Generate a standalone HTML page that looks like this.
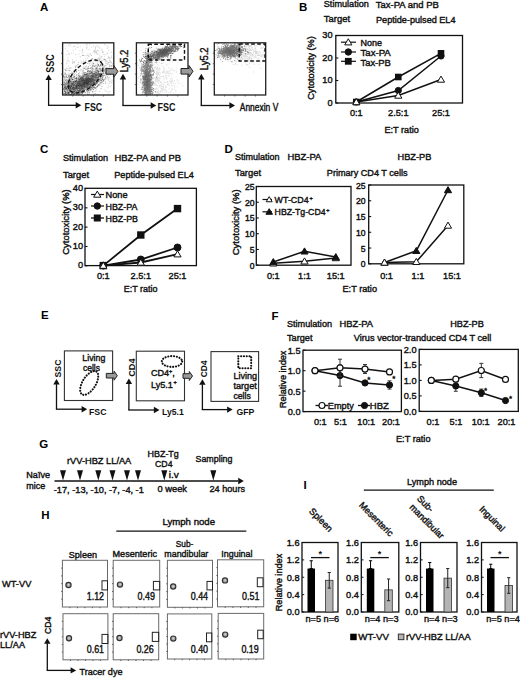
<!DOCTYPE html>
<html><head><meta charset="utf-8"><style>
html,body{margin:0;padding:0;background:#fff;}
svg{display:block;font-family:"Liberation Sans", sans-serif;}
</style></head><body>
<svg width="520" height="678" viewBox="0 0 520 678">
<defs>
<filter id="blur" x="-50%" y="-50%" width="200%" height="200%"><feGaussianBlur stdDeviation="2"/></filter>
<clipPath id="cb1"><rect x="62.6" y="42.8" width="51.199999999999996" height="52.2"/></clipPath>
<clipPath id="cb2"><rect x="136.4" y="42.8" width="51.599999999999994" height="52.2"/></clipPath>
<clipPath id="cb3"><rect x="214.3" y="42.8" width="51.39999999999998" height="52.2"/></clipPath>
</defs>
<rect width="520" height="678" fill="#fff"/>
<text x="40.00" y="10.50" font-size="11.5" text-anchor="start" font-weight="bold" fill="#000">A</text>
<text x="299.00" y="10.50" font-size="11.5" text-anchor="start" font-weight="bold" fill="#000">B</text>
<text x="40.00" y="153.20" font-size="11.5" text-anchor="start" font-weight="bold" fill="#000">C</text>
<text x="224.50" y="153.20" font-size="11.5" text-anchor="start" font-weight="bold" fill="#000">D</text>
<text x="41.00" y="318.80" font-size="11.5" text-anchor="start" font-weight="bold" fill="#000">E</text>
<text x="271.50" y="319.50" font-size="11.5" text-anchor="start" font-weight="bold" fill="#000">F</text>
<text x="39.30" y="448.30" font-size="11.5" text-anchor="start" font-weight="bold" fill="#000">G</text>
<text x="41.20" y="518.80" font-size="11.5" text-anchor="start" font-weight="bold" fill="#000">H</text>
<text x="303.60" y="488.80" font-size="11.5" text-anchor="start" font-weight="bold" fill="#000">I</text>
<g clip-path="url(#cb1)">
<path d="M82.4 73.3h0.9v0.9h-0.9zM83.0 55.1h0.9v0.9h-0.9zM67.5 57.3h0.9v0.9h-0.9zM112.5 71.3h0.9v0.9h-0.9zM110.8 67.5h0.9v0.9h-0.9zM96.7 66.1h0.9v0.9h-0.9zM99.1 73.0h0.9v0.9h-0.9zM68.4 51.7h0.9v0.9h-0.9zM94.7 61.0h0.9v0.9h-0.9zM99.5 47.9h0.9v0.9h-0.9zM94.8 70.7h0.9v0.9h-0.9zM100.2 88.3h0.9v0.9h-0.9zM74.4 45.7h0.9v0.9h-0.9zM80.4 59.7h0.9v0.9h-0.9zM101.9 67.5h0.9v0.9h-0.9zM76.5 88.9h0.9v0.9h-0.9zM70.2 67.4h0.9v0.9h-0.9zM89.1 90.7h0.9v0.9h-0.9zM85.7 44.0h0.9v0.9h-0.9zM98.9 60.6h0.9v0.9h-0.9zM102.7 82.8h0.9v0.9h-0.9zM101.5 48.5h0.9v0.9h-0.9zM66.7 50.3h0.9v0.9h-0.9zM95.9 45.8h0.9v0.9h-0.9zM63.4 83.5h0.9v0.9h-0.9zM112.2 65.5h0.9v0.9h-0.9zM93.4 71.6h0.9v0.9h-0.9zM99.4 74.1h0.9v0.9h-0.9zM109.0 73.7h0.9v0.9h-0.9zM84.0 84.4h0.9v0.9h-0.9zM100.1 58.7h0.9v0.9h-0.9zM95.1 76.3h0.9v0.9h-0.9zM90.6 87.2h0.9v0.9h-0.9zM73.4 52.9h0.9v0.9h-0.9zM110.9 62.6h0.9v0.9h-0.9zM68.6 82.8h0.9v0.9h-0.9zM84.7 55.4h0.9v0.9h-0.9zM70.7 75.9h0.9v0.9h-0.9zM112.8 80.9h0.9v0.9h-0.9zM95.6 65.1h0.9v0.9h-0.9zM91.4 74.7h0.9v0.9h-0.9zM84.1 68.1h0.9v0.9h-0.9zM100.6 62.0h0.9v0.9h-0.9zM104.8 74.4h0.9v0.9h-0.9zM78.6 53.8h0.9v0.9h-0.9zM87.7 82.3h0.9v0.9h-0.9zM80.6 70.5h0.9v0.9h-0.9zM63.3 67.4h0.9v0.9h-0.9zM96.8 67.2h0.9v0.9h-0.9zM78.5 76.4h0.9v0.9h-0.9zM94.2 50.5h0.9v0.9h-0.9zM75.8 59.8h0.9v0.9h-0.9zM83.0 60.6h0.9v0.9h-0.9zM86.5 83.0h0.9v0.9h-0.9zM106.8 94.8h0.9v0.9h-0.9zM80.5 75.7h0.9v0.9h-0.9zM91.9 88.3h0.9v0.9h-0.9zM84.7 66.2h0.9v0.9h-0.9zM105.5 65.1h0.9v0.9h-0.9zM111.1 55.5h0.9v0.9h-0.9zM108.1 56.2h0.9v0.9h-0.9zM90.9 77.5h0.9v0.9h-0.9zM92.9 76.1h0.9v0.9h-0.9zM109.7 58.1h0.9v0.9h-0.9zM85.9 48.7h0.9v0.9h-0.9zM96.8 71.0h0.9v0.9h-0.9zM113.0 94.7h0.9v0.9h-0.9zM71.6 84.4h0.9v0.9h-0.9zM90.5 64.7h0.9v0.9h-0.9zM95.0 48.6h0.9v0.9h-0.9zM87.8 80.3h0.9v0.9h-0.9zM89.7 91.2h0.9v0.9h-0.9zM86.7 84.9h0.9v0.9h-0.9zM73.2 81.4h0.9v0.9h-0.9zM83.8 61.4h0.9v0.9h-0.9zM75.0 67.1h0.9v0.9h-0.9zM99.7 84.0h0.9v0.9h-0.9zM75.8 85.6h0.9v0.9h-0.9zM110.2 79.4h0.9v0.9h-0.9zM88.2 79.7h0.9v0.9h-0.9zM108.3 49.6h0.9v0.9h-0.9zM68.1 45.0h0.9v0.9h-0.9zM103.9 55.9h0.9v0.9h-0.9zM94.4 51.9h0.9v0.9h-0.9zM105.2 78.4h0.9v0.9h-0.9zM102.7 69.2h0.9v0.9h-0.9zM107.7 90.8h0.9v0.9h-0.9zM81.5 51.7h0.9v0.9h-0.9zM67.6 77.2h0.9v0.9h-0.9zM100.3 81.9h0.9v0.9h-0.9zM68.1 60.0h0.9v0.9h-0.9zM94.4 80.2h0.9v0.9h-0.9zM87.2 57.7h0.9v0.9h-0.9zM65.6 54.1h0.9v0.9h-0.9zM107.6 64.2h0.9v0.9h-0.9zM69.2 43.5h0.9v0.9h-0.9zM101.7 72.6h0.9v0.9h-0.9zM86.5 73.5h0.9v0.9h-0.9zM95.1 46.6h0.9v0.9h-0.9zM94.4 66.0h0.9v0.9h-0.9zM68.8 67.7h0.9v0.9h-0.9zM86.7 73.5h0.9v0.9h-0.9zM72.0 59.3h0.9v0.9h-0.9zM98.1 70.3h0.9v0.9h-0.9zM102.0 66.6h0.9v0.9h-0.9zM80.9 79.4h0.9v0.9h-0.9zM89.1 43.8h0.9v0.9h-0.9zM74.2 62.0h0.9v0.9h-0.9zM85.6 65.5h0.9v0.9h-0.9zM88.0 65.9h0.9v0.9h-0.9zM97.3 85.2h0.9v0.9h-0.9zM97.6 57.8h0.9v0.9h-0.9zM67.5 78.3h0.9v0.9h-0.9zM71.2 73.5h0.9v0.9h-0.9zM98.9 65.9h0.9v0.9h-0.9zM87.5 75.1h0.9v0.9h-0.9zM84.7 78.1h0.9v0.9h-0.9zM81.5 85.5h0.9v0.9h-0.9zM101.1 82.0h0.9v0.9h-0.9zM80.4 81.2h0.9v0.9h-0.9zM109.6 62.1h0.9v0.9h-0.9zM95.9 86.9h0.9v0.9h-0.9zM105.2 62.5h0.9v0.9h-0.9zM106.8 73.9h0.9v0.9h-0.9zM92.5 63.2h0.9v0.9h-0.9zM82.6 77.1h0.9v0.9h-0.9zM64.8 48.2h0.9v0.9h-0.9zM73.0 74.5h0.9v0.9h-0.9zM100.5 60.8h0.9v0.9h-0.9zM105.2 82.6h0.9v0.9h-0.9zM88.7 67.5h0.9v0.9h-0.9zM101.9 77.4h0.9v0.9h-0.9zM86.2 62.1h0.9v0.9h-0.9zM83.6 55.2h0.9v0.9h-0.9zM86.6 45.3h0.9v0.9h-0.9zM103.4 69.8h0.9v0.9h-0.9zM86.1 47.2h0.9v0.9h-0.9zM66.4 62.8h0.9v0.9h-0.9zM82.5 55.1h0.9v0.9h-0.9zM98.1 75.5h0.9v0.9h-0.9zM87.2 43.3h0.9v0.9h-0.9zM84.8 60.6h0.9v0.9h-0.9zM104.2 68.5h0.9v0.9h-0.9zM79.8 45.7h0.9v0.9h-0.9zM63.5 59.4h0.9v0.9h-0.9zM77.2 64.3h0.9v0.9h-0.9zM99.5 52.9h0.9v0.9h-0.9zM112.2 64.7h0.9v0.9h-0.9zM71.5 67.4h0.9v0.9h-0.9zM95.1 90.2h0.9v0.9h-0.9zM104.9 82.8h0.9v0.9h-0.9zM99.2 58.6h0.9v0.9h-0.9zM83.1 62.4h0.9v0.9h-0.9zM113.6 62.6h0.9v0.9h-0.9zM70.2 67.7h0.9v0.9h-0.9zM100.8 77.6h0.9v0.9h-0.9zM93.9 52.6h0.9v0.9h-0.9zM102.8 51.4h0.9v0.9h-0.9zM72.7 77.8h0.9v0.9h-0.9zM73.1 79.9h0.9v0.9h-0.9zM86.9 68.8h0.9v0.9h-0.9zM88.1 79.3h0.9v0.9h-0.9zM73.8 61.0h0.9v0.9h-0.9zM86.7 55.1h0.9v0.9h-0.9zM86.4 68.8h0.9v0.9h-0.9zM98.3 56.9h0.9v0.9h-0.9zM68.1 65.5h0.9v0.9h-0.9zM104.9 59.5h0.9v0.9h-0.9zM77.6 46.5h0.9v0.9h-0.9zM67.4 54.2h0.9v0.9h-0.9zM94.5 73.3h0.9v0.9h-0.9zM72.5 62.3h0.9v0.9h-0.9zM76.5 65.7h0.9v0.9h-0.9zM91.4 71.0h0.9v0.9h-0.9zM82.7 70.1h0.9v0.9h-0.9zM89.2 79.0h0.9v0.9h-0.9zM65.0 75.8h0.9v0.9h-0.9zM73.7 76.0h0.9v0.9h-0.9zM104.4 68.7h0.9v0.9h-0.9zM99.2 59.7h0.9v0.9h-0.9zM98.0 50.4h0.9v0.9h-0.9zM85.8 78.5h0.9v0.9h-0.9zM68.7 76.1h0.9v0.9h-0.9zM91.2 58.7h0.9v0.9h-0.9zM107.8 46.8h0.9v0.9h-0.9zM87.6 61.8h0.9v0.9h-0.9zM104.4 59.1h0.9v0.9h-0.9zM97.9 70.1h0.9v0.9h-0.9zM76.6 47.2h0.9v0.9h-0.9zM99.6 74.1h0.9v0.9h-0.9zM94.4 67.4h0.9v0.9h-0.9zM76.1 72.1h0.9v0.9h-0.9zM85.4 60.1h0.9v0.9h-0.9zM80.2 85.2h0.9v0.9h-0.9zM106.6 45.3h0.9v0.9h-0.9zM89.6 78.5h0.9v0.9h-0.9zM86.4 66.3h0.9v0.9h-0.9zM73.1 70.2h0.9v0.9h-0.9zM88.8 67.7h0.9v0.9h-0.9zM75.9 81.6h0.9v0.9h-0.9zM82.0 48.7h0.9v0.9h-0.9zM73.1 61.5h0.9v0.9h-0.9zM106.7 58.4h0.9v0.9h-0.9zM94.8 47.6h0.9v0.9h-0.9zM73.8 62.4h0.9v0.9h-0.9zM91.8 84.5h0.9v0.9h-0.9zM101.3 79.5h0.9v0.9h-0.9zM92.5 67.6h0.9v0.9h-0.9zM108.4 70.1h0.9v0.9h-0.9zM105.9 53.8h0.9v0.9h-0.9zM87.9 56.4h0.9v0.9h-0.9zM77.0 43.6h0.9v0.9h-0.9zM74.1 76.1h0.9v0.9h-0.9zM88.8 63.5h0.9v0.9h-0.9zM84.2 82.1h0.9v0.9h-0.9zM98.9 58.9h0.9v0.9h-0.9zM102.6 58.7h0.9v0.9h-0.9zM62.6 94.0h0.9v0.9h-0.9zM111.7 69.6h0.9v0.9h-0.9zM95.3 81.6h0.9v0.9h-0.9zM92.4 58.7h0.9v0.9h-0.9zM88.7 55.7h0.9v0.9h-0.9zM95.7 63.7h0.9v0.9h-0.9zM102.9 53.8h0.9v0.9h-0.9zM78.7 76.9h0.9v0.9h-0.9zM80.8 78.1h0.9v0.9h-0.9zM92.6 60.3h0.9v0.9h-0.9zM90.5 86.9h0.9v0.9h-0.9zM75.3 72.9h0.9v0.9h-0.9zM64.8 72.9h0.9v0.9h-0.9zM100.6 55.9h0.9v0.9h-0.9zM72.7 49.8h0.9v0.9h-0.9zM79.2 80.9h0.9v0.9h-0.9zM89.8 53.3h0.9v0.9h-0.9zM88.1 70.0h0.9v0.9h-0.9zM87.1 71.2h0.9v0.9h-0.9zM109.2 76.7h0.9v0.9h-0.9zM90.3 84.7h0.9v0.9h-0.9zM82.3 52.4h0.9v0.9h-0.9zM97.9 46.6h0.9v0.9h-0.9zM68.6 53.3h0.9v0.9h-0.9zM86.9 47.4h0.9v0.9h-0.9zM88.3 78.5h0.9v0.9h-0.9zM70.8 52.8h0.9v0.9h-0.9zM72.1 61.3h0.9v0.9h-0.9zM98.2 61.4h0.9v0.9h-0.9zM105.8 66.6h0.9v0.9h-0.9zM98.4 71.7h0.9v0.9h-0.9zM107.2 53.0h0.9v0.9h-0.9zM104.0 44.1h0.9v0.9h-0.9zM97.8 58.5h0.9v0.9h-0.9zM62.8 44.6h0.9v0.9h-0.9zM92.3 82.7h0.9v0.9h-0.9zM97.4 73.5h0.9v0.9h-0.9zM87.1 91.7h0.9v0.9h-0.9zM79.4 49.9h0.9v0.9h-0.9zM107.5 63.4h0.9v0.9h-0.9zM81.9 49.3h0.9v0.9h-0.9zM82.3 75.7h0.9v0.9h-0.9zM97.4 65.9h0.9v0.9h-0.9zM66.0 79.0h0.9v0.9h-0.9zM81.8 54.6h0.9v0.9h-0.9zM105.5 91.1h0.9v0.9h-0.9zM72.9 71.6h0.9v0.9h-0.9zM77.1 88.3h0.9v0.9h-0.9zM73.8 79.8h0.9v0.9h-0.9zM78.4 73.0h0.9v0.9h-0.9zM86.0 47.3h0.9v0.9h-0.9zM75.3 65.2h0.9v0.9h-0.9zM70.1 80.9h0.9v0.9h-0.9zM98.9 76.2h0.9v0.9h-0.9zM107.8 78.1h0.9v0.9h-0.9zM91.7 72.8h0.9v0.9h-0.9zM80.8 62.8h0.9v0.9h-0.9zM107.5 52.2h0.9v0.9h-0.9zM113.2 44.7h0.9v0.9h-0.9zM93.9 50.4h0.9v0.9h-0.9zM91.5 46.8h0.9v0.9h-0.9zM94.7 49.7h0.9v0.9h-0.9zM92.4 83.8h0.9v0.9h-0.9zM66.5 59.6h0.9v0.9h-0.9zM99.9 73.6h0.9v0.9h-0.9zM88.3 55.9h0.9v0.9h-0.9zM93.8 52.6h0.9v0.9h-0.9zM65.5 45.7h0.9v0.9h-0.9zM74.9 48.5h0.9v0.9h-0.9zM65.7 69.8h0.9v0.9h-0.9zM71.9 63.1h0.9v0.9h-0.9zM74.6 65.6h0.9v0.9h-0.9zM77.7 63.8h0.9v0.9h-0.9zM104.1 78.9h0.9v0.9h-0.9zM107.9 74.9h0.9v0.9h-0.9zM81.7 61.6h0.9v0.9h-0.9zM82.0 55.1h0.9v0.9h-0.9zM80.7 61.5h0.9v0.9h-0.9zM66.6 61.5h0.9v0.9h-0.9zM99.3 58.4h0.9v0.9h-0.9zM99.4 55.3h0.9v0.9h-0.9zM106.7 70.2h0.9v0.9h-0.9zM88.5 49.1h0.9v0.9h-0.9zM102.0 51.3h0.9v0.9h-0.9zM92.9 50.8h0.9v0.9h-0.9zM92.4 78.6h0.9v0.9h-0.9zM68.7 61.3h0.9v0.9h-0.9zM101.6 65.2h0.9v0.9h-0.9zM108.3 79.9h0.9v0.9h-0.9zM74.4 46.3h0.9v0.9h-0.9zM72.9 46.0h0.9v0.9h-0.9zM93.1 45.5h0.9v0.9h-0.9zM64.1 90.8h0.9v0.9h-0.9zM75.2 66.9h0.9v0.9h-0.9zM87.7 55.1h0.9v0.9h-0.9zM95.1 46.8h0.9v0.9h-0.9zM87.5 63.2h0.9v0.9h-0.9zM100.2 64.6h0.9v0.9h-0.9zM70.5 46.4h0.9v0.9h-0.9zM98.7 73.7h0.9v0.9h-0.9zM85.3 58.2h0.9v0.9h-0.9zM108.6 62.3h0.9v0.9h-0.9zM104.2 74.8h0.9v0.9h-0.9zM92.7 90.7h0.9v0.9h-0.9zM75.4 54.1h0.9v0.9h-0.9zM70.2 44.5h0.9v0.9h-0.9zM88.5 74.5h0.9v0.9h-0.9zM73.9 72.0h0.9v0.9h-0.9zM69.1 54.2h0.9v0.9h-0.9z" fill="#000" opacity="0.2"/>
<path d="M80.3 74.8h0.9v0.9h-0.9zM113.5 54.4h0.9v0.9h-0.9zM107.7 92.5h0.9v0.9h-0.9zM88.3 84.7h0.9v0.9h-0.9zM101.5 68.0h0.9v0.9h-0.9zM108.8 81.2h0.9v0.9h-0.9zM73.5 89.3h0.9v0.9h-0.9zM95.3 67.8h0.9v0.9h-0.9zM95.0 84.6h0.9v0.9h-0.9zM90.9 58.9h0.9v0.9h-0.9zM88.1 66.2h0.9v0.9h-0.9zM87.9 66.6h0.9v0.9h-0.9zM98.7 78.1h0.9v0.9h-0.9zM97.1 77.0h0.9v0.9h-0.9zM74.9 66.8h0.9v0.9h-0.9zM87.9 70.7h0.9v0.9h-0.9zM78.1 82.5h0.9v0.9h-0.9zM92.5 62.3h0.9v0.9h-0.9zM101.2 88.1h0.9v0.9h-0.9zM104.2 66.7h0.9v0.9h-0.9zM96.2 72.7h0.9v0.9h-0.9zM98.5 81.5h0.9v0.9h-0.9zM79.8 56.3h0.9v0.9h-0.9zM89.6 67.9h0.9v0.9h-0.9zM101.1 63.3h0.9v0.9h-0.9zM109.7 91.3h0.9v0.9h-0.9zM73.1 76.6h0.9v0.9h-0.9zM74.9 66.3h0.9v0.9h-0.9zM81.5 80.0h0.9v0.9h-0.9zM107.7 82.7h0.9v0.9h-0.9zM98.2 75.0h0.9v0.9h-0.9zM93.0 82.0h0.9v0.9h-0.9zM99.5 72.5h0.9v0.9h-0.9zM80.0 69.3h0.9v0.9h-0.9zM78.3 67.9h0.9v0.9h-0.9zM97.2 50.2h0.9v0.9h-0.9zM105.3 73.0h0.9v0.9h-0.9zM99.0 74.3h0.9v0.9h-0.9zM102.0 51.9h0.9v0.9h-0.9zM68.7 76.4h0.9v0.9h-0.9zM83.3 75.8h0.9v0.9h-0.9zM101.9 73.4h0.9v0.9h-0.9zM91.6 69.1h0.9v0.9h-0.9zM93.9 87.4h0.9v0.9h-0.9zM106.8 67.9h0.9v0.9h-0.9zM99.2 91.1h0.9v0.9h-0.9zM90.0 86.4h0.9v0.9h-0.9zM110.5 60.9h0.9v0.9h-0.9zM100.8 57.3h0.9v0.9h-0.9zM111.1 66.2h0.9v0.9h-0.9zM89.2 94.7h0.9v0.9h-0.9zM84.0 80.7h0.9v0.9h-0.9zM97.3 69.4h0.9v0.9h-0.9zM95.7 67.8h0.9v0.9h-0.9zM104.9 68.1h0.9v0.9h-0.9zM82.3 50.3h0.9v0.9h-0.9zM112.3 63.3h0.9v0.9h-0.9zM69.3 94.2h0.9v0.9h-0.9zM108.0 78.9h0.9v0.9h-0.9zM96.7 82.1h0.9v0.9h-0.9zM83.2 69.6h0.9v0.9h-0.9zM77.0 67.3h0.9v0.9h-0.9zM81.5 76.2h0.9v0.9h-0.9zM86.3 88.2h0.9v0.9h-0.9zM98.3 69.4h0.9v0.9h-0.9zM96.7 72.0h0.9v0.9h-0.9zM102.5 79.0h0.9v0.9h-0.9zM105.2 59.5h0.9v0.9h-0.9zM103.0 82.9h0.9v0.9h-0.9zM68.9 89.3h0.9v0.9h-0.9zM87.1 62.9h0.9v0.9h-0.9zM91.5 86.3h0.9v0.9h-0.9zM74.2 72.4h0.9v0.9h-0.9zM108.1 77.3h0.9v0.9h-0.9zM90.4 62.3h0.9v0.9h-0.9zM111.1 73.4h0.9v0.9h-0.9zM100.4 65.3h0.9v0.9h-0.9zM104.0 78.3h0.9v0.9h-0.9zM76.2 65.7h0.9v0.9h-0.9zM102.6 75.5h0.9v0.9h-0.9zM100.3 82.1h0.9v0.9h-0.9zM85.9 80.4h0.9v0.9h-0.9zM93.8 82.8h0.9v0.9h-0.9zM110.0 71.6h0.9v0.9h-0.9zM87.3 67.5h0.9v0.9h-0.9zM109.7 81.1h0.9v0.9h-0.9zM105.3 73.0h0.9v0.9h-0.9zM93.0 78.5h0.9v0.9h-0.9zM82.6 70.2h0.9v0.9h-0.9zM79.2 76.0h0.9v0.9h-0.9zM113.7 74.8h0.9v0.9h-0.9zM104.8 61.1h0.9v0.9h-0.9zM68.8 84.2h0.9v0.9h-0.9zM87.6 84.3h0.9v0.9h-0.9zM78.1 62.1h0.9v0.9h-0.9zM89.6 60.0h0.9v0.9h-0.9zM101.4 55.8h0.9v0.9h-0.9zM79.9 75.2h0.9v0.9h-0.9zM94.4 91.2h0.9v0.9h-0.9zM111.0 71.1h0.9v0.9h-0.9zM90.8 59.0h0.9v0.9h-0.9zM84.2 75.9h0.9v0.9h-0.9zM83.5 89.3h0.9v0.9h-0.9zM80.0 76.8h0.9v0.9h-0.9zM67.8 68.9h0.9v0.9h-0.9zM111.4 79.8h0.9v0.9h-0.9zM92.0 65.2h0.9v0.9h-0.9zM109.1 59.8h0.9v0.9h-0.9zM70.0 87.5h0.9v0.9h-0.9zM73.4 88.8h0.9v0.9h-0.9zM97.4 60.3h0.9v0.9h-0.9zM109.0 83.2h0.9v0.9h-0.9zM93.4 79.4h0.9v0.9h-0.9zM98.5 84.8h0.9v0.9h-0.9zM110.8 65.0h0.9v0.9h-0.9zM91.7 85.0h0.9v0.9h-0.9zM108.2 85.6h0.9v0.9h-0.9zM109.2 59.6h0.9v0.9h-0.9zM110.3 85.8h0.9v0.9h-0.9zM89.6 84.1h0.9v0.9h-0.9zM95.1 58.8h0.9v0.9h-0.9zM77.8 90.0h0.9v0.9h-0.9zM88.8 93.2h0.9v0.9h-0.9zM96.8 53.4h0.9v0.9h-0.9zM83.9 84.8h0.9v0.9h-0.9zM86.8 78.8h0.9v0.9h-0.9zM97.3 63.5h0.9v0.9h-0.9zM98.2 65.0h0.9v0.9h-0.9zM90.0 85.0h0.9v0.9h-0.9zM88.2 83.3h0.9v0.9h-0.9zM97.1 82.5h0.9v0.9h-0.9zM95.8 87.6h0.9v0.9h-0.9zM79.6 93.3h0.9v0.9h-0.9zM82.9 73.7h0.9v0.9h-0.9zM110.8 52.0h0.9v0.9h-0.9zM92.5 75.1h0.9v0.9h-0.9zM85.2 74.2h0.9v0.9h-0.9zM103.5 73.1h0.9v0.9h-0.9zM107.5 87.3h0.9v0.9h-0.9zM92.9 82.3h0.9v0.9h-0.9zM110.8 51.7h0.9v0.9h-0.9zM68.7 80.0h0.9v0.9h-0.9zM69.1 70.6h0.9v0.9h-0.9zM91.0 55.1h0.9v0.9h-0.9zM110.7 81.8h0.9v0.9h-0.9zM69.4 89.1h0.9v0.9h-0.9zM82.6 80.4h0.9v0.9h-0.9zM98.9 78.9h0.9v0.9h-0.9zM90.0 78.7h0.9v0.9h-0.9zM87.6 81.6h0.9v0.9h-0.9zM78.1 87.6h0.9v0.9h-0.9zM63.7 90.9h0.9v0.9h-0.9zM77.9 90.1h0.9v0.9h-0.9zM71.2 71.5h0.9v0.9h-0.9zM88.4 88.6h0.9v0.9h-0.9zM100.1 70.2h0.9v0.9h-0.9zM75.2 75.7h0.9v0.9h-0.9zM68.9 67.5h0.9v0.9h-0.9zM77.6 86.2h0.9v0.9h-0.9zM97.2 71.5h0.9v0.9h-0.9zM83.0 66.6h0.9v0.9h-0.9zM88.7 89.7h0.9v0.9h-0.9zM68.5 90.2h0.9v0.9h-0.9zM104.8 80.8h0.9v0.9h-0.9zM81.9 91.5h0.9v0.9h-0.9zM96.5 65.0h0.9v0.9h-0.9zM96.9 62.7h0.9v0.9h-0.9zM83.2 83.1h0.9v0.9h-0.9zM71.9 73.3h0.9v0.9h-0.9zM93.1 85.6h0.9v0.9h-0.9zM96.3 89.5h0.9v0.9h-0.9zM70.4 76.2h0.9v0.9h-0.9zM104.2 58.5h0.9v0.9h-0.9zM108.4 68.8h0.9v0.9h-0.9zM104.7 68.5h0.9v0.9h-0.9zM109.1 57.2h0.9v0.9h-0.9zM72.3 72.8h0.9v0.9h-0.9zM107.9 57.0h0.9v0.9h-0.9zM74.2 78.1h0.9v0.9h-0.9zM81.1 69.2h0.9v0.9h-0.9zM87.1 72.9h0.9v0.9h-0.9zM81.4 72.8h0.9v0.9h-0.9zM92.9 70.8h0.9v0.9h-0.9zM98.1 75.9h0.9v0.9h-0.9zM87.5 53.6h0.9v0.9h-0.9zM82.5 74.0h0.9v0.9h-0.9zM97.4 54.1h0.9v0.9h-0.9zM82.8 80.0h0.9v0.9h-0.9zM95.7 86.6h0.9v0.9h-0.9zM94.0 87.5h0.9v0.9h-0.9zM63.0 75.3h0.9v0.9h-0.9zM102.9 71.0h0.9v0.9h-0.9zM95.2 60.0h0.9v0.9h-0.9zM105.9 60.8h0.9v0.9h-0.9zM110.0 65.5h0.9v0.9h-0.9zM110.8 62.2h0.9v0.9h-0.9zM90.6 81.1h0.9v0.9h-0.9zM85.6 74.9h0.9v0.9h-0.9zM97.3 75.1h0.9v0.9h-0.9zM97.7 74.8h0.9v0.9h-0.9zM88.7 70.5h0.9v0.9h-0.9zM90.3 70.4h0.9v0.9h-0.9zM77.4 63.9h0.9v0.9h-0.9zM91.8 72.1h0.9v0.9h-0.9zM72.5 76.9h0.9v0.9h-0.9zM93.7 74.1h0.9v0.9h-0.9zM95.3 70.2h0.9v0.9h-0.9zM94.7 93.5h0.9v0.9h-0.9zM90.0 78.9h0.9v0.9h-0.9zM87.6 92.0h0.9v0.9h-0.9zM77.7 94.0h0.9v0.9h-0.9zM87.4 93.6h0.9v0.9h-0.9zM80.1 76.2h0.9v0.9h-0.9zM81.9 80.1h0.9v0.9h-0.9zM76.7 65.9h0.9v0.9h-0.9zM91.9 91.7h0.9v0.9h-0.9zM81.9 78.0h0.9v0.9h-0.9zM85.1 94.9h0.9v0.9h-0.9zM94.9 65.8h0.9v0.9h-0.9zM106.6 67.0h0.9v0.9h-0.9zM81.2 92.2h0.9v0.9h-0.9zM96.4 50.6h0.9v0.9h-0.9zM95.5 51.9h0.9v0.9h-0.9zM82.4 79.6h0.9v0.9h-0.9zM102.5 51.9h0.9v0.9h-0.9zM70.3 67.5h0.9v0.9h-0.9zM93.4 80.3h0.9v0.9h-0.9zM66.7 87.6h0.9v0.9h-0.9zM111.6 82.7h0.9v0.9h-0.9zM103.0 65.7h0.9v0.9h-0.9zM72.3 79.5h0.9v0.9h-0.9zM86.0 83.1h0.9v0.9h-0.9zM103.8 89.2h0.9v0.9h-0.9zM93.1 63.3h0.9v0.9h-0.9zM92.4 68.0h0.9v0.9h-0.9zM103.8 59.0h0.9v0.9h-0.9zM76.7 90.2h0.9v0.9h-0.9zM102.1 77.4h0.9v0.9h-0.9zM112.7 79.8h0.9v0.9h-0.9zM88.2 91.7h0.9v0.9h-0.9zM84.4 90.9h0.9v0.9h-0.9zM99.0 75.1h0.9v0.9h-0.9zM109.2 64.9h0.9v0.9h-0.9zM93.7 69.0h0.9v0.9h-0.9zM80.9 78.5h0.9v0.9h-0.9zM91.9 76.9h0.9v0.9h-0.9zM101.4 60.0h0.9v0.9h-0.9zM82.7 79.7h0.9v0.9h-0.9zM91.9 64.5h0.9v0.9h-0.9zM97.5 44.7h0.9v0.9h-0.9zM96.5 77.3h0.9v0.9h-0.9zM101.3 78.0h0.9v0.9h-0.9zM100.1 73.4h0.9v0.9h-0.9zM63.0 88.7h0.9v0.9h-0.9zM98.4 70.2h0.9v0.9h-0.9zM79.6 78.7h0.9v0.9h-0.9zM101.5 86.2h0.9v0.9h-0.9zM82.9 72.8h0.9v0.9h-0.9zM87.8 82.3h0.9v0.9h-0.9zM97.3 76.8h0.9v0.9h-0.9zM99.8 83.0h0.9v0.9h-0.9zM95.9 71.2h0.9v0.9h-0.9zM91.5 58.8h0.9v0.9h-0.9zM103.8 71.1h0.9v0.9h-0.9zM82.5 54.9h0.9v0.9h-0.9zM85.2 72.7h0.9v0.9h-0.9zM68.9 82.1h0.9v0.9h-0.9zM108.4 72.3h0.9v0.9h-0.9zM97.6 79.4h0.9v0.9h-0.9zM86.5 81.8h0.9v0.9h-0.9zM98.8 79.1h0.9v0.9h-0.9zM93.1 74.5h0.9v0.9h-0.9zM89.3 71.1h0.9v0.9h-0.9zM106.8 47.8h0.9v0.9h-0.9zM110.1 74.7h0.9v0.9h-0.9zM99.6 57.4h0.9v0.9h-0.9zM83.7 86.2h0.9v0.9h-0.9zM96.6 61.4h0.9v0.9h-0.9zM87.0 75.7h0.9v0.9h-0.9zM97.8 77.1h0.9v0.9h-0.9zM83.7 67.8h0.9v0.9h-0.9zM99.3 84.5h0.9v0.9h-0.9zM105.3 75.8h0.9v0.9h-0.9zM97.7 63.8h0.9v0.9h-0.9zM109.3 77.4h0.9v0.9h-0.9zM86.6 73.6h0.9v0.9h-0.9zM83.7 84.3h0.9v0.9h-0.9zM98.4 80.8h0.9v0.9h-0.9zM107.7 71.9h0.9v0.9h-0.9zM97.8 70.5h0.9v0.9h-0.9zM88.5 69.5h0.9v0.9h-0.9zM97.5 73.0h0.9v0.9h-0.9zM94.8 64.7h0.9v0.9h-0.9zM95.9 75.0h0.9v0.9h-0.9zM97.8 60.1h0.9v0.9h-0.9zM106.8 78.7h0.9v0.9h-0.9zM101.7 65.8h0.9v0.9h-0.9zM86.4 78.1h0.9v0.9h-0.9zM89.0 71.4h0.9v0.9h-0.9zM101.7 72.8h0.9v0.9h-0.9zM77.4 78.3h0.9v0.9h-0.9zM97.4 81.6h0.9v0.9h-0.9zM71.6 79.0h0.9v0.9h-0.9zM95.3 59.8h0.9v0.9h-0.9zM98.6 76.8h0.9v0.9h-0.9zM87.5 67.8h0.9v0.9h-0.9zM92.2 72.9h0.9v0.9h-0.9zM95.1 64.7h0.9v0.9h-0.9zM101.5 50.0h0.9v0.9h-0.9zM92.4 76.9h0.9v0.9h-0.9zM105.7 60.1h0.9v0.9h-0.9zM99.8 64.7h0.9v0.9h-0.9zM91.6 82.8h0.9v0.9h-0.9zM86.9 92.5h0.9v0.9h-0.9zM113.1 62.8h0.9v0.9h-0.9zM80.6 90.0h0.9v0.9h-0.9zM96.5 51.6h0.9v0.9h-0.9zM93.1 93.7h0.9v0.9h-0.9zM109.6 60.7h0.9v0.9h-0.9zM76.3 86.8h0.9v0.9h-0.9zM91.8 76.7h0.9v0.9h-0.9zM104.4 66.6h0.9v0.9h-0.9zM100.3 76.5h0.9v0.9h-0.9zM105.5 90.2h0.9v0.9h-0.9zM102.0 71.1h0.9v0.9h-0.9zM88.4 72.0h0.9v0.9h-0.9zM75.9 81.5h0.9v0.9h-0.9zM90.4 72.8h0.9v0.9h-0.9zM104.3 54.3h0.9v0.9h-0.9zM103.1 71.1h0.9v0.9h-0.9zM77.9 87.5h0.9v0.9h-0.9zM96.5 80.1h0.9v0.9h-0.9zM90.1 82.1h0.9v0.9h-0.9zM64.2 83.3h0.9v0.9h-0.9zM112.5 75.4h0.9v0.9h-0.9zM91.4 70.2h0.9v0.9h-0.9zM99.0 46.7h0.9v0.9h-0.9zM87.1 88.8h0.9v0.9h-0.9zM98.7 59.8h0.9v0.9h-0.9zM92.1 66.1h0.9v0.9h-0.9zM101.0 81.8h0.9v0.9h-0.9zM94.0 50.3h0.9v0.9h-0.9zM96.2 52.5h0.9v0.9h-0.9zM101.1 83.5h0.9v0.9h-0.9zM81.5 75.8h0.9v0.9h-0.9zM89.1 78.2h0.9v0.9h-0.9zM81.8 90.1h0.9v0.9h-0.9zM103.4 70.0h0.9v0.9h-0.9zM111.1 57.0h0.9v0.9h-0.9zM95.0 51.3h0.9v0.9h-0.9zM96.9 71.5h0.9v0.9h-0.9zM84.2 75.1h0.9v0.9h-0.9zM85.7 72.7h0.9v0.9h-0.9zM83.9 76.4h0.9v0.9h-0.9zM78.6 84.8h0.9v0.9h-0.9zM105.1 64.9h0.9v0.9h-0.9zM95.5 91.2h0.9v0.9h-0.9zM110.2 60.4h0.9v0.9h-0.9zM99.5 85.5h0.9v0.9h-0.9zM86.1 79.7h0.9v0.9h-0.9zM102.7 74.2h0.9v0.9h-0.9zM96.6 85.9h0.9v0.9h-0.9zM96.5 82.8h0.9v0.9h-0.9zM99.2 57.9h0.9v0.9h-0.9zM72.1 83.5h0.9v0.9h-0.9zM110.6 82.4h0.9v0.9h-0.9zM78.7 90.1h0.9v0.9h-0.9zM78.2 77.8h0.9v0.9h-0.9zM94.9 83.5h0.9v0.9h-0.9zM104.9 82.5h0.9v0.9h-0.9zM85.6 92.5h0.9v0.9h-0.9zM109.1 66.0h0.9v0.9h-0.9zM98.8 65.5h0.9v0.9h-0.9zM76.6 82.9h0.9v0.9h-0.9zM97.3 93.5h0.9v0.9h-0.9zM99.8 75.5h0.9v0.9h-0.9zM101.5 60.9h0.9v0.9h-0.9zM110.7 68.6h0.9v0.9h-0.9zM105.7 73.0h0.9v0.9h-0.9zM106.8 75.8h0.9v0.9h-0.9zM88.6 94.1h0.9v0.9h-0.9zM66.2 79.3h0.9v0.9h-0.9zM96.5 60.7h0.9v0.9h-0.9zM83.8 62.7h0.9v0.9h-0.9zM89.5 65.0h0.9v0.9h-0.9zM91.3 58.9h0.9v0.9h-0.9zM100.1 68.2h0.9v0.9h-0.9zM95.6 73.8h0.9v0.9h-0.9zM89.3 62.8h0.9v0.9h-0.9zM78.6 80.9h0.9v0.9h-0.9zM89.9 54.3h0.9v0.9h-0.9zM80.2 77.9h0.9v0.9h-0.9zM81.3 88.6h0.9v0.9h-0.9zM88.2 69.7h0.9v0.9h-0.9z" fill="#000" opacity="0.22"/>
<path d="M78.4 89.8h0.9v0.9h-0.9zM80.7 87.6h0.9v0.9h-0.9zM85.1 74.1h0.9v0.9h-0.9zM76.1 87.7h0.9v0.9h-0.9zM89.3 83.4h0.9v0.9h-0.9zM93.6 82.1h0.9v0.9h-0.9zM81.5 83.6h0.9v0.9h-0.9zM90.6 77.4h0.9v0.9h-0.9zM90.7 72.3h0.9v0.9h-0.9zM90.0 78.8h0.9v0.9h-0.9zM87.6 81.1h0.9v0.9h-0.9zM75.3 86.1h0.9v0.9h-0.9zM95.9 72.6h0.9v0.9h-0.9zM74.9 87.8h0.9v0.9h-0.9zM80.0 81.4h0.9v0.9h-0.9zM80.1 89.9h0.9v0.9h-0.9zM78.4 81.5h0.9v0.9h-0.9zM92.5 80.6h0.9v0.9h-0.9zM77.8 89.9h0.9v0.9h-0.9zM68.1 88.2h0.9v0.9h-0.9zM93.8 76.3h0.9v0.9h-0.9zM75.3 90.4h0.9v0.9h-0.9zM92.5 78.1h0.9v0.9h-0.9zM69.5 89.9h0.9v0.9h-0.9zM89.9 83.0h0.9v0.9h-0.9zM99.8 72.9h0.9v0.9h-0.9zM81.0 84.7h0.9v0.9h-0.9zM93.1 73.7h0.9v0.9h-0.9zM90.5 67.3h0.9v0.9h-0.9zM90.3 76.5h0.9v0.9h-0.9zM90.1 82.6h0.9v0.9h-0.9zM75.1 87.8h0.9v0.9h-0.9zM88.1 83.3h0.9v0.9h-0.9zM75.5 83.7h0.9v0.9h-0.9zM83.0 82.7h0.9v0.9h-0.9zM74.5 92.7h0.9v0.9h-0.9zM83.3 89.8h0.9v0.9h-0.9zM92.0 78.5h0.9v0.9h-0.9zM88.9 75.4h0.9v0.9h-0.9zM81.2 82.2h0.9v0.9h-0.9zM74.6 88.6h0.9v0.9h-0.9zM86.5 87.9h0.9v0.9h-0.9zM76.6 85.3h0.9v0.9h-0.9zM89.2 81.8h0.9v0.9h-0.9zM84.3 80.8h0.9v0.9h-0.9zM89.8 81.3h0.9v0.9h-0.9zM69.3 90.4h0.9v0.9h-0.9zM71.4 85.1h0.9v0.9h-0.9zM86.3 82.0h0.9v0.9h-0.9zM84.3 79.1h0.9v0.9h-0.9zM81.6 80.5h0.9v0.9h-0.9zM89.5 83.0h0.9v0.9h-0.9zM101.8 78.3h0.9v0.9h-0.9zM77.5 84.8h0.9v0.9h-0.9zM77.9 88.0h0.9v0.9h-0.9zM102.6 75.4h0.9v0.9h-0.9zM64.5 88.8h0.9v0.9h-0.9zM75.3 90.3h0.9v0.9h-0.9zM85.6 83.5h0.9v0.9h-0.9zM98.1 71.3h0.9v0.9h-0.9zM81.8 93.0h0.9v0.9h-0.9zM86.3 78.3h0.9v0.9h-0.9zM65.4 87.1h0.9v0.9h-0.9zM65.0 94.3h0.9v0.9h-0.9zM87.2 85.6h0.9v0.9h-0.9zM82.5 80.9h0.9v0.9h-0.9zM82.5 92.3h0.9v0.9h-0.9zM70.8 91.5h0.9v0.9h-0.9zM86.4 84.4h0.9v0.9h-0.9zM82.6 86.1h0.9v0.9h-0.9zM91.4 78.1h0.9v0.9h-0.9zM80.9 84.1h0.9v0.9h-0.9zM76.7 86.4h0.9v0.9h-0.9zM82.9 84.6h0.9v0.9h-0.9zM98.5 80.5h0.9v0.9h-0.9zM82.5 86.6h0.9v0.9h-0.9zM88.9 83.6h0.9v0.9h-0.9zM85.7 83.3h0.9v0.9h-0.9zM79.7 82.1h0.9v0.9h-0.9zM94.6 82.6h0.9v0.9h-0.9zM91.3 80.8h0.9v0.9h-0.9zM86.3 79.8h0.9v0.9h-0.9zM71.6 93.2h0.9v0.9h-0.9zM85.6 79.7h0.9v0.9h-0.9zM79.5 91.3h0.9v0.9h-0.9zM94.8 87.3h0.9v0.9h-0.9zM79.1 85.8h0.9v0.9h-0.9zM81.1 85.4h0.9v0.9h-0.9zM81.9 81.0h0.9v0.9h-0.9zM92.4 74.8h0.9v0.9h-0.9zM81.9 86.7h0.9v0.9h-0.9zM79.8 83.6h0.9v0.9h-0.9zM87.2 79.6h0.9v0.9h-0.9zM74.5 88.1h0.9v0.9h-0.9zM86.4 89.2h0.9v0.9h-0.9zM77.8 90.9h0.9v0.9h-0.9zM77.9 85.1h0.9v0.9h-0.9zM82.8 84.9h0.9v0.9h-0.9zM95.4 84.2h0.9v0.9h-0.9zM82.3 89.9h0.9v0.9h-0.9zM94.7 80.4h0.9v0.9h-0.9zM80.5 89.1h0.9v0.9h-0.9zM84.8 84.2h0.9v0.9h-0.9zM84.0 86.0h0.9v0.9h-0.9zM96.3 80.9h0.9v0.9h-0.9zM85.2 86.8h0.9v0.9h-0.9zM95.2 72.5h0.9v0.9h-0.9zM94.6 71.1h0.9v0.9h-0.9zM90.6 81.9h0.9v0.9h-0.9zM97.7 76.4h0.9v0.9h-0.9zM79.5 82.2h0.9v0.9h-0.9zM76.2 91.0h0.9v0.9h-0.9zM81.7 81.3h0.9v0.9h-0.9zM87.9 77.5h0.9v0.9h-0.9zM80.5 83.1h0.9v0.9h-0.9zM101.4 79.5h0.9v0.9h-0.9zM80.7 78.1h0.9v0.9h-0.9zM87.4 81.4h0.9v0.9h-0.9zM88.9 82.7h0.9v0.9h-0.9zM84.1 87.1h0.9v0.9h-0.9zM92.3 79.2h0.9v0.9h-0.9zM80.7 82.8h0.9v0.9h-0.9zM88.6 75.6h0.9v0.9h-0.9zM82.3 80.8h0.9v0.9h-0.9zM74.7 91.1h0.9v0.9h-0.9zM84.9 82.7h0.9v0.9h-0.9zM89.4 73.4h0.9v0.9h-0.9zM85.0 83.8h0.9v0.9h-0.9zM89.8 75.0h0.9v0.9h-0.9zM91.3 79.8h0.9v0.9h-0.9zM98.3 79.8h0.9v0.9h-0.9zM93.6 87.0h0.9v0.9h-0.9zM84.2 81.1h0.9v0.9h-0.9zM80.4 81.0h0.9v0.9h-0.9zM81.2 76.5h0.9v0.9h-0.9zM85.1 84.3h0.9v0.9h-0.9zM92.5 76.6h0.9v0.9h-0.9zM95.2 73.8h0.9v0.9h-0.9zM80.3 77.0h0.9v0.9h-0.9zM77.2 83.5h0.9v0.9h-0.9zM98.0 77.3h0.9v0.9h-0.9zM77.1 89.3h0.9v0.9h-0.9zM88.4 79.5h0.9v0.9h-0.9zM84.6 81.4h0.9v0.9h-0.9zM77.4 79.3h0.9v0.9h-0.9zM86.7 87.0h0.9v0.9h-0.9zM96.0 75.0h0.9v0.9h-0.9zM78.6 85.3h0.9v0.9h-0.9zM92.9 79.5h0.9v0.9h-0.9zM81.0 86.4h0.9v0.9h-0.9zM84.3 85.1h0.9v0.9h-0.9zM79.0 79.7h0.9v0.9h-0.9zM86.9 84.7h0.9v0.9h-0.9zM75.9 87.3h0.9v0.9h-0.9zM91.3 77.2h0.9v0.9h-0.9zM83.5 92.0h0.9v0.9h-0.9zM93.6 82.0h0.9v0.9h-0.9zM80.4 92.1h0.9v0.9h-0.9zM70.8 88.5h0.9v0.9h-0.9zM93.4 83.3h0.9v0.9h-0.9zM76.3 84.7h0.9v0.9h-0.9zM83.0 75.4h0.9v0.9h-0.9zM91.2 81.3h0.9v0.9h-0.9zM82.4 86.3h0.9v0.9h-0.9zM91.8 79.9h0.9v0.9h-0.9zM92.0 84.9h0.9v0.9h-0.9zM81.5 85.2h0.9v0.9h-0.9zM82.7 88.2h0.9v0.9h-0.9zM82.6 85.9h0.9v0.9h-0.9zM86.2 82.1h0.9v0.9h-0.9zM98.5 74.3h0.9v0.9h-0.9zM97.8 78.6h0.9v0.9h-0.9zM95.2 75.9h0.9v0.9h-0.9zM93.8 80.6h0.9v0.9h-0.9zM80.6 86.2h0.9v0.9h-0.9zM83.9 83.0h0.9v0.9h-0.9zM94.0 74.2h0.9v0.9h-0.9zM68.4 84.7h0.9v0.9h-0.9zM80.2 82.5h0.9v0.9h-0.9zM86.2 84.2h0.9v0.9h-0.9zM99.6 75.4h0.9v0.9h-0.9zM87.3 78.0h0.9v0.9h-0.9zM92.1 84.2h0.9v0.9h-0.9zM92.1 70.2h0.9v0.9h-0.9zM95.0 83.4h0.9v0.9h-0.9zM88.8 74.0h0.9v0.9h-0.9zM83.6 85.8h0.9v0.9h-0.9zM86.8 78.0h0.9v0.9h-0.9zM79.7 89.6h0.9v0.9h-0.9zM77.0 93.2h0.9v0.9h-0.9zM85.7 83.4h0.9v0.9h-0.9zM73.3 86.7h0.9v0.9h-0.9zM87.8 74.7h0.9v0.9h-0.9zM98.8 68.6h0.9v0.9h-0.9zM75.4 88.2h0.9v0.9h-0.9zM90.2 82.6h0.9v0.9h-0.9zM81.7 83.5h0.9v0.9h-0.9zM82.1 81.8h0.9v0.9h-0.9zM87.3 81.9h0.9v0.9h-0.9zM80.5 86.2h0.9v0.9h-0.9zM84.8 82.3h0.9v0.9h-0.9zM90.6 72.0h0.9v0.9h-0.9zM85.0 78.0h0.9v0.9h-0.9zM85.2 88.7h0.9v0.9h-0.9zM76.3 87.1h0.9v0.9h-0.9zM82.1 88.2h0.9v0.9h-0.9zM74.2 81.6h0.9v0.9h-0.9zM88.4 79.0h0.9v0.9h-0.9zM84.4 87.4h0.9v0.9h-0.9zM77.3 85.4h0.9v0.9h-0.9zM86.9 83.1h0.9v0.9h-0.9zM82.8 88.1h0.9v0.9h-0.9zM102.0 71.0h0.9v0.9h-0.9zM95.9 67.3h0.9v0.9h-0.9zM95.5 75.0h0.9v0.9h-0.9zM85.5 80.8h0.9v0.9h-0.9zM77.6 81.4h0.9v0.9h-0.9zM84.2 88.4h0.9v0.9h-0.9zM93.4 76.2h0.9v0.9h-0.9zM79.5 82.7h0.9v0.9h-0.9zM78.8 93.7h0.9v0.9h-0.9zM90.5 79.8h0.9v0.9h-0.9zM79.3 81.5h0.9v0.9h-0.9zM96.8 79.0h0.9v0.9h-0.9zM79.3 90.0h0.9v0.9h-0.9zM77.4 89.6h0.9v0.9h-0.9zM76.7 85.6h0.9v0.9h-0.9zM89.7 81.6h0.9v0.9h-0.9zM91.5 75.2h0.9v0.9h-0.9zM99.9 79.5h0.9v0.9h-0.9zM85.8 84.0h0.9v0.9h-0.9zM78.6 85.6h0.9v0.9h-0.9zM74.7 88.8h0.9v0.9h-0.9zM89.0 85.8h0.9v0.9h-0.9zM94.0 80.8h0.9v0.9h-0.9zM81.7 83.4h0.9v0.9h-0.9zM82.7 84.8h0.9v0.9h-0.9zM71.2 93.7h0.9v0.9h-0.9zM71.7 88.0h0.9v0.9h-0.9zM84.2 80.8h0.9v0.9h-0.9zM98.0 74.6h0.9v0.9h-0.9zM99.6 79.0h0.9v0.9h-0.9zM81.8 86.0h0.9v0.9h-0.9zM94.6 75.5h0.9v0.9h-0.9zM84.7 80.3h0.9v0.9h-0.9zM84.8 81.1h0.9v0.9h-0.9zM87.5 85.3h0.9v0.9h-0.9zM96.2 76.6h0.9v0.9h-0.9zM88.2 84.3h0.9v0.9h-0.9zM80.8 80.5h0.9v0.9h-0.9zM92.1 74.5h0.9v0.9h-0.9zM90.6 75.2h0.9v0.9h-0.9zM97.6 70.9h0.9v0.9h-0.9zM94.4 83.4h0.9v0.9h-0.9zM80.1 91.6h0.9v0.9h-0.9zM75.3 80.7h0.9v0.9h-0.9zM92.0 81.4h0.9v0.9h-0.9zM78.8 75.4h0.9v0.9h-0.9zM84.0 81.8h0.9v0.9h-0.9zM81.5 83.3h0.9v0.9h-0.9zM69.8 88.9h0.9v0.9h-0.9zM102.0 79.2h0.9v0.9h-0.9zM80.8 81.9h0.9v0.9h-0.9zM90.1 84.0h0.9v0.9h-0.9zM88.6 75.5h0.9v0.9h-0.9zM86.5 82.2h0.9v0.9h-0.9zM98.5 79.7h0.9v0.9h-0.9zM91.4 84.0h0.9v0.9h-0.9zM84.7 89.2h0.9v0.9h-0.9zM82.4 85.7h0.9v0.9h-0.9zM90.6 75.4h0.9v0.9h-0.9zM76.2 80.1h0.9v0.9h-0.9zM86.2 81.6h0.9v0.9h-0.9zM83.3 85.6h0.9v0.9h-0.9zM68.2 92.1h0.9v0.9h-0.9zM85.2 81.3h0.9v0.9h-0.9zM94.5 84.4h0.9v0.9h-0.9zM79.8 81.6h0.9v0.9h-0.9zM80.4 85.5h0.9v0.9h-0.9zM88.1 77.1h0.9v0.9h-0.9zM91.0 74.7h0.9v0.9h-0.9zM92.3 80.1h0.9v0.9h-0.9zM92.6 87.2h0.9v0.9h-0.9zM82.6 83.2h0.9v0.9h-0.9zM90.3 83.1h0.9v0.9h-0.9zM74.9 89.5h0.9v0.9h-0.9zM80.3 87.9h0.9v0.9h-0.9zM95.9 76.4h0.9v0.9h-0.9zM84.5 83.6h0.9v0.9h-0.9zM89.7 80.5h0.9v0.9h-0.9zM80.5 82.0h0.9v0.9h-0.9zM85.8 87.2h0.9v0.9h-0.9zM86.6 87.2h0.9v0.9h-0.9zM63.8 92.8h0.9v0.9h-0.9zM87.1 81.2h0.9v0.9h-0.9zM70.7 88.0h0.9v0.9h-0.9zM92.5 72.7h0.9v0.9h-0.9zM75.2 83.6h0.9v0.9h-0.9zM81.8 87.0h0.9v0.9h-0.9zM86.0 73.4h0.9v0.9h-0.9zM95.4 74.0h0.9v0.9h-0.9zM83.4 90.5h0.9v0.9h-0.9zM82.1 79.0h0.9v0.9h-0.9zM78.6 83.1h0.9v0.9h-0.9zM76.4 86.1h0.9v0.9h-0.9zM92.6 79.6h0.9v0.9h-0.9zM77.4 87.4h0.9v0.9h-0.9zM86.6 84.8h0.9v0.9h-0.9zM83.2 85.4h0.9v0.9h-0.9zM101.8 73.2h0.9v0.9h-0.9zM77.0 88.5h0.9v0.9h-0.9zM78.0 85.0h0.9v0.9h-0.9zM87.1 82.7h0.9v0.9h-0.9zM84.3 86.5h0.9v0.9h-0.9zM81.1 79.3h0.9v0.9h-0.9zM91.3 77.3h0.9v0.9h-0.9zM93.4 74.9h0.9v0.9h-0.9zM90.1 80.9h0.9v0.9h-0.9zM78.7 92.0h0.9v0.9h-0.9zM71.8 94.0h0.9v0.9h-0.9zM94.5 79.1h0.9v0.9h-0.9zM89.4 77.9h0.9v0.9h-0.9zM85.3 83.3h0.9v0.9h-0.9zM89.6 82.8h0.9v0.9h-0.9zM82.1 81.2h0.9v0.9h-0.9zM81.3 86.4h0.9v0.9h-0.9zM69.6 86.1h0.9v0.9h-0.9zM80.7 82.6h0.9v0.9h-0.9zM78.0 75.3h0.9v0.9h-0.9zM81.8 83.3h0.9v0.9h-0.9zM87.5 72.7h0.9v0.9h-0.9zM83.4 85.4h0.9v0.9h-0.9zM91.0 84.0h0.9v0.9h-0.9zM91.4 74.4h0.9v0.9h-0.9zM89.4 78.5h0.9v0.9h-0.9zM81.5 91.0h0.9v0.9h-0.9zM78.5 82.7h0.9v0.9h-0.9zM80.2 81.7h0.9v0.9h-0.9zM93.7 79.1h0.9v0.9h-0.9zM96.8 77.4h0.9v0.9h-0.9zM82.0 88.6h0.9v0.9h-0.9zM79.0 84.0h0.9v0.9h-0.9zM83.7 83.4h0.9v0.9h-0.9zM93.3 75.1h0.9v0.9h-0.9zM87.7 80.8h0.9v0.9h-0.9zM73.0 84.8h0.9v0.9h-0.9zM84.0 84.8h0.9v0.9h-0.9zM88.4 82.6h0.9v0.9h-0.9zM84.6 80.9h0.9v0.9h-0.9zM86.5 77.4h0.9v0.9h-0.9zM73.7 87.6h0.9v0.9h-0.9zM72.7 87.4h0.9v0.9h-0.9zM78.1 84.2h0.9v0.9h-0.9zM83.2 80.2h0.9v0.9h-0.9zM78.5 79.0h0.9v0.9h-0.9zM84.5 79.0h0.9v0.9h-0.9zM83.0 71.7h0.9v0.9h-0.9zM79.1 86.9h0.9v0.9h-0.9zM65.0 92.5h0.9v0.9h-0.9zM85.9 82.4h0.9v0.9h-0.9zM73.6 90.1h0.9v0.9h-0.9zM84.4 78.7h0.9v0.9h-0.9zM90.8 78.9h0.9v0.9h-0.9zM84.3 81.0h0.9v0.9h-0.9zM89.5 80.3h0.9v0.9h-0.9zM94.9 78.7h0.9v0.9h-0.9zM79.7 84.6h0.9v0.9h-0.9zM91.6 77.1h0.9v0.9h-0.9zM89.0 82.4h0.9v0.9h-0.9zM79.3 75.9h0.9v0.9h-0.9zM86.4 82.6h0.9v0.9h-0.9zM84.7 79.5h0.9v0.9h-0.9zM94.4 76.5h0.9v0.9h-0.9zM78.7 83.1h0.9v0.9h-0.9zM85.8 77.4h0.9v0.9h-0.9zM80.7 93.5h0.9v0.9h-0.9zM97.4 79.8h0.9v0.9h-0.9zM97.0 78.1h0.9v0.9h-0.9zM73.8 94.0h0.9v0.9h-0.9zM95.8 78.4h0.9v0.9h-0.9zM95.0 74.7h0.9v0.9h-0.9zM87.4 84.4h0.9v0.9h-0.9zM86.3 86.4h0.9v0.9h-0.9zM86.9 84.3h0.9v0.9h-0.9zM83.0 77.4h0.9v0.9h-0.9zM89.6 85.4h0.9v0.9h-0.9zM97.2 82.7h0.9v0.9h-0.9zM88.3 78.0h0.9v0.9h-0.9zM81.6 76.3h0.9v0.9h-0.9zM85.2 86.3h0.9v0.9h-0.9zM68.1 93.1h0.9v0.9h-0.9zM94.0 82.9h0.9v0.9h-0.9zM76.4 84.7h0.9v0.9h-0.9zM68.2 87.9h0.9v0.9h-0.9zM93.1 86.6h0.9v0.9h-0.9zM78.4 92.2h0.9v0.9h-0.9zM87.5 79.0h0.9v0.9h-0.9zM97.9 64.3h0.9v0.9h-0.9zM84.9 83.5h0.9v0.9h-0.9zM105.3 78.4h0.9v0.9h-0.9zM103.3 72.5h0.9v0.9h-0.9zM95.4 82.3h0.9v0.9h-0.9zM89.8 81.3h0.9v0.9h-0.9zM82.8 82.0h0.9v0.9h-0.9zM78.8 94.4h0.9v0.9h-0.9zM77.6 77.9h0.9v0.9h-0.9zM87.0 81.2h0.9v0.9h-0.9zM89.8 87.5h0.9v0.9h-0.9zM83.7 82.1h0.9v0.9h-0.9zM79.0 85.9h0.9v0.9h-0.9zM81.9 85.2h0.9v0.9h-0.9zM110.7 69.3h0.9v0.9h-0.9zM81.7 92.6h0.9v0.9h-0.9zM93.4 81.1h0.9v0.9h-0.9zM92.2 81.8h0.9v0.9h-0.9zM93.0 83.9h0.9v0.9h-0.9zM95.6 82.2h0.9v0.9h-0.9zM81.0 84.8h0.9v0.9h-0.9zM80.9 88.9h0.9v0.9h-0.9zM90.8 77.2h0.9v0.9h-0.9zM94.5 88.2h0.9v0.9h-0.9zM92.8 73.2h0.9v0.9h-0.9zM85.4 85.0h0.9v0.9h-0.9zM85.4 83.9h0.9v0.9h-0.9zM95.1 78.1h0.9v0.9h-0.9zM77.5 89.9h0.9v0.9h-0.9zM84.4 83.3h0.9v0.9h-0.9zM77.9 80.7h0.9v0.9h-0.9zM74.4 87.1h0.9v0.9h-0.9zM71.4 78.7h0.9v0.9h-0.9zM92.0 73.5h0.9v0.9h-0.9zM80.2 87.6h0.9v0.9h-0.9zM80.1 88.2h0.9v0.9h-0.9zM81.7 85.7h0.9v0.9h-0.9zM85.8 82.0h0.9v0.9h-0.9zM67.6 86.2h0.9v0.9h-0.9zM87.3 87.2h0.9v0.9h-0.9zM81.6 86.7h0.9v0.9h-0.9zM87.2 83.3h0.9v0.9h-0.9zM90.2 73.1h0.9v0.9h-0.9zM86.9 80.7h0.9v0.9h-0.9zM80.9 81.2h0.9v0.9h-0.9zM76.8 82.8h0.9v0.9h-0.9zM98.6 74.7h0.9v0.9h-0.9zM89.1 75.9h0.9v0.9h-0.9zM88.8 86.5h0.9v0.9h-0.9zM82.8 79.5h0.9v0.9h-0.9zM81.2 80.4h0.9v0.9h-0.9zM73.4 88.2h0.9v0.9h-0.9zM80.3 81.7h0.9v0.9h-0.9zM76.2 83.6h0.9v0.9h-0.9zM89.5 85.9h0.9v0.9h-0.9zM87.5 90.6h0.9v0.9h-0.9zM72.5 90.9h0.9v0.9h-0.9zM75.4 87.3h0.9v0.9h-0.9zM86.9 83.8h0.9v0.9h-0.9zM93.0 75.5h0.9v0.9h-0.9zM74.7 87.6h0.9v0.9h-0.9zM86.1 78.9h0.9v0.9h-0.9zM95.3 83.8h0.9v0.9h-0.9zM74.3 90.2h0.9v0.9h-0.9zM89.6 71.6h0.9v0.9h-0.9zM86.2 80.8h0.9v0.9h-0.9zM76.0 93.3h0.9v0.9h-0.9zM85.9 80.0h0.9v0.9h-0.9zM89.7 82.5h0.9v0.9h-0.9zM92.2 80.8h0.9v0.9h-0.9zM86.1 76.8h0.9v0.9h-0.9zM81.9 84.9h0.9v0.9h-0.9zM80.0 80.9h0.9v0.9h-0.9zM70.9 91.7h0.9v0.9h-0.9zM84.2 80.5h0.9v0.9h-0.9zM80.0 81.6h0.9v0.9h-0.9zM78.8 85.7h0.9v0.9h-0.9zM81.1 87.7h0.9v0.9h-0.9zM84.1 83.6h0.9v0.9h-0.9zM90.6 84.7h0.9v0.9h-0.9zM90.2 80.4h0.9v0.9h-0.9zM82.2 80.7h0.9v0.9h-0.9zM83.5 86.3h0.9v0.9h-0.9zM86.1 80.2h0.9v0.9h-0.9zM71.5 83.7h0.9v0.9h-0.9zM89.5 84.3h0.9v0.9h-0.9zM85.5 76.4h0.9v0.9h-0.9zM83.7 84.2h0.9v0.9h-0.9zM78.3 87.9h0.9v0.9h-0.9zM81.8 80.7h0.9v0.9h-0.9zM76.5 90.8h0.9v0.9h-0.9zM86.2 78.0h0.9v0.9h-0.9zM78.5 90.0h0.9v0.9h-0.9zM89.2 78.8h0.9v0.9h-0.9zM97.2 74.2h0.9v0.9h-0.9zM78.6 90.9h0.9v0.9h-0.9zM84.1 84.5h0.9v0.9h-0.9zM83.5 79.1h0.9v0.9h-0.9zM75.1 87.4h0.9v0.9h-0.9zM94.4 72.8h0.9v0.9h-0.9zM96.3 76.9h0.9v0.9h-0.9zM76.6 88.5h0.9v0.9h-0.9zM87.9 77.0h0.9v0.9h-0.9zM68.6 93.5h0.9v0.9h-0.9zM76.9 89.0h0.9v0.9h-0.9zM69.4 90.9h0.9v0.9h-0.9zM75.8 81.5h0.9v0.9h-0.9zM83.4 84.2h0.9v0.9h-0.9zM78.4 81.3h0.9v0.9h-0.9zM83.5 75.9h0.9v0.9h-0.9zM90.2 81.6h0.9v0.9h-0.9zM100.1 77.6h0.9v0.9h-0.9zM88.3 81.7h0.9v0.9h-0.9zM82.8 78.1h0.9v0.9h-0.9zM97.7 77.4h0.9v0.9h-0.9zM80.6 80.2h0.9v0.9h-0.9zM97.9 77.3h0.9v0.9h-0.9zM76.8 90.1h0.9v0.9h-0.9zM100.1 73.7h0.9v0.9h-0.9zM87.4 79.3h0.9v0.9h-0.9zM82.0 88.8h0.9v0.9h-0.9zM109.8 68.7h0.9v0.9h-0.9zM85.5 85.6h0.9v0.9h-0.9zM83.9 86.2h0.9v0.9h-0.9zM89.7 75.4h0.9v0.9h-0.9zM76.3 87.2h0.9v0.9h-0.9zM92.2 79.5h0.9v0.9h-0.9zM92.4 72.4h0.9v0.9h-0.9zM87.8 78.2h0.9v0.9h-0.9zM86.4 83.1h0.9v0.9h-0.9zM76.8 86.2h0.9v0.9h-0.9zM76.2 88.7h0.9v0.9h-0.9zM77.3 84.8h0.9v0.9h-0.9zM85.5 79.4h0.9v0.9h-0.9zM93.0 75.2h0.9v0.9h-0.9zM92.3 79.5h0.9v0.9h-0.9zM76.3 86.6h0.9v0.9h-0.9zM77.7 85.2h0.9v0.9h-0.9zM86.2 89.6h0.9v0.9h-0.9zM84.5 89.4h0.9v0.9h-0.9zM86.2 76.3h0.9v0.9h-0.9zM70.4 94.0h0.9v0.9h-0.9zM93.9 79.0h0.9v0.9h-0.9zM82.9 82.7h0.9v0.9h-0.9zM86.5 80.3h0.9v0.9h-0.9zM80.1 83.8h0.9v0.9h-0.9zM93.2 75.1h0.9v0.9h-0.9zM85.9 77.1h0.9v0.9h-0.9zM76.8 81.4h0.9v0.9h-0.9zM84.7 85.6h0.9v0.9h-0.9zM86.5 79.5h0.9v0.9h-0.9zM89.2 78.6h0.9v0.9h-0.9zM88.5 81.7h0.9v0.9h-0.9zM84.8 72.1h0.9v0.9h-0.9zM76.0 91.0h0.9v0.9h-0.9zM88.3 90.1h0.9v0.9h-0.9zM82.1 81.8h0.9v0.9h-0.9zM97.9 77.4h0.9v0.9h-0.9zM101.0 75.4h0.9v0.9h-0.9zM84.7 85.7h0.9v0.9h-0.9zM77.9 84.7h0.9v0.9h-0.9zM80.2 84.3h0.9v0.9h-0.9zM90.3 77.4h0.9v0.9h-0.9zM86.6 79.4h0.9v0.9h-0.9zM87.0 69.7h0.9v0.9h-0.9zM83.7 84.0h0.9v0.9h-0.9zM78.3 90.7h0.9v0.9h-0.9zM89.1 85.6h0.9v0.9h-0.9zM93.8 80.1h0.9v0.9h-0.9zM81.8 79.7h0.9v0.9h-0.9zM82.4 82.0h0.9v0.9h-0.9zM86.1 79.9h0.9v0.9h-0.9zM106.4 63.4h0.9v0.9h-0.9zM93.5 75.6h0.9v0.9h-0.9zM84.8 86.6h0.9v0.9h-0.9zM82.8 78.6h0.9v0.9h-0.9zM87.9 80.0h0.9v0.9h-0.9zM69.0 92.6h0.9v0.9h-0.9zM75.2 85.0h0.9v0.9h-0.9zM89.4 81.2h0.9v0.9h-0.9zM86.7 90.7h0.9v0.9h-0.9zM87.2 78.6h0.9v0.9h-0.9zM86.7 81.0h0.9v0.9h-0.9zM64.6 87.6h0.9v0.9h-0.9zM83.0 82.5h0.9v0.9h-0.9zM82.3 88.2h0.9v0.9h-0.9zM88.4 87.8h0.9v0.9h-0.9zM94.3 84.1h0.9v0.9h-0.9zM84.8 84.2h0.9v0.9h-0.9zM81.3 83.9h0.9v0.9h-0.9zM70.2 88.6h0.9v0.9h-0.9zM76.3 84.8h0.9v0.9h-0.9zM95.1 77.8h0.9v0.9h-0.9zM96.3 79.6h0.9v0.9h-0.9zM94.1 81.5h0.9v0.9h-0.9zM81.7 87.8h0.9v0.9h-0.9zM81.5 82.3h0.9v0.9h-0.9zM98.4 83.9h0.9v0.9h-0.9zM80.4 92.5h0.9v0.9h-0.9zM90.0 76.0h0.9v0.9h-0.9zM87.8 82.4h0.9v0.9h-0.9zM87.3 79.7h0.9v0.9h-0.9zM74.9 88.5h0.9v0.9h-0.9zM93.3 81.0h0.9v0.9h-0.9zM92.3 83.0h0.9v0.9h-0.9zM77.1 86.9h0.9v0.9h-0.9zM89.5 84.1h0.9v0.9h-0.9zM87.2 83.4h0.9v0.9h-0.9zM89.9 88.5h0.9v0.9h-0.9zM67.6 92.4h0.9v0.9h-0.9zM105.1 71.9h0.9v0.9h-0.9zM70.7 91.3h0.9v0.9h-0.9zM72.4 86.9h0.9v0.9h-0.9zM89.9 86.9h0.9v0.9h-0.9zM89.9 82.5h0.9v0.9h-0.9zM93.4 78.5h0.9v0.9h-0.9zM78.0 86.1h0.9v0.9h-0.9zM87.2 80.1h0.9v0.9h-0.9zM79.1 84.4h0.9v0.9h-0.9zM71.2 86.1h0.9v0.9h-0.9zM83.6 81.8h0.9v0.9h-0.9zM87.9 86.8h0.9v0.9h-0.9zM87.3 81.0h0.9v0.9h-0.9zM73.7 84.5h0.9v0.9h-0.9zM86.4 78.0h0.9v0.9h-0.9zM86.4 77.1h0.9v0.9h-0.9zM85.9 81.7h0.9v0.9h-0.9zM92.2 76.7h0.9v0.9h-0.9zM82.5 85.0h0.9v0.9h-0.9zM88.5 87.6h0.9v0.9h-0.9zM82.0 82.0h0.9v0.9h-0.9zM83.3 85.5h0.9v0.9h-0.9zM88.1 83.6h0.9v0.9h-0.9zM99.5 74.0h0.9v0.9h-0.9zM75.7 88.5h0.9v0.9h-0.9zM84.2 73.5h0.9v0.9h-0.9zM82.4 77.8h0.9v0.9h-0.9zM91.2 84.8h0.9v0.9h-0.9zM90.4 73.0h0.9v0.9h-0.9zM97.6 79.1h0.9v0.9h-0.9zM83.1 85.7h0.9v0.9h-0.9zM96.4 74.5h0.9v0.9h-0.9zM83.9 80.8h0.9v0.9h-0.9zM90.2 70.4h0.9v0.9h-0.9zM94.5 72.9h0.9v0.9h-0.9zM89.4 73.1h0.9v0.9h-0.9zM76.5 84.9h0.9v0.9h-0.9zM88.6 73.6h0.9v0.9h-0.9zM88.6 77.7h0.9v0.9h-0.9zM94.3 75.8h0.9v0.9h-0.9zM88.5 79.7h0.9v0.9h-0.9zM98.5 73.2h0.9v0.9h-0.9zM88.4 88.9h0.9v0.9h-0.9zM86.9 84.3h0.9v0.9h-0.9zM79.5 86.5h0.9v0.9h-0.9zM67.2 93.2h0.9v0.9h-0.9zM77.1 80.7h0.9v0.9h-0.9zM75.9 92.6h0.9v0.9h-0.9zM85.6 75.7h0.9v0.9h-0.9zM98.1 72.0h0.9v0.9h-0.9zM82.5 85.0h0.9v0.9h-0.9zM73.0 82.6h0.9v0.9h-0.9zM81.3 89.6h0.9v0.9h-0.9zM89.6 73.1h0.9v0.9h-0.9zM94.6 77.1h0.9v0.9h-0.9zM89.1 80.4h0.9v0.9h-0.9zM86.4 77.4h0.9v0.9h-0.9zM76.5 84.4h0.9v0.9h-0.9zM83.2 86.1h0.9v0.9h-0.9zM78.3 93.1h0.9v0.9h-0.9zM78.9 83.5h0.9v0.9h-0.9zM91.4 80.7h0.9v0.9h-0.9zM80.4 80.7h0.9v0.9h-0.9zM74.2 82.0h0.9v0.9h-0.9zM96.0 80.7h0.9v0.9h-0.9zM100.7 75.5h0.9v0.9h-0.9zM89.0 83.4h0.9v0.9h-0.9zM92.1 77.3h0.9v0.9h-0.9zM91.7 87.7h0.9v0.9h-0.9zM69.0 85.8h0.9v0.9h-0.9zM78.8 89.3h0.9v0.9h-0.9zM93.8 76.0h0.9v0.9h-0.9zM90.2 79.3h0.9v0.9h-0.9zM86.4 79.4h0.9v0.9h-0.9zM84.8 82.6h0.9v0.9h-0.9zM98.0 84.4h0.9v0.9h-0.9zM71.6 92.5h0.9v0.9h-0.9zM86.7 85.6h0.9v0.9h-0.9zM94.8 80.1h0.9v0.9h-0.9zM89.7 75.8h0.9v0.9h-0.9zM92.8 74.0h0.9v0.9h-0.9zM96.4 78.7h0.9v0.9h-0.9zM79.3 90.7h0.9v0.9h-0.9zM78.2 83.3h0.9v0.9h-0.9zM72.4 88.9h0.9v0.9h-0.9zM91.8 75.7h0.9v0.9h-0.9zM100.9 76.2h0.9v0.9h-0.9zM78.5 81.1h0.9v0.9h-0.9zM73.0 91.8h0.9v0.9h-0.9zM93.4 73.2h0.9v0.9h-0.9zM84.5 81.6h0.9v0.9h-0.9zM83.9 85.3h0.9v0.9h-0.9zM100.4 70.9h0.9v0.9h-0.9zM93.7 82.1h0.9v0.9h-0.9zM82.5 83.3h0.9v0.9h-0.9zM76.3 92.1h0.9v0.9h-0.9zM79.6 82.9h0.9v0.9h-0.9zM84.0 79.5h0.9v0.9h-0.9zM76.2 86.3h0.9v0.9h-0.9zM96.4 75.0h0.9v0.9h-0.9zM86.5 75.4h0.9v0.9h-0.9zM79.0 79.4h0.9v0.9h-0.9zM85.3 84.9h0.9v0.9h-0.9zM69.7 87.6h0.9v0.9h-0.9zM85.4 78.4h0.9v0.9h-0.9zM93.1 81.9h0.9v0.9h-0.9zM87.7 79.1h0.9v0.9h-0.9zM83.5 80.7h0.9v0.9h-0.9zM84.5 84.1h0.9v0.9h-0.9zM84.4 87.0h0.9v0.9h-0.9zM104.6 68.9h0.9v0.9h-0.9zM89.2 83.5h0.9v0.9h-0.9zM89.7 78.8h0.9v0.9h-0.9zM83.0 87.9h0.9v0.9h-0.9zM90.9 81.2h0.9v0.9h-0.9zM79.8 88.2h0.9v0.9h-0.9zM91.0 78.3h0.9v0.9h-0.9zM94.1 86.4h0.9v0.9h-0.9zM71.2 93.0h0.9v0.9h-0.9zM73.2 83.5h0.9v0.9h-0.9zM84.1 85.3h0.9v0.9h-0.9zM83.3 78.6h0.9v0.9h-0.9zM72.5 87.3h0.9v0.9h-0.9zM83.6 79.8h0.9v0.9h-0.9zM76.3 95.0h0.9v0.9h-0.9zM78.0 85.9h0.9v0.9h-0.9zM79.6 83.2h0.9v0.9h-0.9zM84.8 81.4h0.9v0.9h-0.9zM87.7 75.9h0.9v0.9h-0.9zM85.8 85.3h0.9v0.9h-0.9zM95.4 78.8h0.9v0.9h-0.9zM82.4 77.4h0.9v0.9h-0.9zM74.0 93.0h0.9v0.9h-0.9zM91.4 81.2h0.9v0.9h-0.9zM67.9 83.3h0.9v0.9h-0.9zM74.4 83.6h0.9v0.9h-0.9zM84.4 78.5h0.9v0.9h-0.9zM96.5 73.2h0.9v0.9h-0.9zM82.1 87.8h0.9v0.9h-0.9zM86.0 78.1h0.9v0.9h-0.9zM95.1 84.9h0.9v0.9h-0.9zM74.8 87.4h0.9v0.9h-0.9zM72.8 81.3h0.9v0.9h-0.9zM91.3 81.8h0.9v0.9h-0.9zM93.6 79.4h0.9v0.9h-0.9zM68.9 91.7h0.9v0.9h-0.9zM77.5 81.8h0.9v0.9h-0.9zM77.6 90.0h0.9v0.9h-0.9zM86.3 90.1h0.9v0.9h-0.9zM85.2 74.2h0.9v0.9h-0.9zM94.4 82.4h0.9v0.9h-0.9zM83.0 78.5h0.9v0.9h-0.9zM96.7 70.1h0.9v0.9h-0.9zM80.8 76.8h0.9v0.9h-0.9zM71.8 82.9h0.9v0.9h-0.9zM95.9 81.2h0.9v0.9h-0.9zM79.3 80.0h0.9v0.9h-0.9zM85.2 84.0h0.9v0.9h-0.9zM70.6 85.8h0.9v0.9h-0.9zM85.5 85.2h0.9v0.9h-0.9zM86.4 83.6h0.9v0.9h-0.9zM70.4 80.3h0.9v0.9h-0.9zM85.8 78.1h0.9v0.9h-0.9zM83.3 81.9h0.9v0.9h-0.9zM87.4 77.8h0.9v0.9h-0.9zM96.6 75.9h0.9v0.9h-0.9zM90.4 82.1h0.9v0.9h-0.9zM94.1 79.0h0.9v0.9h-0.9zM69.8 88.6h0.9v0.9h-0.9zM100.8 75.4h0.9v0.9h-0.9zM90.4 81.4h0.9v0.9h-0.9zM78.6 83.3h0.9v0.9h-0.9zM82.0 89.2h0.9v0.9h-0.9zM91.2 86.5h0.9v0.9h-0.9zM92.5 86.3h0.9v0.9h-0.9zM86.5 76.6h0.9v0.9h-0.9zM99.6 75.5h0.9v0.9h-0.9zM95.0 77.7h0.9v0.9h-0.9zM82.7 84.6h0.9v0.9h-0.9zM73.7 83.9h0.9v0.9h-0.9zM76.9 84.9h0.9v0.9h-0.9zM73.9 88.5h0.9v0.9h-0.9zM91.2 87.6h0.9v0.9h-0.9zM99.8 73.8h0.9v0.9h-0.9zM91.7 77.7h0.9v0.9h-0.9zM88.1 80.6h0.9v0.9h-0.9zM80.8 85.3h0.9v0.9h-0.9zM73.9 90.8h0.9v0.9h-0.9zM80.6 80.4h0.9v0.9h-0.9zM83.1 86.0h0.9v0.9h-0.9zM80.4 87.2h0.9v0.9h-0.9zM92.5 84.9h0.9v0.9h-0.9zM76.0 87.2h0.9v0.9h-0.9zM91.9 85.0h0.9v0.9h-0.9zM88.5 83.7h0.9v0.9h-0.9zM72.0 87.5h0.9v0.9h-0.9zM97.9 73.8h0.9v0.9h-0.9zM101.2 70.0h0.9v0.9h-0.9zM79.8 78.6h0.9v0.9h-0.9zM90.6 80.4h0.9v0.9h-0.9zM101.7 73.6h0.9v0.9h-0.9zM80.3 79.1h0.9v0.9h-0.9zM86.1 86.0h0.9v0.9h-0.9zM93.3 83.0h0.9v0.9h-0.9zM91.9 78.3h0.9v0.9h-0.9zM90.2 80.2h0.9v0.9h-0.9zM77.4 94.3h0.9v0.9h-0.9zM86.1 77.3h0.9v0.9h-0.9zM88.7 81.6h0.9v0.9h-0.9zM95.8 82.5h0.9v0.9h-0.9zM95.7 72.2h0.9v0.9h-0.9zM70.4 92.1h0.9v0.9h-0.9zM88.4 82.1h0.9v0.9h-0.9zM75.1 86.2h0.9v0.9h-0.9zM88.0 84.0h0.9v0.9h-0.9zM103.4 73.2h0.9v0.9h-0.9zM75.7 77.6h0.9v0.9h-0.9zM93.5 77.0h0.9v0.9h-0.9zM82.2 79.8h0.9v0.9h-0.9zM87.6 73.2h0.9v0.9h-0.9zM86.1 82.4h0.9v0.9h-0.9zM89.9 85.3h0.9v0.9h-0.9zM84.4 83.3h0.9v0.9h-0.9zM89.1 73.4h0.9v0.9h-0.9zM82.7 84.1h0.9v0.9h-0.9zM91.3 75.4h0.9v0.9h-0.9zM92.3 80.0h0.9v0.9h-0.9zM70.1 84.7h0.9v0.9h-0.9zM73.6 89.7h0.9v0.9h-0.9zM88.1 83.9h0.9v0.9h-0.9zM90.7 76.8h0.9v0.9h-0.9zM95.3 80.1h0.9v0.9h-0.9zM89.8 81.8h0.9v0.9h-0.9zM75.2 89.8h0.9v0.9h-0.9zM74.3 83.5h0.9v0.9h-0.9zM82.4 84.6h0.9v0.9h-0.9zM83.9 81.7h0.9v0.9h-0.9zM77.2 87.8h0.9v0.9h-0.9zM76.3 81.4h0.9v0.9h-0.9zM88.5 86.8h0.9v0.9h-0.9zM79.7 80.9h0.9v0.9h-0.9zM99.6 81.6h0.9v0.9h-0.9zM82.2 83.2h0.9v0.9h-0.9zM92.3 91.2h0.9v0.9h-0.9zM88.0 85.1h0.9v0.9h-0.9zM85.2 74.4h0.9v0.9h-0.9zM73.6 83.7h0.9v0.9h-0.9zM88.7 80.8h0.9v0.9h-0.9zM99.1 73.2h0.9v0.9h-0.9zM87.7 81.3h0.9v0.9h-0.9zM90.5 89.4h0.9v0.9h-0.9zM90.1 86.0h0.9v0.9h-0.9zM94.5 74.4h0.9v0.9h-0.9zM89.9 78.0h0.9v0.9h-0.9zM86.2 82.5h0.9v0.9h-0.9zM84.3 80.9h0.9v0.9h-0.9zM97.3 74.3h0.9v0.9h-0.9zM93.9 84.7h0.9v0.9h-0.9zM92.1 82.9h0.9v0.9h-0.9zM98.4 79.5h0.9v0.9h-0.9zM96.4 69.7h0.9v0.9h-0.9zM101.1 73.3h0.9v0.9h-0.9zM69.4 88.7h0.9v0.9h-0.9zM73.5 89.0h0.9v0.9h-0.9zM70.9 86.3h0.9v0.9h-0.9zM87.7 81.6h0.9v0.9h-0.9zM78.0 85.5h0.9v0.9h-0.9zM84.3 83.2h0.9v0.9h-0.9zM84.5 81.8h0.9v0.9h-0.9zM89.2 73.1h0.9v0.9h-0.9zM81.2 85.3h0.9v0.9h-0.9zM80.7 82.6h0.9v0.9h-0.9zM81.8 85.3h0.9v0.9h-0.9zM94.9 76.0h0.9v0.9h-0.9zM83.5 84.9h0.9v0.9h-0.9zM79.3 77.3h0.9v0.9h-0.9zM86.5 80.0h0.9v0.9h-0.9zM81.5 87.3h0.9v0.9h-0.9zM84.3 80.4h0.9v0.9h-0.9zM63.8 87.2h0.9v0.9h-0.9zM84.9 82.0h0.9v0.9h-0.9zM89.0 81.2h0.9v0.9h-0.9zM78.7 80.6h0.9v0.9h-0.9zM75.7 87.2h0.9v0.9h-0.9zM77.0 90.4h0.9v0.9h-0.9zM70.7 82.9h0.9v0.9h-0.9zM80.0 77.6h0.9v0.9h-0.9zM96.5 71.5h0.9v0.9h-0.9zM84.1 81.9h0.9v0.9h-0.9zM74.9 80.6h0.9v0.9h-0.9zM71.3 94.2h0.9v0.9h-0.9zM97.5 84.8h0.9v0.9h-0.9zM74.0 91.3h0.9v0.9h-0.9zM86.5 85.3h0.9v0.9h-0.9zM82.1 87.3h0.9v0.9h-0.9zM93.5 80.2h0.9v0.9h-0.9zM96.6 75.1h0.9v0.9h-0.9zM96.4 72.9h0.9v0.9h-0.9zM93.5 65.5h0.9v0.9h-0.9zM83.6 79.8h0.9v0.9h-0.9zM87.0 85.9h0.9v0.9h-0.9zM91.1 79.4h0.9v0.9h-0.9zM96.2 69.6h0.9v0.9h-0.9zM81.2 91.3h0.9v0.9h-0.9zM83.8 74.1h0.9v0.9h-0.9zM85.6 77.0h0.9v0.9h-0.9zM99.3 79.2h0.9v0.9h-0.9zM83.0 89.4h0.9v0.9h-0.9zM79.9 89.5h0.9v0.9h-0.9zM89.5 79.3h0.9v0.9h-0.9zM72.8 88.3h0.9v0.9h-0.9zM65.1 91.5h0.9v0.9h-0.9zM72.4 79.1h0.9v0.9h-0.9zM90.5 80.9h0.9v0.9h-0.9zM84.9 91.9h0.9v0.9h-0.9zM91.5 79.0h0.9v0.9h-0.9zM74.1 75.8h0.9v0.9h-0.9zM90.8 83.4h0.9v0.9h-0.9zM77.4 80.7h0.9v0.9h-0.9zM81.5 77.2h0.9v0.9h-0.9zM86.5 85.0h0.9v0.9h-0.9zM97.9 76.2h0.9v0.9h-0.9zM88.0 84.0h0.9v0.9h-0.9zM95.9 74.8h0.9v0.9h-0.9zM73.4 85.7h0.9v0.9h-0.9zM73.0 85.6h0.9v0.9h-0.9zM84.7 84.2h0.9v0.9h-0.9zM86.4 82.0h0.9v0.9h-0.9zM82.9 85.6h0.9v0.9h-0.9zM93.7 80.8h0.9v0.9h-0.9zM96.8 74.4h0.9v0.9h-0.9zM86.2 89.3h0.9v0.9h-0.9zM87.4 82.9h0.9v0.9h-0.9zM84.1 87.3h0.9v0.9h-0.9zM79.8 81.1h0.9v0.9h-0.9zM83.7 81.3h0.9v0.9h-0.9zM91.1 77.3h0.9v0.9h-0.9zM85.6 81.2h0.9v0.9h-0.9zM86.6 78.8h0.9v0.9h-0.9zM91.4 72.6h0.9v0.9h-0.9zM80.5 82.0h0.9v0.9h-0.9zM90.4 79.6h0.9v0.9h-0.9zM88.4 79.1h0.9v0.9h-0.9zM77.0 82.2h0.9v0.9h-0.9zM81.2 82.3h0.9v0.9h-0.9zM88.0 82.3h0.9v0.9h-0.9zM92.8 77.5h0.9v0.9h-0.9zM76.8 82.6h0.9v0.9h-0.9zM86.2 83.4h0.9v0.9h-0.9zM101.4 73.8h0.9v0.9h-0.9zM103.0 80.3h0.9v0.9h-0.9zM78.7 91.5h0.9v0.9h-0.9zM96.9 81.5h0.9v0.9h-0.9zM86.7 85.7h0.9v0.9h-0.9zM80.9 84.6h0.9v0.9h-0.9zM88.5 88.3h0.9v0.9h-0.9zM85.0 86.7h0.9v0.9h-0.9zM84.2 79.9h0.9v0.9h-0.9zM88.3 83.5h0.9v0.9h-0.9zM80.3 88.0h0.9v0.9h-0.9zM77.5 83.0h0.9v0.9h-0.9zM86.4 80.7h0.9v0.9h-0.9zM73.8 81.8h0.9v0.9h-0.9zM85.7 83.2h0.9v0.9h-0.9zM81.6 85.3h0.9v0.9h-0.9zM73.2 91.0h0.9v0.9h-0.9zM89.0 81.4h0.9v0.9h-0.9zM80.1 85.7h0.9v0.9h-0.9zM88.1 85.4h0.9v0.9h-0.9zM87.8 82.0h0.9v0.9h-0.9zM80.7 88.8h0.9v0.9h-0.9zM93.7 75.3h0.9v0.9h-0.9zM90.8 80.5h0.9v0.9h-0.9zM82.2 78.5h0.9v0.9h-0.9zM95.9 68.0h0.9v0.9h-0.9zM86.8 79.8h0.9v0.9h-0.9zM93.6 75.7h0.9v0.9h-0.9zM86.5 84.3h0.9v0.9h-0.9zM87.8 78.6h0.9v0.9h-0.9zM91.3 80.6h0.9v0.9h-0.9zM92.2 76.1h0.9v0.9h-0.9zM83.9 81.4h0.9v0.9h-0.9zM78.6 87.3h0.9v0.9h-0.9zM91.1 85.2h0.9v0.9h-0.9zM83.1 85.3h0.9v0.9h-0.9zM94.2 76.7h0.9v0.9h-0.9zM85.8 82.6h0.9v0.9h-0.9zM77.5 82.5h0.9v0.9h-0.9zM94.5 77.8h0.9v0.9h-0.9zM82.0 78.8h0.9v0.9h-0.9zM88.2 85.8h0.9v0.9h-0.9zM73.9 85.0h0.9v0.9h-0.9zM96.8 81.9h0.9v0.9h-0.9zM96.7 73.3h0.9v0.9h-0.9zM88.5 77.2h0.9v0.9h-0.9zM88.6 78.8h0.9v0.9h-0.9zM89.1 86.0h0.9v0.9h-0.9zM87.3 80.1h0.9v0.9h-0.9zM86.0 83.1h0.9v0.9h-0.9zM81.2 85.6h0.9v0.9h-0.9zM92.9 84.8h0.9v0.9h-0.9zM65.9 88.3h0.9v0.9h-0.9zM76.5 91.2h0.9v0.9h-0.9zM105.3 71.6h0.9v0.9h-0.9zM88.1 85.7h0.9v0.9h-0.9zM64.7 93.4h0.9v0.9h-0.9zM79.9 83.3h0.9v0.9h-0.9zM86.7 79.0h0.9v0.9h-0.9zM94.1 77.2h0.9v0.9h-0.9zM92.9 89.0h0.9v0.9h-0.9zM83.1 87.6h0.9v0.9h-0.9zM80.6 90.5h0.9v0.9h-0.9zM93.1 78.4h0.9v0.9h-0.9zM96.1 83.1h0.9v0.9h-0.9zM96.3 76.0h0.9v0.9h-0.9zM86.6 86.4h0.9v0.9h-0.9zM71.9 87.5h0.9v0.9h-0.9zM90.0 82.1h0.9v0.9h-0.9zM103.5 79.5h0.9v0.9h-0.9zM88.5 82.4h0.9v0.9h-0.9zM73.9 88.1h0.9v0.9h-0.9zM86.7 80.5h0.9v0.9h-0.9zM86.6 84.2h0.9v0.9h-0.9zM76.2 85.1h0.9v0.9h-0.9zM72.7 94.6h0.9v0.9h-0.9zM73.2 81.9h0.9v0.9h-0.9zM90.9 78.2h0.9v0.9h-0.9zM92.2 76.8h0.9v0.9h-0.9zM103.7 74.8h0.9v0.9h-0.9zM86.4 82.2h0.9v0.9h-0.9zM84.8 86.1h0.9v0.9h-0.9zM100.5 71.7h0.9v0.9h-0.9zM77.3 89.6h0.9v0.9h-0.9zM90.9 72.6h0.9v0.9h-0.9zM77.5 82.5h0.9v0.9h-0.9zM90.5 81.5h0.9v0.9h-0.9zM76.9 82.3h0.9v0.9h-0.9zM86.7 72.6h0.9v0.9h-0.9zM89.9 79.0h0.9v0.9h-0.9zM102.5 76.7h0.9v0.9h-0.9zM79.8 84.3h0.9v0.9h-0.9zM81.4 81.4h0.9v0.9h-0.9zM87.5 85.2h0.9v0.9h-0.9zM72.3 88.8h0.9v0.9h-0.9zM98.5 77.9h0.9v0.9h-0.9zM76.9 83.7h0.9v0.9h-0.9zM75.1 81.3h0.9v0.9h-0.9zM94.5 77.3h0.9v0.9h-0.9zM76.7 81.1h0.9v0.9h-0.9zM80.9 82.6h0.9v0.9h-0.9zM98.1 73.0h0.9v0.9h-0.9zM87.9 85.4h0.9v0.9h-0.9zM90.1 78.8h0.9v0.9h-0.9zM89.0 78.3h0.9v0.9h-0.9zM82.5 79.8h0.9v0.9h-0.9zM75.0 81.9h0.9v0.9h-0.9zM90.0 81.8h0.9v0.9h-0.9zM87.9 84.2h0.9v0.9h-0.9zM89.6 80.4h0.9v0.9h-0.9zM79.0 88.5h0.9v0.9h-0.9zM95.8 79.0h0.9v0.9h-0.9zM94.2 75.1h0.9v0.9h-0.9zM79.4 91.1h0.9v0.9h-0.9zM80.7 86.0h0.9v0.9h-0.9zM83.5 83.5h0.9v0.9h-0.9zM81.8 82.0h0.9v0.9h-0.9zM83.1 75.3h0.9v0.9h-0.9zM75.6 83.1h0.9v0.9h-0.9zM74.3 77.7h0.9v0.9h-0.9zM92.7 85.1h0.9v0.9h-0.9zM84.4 86.0h0.9v0.9h-0.9zM87.5 75.7h0.9v0.9h-0.9zM91.7 71.4h0.9v0.9h-0.9zM79.7 84.0h0.9v0.9h-0.9zM95.4 77.0h0.9v0.9h-0.9zM82.5 80.5h0.9v0.9h-0.9zM85.8 82.2h0.9v0.9h-0.9zM93.5 83.6h0.9v0.9h-0.9zM91.0 79.1h0.9v0.9h-0.9zM86.7 88.4h0.9v0.9h-0.9zM86.6 81.5h0.9v0.9h-0.9zM102.4 79.2h0.9v0.9h-0.9zM89.4 79.5h0.9v0.9h-0.9zM81.9 88.9h0.9v0.9h-0.9zM83.1 87.7h0.9v0.9h-0.9zM78.9 86.5h0.9v0.9h-0.9zM88.5 81.1h0.9v0.9h-0.9zM87.6 82.6h0.9v0.9h-0.9zM73.9 84.1h0.9v0.9h-0.9zM87.2 89.0h0.9v0.9h-0.9zM82.3 80.1h0.9v0.9h-0.9zM79.8 85.7h0.9v0.9h-0.9zM93.5 75.2h0.9v0.9h-0.9zM89.9 80.5h0.9v0.9h-0.9zM80.4 81.1h0.9v0.9h-0.9zM82.4 80.9h0.9v0.9h-0.9zM86.1 74.3h0.9v0.9h-0.9zM95.5 79.7h0.9v0.9h-0.9zM92.4 84.6h0.9v0.9h-0.9zM86.7 74.2h0.9v0.9h-0.9zM86.3 83.7h0.9v0.9h-0.9zM77.4 82.0h0.9v0.9h-0.9zM89.4 82.1h0.9v0.9h-0.9zM81.1 83.7h0.9v0.9h-0.9zM79.9 83.0h0.9v0.9h-0.9zM86.5 86.2h0.9v0.9h-0.9zM71.4 88.9h0.9v0.9h-0.9zM98.5 76.0h0.9v0.9h-0.9zM87.8 84.5h0.9v0.9h-0.9zM74.7 83.3h0.9v0.9h-0.9zM69.0 85.5h0.9v0.9h-0.9zM88.6 84.1h0.9v0.9h-0.9zM80.4 82.2h0.9v0.9h-0.9zM89.4 82.6h0.9v0.9h-0.9zM83.5 75.2h0.9v0.9h-0.9zM75.9 76.9h0.9v0.9h-0.9zM85.4 78.7h0.9v0.9h-0.9zM82.5 90.4h0.9v0.9h-0.9zM96.5 77.9h0.9v0.9h-0.9zM87.5 81.8h0.9v0.9h-0.9zM80.2 85.0h0.9v0.9h-0.9zM98.7 70.8h0.9v0.9h-0.9zM80.0 86.1h0.9v0.9h-0.9zM93.7 81.0h0.9v0.9h-0.9zM77.0 86.6h0.9v0.9h-0.9zM80.6 79.8h0.9v0.9h-0.9zM84.7 80.6h0.9v0.9h-0.9zM93.2 79.6h0.9v0.9h-0.9zM78.9 86.4h0.9v0.9h-0.9zM81.0 82.1h0.9v0.9h-0.9zM83.1 88.2h0.9v0.9h-0.9zM78.5 78.9h0.9v0.9h-0.9zM80.3 88.7h0.9v0.9h-0.9zM100.3 69.2h0.9v0.9h-0.9zM81.5 83.1h0.9v0.9h-0.9zM74.5 90.3h0.9v0.9h-0.9zM85.1 83.6h0.9v0.9h-0.9zM102.4 71.3h0.9v0.9h-0.9zM92.9 81.5h0.9v0.9h-0.9zM78.8 83.5h0.9v0.9h-0.9zM98.8 77.6h0.9v0.9h-0.9zM84.1 78.3h0.9v0.9h-0.9zM93.0 80.1h0.9v0.9h-0.9zM105.3 77.1h0.9v0.9h-0.9zM91.9 79.6h0.9v0.9h-0.9zM84.5 80.5h0.9v0.9h-0.9zM87.9 81.9h0.9v0.9h-0.9zM92.2 83.0h0.9v0.9h-0.9zM86.5 79.3h0.9v0.9h-0.9zM94.3 83.7h0.9v0.9h-0.9zM79.1 87.7h0.9v0.9h-0.9zM90.4 81.7h0.9v0.9h-0.9zM88.9 79.9h0.9v0.9h-0.9zM87.3 88.4h0.9v0.9h-0.9zM96.3 70.0h0.9v0.9h-0.9zM78.7 84.0h0.9v0.9h-0.9zM72.9 91.0h0.9v0.9h-0.9zM83.6 81.0h0.9v0.9h-0.9zM96.7 86.1h0.9v0.9h-0.9zM99.0 79.4h0.9v0.9h-0.9zM82.9 86.5h0.9v0.9h-0.9zM86.8 86.4h0.9v0.9h-0.9zM89.6 79.7h0.9v0.9h-0.9zM88.1 77.7h0.9v0.9h-0.9zM94.1 83.7h0.9v0.9h-0.9zM83.1 85.9h0.9v0.9h-0.9zM73.4 93.2h0.9v0.9h-0.9zM90.1 75.2h0.9v0.9h-0.9zM99.2 74.8h0.9v0.9h-0.9zM68.6 86.1h0.9v0.9h-0.9zM91.5 77.6h0.9v0.9h-0.9zM91.0 72.5h0.9v0.9h-0.9zM86.0 86.1h0.9v0.9h-0.9zM80.8 87.8h0.9v0.9h-0.9zM82.8 85.3h0.9v0.9h-0.9zM91.7 88.1h0.9v0.9h-0.9zM76.5 90.7h0.9v0.9h-0.9zM93.4 72.9h0.9v0.9h-0.9zM89.9 89.5h0.9v0.9h-0.9zM87.9 68.2h0.9v0.9h-0.9zM79.9 78.1h0.9v0.9h-0.9zM86.1 78.8h0.9v0.9h-0.9zM79.0 82.4h0.9v0.9h-0.9zM86.5 79.7h0.9v0.9h-0.9zM77.4 85.9h0.9v0.9h-0.9zM86.7 77.9h0.9v0.9h-0.9zM90.8 72.1h0.9v0.9h-0.9zM87.5 79.4h0.9v0.9h-0.9zM96.4 73.2h0.9v0.9h-0.9zM77.2 81.3h0.9v0.9h-0.9zM102.0 75.3h0.9v0.9h-0.9zM75.7 86.4h0.9v0.9h-0.9zM80.2 91.8h0.9v0.9h-0.9zM84.6 74.1h0.9v0.9h-0.9zM88.4 84.5h0.9v0.9h-0.9zM85.9 84.0h0.9v0.9h-0.9zM84.5 83.7h0.9v0.9h-0.9zM85.4 79.3h0.9v0.9h-0.9zM88.1 81.4h0.9v0.9h-0.9zM83.4 80.5h0.9v0.9h-0.9zM77.3 88.0h0.9v0.9h-0.9zM87.1 71.0h0.9v0.9h-0.9zM83.2 89.3h0.9v0.9h-0.9zM91.0 76.0h0.9v0.9h-0.9zM94.0 73.1h0.9v0.9h-0.9zM82.3 92.3h0.9v0.9h-0.9zM81.1 83.8h0.9v0.9h-0.9zM69.9 86.9h0.9v0.9h-0.9zM75.3 87.5h0.9v0.9h-0.9zM72.3 94.4h0.9v0.9h-0.9zM81.0 82.2h0.9v0.9h-0.9zM81.3 87.8h0.9v0.9h-0.9zM96.5 74.1h0.9v0.9h-0.9zM100.9 80.2h0.9v0.9h-0.9zM96.3 77.3h0.9v0.9h-0.9zM74.3 91.5h0.9v0.9h-0.9zM82.1 85.0h0.9v0.9h-0.9zM69.4 90.3h0.9v0.9h-0.9zM85.1 78.4h0.9v0.9h-0.9zM90.4 86.5h0.9v0.9h-0.9zM85.6 79.2h0.9v0.9h-0.9zM100.1 64.6h0.9v0.9h-0.9zM78.4 88.1h0.9v0.9h-0.9zM76.0 77.9h0.9v0.9h-0.9zM88.6 84.0h0.9v0.9h-0.9zM81.3 90.9h0.9v0.9h-0.9zM91.2 84.0h0.9v0.9h-0.9zM72.8 89.5h0.9v0.9h-0.9zM101.5 81.6h0.9v0.9h-0.9zM95.6 76.4h0.9v0.9h-0.9zM85.3 79.6h0.9v0.9h-0.9zM92.5 75.2h0.9v0.9h-0.9zM82.2 75.3h0.9v0.9h-0.9zM85.9 82.9h0.9v0.9h-0.9zM67.3 92.6h0.9v0.9h-0.9zM98.8 68.1h0.9v0.9h-0.9zM65.6 93.0h0.9v0.9h-0.9zM80.3 84.3h0.9v0.9h-0.9zM72.4 84.0h0.9v0.9h-0.9zM76.3 90.3h0.9v0.9h-0.9zM86.1 85.4h0.9v0.9h-0.9zM77.4 89.4h0.9v0.9h-0.9zM81.6 84.8h0.9v0.9h-0.9zM92.6 78.3h0.9v0.9h-0.9zM79.1 78.8h0.9v0.9h-0.9zM87.0 84.7h0.9v0.9h-0.9zM79.8 85.2h0.9v0.9h-0.9zM68.3 86.4h0.9v0.9h-0.9zM90.7 84.8h0.9v0.9h-0.9zM79.4 78.6h0.9v0.9h-0.9zM79.0 79.2h0.9v0.9h-0.9zM86.4 90.0h0.9v0.9h-0.9zM87.1 80.6h0.9v0.9h-0.9zM92.6 76.5h0.9v0.9h-0.9zM88.0 81.6h0.9v0.9h-0.9zM85.9 75.7h0.9v0.9h-0.9zM92.4 82.0h0.9v0.9h-0.9zM80.6 91.5h0.9v0.9h-0.9zM86.4 84.6h0.9v0.9h-0.9zM91.1 82.8h0.9v0.9h-0.9zM78.8 83.6h0.9v0.9h-0.9z" fill="#000" opacity="0.5"/>
<path d="M91.0 80.5h0.9v0.9h-0.9zM92.3 77.8h0.9v0.9h-0.9zM83.2 88.8h0.9v0.9h-0.9zM93.4 82.1h0.9v0.9h-0.9zM78.2 85.1h0.9v0.9h-0.9zM78.9 81.7h0.9v0.9h-0.9zM88.2 80.4h0.9v0.9h-0.9zM68.4 72.7h0.9v0.9h-0.9zM78.2 88.0h0.9v0.9h-0.9zM77.2 87.9h0.9v0.9h-0.9zM78.0 77.8h0.9v0.9h-0.9zM102.9 80.4h0.9v0.9h-0.9zM83.7 80.4h0.9v0.9h-0.9zM91.3 66.8h0.9v0.9h-0.9zM79.1 91.6h0.9v0.9h-0.9zM93.3 71.4h0.9v0.9h-0.9zM77.6 87.0h0.9v0.9h-0.9zM68.1 87.1h0.9v0.9h-0.9zM74.7 69.2h0.9v0.9h-0.9zM93.8 79.8h0.9v0.9h-0.9zM92.1 65.5h0.9v0.9h-0.9zM68.4 84.6h0.9v0.9h-0.9zM73.4 85.1h0.9v0.9h-0.9zM88.7 80.9h0.9v0.9h-0.9zM97.4 64.6h0.9v0.9h-0.9zM95.1 74.8h0.9v0.9h-0.9zM72.7 88.8h0.9v0.9h-0.9zM80.2 90.1h0.9v0.9h-0.9zM97.3 68.0h0.9v0.9h-0.9zM75.6 86.8h0.9v0.9h-0.9zM76.4 91.7h0.9v0.9h-0.9zM84.5 74.9h0.9v0.9h-0.9zM79.8 88.3h0.9v0.9h-0.9zM75.8 84.4h0.9v0.9h-0.9zM80.0 94.5h0.9v0.9h-0.9zM98.1 80.9h0.9v0.9h-0.9zM92.4 76.0h0.9v0.9h-0.9zM105.7 71.8h0.9v0.9h-0.9zM91.6 79.9h0.9v0.9h-0.9zM94.0 76.4h0.9v0.9h-0.9zM78.1 73.1h0.9v0.9h-0.9zM103.5 59.3h0.9v0.9h-0.9zM110.1 72.9h0.9v0.9h-0.9zM79.2 85.5h0.9v0.9h-0.9zM78.4 70.1h0.9v0.9h-0.9zM82.3 83.8h0.9v0.9h-0.9zM94.1 65.9h0.9v0.9h-0.9zM88.9 78.1h0.9v0.9h-0.9zM87.1 79.7h0.9v0.9h-0.9zM76.6 75.6h0.9v0.9h-0.9zM91.2 78.8h0.9v0.9h-0.9zM95.3 82.4h0.9v0.9h-0.9zM63.9 76.6h0.9v0.9h-0.9zM76.2 88.3h0.9v0.9h-0.9zM87.1 83.8h0.9v0.9h-0.9zM81.2 78.1h0.9v0.9h-0.9zM89.4 81.0h0.9v0.9h-0.9zM78.5 93.4h0.9v0.9h-0.9zM99.0 74.4h0.9v0.9h-0.9zM83.0 79.6h0.9v0.9h-0.9zM69.0 94.7h0.9v0.9h-0.9zM72.7 84.2h0.9v0.9h-0.9zM93.1 68.5h0.9v0.9h-0.9zM82.0 88.0h0.9v0.9h-0.9zM103.3 63.7h0.9v0.9h-0.9zM95.1 69.1h0.9v0.9h-0.9zM90.8 79.8h0.9v0.9h-0.9zM75.7 93.1h0.9v0.9h-0.9zM105.0 67.9h0.9v0.9h-0.9zM84.2 72.2h0.9v0.9h-0.9zM104.9 68.0h0.9v0.9h-0.9zM73.4 92.7h0.9v0.9h-0.9zM66.7 86.6h0.9v0.9h-0.9zM107.4 61.5h0.9v0.9h-0.9zM76.0 81.6h0.9v0.9h-0.9zM80.5 86.7h0.9v0.9h-0.9zM97.9 64.8h0.9v0.9h-0.9zM84.1 67.8h0.9v0.9h-0.9zM101.5 69.1h0.9v0.9h-0.9zM82.1 92.6h0.9v0.9h-0.9zM88.2 87.7h0.9v0.9h-0.9zM102.1 81.0h0.9v0.9h-0.9zM76.4 85.8h0.9v0.9h-0.9zM88.4 76.5h0.9v0.9h-0.9zM99.5 65.9h0.9v0.9h-0.9zM100.4 80.0h0.9v0.9h-0.9zM73.3 83.4h0.9v0.9h-0.9zM88.8 76.4h0.9v0.9h-0.9zM84.4 77.1h0.9v0.9h-0.9zM85.6 83.0h0.9v0.9h-0.9zM90.7 70.9h0.9v0.9h-0.9zM81.3 76.9h0.9v0.9h-0.9zM78.5 73.9h0.9v0.9h-0.9zM97.7 76.8h0.9v0.9h-0.9zM81.5 77.4h0.9v0.9h-0.9zM77.9 79.8h0.9v0.9h-0.9zM74.0 91.0h0.9v0.9h-0.9zM86.7 67.8h0.9v0.9h-0.9zM79.8 83.8h0.9v0.9h-0.9zM83.2 77.2h0.9v0.9h-0.9zM82.5 79.5h0.9v0.9h-0.9zM98.4 71.0h0.9v0.9h-0.9zM83.0 77.5h0.9v0.9h-0.9zM75.7 80.6h0.9v0.9h-0.9zM91.0 89.3h0.9v0.9h-0.9zM98.0 73.5h0.9v0.9h-0.9zM106.6 73.7h0.9v0.9h-0.9zM86.8 77.7h0.9v0.9h-0.9zM73.7 88.8h0.9v0.9h-0.9zM76.5 74.1h0.9v0.9h-0.9zM88.9 81.1h0.9v0.9h-0.9zM85.7 76.3h0.9v0.9h-0.9zM93.5 82.3h0.9v0.9h-0.9zM83.2 84.7h0.9v0.9h-0.9zM94.8 70.5h0.9v0.9h-0.9zM84.5 75.1h0.9v0.9h-0.9zM90.5 74.0h0.9v0.9h-0.9zM95.2 68.2h0.9v0.9h-0.9zM102.6 66.8h0.9v0.9h-0.9zM72.9 81.2h0.9v0.9h-0.9zM89.6 71.1h0.9v0.9h-0.9zM109.0 74.1h0.9v0.9h-0.9zM86.2 69.2h0.9v0.9h-0.9zM82.4 76.5h0.9v0.9h-0.9zM66.4 94.6h0.9v0.9h-0.9zM107.6 62.1h0.9v0.9h-0.9zM98.0 81.0h0.9v0.9h-0.9zM73.3 84.9h0.9v0.9h-0.9zM89.5 80.6h0.9v0.9h-0.9zM73.1 89.0h0.9v0.9h-0.9zM86.8 85.6h0.9v0.9h-0.9zM65.6 88.1h0.9v0.9h-0.9zM78.4 81.9h0.9v0.9h-0.9zM91.0 71.8h0.9v0.9h-0.9zM112.9 57.5h0.9v0.9h-0.9zM97.5 79.4h0.9v0.9h-0.9zM95.0 72.3h0.9v0.9h-0.9zM75.0 84.4h0.9v0.9h-0.9zM92.7 76.0h0.9v0.9h-0.9zM93.2 78.9h0.9v0.9h-0.9zM72.3 81.3h0.9v0.9h-0.9zM99.3 67.6h0.9v0.9h-0.9zM72.8 81.0h0.9v0.9h-0.9zM92.1 67.6h0.9v0.9h-0.9zM78.7 91.3h0.9v0.9h-0.9zM94.6 93.0h0.9v0.9h-0.9zM86.6 79.4h0.9v0.9h-0.9zM77.2 83.3h0.9v0.9h-0.9zM79.4 83.3h0.9v0.9h-0.9zM89.5 68.2h0.9v0.9h-0.9zM68.2 75.7h0.9v0.9h-0.9zM101.3 69.3h0.9v0.9h-0.9zM84.7 79.8h0.9v0.9h-0.9zM97.1 74.7h0.9v0.9h-0.9zM93.8 73.3h0.9v0.9h-0.9zM83.5 80.6h0.9v0.9h-0.9zM64.4 85.8h0.9v0.9h-0.9zM92.6 75.7h0.9v0.9h-0.9zM99.4 83.1h0.9v0.9h-0.9zM109.9 74.2h0.9v0.9h-0.9zM89.0 92.0h0.9v0.9h-0.9zM75.0 85.6h0.9v0.9h-0.9zM95.3 72.0h0.9v0.9h-0.9zM82.5 79.0h0.9v0.9h-0.9zM92.2 58.0h0.9v0.9h-0.9zM102.4 76.6h0.9v0.9h-0.9zM86.0 83.4h0.9v0.9h-0.9zM77.9 92.3h0.9v0.9h-0.9zM100.2 70.1h0.9v0.9h-0.9zM79.7 79.9h0.9v0.9h-0.9zM78.9 74.9h0.9v0.9h-0.9zM86.6 82.9h0.9v0.9h-0.9zM89.9 80.3h0.9v0.9h-0.9zM65.2 85.7h0.9v0.9h-0.9zM95.2 80.7h0.9v0.9h-0.9zM70.5 84.9h0.9v0.9h-0.9zM75.3 90.7h0.9v0.9h-0.9zM88.9 77.8h0.9v0.9h-0.9zM78.9 86.2h0.9v0.9h-0.9zM83.0 76.0h0.9v0.9h-0.9zM86.6 74.3h0.9v0.9h-0.9zM97.5 76.6h0.9v0.9h-0.9zM79.3 87.7h0.9v0.9h-0.9zM83.5 75.9h0.9v0.9h-0.9zM69.6 77.8h0.9v0.9h-0.9zM73.6 89.6h0.9v0.9h-0.9zM96.3 68.5h0.9v0.9h-0.9zM87.9 80.7h0.9v0.9h-0.9zM95.0 76.9h0.9v0.9h-0.9zM101.0 75.4h0.9v0.9h-0.9zM77.9 87.3h0.9v0.9h-0.9zM87.1 82.8h0.9v0.9h-0.9zM84.3 86.3h0.9v0.9h-0.9zM96.9 66.6h0.9v0.9h-0.9zM79.8 85.1h0.9v0.9h-0.9zM90.9 77.4h0.9v0.9h-0.9zM90.4 68.3h0.9v0.9h-0.9zM97.3 80.6h0.9v0.9h-0.9zM98.6 74.5h0.9v0.9h-0.9zM83.7 83.7h0.9v0.9h-0.9zM79.1 72.4h0.9v0.9h-0.9zM78.2 84.0h0.9v0.9h-0.9zM76.3 78.8h0.9v0.9h-0.9zM81.3 79.7h0.9v0.9h-0.9zM85.6 79.3h0.9v0.9h-0.9zM90.1 83.9h0.9v0.9h-0.9zM87.8 81.1h0.9v0.9h-0.9zM82.7 86.2h0.9v0.9h-0.9zM79.3 79.2h0.9v0.9h-0.9zM74.2 93.1h0.9v0.9h-0.9zM80.0 84.9h0.9v0.9h-0.9zM99.2 74.9h0.9v0.9h-0.9zM109.3 63.9h0.9v0.9h-0.9zM97.7 76.9h0.9v0.9h-0.9zM77.9 84.8h0.9v0.9h-0.9zM75.5 78.7h0.9v0.9h-0.9zM85.8 74.0h0.9v0.9h-0.9zM101.2 64.7h0.9v0.9h-0.9zM79.3 84.2h0.9v0.9h-0.9zM79.5 83.8h0.9v0.9h-0.9zM73.8 77.0h0.9v0.9h-0.9zM103.2 71.8h0.9v0.9h-0.9zM85.2 76.6h0.9v0.9h-0.9zM84.3 82.5h0.9v0.9h-0.9zM67.1 85.5h0.9v0.9h-0.9zM79.2 92.5h0.9v0.9h-0.9zM77.1 93.2h0.9v0.9h-0.9zM84.2 80.7h0.9v0.9h-0.9zM102.7 75.1h0.9v0.9h-0.9zM92.0 68.1h0.9v0.9h-0.9zM102.9 80.7h0.9v0.9h-0.9zM82.3 78.2h0.9v0.9h-0.9zM76.2 92.7h0.9v0.9h-0.9zM88.3 78.0h0.9v0.9h-0.9zM94.6 73.9h0.9v0.9h-0.9zM98.2 65.0h0.9v0.9h-0.9zM91.5 68.8h0.9v0.9h-0.9zM99.7 68.9h0.9v0.9h-0.9zM97.2 69.5h0.9v0.9h-0.9zM93.0 83.1h0.9v0.9h-0.9zM75.4 86.7h0.9v0.9h-0.9zM78.5 90.1h0.9v0.9h-0.9zM77.2 82.3h0.9v0.9h-0.9zM86.5 87.3h0.9v0.9h-0.9zM73.4 87.0h0.9v0.9h-0.9zM79.6 79.5h0.9v0.9h-0.9zM75.8 84.6h0.9v0.9h-0.9zM82.2 70.8h0.9v0.9h-0.9zM83.8 72.4h0.9v0.9h-0.9zM92.4 91.5h0.9v0.9h-0.9zM74.1 86.3h0.9v0.9h-0.9zM85.3 86.7h0.9v0.9h-0.9zM74.1 74.2h0.9v0.9h-0.9zM67.8 92.0h0.9v0.9h-0.9zM91.2 83.7h0.9v0.9h-0.9zM81.2 87.1h0.9v0.9h-0.9zM77.4 93.9h0.9v0.9h-0.9zM82.1 77.0h0.9v0.9h-0.9zM92.5 87.6h0.9v0.9h-0.9zM71.7 79.5h0.9v0.9h-0.9zM70.1 81.1h0.9v0.9h-0.9zM85.6 82.1h0.9v0.9h-0.9zM83.8 82.1h0.9v0.9h-0.9zM97.1 70.4h0.9v0.9h-0.9zM63.9 77.0h0.9v0.9h-0.9zM85.5 74.9h0.9v0.9h-0.9zM83.6 83.8h0.9v0.9h-0.9zM85.1 68.8h0.9v0.9h-0.9zM74.7 87.0h0.9v0.9h-0.9zM87.1 86.8h0.9v0.9h-0.9zM72.9 73.0h0.9v0.9h-0.9zM92.7 63.6h0.9v0.9h-0.9zM75.5 88.7h0.9v0.9h-0.9zM89.3 81.1h0.9v0.9h-0.9zM87.2 94.3h0.9v0.9h-0.9zM88.7 72.6h0.9v0.9h-0.9zM93.5 62.8h0.9v0.9h-0.9zM79.5 85.5h0.9v0.9h-0.9zM83.5 74.2h0.9v0.9h-0.9zM107.1 76.6h0.9v0.9h-0.9zM75.9 88.3h0.9v0.9h-0.9zM76.6 82.2h0.9v0.9h-0.9zM96.3 73.8h0.9v0.9h-0.9zM84.1 81.3h0.9v0.9h-0.9zM76.0 94.3h0.9v0.9h-0.9zM80.9 91.8h0.9v0.9h-0.9zM78.5 80.8h0.9v0.9h-0.9zM102.0 70.7h0.9v0.9h-0.9zM76.2 81.7h0.9v0.9h-0.9zM97.6 85.3h0.9v0.9h-0.9zM90.5 73.8h0.9v0.9h-0.9zM70.5 84.3h0.9v0.9h-0.9zM84.5 82.1h0.9v0.9h-0.9zM81.8 91.0h0.9v0.9h-0.9zM72.2 83.0h0.9v0.9h-0.9zM92.0 79.0h0.9v0.9h-0.9zM83.8 87.6h0.9v0.9h-0.9zM92.6 89.2h0.9v0.9h-0.9zM89.8 86.4h0.9v0.9h-0.9zM83.4 82.4h0.9v0.9h-0.9zM85.2 67.5h0.9v0.9h-0.9zM88.2 90.2h0.9v0.9h-0.9zM96.2 75.3h0.9v0.9h-0.9zM91.6 85.7h0.9v0.9h-0.9zM82.7 68.1h0.9v0.9h-0.9zM73.6 85.0h0.9v0.9h-0.9zM85.2 76.7h0.9v0.9h-0.9zM89.1 89.2h0.9v0.9h-0.9zM97.2 76.6h0.9v0.9h-0.9zM85.4 80.2h0.9v0.9h-0.9zM89.8 78.7h0.9v0.9h-0.9zM79.5 89.0h0.9v0.9h-0.9zM75.8 85.5h0.9v0.9h-0.9zM77.4 76.6h0.9v0.9h-0.9zM91.4 75.5h0.9v0.9h-0.9zM71.9 87.6h0.9v0.9h-0.9zM97.0 86.5h0.9v0.9h-0.9zM81.0 87.5h0.9v0.9h-0.9zM71.6 82.3h0.9v0.9h-0.9zM85.3 82.7h0.9v0.9h-0.9zM94.3 72.3h0.9v0.9h-0.9zM100.2 77.3h0.9v0.9h-0.9zM74.8 85.1h0.9v0.9h-0.9zM80.3 95.0h0.9v0.9h-0.9zM81.7 88.3h0.9v0.9h-0.9zM94.2 72.4h0.9v0.9h-0.9zM80.7 85.1h0.9v0.9h-0.9zM72.5 78.9h0.9v0.9h-0.9zM75.5 88.4h0.9v0.9h-0.9zM92.7 87.6h0.9v0.9h-0.9zM76.0 93.8h0.9v0.9h-0.9zM93.0 75.9h0.9v0.9h-0.9zM100.0 68.0h0.9v0.9h-0.9zM75.9 78.3h0.9v0.9h-0.9zM78.2 85.1h0.9v0.9h-0.9zM96.4 81.9h0.9v0.9h-0.9zM79.7 78.1h0.9v0.9h-0.9zM80.0 80.1h0.9v0.9h-0.9zM78.6 81.2h0.9v0.9h-0.9zM75.3 85.7h0.9v0.9h-0.9zM78.8 82.7h0.9v0.9h-0.9zM70.3 90.2h0.9v0.9h-0.9zM93.3 79.4h0.9v0.9h-0.9zM75.4 78.0h0.9v0.9h-0.9zM67.0 83.0h0.9v0.9h-0.9zM77.0 82.8h0.9v0.9h-0.9zM66.0 87.1h0.9v0.9h-0.9zM79.7 89.1h0.9v0.9h-0.9zM104.0 65.6h0.9v0.9h-0.9zM80.8 79.9h0.9v0.9h-0.9zM82.3 80.5h0.9v0.9h-0.9zM108.6 57.6h0.9v0.9h-0.9zM81.3 76.8h0.9v0.9h-0.9zM87.3 74.9h0.9v0.9h-0.9zM87.9 70.6h0.9v0.9h-0.9zM108.7 66.6h0.9v0.9h-0.9zM76.2 77.4h0.9v0.9h-0.9zM88.2 74.4h0.9v0.9h-0.9zM91.3 72.2h0.9v0.9h-0.9zM95.3 74.6h0.9v0.9h-0.9zM89.4 78.4h0.9v0.9h-0.9zM79.9 80.7h0.9v0.9h-0.9zM92.2 80.5h0.9v0.9h-0.9zM87.6 94.0h0.9v0.9h-0.9zM99.9 62.7h0.9v0.9h-0.9zM96.6 72.2h0.9v0.9h-0.9zM85.1 74.4h0.9v0.9h-0.9zM100.4 64.6h0.9v0.9h-0.9zM81.8 76.9h0.9v0.9h-0.9zM110.0 73.1h0.9v0.9h-0.9zM69.2 86.7h0.9v0.9h-0.9zM87.6 75.4h0.9v0.9h-0.9zM77.8 77.0h0.9v0.9h-0.9zM84.3 72.8h0.9v0.9h-0.9zM101.6 86.4h0.9v0.9h-0.9zM86.6 90.5h0.9v0.9h-0.9zM87.0 74.1h0.9v0.9h-0.9zM78.2 77.5h0.9v0.9h-0.9zM88.4 82.7h0.9v0.9h-0.9zM94.3 72.3h0.9v0.9h-0.9zM71.8 87.7h0.9v0.9h-0.9zM104.1 70.0h0.9v0.9h-0.9zM77.8 70.0h0.9v0.9h-0.9zM82.0 85.7h0.9v0.9h-0.9zM78.9 93.2h0.9v0.9h-0.9zM76.1 79.5h0.9v0.9h-0.9zM78.4 83.5h0.9v0.9h-0.9zM94.1 70.4h0.9v0.9h-0.9zM65.4 91.7h0.9v0.9h-0.9zM95.5 84.2h0.9v0.9h-0.9zM93.8 77.7h0.9v0.9h-0.9zM73.9 80.8h0.9v0.9h-0.9zM77.6 91.2h0.9v0.9h-0.9zM90.7 83.9h0.9v0.9h-0.9zM104.8 67.8h0.9v0.9h-0.9zM90.5 89.9h0.9v0.9h-0.9zM69.5 86.6h0.9v0.9h-0.9zM79.8 80.6h0.9v0.9h-0.9zM84.0 74.9h0.9v0.9h-0.9zM93.4 65.3h0.9v0.9h-0.9zM70.9 77.1h0.9v0.9h-0.9zM71.6 92.4h0.9v0.9h-0.9zM91.2 74.8h0.9v0.9h-0.9zM96.1 77.4h0.9v0.9h-0.9zM78.6 83.7h0.9v0.9h-0.9zM95.3 87.6h0.9v0.9h-0.9zM81.4 84.9h0.9v0.9h-0.9zM94.7 82.4h0.9v0.9h-0.9zM93.0 82.5h0.9v0.9h-0.9zM72.7 85.9h0.9v0.9h-0.9zM63.9 92.9h0.9v0.9h-0.9zM111.1 65.4h0.9v0.9h-0.9zM86.8 80.7h0.9v0.9h-0.9zM82.5 72.4h0.9v0.9h-0.9zM77.0 83.8h0.9v0.9h-0.9zM84.2 74.6h0.9v0.9h-0.9zM81.6 77.1h0.9v0.9h-0.9zM68.7 85.7h0.9v0.9h-0.9zM78.9 89.7h0.9v0.9h-0.9zM101.3 73.8h0.9v0.9h-0.9zM81.0 78.7h0.9v0.9h-0.9zM66.4 88.0h0.9v0.9h-0.9zM105.6 75.2h0.9v0.9h-0.9zM86.7 77.3h0.9v0.9h-0.9zM86.4 82.1h0.9v0.9h-0.9zM86.3 82.2h0.9v0.9h-0.9zM76.8 85.5h0.9v0.9h-0.9zM84.6 87.8h0.9v0.9h-0.9zM75.6 94.9h0.9v0.9h-0.9zM82.5 78.1h0.9v0.9h-0.9zM85.6 80.5h0.9v0.9h-0.9zM83.8 83.7h0.9v0.9h-0.9zM73.5 75.5h0.9v0.9h-0.9zM92.5 75.2h0.9v0.9h-0.9zM104.3 70.7h0.9v0.9h-0.9zM79.3 87.4h0.9v0.9h-0.9zM112.5 70.4h0.9v0.9h-0.9zM72.9 87.0h0.9v0.9h-0.9zM69.7 94.2h0.9v0.9h-0.9zM87.9 71.1h0.9v0.9h-0.9zM92.8 81.6h0.9v0.9h-0.9zM91.7 71.2h0.9v0.9h-0.9zM74.1 79.2h0.9v0.9h-0.9zM72.0 90.3h0.9v0.9h-0.9zM89.5 86.2h0.9v0.9h-0.9zM87.0 76.6h0.9v0.9h-0.9zM86.7 78.8h0.9v0.9h-0.9zM70.9 81.6h0.9v0.9h-0.9zM88.9 70.9h0.9v0.9h-0.9zM93.3 79.2h0.9v0.9h-0.9zM75.9 74.6h0.9v0.9h-0.9zM93.8 84.2h0.9v0.9h-0.9zM72.2 79.4h0.9v0.9h-0.9zM97.3 73.4h0.9v0.9h-0.9zM82.1 90.3h0.9v0.9h-0.9zM83.4 84.1h0.9v0.9h-0.9zM78.4 79.0h0.9v0.9h-0.9zM84.8 74.3h0.9v0.9h-0.9zM64.2 89.4h0.9v0.9h-0.9zM101.8 77.1h0.9v0.9h-0.9zM111.6 70.3h0.9v0.9h-0.9zM103.3 70.4h0.9v0.9h-0.9z" fill="#000" opacity="0.3"/>
<path d="M66.3 89.2h0.9v0.9h-0.9zM64.3 91.1h0.9v0.9h-0.9zM66.2 87.8h0.9v0.9h-0.9zM64.7 85.2h0.9v0.9h-0.9zM71.8 84.6h0.9v0.9h-0.9zM65.4 88.0h0.9v0.9h-0.9zM71.5 84.8h0.9v0.9h-0.9zM63.4 75.5h0.9v0.9h-0.9zM62.7 93.3h0.9v0.9h-0.9zM67.7 89.3h0.9v0.9h-0.9zM72.2 88.0h0.9v0.9h-0.9zM69.9 82.6h0.9v0.9h-0.9zM67.6 90.0h0.9v0.9h-0.9zM63.8 85.1h0.9v0.9h-0.9zM75.9 80.4h0.9v0.9h-0.9zM68.4 95.0h0.9v0.9h-0.9zM67.1 86.9h0.9v0.9h-0.9zM66.3 94.8h0.9v0.9h-0.9zM67.6 83.6h0.9v0.9h-0.9zM69.7 84.5h0.9v0.9h-0.9zM71.9 86.8h0.9v0.9h-0.9zM71.2 91.7h0.9v0.9h-0.9zM70.3 86.4h0.9v0.9h-0.9zM68.3 88.8h0.9v0.9h-0.9zM70.2 88.5h0.9v0.9h-0.9zM65.8 85.6h0.9v0.9h-0.9zM69.8 79.4h0.9v0.9h-0.9zM68.0 91.2h0.9v0.9h-0.9zM68.7 84.2h0.9v0.9h-0.9zM67.9 82.8h0.9v0.9h-0.9zM71.9 83.6h0.9v0.9h-0.9zM69.2 87.5h0.9v0.9h-0.9zM66.2 77.3h0.9v0.9h-0.9zM67.4 80.4h0.9v0.9h-0.9zM65.4 86.1h0.9v0.9h-0.9zM65.0 88.2h0.9v0.9h-0.9zM65.1 83.0h0.9v0.9h-0.9zM74.2 92.4h0.9v0.9h-0.9zM65.1 86.1h0.9v0.9h-0.9zM71.6 91.5h0.9v0.9h-0.9zM65.1 91.1h0.9v0.9h-0.9zM70.5 82.5h0.9v0.9h-0.9zM76.4 84.2h0.9v0.9h-0.9zM77.6 85.0h0.9v0.9h-0.9zM65.9 82.9h0.9v0.9h-0.9zM73.8 85.8h0.9v0.9h-0.9zM69.9 77.7h0.9v0.9h-0.9zM75.0 92.7h0.9v0.9h-0.9zM69.4 90.8h0.9v0.9h-0.9zM66.0 82.9h0.9v0.9h-0.9zM72.8 91.8h0.9v0.9h-0.9zM71.6 90.9h0.9v0.9h-0.9zM64.4 77.4h0.9v0.9h-0.9zM70.5 87.2h0.9v0.9h-0.9zM71.9 84.3h0.9v0.9h-0.9zM64.5 89.1h0.9v0.9h-0.9zM65.8 75.2h0.9v0.9h-0.9zM65.6 80.2h0.9v0.9h-0.9zM63.6 82.4h0.9v0.9h-0.9zM74.8 83.3h0.9v0.9h-0.9zM72.5 85.6h0.9v0.9h-0.9zM69.6 81.6h0.9v0.9h-0.9zM67.7 74.9h0.9v0.9h-0.9zM75.0 81.0h0.9v0.9h-0.9zM70.3 82.2h0.9v0.9h-0.9zM69.1 78.3h0.9v0.9h-0.9zM66.5 92.2h0.9v0.9h-0.9zM70.3 73.2h0.9v0.9h-0.9zM71.3 77.4h0.9v0.9h-0.9zM69.1 89.6h0.9v0.9h-0.9zM65.5 84.0h0.9v0.9h-0.9zM67.0 88.8h0.9v0.9h-0.9zM67.0 91.2h0.9v0.9h-0.9zM67.5 86.7h0.9v0.9h-0.9zM64.4 88.7h0.9v0.9h-0.9zM75.9 87.1h0.9v0.9h-0.9zM67.9 86.1h0.9v0.9h-0.9zM70.8 84.8h0.9v0.9h-0.9zM68.0 87.6h0.9v0.9h-0.9zM73.1 92.4h0.9v0.9h-0.9zM63.9 81.9h0.9v0.9h-0.9zM68.1 91.8h0.9v0.9h-0.9zM71.8 84.7h0.9v0.9h-0.9zM76.3 85.0h0.9v0.9h-0.9zM74.2 87.5h0.9v0.9h-0.9zM70.3 76.0h0.9v0.9h-0.9zM70.8 93.2h0.9v0.9h-0.9zM67.6 93.0h0.9v0.9h-0.9zM64.3 79.2h0.9v0.9h-0.9zM74.5 80.0h0.9v0.9h-0.9zM64.8 83.5h0.9v0.9h-0.9zM71.5 83.0h0.9v0.9h-0.9zM70.9 89.8h0.9v0.9h-0.9zM65.5 70.4h0.9v0.9h-0.9zM64.4 77.8h0.9v0.9h-0.9zM74.4 81.3h0.9v0.9h-0.9zM63.8 88.6h0.9v0.9h-0.9zM68.2 79.9h0.9v0.9h-0.9zM72.3 92.2h0.9v0.9h-0.9zM69.1 81.1h0.9v0.9h-0.9zM64.6 72.5h0.9v0.9h-0.9zM69.5 88.7h0.9v0.9h-0.9zM64.4 86.3h0.9v0.9h-0.9zM80.8 78.6h0.9v0.9h-0.9zM66.3 82.8h0.9v0.9h-0.9zM70.4 85.2h0.9v0.9h-0.9zM71.9 89.5h0.9v0.9h-0.9zM72.6 86.9h0.9v0.9h-0.9zM69.0 76.9h0.9v0.9h-0.9zM68.3 92.0h0.9v0.9h-0.9zM64.0 86.4h0.9v0.9h-0.9zM65.1 79.4h0.9v0.9h-0.9zM65.6 94.6h0.9v0.9h-0.9zM70.7 85.9h0.9v0.9h-0.9zM67.7 86.9h0.9v0.9h-0.9zM69.1 87.3h0.9v0.9h-0.9zM64.6 68.8h0.9v0.9h-0.9zM70.8 78.1h0.9v0.9h-0.9zM67.4 85.5h0.9v0.9h-0.9zM65.7 89.6h0.9v0.9h-0.9zM66.9 84.2h0.9v0.9h-0.9zM64.3 84.2h0.9v0.9h-0.9zM63.9 86.4h0.9v0.9h-0.9zM73.2 92.8h0.9v0.9h-0.9zM69.7 77.0h0.9v0.9h-0.9zM72.0 92.3h0.9v0.9h-0.9zM76.1 71.1h0.9v0.9h-0.9zM68.1 83.9h0.9v0.9h-0.9zM72.3 78.8h0.9v0.9h-0.9zM71.9 72.8h0.9v0.9h-0.9zM65.6 90.0h0.9v0.9h-0.9zM68.4 76.3h0.9v0.9h-0.9zM65.5 93.6h0.9v0.9h-0.9zM72.7 82.1h0.9v0.9h-0.9zM72.4 81.3h0.9v0.9h-0.9zM69.0 85.9h0.9v0.9h-0.9zM63.1 88.2h0.9v0.9h-0.9zM66.5 67.8h0.9v0.9h-0.9zM64.7 80.4h0.9v0.9h-0.9zM64.7 79.5h0.9v0.9h-0.9zM65.3 69.7h0.9v0.9h-0.9zM71.5 86.5h0.9v0.9h-0.9zM69.0 84.3h0.9v0.9h-0.9zM68.3 84.3h0.9v0.9h-0.9zM63.7 75.9h0.9v0.9h-0.9zM68.3 92.8h0.9v0.9h-0.9zM62.6 84.3h0.9v0.9h-0.9zM65.6 94.3h0.9v0.9h-0.9zM74.7 82.6h0.9v0.9h-0.9zM70.9 84.4h0.9v0.9h-0.9zM64.1 85.3h0.9v0.9h-0.9zM70.3 94.0h0.9v0.9h-0.9zM69.4 69.8h0.9v0.9h-0.9zM71.2 86.6h0.9v0.9h-0.9zM64.0 91.3h0.9v0.9h-0.9zM69.3 84.9h0.9v0.9h-0.9zM66.9 89.6h0.9v0.9h-0.9zM70.3 90.4h0.9v0.9h-0.9zM66.4 77.2h0.9v0.9h-0.9zM73.2 94.7h0.9v0.9h-0.9zM65.8 85.8h0.9v0.9h-0.9zM71.2 74.3h0.9v0.9h-0.9zM69.1 81.3h0.9v0.9h-0.9zM76.0 86.1h0.9v0.9h-0.9zM68.8 83.2h0.9v0.9h-0.9zM68.7 74.0h0.9v0.9h-0.9zM63.0 76.1h0.9v0.9h-0.9zM71.5 85.4h0.9v0.9h-0.9zM72.5 72.4h0.9v0.9h-0.9zM64.9 73.5h0.9v0.9h-0.9zM65.1 83.7h0.9v0.9h-0.9zM67.9 94.8h0.9v0.9h-0.9zM70.3 82.7h0.9v0.9h-0.9zM66.1 76.1h0.9v0.9h-0.9zM73.0 94.4h0.9v0.9h-0.9zM68.4 80.0h0.9v0.9h-0.9zM70.7 89.3h0.9v0.9h-0.9zM68.6 78.2h0.9v0.9h-0.9zM68.9 82.2h0.9v0.9h-0.9zM70.9 90.0h0.9v0.9h-0.9zM69.7 83.1h0.9v0.9h-0.9zM74.0 91.2h0.9v0.9h-0.9zM73.0 91.6h0.9v0.9h-0.9zM70.6 88.6h0.9v0.9h-0.9zM63.8 73.8h0.9v0.9h-0.9zM64.3 90.1h0.9v0.9h-0.9zM71.6 87.2h0.9v0.9h-0.9zM66.4 74.0h0.9v0.9h-0.9zM70.8 90.9h0.9v0.9h-0.9zM67.1 91.5h0.9v0.9h-0.9zM67.8 81.2h0.9v0.9h-0.9zM66.5 91.1h0.9v0.9h-0.9zM71.7 78.5h0.9v0.9h-0.9zM64.1 86.8h0.9v0.9h-0.9zM76.3 78.2h0.9v0.9h-0.9zM63.1 88.8h0.9v0.9h-0.9zM70.0 81.9h0.9v0.9h-0.9zM67.9 89.3h0.9v0.9h-0.9zM70.4 92.2h0.9v0.9h-0.9zM72.6 85.5h0.9v0.9h-0.9zM71.0 81.7h0.9v0.9h-0.9zM72.1 93.0h0.9v0.9h-0.9zM67.5 70.2h0.9v0.9h-0.9zM66.2 80.9h0.9v0.9h-0.9zM64.7 85.5h0.9v0.9h-0.9zM63.8 88.6h0.9v0.9h-0.9zM75.4 78.0h0.9v0.9h-0.9zM72.1 82.4h0.9v0.9h-0.9zM70.1 85.2h0.9v0.9h-0.9zM73.0 81.2h0.9v0.9h-0.9zM70.9 80.8h0.9v0.9h-0.9zM68.9 85.9h0.9v0.9h-0.9zM72.3 75.4h0.9v0.9h-0.9zM64.0 87.4h0.9v0.9h-0.9zM67.8 83.0h0.9v0.9h-0.9zM70.8 85.3h0.9v0.9h-0.9zM65.1 91.1h0.9v0.9h-0.9zM73.3 82.7h0.9v0.9h-0.9zM66.7 88.5h0.9v0.9h-0.9zM72.4 89.5h0.9v0.9h-0.9zM64.2 82.2h0.9v0.9h-0.9zM72.1 85.2h0.9v0.9h-0.9zM65.5 91.9h0.9v0.9h-0.9zM63.8 81.3h0.9v0.9h-0.9zM65.3 88.4h0.9v0.9h-0.9zM66.1 93.5h0.9v0.9h-0.9zM65.5 84.2h0.9v0.9h-0.9zM70.2 87.4h0.9v0.9h-0.9zM70.3 82.7h0.9v0.9h-0.9zM68.8 78.6h0.9v0.9h-0.9zM63.2 84.0h0.9v0.9h-0.9zM69.4 86.7h0.9v0.9h-0.9zM65.0 76.7h0.9v0.9h-0.9zM69.4 80.6h0.9v0.9h-0.9zM72.6 89.6h0.9v0.9h-0.9zM66.4 81.9h0.9v0.9h-0.9zM72.4 88.2h0.9v0.9h-0.9zM74.4 88.4h0.9v0.9h-0.9zM65.7 82.0h0.9v0.9h-0.9zM65.3 87.7h0.9v0.9h-0.9zM69.0 90.1h0.9v0.9h-0.9zM69.8 79.0h0.9v0.9h-0.9zM67.2 79.7h0.9v0.9h-0.9zM69.9 77.2h0.9v0.9h-0.9zM65.7 80.2h0.9v0.9h-0.9zM65.6 84.3h0.9v0.9h-0.9zM73.9 84.3h0.9v0.9h-0.9zM70.9 89.7h0.9v0.9h-0.9zM72.3 86.6h0.9v0.9h-0.9zM72.7 77.0h0.9v0.9h-0.9zM67.3 80.2h0.9v0.9h-0.9zM71.9 85.4h0.9v0.9h-0.9zM68.6 85.9h0.9v0.9h-0.9zM68.7 84.8h0.9v0.9h-0.9zM64.2 84.1h0.9v0.9h-0.9zM68.4 80.0h0.9v0.9h-0.9zM66.9 86.1h0.9v0.9h-0.9zM68.4 81.1h0.9v0.9h-0.9zM67.9 86.0h0.9v0.9h-0.9zM68.5 76.1h0.9v0.9h-0.9zM66.7 81.8h0.9v0.9h-0.9zM62.7 83.9h0.9v0.9h-0.9zM67.6 81.4h0.9v0.9h-0.9zM66.6 92.0h0.9v0.9h-0.9zM71.1 89.7h0.9v0.9h-0.9zM67.3 76.9h0.9v0.9h-0.9zM73.0 93.8h0.9v0.9h-0.9zM69.1 88.5h0.9v0.9h-0.9zM67.9 94.4h0.9v0.9h-0.9zM71.0 83.8h0.9v0.9h-0.9zM68.0 75.2h0.9v0.9h-0.9zM65.2 84.0h0.9v0.9h-0.9zM77.5 80.5h0.9v0.9h-0.9zM71.6 86.5h0.9v0.9h-0.9zM66.9 90.2h0.9v0.9h-0.9zM75.5 88.0h0.9v0.9h-0.9zM67.8 87.1h0.9v0.9h-0.9zM70.6 82.7h0.9v0.9h-0.9zM68.5 89.4h0.9v0.9h-0.9zM66.6 88.6h0.9v0.9h-0.9zM69.3 90.8h0.9v0.9h-0.9zM64.2 82.4h0.9v0.9h-0.9zM66.3 94.0h0.9v0.9h-0.9zM69.0 74.9h0.9v0.9h-0.9zM69.3 77.3h0.9v0.9h-0.9zM64.5 87.0h0.9v0.9h-0.9zM66.6 84.0h0.9v0.9h-0.9zM75.5 79.4h0.9v0.9h-0.9zM74.1 88.3h0.9v0.9h-0.9zM68.4 94.6h0.9v0.9h-0.9zM69.9 80.4h0.9v0.9h-0.9z" fill="#000" opacity="0.4"/>
<ellipse cx="85.00" cy="82.50" rx="8.50" ry="3.00" transform="rotate(-30 85.00 82.50)" fill="#000" opacity="0.45" filter="url(#blur)"/>
<ellipse cx="68.00" cy="86.00" rx="3.00" ry="5.00" transform="rotate(0 68.00 86.00)" fill="#000" opacity="0.2" filter="url(#blur)"/>
</g>
<g clip-path="url(#cb2)">
<path d="M148.9 82.9h0.9v0.9h-0.9zM148.0 85.4h0.9v0.9h-0.9zM145.5 78.5h0.9v0.9h-0.9zM147.3 73.9h0.9v0.9h-0.9zM143.4 60.6h0.9v0.9h-0.9zM148.2 87.0h0.9v0.9h-0.9zM147.3 64.3h0.9v0.9h-0.9zM149.1 74.7h0.9v0.9h-0.9zM148.3 74.1h0.9v0.9h-0.9zM141.3 70.5h0.9v0.9h-0.9zM147.6 57.0h0.9v0.9h-0.9zM146.1 76.2h0.9v0.9h-0.9zM148.1 78.3h0.9v0.9h-0.9zM147.8 58.1h0.9v0.9h-0.9zM143.5 92.4h0.9v0.9h-0.9zM152.6 88.8h0.9v0.9h-0.9zM142.5 84.5h0.9v0.9h-0.9zM149.9 82.6h0.9v0.9h-0.9zM151.4 93.2h0.9v0.9h-0.9zM145.8 66.8h0.9v0.9h-0.9zM153.0 74.5h0.9v0.9h-0.9zM148.0 78.4h0.9v0.9h-0.9zM145.9 58.4h0.9v0.9h-0.9zM146.6 78.5h0.9v0.9h-0.9zM149.4 73.1h0.9v0.9h-0.9zM143.2 65.5h0.9v0.9h-0.9zM146.9 83.4h0.9v0.9h-0.9zM148.8 74.9h0.9v0.9h-0.9zM148.3 81.9h0.9v0.9h-0.9zM151.1 79.3h0.9v0.9h-0.9zM147.4 87.6h0.9v0.9h-0.9zM150.0 67.6h0.9v0.9h-0.9zM145.9 76.3h0.9v0.9h-0.9zM149.6 80.3h0.9v0.9h-0.9zM149.2 60.9h0.9v0.9h-0.9zM150.7 85.7h0.9v0.9h-0.9zM144.1 80.7h0.9v0.9h-0.9zM148.8 93.3h0.9v0.9h-0.9zM147.4 73.0h0.9v0.9h-0.9zM148.9 69.7h0.9v0.9h-0.9zM146.8 90.3h0.9v0.9h-0.9zM143.5 85.1h0.9v0.9h-0.9zM142.2 67.5h0.9v0.9h-0.9zM144.0 78.8h0.9v0.9h-0.9zM148.7 79.3h0.9v0.9h-0.9zM149.2 81.3h0.9v0.9h-0.9zM146.5 86.6h0.9v0.9h-0.9zM146.4 81.8h0.9v0.9h-0.9zM149.5 72.3h0.9v0.9h-0.9zM149.8 65.1h0.9v0.9h-0.9zM146.5 56.6h0.9v0.9h-0.9zM143.4 66.4h0.9v0.9h-0.9zM148.1 91.2h0.9v0.9h-0.9zM149.0 57.4h0.9v0.9h-0.9zM148.2 79.0h0.9v0.9h-0.9zM147.3 86.4h0.9v0.9h-0.9zM146.3 57.2h0.9v0.9h-0.9zM144.4 60.5h0.9v0.9h-0.9zM143.8 78.2h0.9v0.9h-0.9zM150.2 70.4h0.9v0.9h-0.9zM145.1 64.5h0.9v0.9h-0.9zM142.8 80.9h0.9v0.9h-0.9zM145.8 76.8h0.9v0.9h-0.9zM144.7 86.6h0.9v0.9h-0.9zM144.1 87.4h0.9v0.9h-0.9zM145.4 90.6h0.9v0.9h-0.9zM144.8 86.0h0.9v0.9h-0.9zM148.1 78.9h0.9v0.9h-0.9zM151.0 82.4h0.9v0.9h-0.9zM144.8 89.4h0.9v0.9h-0.9zM145.0 72.7h0.9v0.9h-0.9zM147.0 82.5h0.9v0.9h-0.9zM151.1 56.4h0.9v0.9h-0.9zM146.6 84.3h0.9v0.9h-0.9zM150.7 63.4h0.9v0.9h-0.9zM147.1 90.7h0.9v0.9h-0.9zM145.6 56.3h0.9v0.9h-0.9zM144.6 82.6h0.9v0.9h-0.9zM150.2 59.1h0.9v0.9h-0.9zM149.5 92.4h0.9v0.9h-0.9zM150.9 77.9h0.9v0.9h-0.9zM145.6 82.0h0.9v0.9h-0.9zM150.8 88.4h0.9v0.9h-0.9zM151.1 90.6h0.9v0.9h-0.9zM145.6 66.3h0.9v0.9h-0.9zM151.5 59.5h0.9v0.9h-0.9zM146.1 75.7h0.9v0.9h-0.9zM144.8 72.3h0.9v0.9h-0.9zM146.8 72.9h0.9v0.9h-0.9zM147.3 92.7h0.9v0.9h-0.9zM145.0 74.5h0.9v0.9h-0.9zM142.7 89.5h0.9v0.9h-0.9zM149.1 76.3h0.9v0.9h-0.9zM146.0 75.8h0.9v0.9h-0.9zM144.0 90.4h0.9v0.9h-0.9zM145.5 70.2h0.9v0.9h-0.9zM148.3 81.5h0.9v0.9h-0.9zM145.6 76.8h0.9v0.9h-0.9zM149.4 70.2h0.9v0.9h-0.9zM148.1 89.1h0.9v0.9h-0.9zM141.9 91.5h0.9v0.9h-0.9zM147.8 87.9h0.9v0.9h-0.9zM148.2 87.1h0.9v0.9h-0.9zM145.8 92.2h0.9v0.9h-0.9zM147.2 65.8h0.9v0.9h-0.9zM144.5 82.2h0.9v0.9h-0.9zM147.8 50.1h0.9v0.9h-0.9zM142.0 94.2h0.9v0.9h-0.9zM143.3 76.6h0.9v0.9h-0.9zM145.5 87.6h0.9v0.9h-0.9zM144.0 84.2h0.9v0.9h-0.9zM147.4 88.4h0.9v0.9h-0.9zM146.8 79.7h0.9v0.9h-0.9zM146.4 65.5h0.9v0.9h-0.9zM148.8 84.6h0.9v0.9h-0.9zM144.9 76.1h0.9v0.9h-0.9zM147.0 91.6h0.9v0.9h-0.9zM146.6 92.7h0.9v0.9h-0.9zM148.1 56.1h0.9v0.9h-0.9zM145.3 52.4h0.9v0.9h-0.9zM146.3 74.3h0.9v0.9h-0.9zM148.4 82.3h0.9v0.9h-0.9zM148.5 63.3h0.9v0.9h-0.9zM145.3 84.5h0.9v0.9h-0.9zM151.2 77.3h0.9v0.9h-0.9zM146.6 83.6h0.9v0.9h-0.9zM148.9 78.8h0.9v0.9h-0.9zM147.7 74.3h0.9v0.9h-0.9zM145.7 69.2h0.9v0.9h-0.9zM148.6 72.4h0.9v0.9h-0.9zM148.3 85.5h0.9v0.9h-0.9zM149.4 43.5h0.9v0.9h-0.9zM144.6 63.4h0.9v0.9h-0.9zM146.6 90.9h0.9v0.9h-0.9zM150.3 85.2h0.9v0.9h-0.9zM146.1 87.3h0.9v0.9h-0.9zM141.7 92.7h0.9v0.9h-0.9zM147.0 88.4h0.9v0.9h-0.9zM144.5 65.1h0.9v0.9h-0.9zM145.4 79.4h0.9v0.9h-0.9zM147.9 75.2h0.9v0.9h-0.9zM147.9 89.3h0.9v0.9h-0.9zM144.2 78.6h0.9v0.9h-0.9zM143.2 72.5h0.9v0.9h-0.9zM149.2 70.3h0.9v0.9h-0.9zM151.6 86.9h0.9v0.9h-0.9zM149.2 81.4h0.9v0.9h-0.9zM149.1 94.9h0.9v0.9h-0.9zM147.3 72.8h0.9v0.9h-0.9zM146.6 73.8h0.9v0.9h-0.9zM145.3 57.1h0.9v0.9h-0.9zM145.8 84.4h0.9v0.9h-0.9zM145.8 69.7h0.9v0.9h-0.9zM148.0 86.3h0.9v0.9h-0.9zM145.9 84.2h0.9v0.9h-0.9zM144.6 91.7h0.9v0.9h-0.9zM144.6 75.4h0.9v0.9h-0.9zM147.3 74.3h0.9v0.9h-0.9zM150.7 56.3h0.9v0.9h-0.9zM147.3 62.7h0.9v0.9h-0.9zM147.8 62.3h0.9v0.9h-0.9zM148.4 87.2h0.9v0.9h-0.9zM145.9 92.9h0.9v0.9h-0.9zM145.9 78.5h0.9v0.9h-0.9zM145.8 56.0h0.9v0.9h-0.9zM148.5 52.3h0.9v0.9h-0.9zM146.4 87.2h0.9v0.9h-0.9zM147.3 58.5h0.9v0.9h-0.9zM145.4 89.3h0.9v0.9h-0.9zM142.6 86.3h0.9v0.9h-0.9zM145.8 90.4h0.9v0.9h-0.9zM142.9 78.1h0.9v0.9h-0.9zM148.7 71.2h0.9v0.9h-0.9zM146.1 66.7h0.9v0.9h-0.9zM149.7 61.9h0.9v0.9h-0.9zM144.8 75.5h0.9v0.9h-0.9zM147.7 68.7h0.9v0.9h-0.9zM148.4 84.7h0.9v0.9h-0.9zM147.7 79.1h0.9v0.9h-0.9zM148.1 64.0h0.9v0.9h-0.9zM144.1 74.2h0.9v0.9h-0.9zM144.3 89.6h0.9v0.9h-0.9zM148.1 84.6h0.9v0.9h-0.9zM145.3 62.3h0.9v0.9h-0.9zM148.3 59.8h0.9v0.9h-0.9zM147.7 78.1h0.9v0.9h-0.9zM148.8 80.7h0.9v0.9h-0.9zM147.3 72.1h0.9v0.9h-0.9zM142.8 75.3h0.9v0.9h-0.9zM148.7 94.3h0.9v0.9h-0.9zM150.4 66.4h0.9v0.9h-0.9zM144.7 89.6h0.9v0.9h-0.9zM147.8 59.3h0.9v0.9h-0.9zM142.5 82.1h0.9v0.9h-0.9zM145.9 66.0h0.9v0.9h-0.9zM142.8 70.3h0.9v0.9h-0.9zM140.8 73.5h0.9v0.9h-0.9zM152.3 81.4h0.9v0.9h-0.9zM146.4 64.2h0.9v0.9h-0.9zM147.8 73.6h0.9v0.9h-0.9zM148.1 67.9h0.9v0.9h-0.9zM150.6 79.3h0.9v0.9h-0.9zM148.2 82.0h0.9v0.9h-0.9zM149.9 88.4h0.9v0.9h-0.9zM146.2 89.8h0.9v0.9h-0.9zM146.0 81.8h0.9v0.9h-0.9zM151.0 65.5h0.9v0.9h-0.9zM144.5 74.5h0.9v0.9h-0.9zM150.9 73.9h0.9v0.9h-0.9zM147.5 75.1h0.9v0.9h-0.9zM148.6 89.0h0.9v0.9h-0.9zM148.8 90.4h0.9v0.9h-0.9zM151.7 77.7h0.9v0.9h-0.9zM148.7 77.5h0.9v0.9h-0.9zM147.1 83.0h0.9v0.9h-0.9zM146.9 84.7h0.9v0.9h-0.9zM144.9 77.9h0.9v0.9h-0.9zM145.5 64.1h0.9v0.9h-0.9zM145.3 73.2h0.9v0.9h-0.9zM146.6 58.7h0.9v0.9h-0.9zM146.4 64.6h0.9v0.9h-0.9zM145.0 82.6h0.9v0.9h-0.9zM149.7 83.9h0.9v0.9h-0.9zM145.8 74.0h0.9v0.9h-0.9zM150.3 57.8h0.9v0.9h-0.9zM149.8 59.5h0.9v0.9h-0.9zM145.4 80.6h0.9v0.9h-0.9zM148.2 79.3h0.9v0.9h-0.9zM149.3 80.5h0.9v0.9h-0.9zM146.0 90.5h0.9v0.9h-0.9zM143.0 66.1h0.9v0.9h-0.9zM149.9 86.8h0.9v0.9h-0.9zM148.1 77.5h0.9v0.9h-0.9zM140.9 72.4h0.9v0.9h-0.9zM147.0 83.2h0.9v0.9h-0.9zM148.8 76.4h0.9v0.9h-0.9zM144.8 75.1h0.9v0.9h-0.9zM141.9 64.7h0.9v0.9h-0.9zM151.8 70.6h0.9v0.9h-0.9zM149.6 81.7h0.9v0.9h-0.9zM148.8 76.3h0.9v0.9h-0.9zM144.8 93.7h0.9v0.9h-0.9zM146.4 74.9h0.9v0.9h-0.9zM147.8 77.4h0.9v0.9h-0.9zM146.2 67.8h0.9v0.9h-0.9zM147.6 84.4h0.9v0.9h-0.9zM151.5 79.6h0.9v0.9h-0.9zM142.7 86.4h0.9v0.9h-0.9zM152.6 74.0h0.9v0.9h-0.9zM145.0 77.7h0.9v0.9h-0.9zM140.0 75.4h0.9v0.9h-0.9zM146.5 59.3h0.9v0.9h-0.9zM148.4 68.0h0.9v0.9h-0.9zM142.5 70.2h0.9v0.9h-0.9zM150.1 82.7h0.9v0.9h-0.9zM145.7 76.4h0.9v0.9h-0.9zM149.4 72.9h0.9v0.9h-0.9zM148.0 93.2h0.9v0.9h-0.9zM144.8 71.9h0.9v0.9h-0.9zM148.1 80.1h0.9v0.9h-0.9zM146.7 72.8h0.9v0.9h-0.9zM150.3 57.9h0.9v0.9h-0.9zM147.1 81.3h0.9v0.9h-0.9zM147.1 61.1h0.9v0.9h-0.9zM146.7 82.0h0.9v0.9h-0.9zM145.3 84.3h0.9v0.9h-0.9zM141.0 59.4h0.9v0.9h-0.9zM147.2 85.4h0.9v0.9h-0.9zM146.6 73.7h0.9v0.9h-0.9zM147.5 94.8h0.9v0.9h-0.9zM149.2 78.9h0.9v0.9h-0.9zM145.9 94.6h0.9v0.9h-0.9zM148.3 92.1h0.9v0.9h-0.9zM146.3 68.2h0.9v0.9h-0.9zM147.5 71.4h0.9v0.9h-0.9zM149.8 91.7h0.9v0.9h-0.9zM141.6 89.1h0.9v0.9h-0.9zM150.3 94.2h0.9v0.9h-0.9zM145.8 68.2h0.9v0.9h-0.9zM149.4 93.9h0.9v0.9h-0.9zM147.1 64.2h0.9v0.9h-0.9zM143.3 83.7h0.9v0.9h-0.9zM145.0 70.7h0.9v0.9h-0.9zM148.1 94.4h0.9v0.9h-0.9zM141.9 70.8h0.9v0.9h-0.9zM150.2 79.4h0.9v0.9h-0.9zM146.2 88.8h0.9v0.9h-0.9zM144.2 63.2h0.9v0.9h-0.9zM149.5 79.9h0.9v0.9h-0.9zM149.5 74.4h0.9v0.9h-0.9zM144.1 57.0h0.9v0.9h-0.9zM147.7 92.3h0.9v0.9h-0.9zM147.9 79.5h0.9v0.9h-0.9zM146.0 94.9h0.9v0.9h-0.9zM146.9 60.3h0.9v0.9h-0.9zM150.4 71.1h0.9v0.9h-0.9zM148.0 80.1h0.9v0.9h-0.9zM149.6 83.4h0.9v0.9h-0.9zM150.0 82.9h0.9v0.9h-0.9zM145.9 73.0h0.9v0.9h-0.9zM148.6 68.6h0.9v0.9h-0.9zM149.3 76.7h0.9v0.9h-0.9zM144.7 68.0h0.9v0.9h-0.9zM148.9 80.3h0.9v0.9h-0.9zM146.3 80.0h0.9v0.9h-0.9zM147.4 73.7h0.9v0.9h-0.9zM147.5 66.3h0.9v0.9h-0.9zM144.4 77.8h0.9v0.9h-0.9zM151.9 64.8h0.9v0.9h-0.9zM146.7 58.4h0.9v0.9h-0.9zM147.4 82.9h0.9v0.9h-0.9zM148.8 61.7h0.9v0.9h-0.9zM145.5 71.1h0.9v0.9h-0.9zM146.5 79.4h0.9v0.9h-0.9zM145.8 90.9h0.9v0.9h-0.9zM150.8 65.3h0.9v0.9h-0.9zM149.6 80.4h0.9v0.9h-0.9zM150.1 94.5h0.9v0.9h-0.9zM148.6 57.0h0.9v0.9h-0.9zM147.3 73.1h0.9v0.9h-0.9zM148.1 80.5h0.9v0.9h-0.9zM149.6 58.0h0.9v0.9h-0.9zM145.2 79.0h0.9v0.9h-0.9zM147.8 74.5h0.9v0.9h-0.9zM146.9 80.8h0.9v0.9h-0.9zM149.6 78.4h0.9v0.9h-0.9zM147.6 55.0h0.9v0.9h-0.9zM140.6 59.9h0.9v0.9h-0.9zM147.9 48.3h0.9v0.9h-0.9zM148.0 78.7h0.9v0.9h-0.9zM147.0 70.0h0.9v0.9h-0.9zM146.0 91.4h0.9v0.9h-0.9zM147.9 79.6h0.9v0.9h-0.9zM145.8 82.9h0.9v0.9h-0.9zM149.9 79.7h0.9v0.9h-0.9zM146.1 63.8h0.9v0.9h-0.9zM147.2 67.4h0.9v0.9h-0.9zM143.5 92.0h0.9v0.9h-0.9zM145.5 52.0h0.9v0.9h-0.9zM146.7 61.8h0.9v0.9h-0.9zM144.3 89.9h0.9v0.9h-0.9zM148.0 82.9h0.9v0.9h-0.9zM146.5 86.7h0.9v0.9h-0.9zM150.8 86.7h0.9v0.9h-0.9zM146.6 60.8h0.9v0.9h-0.9zM148.6 62.7h0.9v0.9h-0.9zM145.4 86.8h0.9v0.9h-0.9zM143.1 56.0h0.9v0.9h-0.9zM147.9 89.7h0.9v0.9h-0.9zM146.1 79.7h0.9v0.9h-0.9zM141.6 83.5h0.9v0.9h-0.9zM143.9 70.7h0.9v0.9h-0.9zM143.2 67.5h0.9v0.9h-0.9zM146.9 80.4h0.9v0.9h-0.9zM151.4 77.0h0.9v0.9h-0.9zM147.9 84.9h0.9v0.9h-0.9zM147.3 82.1h0.9v0.9h-0.9zM146.7 80.1h0.9v0.9h-0.9zM146.9 93.7h0.9v0.9h-0.9zM147.0 80.9h0.9v0.9h-0.9zM146.9 90.4h0.9v0.9h-0.9zM145.8 92.9h0.9v0.9h-0.9zM145.6 89.6h0.9v0.9h-0.9zM151.7 83.2h0.9v0.9h-0.9zM146.8 63.7h0.9v0.9h-0.9zM148.8 80.2h0.9v0.9h-0.9zM149.2 70.9h0.9v0.9h-0.9zM148.0 75.5h0.9v0.9h-0.9zM143.8 79.9h0.9v0.9h-0.9zM148.6 88.3h0.9v0.9h-0.9zM144.2 65.8h0.9v0.9h-0.9zM144.6 65.9h0.9v0.9h-0.9zM146.3 83.7h0.9v0.9h-0.9zM151.7 82.7h0.9v0.9h-0.9zM150.6 57.2h0.9v0.9h-0.9zM150.8 91.0h0.9v0.9h-0.9zM148.1 91.4h0.9v0.9h-0.9zM149.0 56.0h0.9v0.9h-0.9zM146.2 70.9h0.9v0.9h-0.9zM146.2 84.4h0.9v0.9h-0.9zM147.5 71.4h0.9v0.9h-0.9zM148.3 88.5h0.9v0.9h-0.9zM144.7 64.6h0.9v0.9h-0.9zM142.2 75.8h0.9v0.9h-0.9zM147.0 70.4h0.9v0.9h-0.9zM145.5 78.2h0.9v0.9h-0.9zM147.1 87.9h0.9v0.9h-0.9zM149.1 86.0h0.9v0.9h-0.9zM149.8 66.6h0.9v0.9h-0.9zM148.5 85.2h0.9v0.9h-0.9zM144.4 70.6h0.9v0.9h-0.9zM148.1 81.0h0.9v0.9h-0.9zM143.9 72.4h0.9v0.9h-0.9zM150.8 91.7h0.9v0.9h-0.9zM144.8 77.6h0.9v0.9h-0.9zM149.4 75.4h0.9v0.9h-0.9zM144.2 88.1h0.9v0.9h-0.9zM151.0 44.9h0.9v0.9h-0.9zM147.4 62.7h0.9v0.9h-0.9zM146.3 60.5h0.9v0.9h-0.9zM153.4 70.6h0.9v0.9h-0.9zM147.1 70.2h0.9v0.9h-0.9zM144.6 73.7h0.9v0.9h-0.9zM144.4 81.0h0.9v0.9h-0.9zM145.9 58.3h0.9v0.9h-0.9zM156.2 76.6h0.9v0.9h-0.9zM147.6 69.6h0.9v0.9h-0.9zM145.6 65.7h0.9v0.9h-0.9zM149.5 74.4h0.9v0.9h-0.9zM146.6 82.5h0.9v0.9h-0.9zM144.0 83.2h0.9v0.9h-0.9zM146.6 86.2h0.9v0.9h-0.9zM146.0 80.5h0.9v0.9h-0.9zM148.3 93.4h0.9v0.9h-0.9zM145.3 93.4h0.9v0.9h-0.9zM144.6 77.4h0.9v0.9h-0.9zM147.3 82.0h0.9v0.9h-0.9zM140.8 66.5h0.9v0.9h-0.9zM146.5 92.8h0.9v0.9h-0.9zM142.5 81.1h0.9v0.9h-0.9zM148.3 80.2h0.9v0.9h-0.9zM147.7 92.9h0.9v0.9h-0.9zM145.0 88.2h0.9v0.9h-0.9zM149.6 76.8h0.9v0.9h-0.9zM141.3 63.5h0.9v0.9h-0.9zM144.9 65.4h0.9v0.9h-0.9zM148.1 68.9h0.9v0.9h-0.9zM153.1 87.9h0.9v0.9h-0.9zM143.8 76.0h0.9v0.9h-0.9zM150.8 89.4h0.9v0.9h-0.9zM144.5 94.3h0.9v0.9h-0.9zM145.6 88.3h0.9v0.9h-0.9zM148.4 73.9h0.9v0.9h-0.9zM148.2 79.2h0.9v0.9h-0.9zM149.3 86.6h0.9v0.9h-0.9zM147.8 58.4h0.9v0.9h-0.9zM147.3 73.3h0.9v0.9h-0.9zM148.8 71.6h0.9v0.9h-0.9zM148.1 65.5h0.9v0.9h-0.9zM149.2 69.9h0.9v0.9h-0.9zM146.9 88.0h0.9v0.9h-0.9zM146.2 80.1h0.9v0.9h-0.9zM142.5 67.5h0.9v0.9h-0.9zM148.7 93.0h0.9v0.9h-0.9zM145.8 81.3h0.9v0.9h-0.9zM146.5 63.5h0.9v0.9h-0.9zM143.2 62.3h0.9v0.9h-0.9zM150.2 74.6h0.9v0.9h-0.9zM151.8 88.8h0.9v0.9h-0.9zM147.9 88.9h0.9v0.9h-0.9zM149.0 92.7h0.9v0.9h-0.9zM144.6 72.3h0.9v0.9h-0.9zM145.6 81.4h0.9v0.9h-0.9zM146.4 63.0h0.9v0.9h-0.9zM152.2 68.2h0.9v0.9h-0.9zM147.9 79.5h0.9v0.9h-0.9zM144.9 89.9h0.9v0.9h-0.9zM148.1 75.7h0.9v0.9h-0.9zM140.5 78.6h0.9v0.9h-0.9zM149.1 70.1h0.9v0.9h-0.9zM149.2 89.4h0.9v0.9h-0.9zM142.6 77.3h0.9v0.9h-0.9zM147.8 90.4h0.9v0.9h-0.9zM147.4 79.8h0.9v0.9h-0.9zM146.1 76.0h0.9v0.9h-0.9zM147.0 65.3h0.9v0.9h-0.9zM148.6 75.5h0.9v0.9h-0.9zM148.3 73.0h0.9v0.9h-0.9zM148.0 81.8h0.9v0.9h-0.9zM149.2 86.4h0.9v0.9h-0.9zM149.3 77.7h0.9v0.9h-0.9zM146.9 76.4h0.9v0.9h-0.9zM143.9 78.3h0.9v0.9h-0.9zM149.7 90.6h0.9v0.9h-0.9zM144.9 84.1h0.9v0.9h-0.9zM148.9 61.2h0.9v0.9h-0.9zM147.9 84.6h0.9v0.9h-0.9zM148.8 83.5h0.9v0.9h-0.9zM142.7 52.2h0.9v0.9h-0.9zM151.9 74.5h0.9v0.9h-0.9zM147.2 64.2h0.9v0.9h-0.9zM150.4 79.5h0.9v0.9h-0.9zM148.3 86.6h0.9v0.9h-0.9zM149.4 94.0h0.9v0.9h-0.9zM143.5 60.6h0.9v0.9h-0.9zM147.4 80.1h0.9v0.9h-0.9zM148.9 78.1h0.9v0.9h-0.9zM149.6 69.1h0.9v0.9h-0.9zM146.8 79.0h0.9v0.9h-0.9zM144.3 68.0h0.9v0.9h-0.9zM147.4 63.3h0.9v0.9h-0.9zM148.3 86.5h0.9v0.9h-0.9zM146.4 75.3h0.9v0.9h-0.9zM148.5 86.6h0.9v0.9h-0.9zM147.9 63.1h0.9v0.9h-0.9zM145.4 75.0h0.9v0.9h-0.9zM142.5 69.0h0.9v0.9h-0.9zM145.2 91.0h0.9v0.9h-0.9zM140.5 60.7h0.9v0.9h-0.9zM146.0 73.2h0.9v0.9h-0.9zM145.1 73.9h0.9v0.9h-0.9zM143.1 83.7h0.9v0.9h-0.9zM150.0 82.1h0.9v0.9h-0.9zM148.2 65.8h0.9v0.9h-0.9zM145.6 71.6h0.9v0.9h-0.9zM145.3 78.0h0.9v0.9h-0.9zM147.3 63.6h0.9v0.9h-0.9zM145.8 88.4h0.9v0.9h-0.9zM149.8 54.2h0.9v0.9h-0.9zM148.7 76.0h0.9v0.9h-0.9zM150.2 88.6h0.9v0.9h-0.9zM151.9 84.3h0.9v0.9h-0.9zM146.0 68.5h0.9v0.9h-0.9zM143.5 87.6h0.9v0.9h-0.9zM148.3 91.3h0.9v0.9h-0.9zM147.9 59.4h0.9v0.9h-0.9zM146.0 76.7h0.9v0.9h-0.9zM147.4 90.6h0.9v0.9h-0.9zM150.5 83.9h0.9v0.9h-0.9zM141.9 66.0h0.9v0.9h-0.9zM141.7 69.5h0.9v0.9h-0.9zM144.0 83.3h0.9v0.9h-0.9zM149.7 73.7h0.9v0.9h-0.9zM149.3 80.2h0.9v0.9h-0.9zM144.2 79.1h0.9v0.9h-0.9zM150.8 69.5h0.9v0.9h-0.9zM147.5 81.8h0.9v0.9h-0.9zM146.0 62.0h0.9v0.9h-0.9zM145.3 66.5h0.9v0.9h-0.9zM149.7 83.4h0.9v0.9h-0.9zM148.7 63.7h0.9v0.9h-0.9zM148.2 82.0h0.9v0.9h-0.9zM149.6 70.1h0.9v0.9h-0.9zM151.5 67.2h0.9v0.9h-0.9zM144.2 59.9h0.9v0.9h-0.9zM149.4 88.2h0.9v0.9h-0.9zM147.8 68.1h0.9v0.9h-0.9zM146.9 78.4h0.9v0.9h-0.9zM149.9 87.0h0.9v0.9h-0.9zM150.3 74.5h0.9v0.9h-0.9zM147.8 75.4h0.9v0.9h-0.9zM145.6 75.9h0.9v0.9h-0.9zM146.3 86.9h0.9v0.9h-0.9zM146.3 81.0h0.9v0.9h-0.9zM145.0 63.2h0.9v0.9h-0.9zM150.5 66.5h0.9v0.9h-0.9zM151.5 92.9h0.9v0.9h-0.9zM141.3 71.2h0.9v0.9h-0.9zM146.0 80.3h0.9v0.9h-0.9zM146.6 71.7h0.9v0.9h-0.9zM150.1 78.3h0.9v0.9h-0.9zM149.4 70.6h0.9v0.9h-0.9zM146.3 64.9h0.9v0.9h-0.9zM146.6 94.4h0.9v0.9h-0.9zM146.6 70.2h0.9v0.9h-0.9zM148.6 93.5h0.9v0.9h-0.9zM146.5 75.6h0.9v0.9h-0.9zM146.6 85.6h0.9v0.9h-0.9zM142.0 82.4h0.9v0.9h-0.9zM147.1 75.7h0.9v0.9h-0.9zM146.0 61.3h0.9v0.9h-0.9zM143.3 82.3h0.9v0.9h-0.9zM145.4 78.8h0.9v0.9h-0.9zM146.6 73.1h0.9v0.9h-0.9zM144.3 73.0h0.9v0.9h-0.9zM146.3 64.2h0.9v0.9h-0.9zM144.6 91.8h0.9v0.9h-0.9zM149.3 81.8h0.9v0.9h-0.9zM155.0 91.3h0.9v0.9h-0.9zM150.0 68.8h0.9v0.9h-0.9zM145.0 64.5h0.9v0.9h-0.9zM146.9 69.0h0.9v0.9h-0.9zM148.6 64.9h0.9v0.9h-0.9zM147.2 53.2h0.9v0.9h-0.9zM146.9 94.4h0.9v0.9h-0.9zM146.4 84.3h0.9v0.9h-0.9zM149.7 65.0h0.9v0.9h-0.9zM143.9 81.1h0.9v0.9h-0.9zM147.7 76.3h0.9v0.9h-0.9zM144.1 76.5h0.9v0.9h-0.9zM146.9 89.9h0.9v0.9h-0.9zM145.9 68.8h0.9v0.9h-0.9zM152.0 68.5h0.9v0.9h-0.9zM149.0 77.9h0.9v0.9h-0.9zM145.8 79.4h0.9v0.9h-0.9zM146.4 84.3h0.9v0.9h-0.9zM140.7 79.6h0.9v0.9h-0.9zM147.2 66.7h0.9v0.9h-0.9zM151.6 88.8h0.9v0.9h-0.9zM147.6 75.8h0.9v0.9h-0.9zM150.4 73.9h0.9v0.9h-0.9zM145.0 89.5h0.9v0.9h-0.9zM144.6 69.2h0.9v0.9h-0.9zM150.6 58.1h0.9v0.9h-0.9zM146.8 81.6h0.9v0.9h-0.9zM147.6 60.1h0.9v0.9h-0.9zM146.4 75.4h0.9v0.9h-0.9zM151.8 93.7h0.9v0.9h-0.9zM145.1 92.0h0.9v0.9h-0.9zM148.6 78.5h0.9v0.9h-0.9zM146.4 76.3h0.9v0.9h-0.9zM143.2 71.4h0.9v0.9h-0.9zM151.6 74.9h0.9v0.9h-0.9zM148.5 47.1h0.9v0.9h-0.9zM146.3 62.8h0.9v0.9h-0.9zM149.0 57.4h0.9v0.9h-0.9zM144.4 64.9h0.9v0.9h-0.9zM148.0 91.5h0.9v0.9h-0.9zM147.4 68.6h0.9v0.9h-0.9zM147.9 79.8h0.9v0.9h-0.9zM149.1 84.7h0.9v0.9h-0.9zM145.4 90.8h0.9v0.9h-0.9zM148.9 66.3h0.9v0.9h-0.9zM145.2 69.0h0.9v0.9h-0.9zM140.9 88.7h0.9v0.9h-0.9zM145.6 81.0h0.9v0.9h-0.9zM148.8 93.2h0.9v0.9h-0.9zM147.8 65.8h0.9v0.9h-0.9zM152.4 91.9h0.9v0.9h-0.9zM150.5 85.7h0.9v0.9h-0.9zM148.2 88.6h0.9v0.9h-0.9zM143.3 91.1h0.9v0.9h-0.9zM144.6 85.8h0.9v0.9h-0.9zM144.5 89.8h0.9v0.9h-0.9zM147.5 86.9h0.9v0.9h-0.9zM144.8 76.1h0.9v0.9h-0.9zM146.9 76.1h0.9v0.9h-0.9zM145.9 68.1h0.9v0.9h-0.9zM148.9 74.8h0.9v0.9h-0.9zM145.0 85.0h0.9v0.9h-0.9zM145.0 77.6h0.9v0.9h-0.9zM145.8 67.4h0.9v0.9h-0.9zM146.5 68.8h0.9v0.9h-0.9zM143.9 84.8h0.9v0.9h-0.9zM146.3 60.0h0.9v0.9h-0.9zM146.0 82.6h0.9v0.9h-0.9zM148.1 85.1h0.9v0.9h-0.9zM147.6 88.2h0.9v0.9h-0.9zM145.8 69.1h0.9v0.9h-0.9zM148.5 74.4h0.9v0.9h-0.9zM147.0 88.9h0.9v0.9h-0.9zM145.3 75.0h0.9v0.9h-0.9zM148.4 60.5h0.9v0.9h-0.9zM143.9 88.3h0.9v0.9h-0.9zM145.5 67.4h0.9v0.9h-0.9zM149.0 87.3h0.9v0.9h-0.9zM149.3 75.5h0.9v0.9h-0.9zM146.3 75.4h0.9v0.9h-0.9zM147.8 52.3h0.9v0.9h-0.9zM145.3 89.7h0.9v0.9h-0.9zM145.1 79.1h0.9v0.9h-0.9zM147.3 87.1h0.9v0.9h-0.9zM145.9 64.6h0.9v0.9h-0.9zM153.2 70.3h0.9v0.9h-0.9zM151.2 56.1h0.9v0.9h-0.9zM147.3 77.3h0.9v0.9h-0.9zM149.4 66.2h0.9v0.9h-0.9zM145.0 69.8h0.9v0.9h-0.9zM145.8 83.6h0.9v0.9h-0.9zM145.1 76.7h0.9v0.9h-0.9zM142.4 67.1h0.9v0.9h-0.9zM144.9 75.8h0.9v0.9h-0.9zM149.5 87.8h0.9v0.9h-0.9zM142.4 76.3h0.9v0.9h-0.9zM147.5 88.6h0.9v0.9h-0.9zM148.0 81.2h0.9v0.9h-0.9zM146.2 64.2h0.9v0.9h-0.9zM149.1 90.3h0.9v0.9h-0.9zM149.3 74.9h0.9v0.9h-0.9zM144.6 74.9h0.9v0.9h-0.9zM146.3 79.9h0.9v0.9h-0.9zM149.4 67.6h0.9v0.9h-0.9zM145.8 89.4h0.9v0.9h-0.9zM148.3 68.5h0.9v0.9h-0.9zM144.5 69.3h0.9v0.9h-0.9zM147.2 83.5h0.9v0.9h-0.9zM146.9 71.7h0.9v0.9h-0.9zM146.6 79.0h0.9v0.9h-0.9zM148.5 81.1h0.9v0.9h-0.9zM145.0 64.1h0.9v0.9h-0.9zM150.7 78.9h0.9v0.9h-0.9zM146.6 79.7h0.9v0.9h-0.9zM149.8 75.8h0.9v0.9h-0.9zM147.5 76.8h0.9v0.9h-0.9zM148.4 66.3h0.9v0.9h-0.9zM147.5 94.0h0.9v0.9h-0.9zM149.9 88.4h0.9v0.9h-0.9zM144.1 65.1h0.9v0.9h-0.9zM149.0 76.4h0.9v0.9h-0.9zM146.0 67.1h0.9v0.9h-0.9zM150.7 63.8h0.9v0.9h-0.9zM147.3 61.1h0.9v0.9h-0.9zM153.0 73.3h0.9v0.9h-0.9zM144.9 55.8h0.9v0.9h-0.9zM147.9 65.4h0.9v0.9h-0.9zM145.2 65.6h0.9v0.9h-0.9zM147.4 77.5h0.9v0.9h-0.9zM149.8 81.3h0.9v0.9h-0.9zM147.2 87.4h0.9v0.9h-0.9zM147.1 58.9h0.9v0.9h-0.9zM144.2 90.1h0.9v0.9h-0.9zM141.2 68.8h0.9v0.9h-0.9zM143.9 79.2h0.9v0.9h-0.9zM144.5 83.4h0.9v0.9h-0.9zM146.6 73.7h0.9v0.9h-0.9zM145.0 49.9h0.9v0.9h-0.9zM147.2 62.5h0.9v0.9h-0.9zM146.3 85.1h0.9v0.9h-0.9zM149.6 89.6h0.9v0.9h-0.9zM150.7 60.8h0.9v0.9h-0.9zM148.0 65.0h0.9v0.9h-0.9zM148.0 73.0h0.9v0.9h-0.9zM145.5 94.5h0.9v0.9h-0.9zM146.6 64.9h0.9v0.9h-0.9zM145.0 89.2h0.9v0.9h-0.9zM146.4 67.2h0.9v0.9h-0.9zM145.5 66.1h0.9v0.9h-0.9zM153.4 82.7h0.9v0.9h-0.9zM148.6 77.6h0.9v0.9h-0.9zM148.6 83.7h0.9v0.9h-0.9zM146.3 79.6h0.9v0.9h-0.9zM148.0 90.6h0.9v0.9h-0.9zM149.2 71.4h0.9v0.9h-0.9zM149.3 91.0h0.9v0.9h-0.9zM146.4 75.2h0.9v0.9h-0.9zM144.9 76.4h0.9v0.9h-0.9zM146.9 60.6h0.9v0.9h-0.9zM149.9 69.7h0.9v0.9h-0.9zM147.7 88.2h0.9v0.9h-0.9zM145.7 55.5h0.9v0.9h-0.9zM149.4 85.6h0.9v0.9h-0.9zM149.2 67.1h0.9v0.9h-0.9zM146.8 56.2h0.9v0.9h-0.9zM145.0 91.2h0.9v0.9h-0.9zM143.4 76.0h0.9v0.9h-0.9zM148.1 90.3h0.9v0.9h-0.9zM151.2 47.0h0.9v0.9h-0.9zM153.1 88.1h0.9v0.9h-0.9zM147.2 83.6h0.9v0.9h-0.9zM147.1 71.7h0.9v0.9h-0.9zM147.0 78.3h0.9v0.9h-0.9zM148.7 89.2h0.9v0.9h-0.9zM149.4 88.0h0.9v0.9h-0.9zM140.5 81.6h0.9v0.9h-0.9zM147.8 72.9h0.9v0.9h-0.9zM151.6 65.3h0.9v0.9h-0.9zM144.2 73.2h0.9v0.9h-0.9zM148.1 90.8h0.9v0.9h-0.9zM147.3 89.1h0.9v0.9h-0.9zM145.3 71.9h0.9v0.9h-0.9zM147.4 61.8h0.9v0.9h-0.9zM147.5 74.7h0.9v0.9h-0.9zM148.7 66.3h0.9v0.9h-0.9zM145.8 72.4h0.9v0.9h-0.9zM146.2 66.5h0.9v0.9h-0.9zM146.4 61.7h0.9v0.9h-0.9zM148.3 89.1h0.9v0.9h-0.9zM147.0 77.5h0.9v0.9h-0.9zM144.9 67.0h0.9v0.9h-0.9zM146.5 67.8h0.9v0.9h-0.9zM144.2 82.3h0.9v0.9h-0.9zM147.0 74.6h0.9v0.9h-0.9zM145.1 79.3h0.9v0.9h-0.9zM145.4 74.2h0.9v0.9h-0.9zM147.5 89.8h0.9v0.9h-0.9zM148.9 71.8h0.9v0.9h-0.9zM150.0 64.4h0.9v0.9h-0.9zM152.8 81.8h0.9v0.9h-0.9zM146.2 75.0h0.9v0.9h-0.9zM144.1 78.1h0.9v0.9h-0.9zM146.0 69.8h0.9v0.9h-0.9zM149.9 69.5h0.9v0.9h-0.9zM151.1 91.4h0.9v0.9h-0.9zM148.6 72.1h0.9v0.9h-0.9zM145.8 53.0h0.9v0.9h-0.9zM147.7 76.4h0.9v0.9h-0.9zM148.0 71.0h0.9v0.9h-0.9zM148.2 59.8h0.9v0.9h-0.9zM141.7 86.5h0.9v0.9h-0.9zM150.2 75.3h0.9v0.9h-0.9zM146.6 59.2h0.9v0.9h-0.9zM144.6 89.7h0.9v0.9h-0.9zM145.3 79.5h0.9v0.9h-0.9zM149.2 62.2h0.9v0.9h-0.9zM145.9 64.5h0.9v0.9h-0.9zM143.7 70.8h0.9v0.9h-0.9zM149.7 80.7h0.9v0.9h-0.9zM148.7 78.2h0.9v0.9h-0.9zM146.0 81.1h0.9v0.9h-0.9zM151.4 85.1h0.9v0.9h-0.9zM148.5 53.1h0.9v0.9h-0.9zM145.1 91.1h0.9v0.9h-0.9zM150.0 74.7h0.9v0.9h-0.9zM146.5 73.9h0.9v0.9h-0.9zM149.0 80.3h0.9v0.9h-0.9zM146.3 71.8h0.9v0.9h-0.9zM146.5 68.1h0.9v0.9h-0.9zM146.0 79.1h0.9v0.9h-0.9zM149.2 58.6h0.9v0.9h-0.9zM143.7 69.6h0.9v0.9h-0.9zM146.3 86.2h0.9v0.9h-0.9zM145.8 77.1h0.9v0.9h-0.9zM147.8 80.4h0.9v0.9h-0.9zM145.7 82.3h0.9v0.9h-0.9zM148.0 75.3h0.9v0.9h-0.9zM147.0 55.1h0.9v0.9h-0.9zM150.5 79.0h0.9v0.9h-0.9zM146.0 93.6h0.9v0.9h-0.9zM149.8 65.6h0.9v0.9h-0.9zM146.5 63.6h0.9v0.9h-0.9zM147.7 74.6h0.9v0.9h-0.9zM143.4 65.8h0.9v0.9h-0.9zM147.6 59.4h0.9v0.9h-0.9zM149.6 86.1h0.9v0.9h-0.9zM144.8 89.3h0.9v0.9h-0.9zM143.8 75.6h0.9v0.9h-0.9zM148.6 72.8h0.9v0.9h-0.9zM146.8 88.8h0.9v0.9h-0.9zM148.1 76.5h0.9v0.9h-0.9zM151.5 50.7h0.9v0.9h-0.9zM149.1 79.4h0.9v0.9h-0.9zM148.7 84.3h0.9v0.9h-0.9zM146.6 80.0h0.9v0.9h-0.9zM146.4 72.6h0.9v0.9h-0.9zM148.6 88.8h0.9v0.9h-0.9zM148.1 83.9h0.9v0.9h-0.9zM147.5 77.2h0.9v0.9h-0.9zM148.6 54.6h0.9v0.9h-0.9zM145.8 70.4h0.9v0.9h-0.9zM147.4 74.8h0.9v0.9h-0.9zM153.0 90.0h0.9v0.9h-0.9zM147.0 75.7h0.9v0.9h-0.9zM150.0 91.3h0.9v0.9h-0.9zM146.2 71.0h0.9v0.9h-0.9zM145.3 81.4h0.9v0.9h-0.9zM149.4 65.7h0.9v0.9h-0.9zM145.7 61.8h0.9v0.9h-0.9zM151.8 90.9h0.9v0.9h-0.9zM147.6 63.4h0.9v0.9h-0.9zM144.5 71.2h0.9v0.9h-0.9zM147.1 62.7h0.9v0.9h-0.9zM147.1 81.4h0.9v0.9h-0.9zM142.0 76.3h0.9v0.9h-0.9zM146.7 70.6h0.9v0.9h-0.9zM143.7 79.0h0.9v0.9h-0.9zM144.6 72.6h0.9v0.9h-0.9zM143.2 78.7h0.9v0.9h-0.9zM149.2 68.5h0.9v0.9h-0.9zM147.8 59.3h0.9v0.9h-0.9zM148.4 87.4h0.9v0.9h-0.9zM146.1 92.1h0.9v0.9h-0.9zM144.9 80.6h0.9v0.9h-0.9zM151.1 79.7h0.9v0.9h-0.9zM148.3 76.2h0.9v0.9h-0.9zM142.7 54.4h0.9v0.9h-0.9zM147.7 68.4h0.9v0.9h-0.9zM145.0 86.6h0.9v0.9h-0.9zM143.1 85.1h0.9v0.9h-0.9zM151.4 60.7h0.9v0.9h-0.9zM147.2 71.3h0.9v0.9h-0.9zM146.8 81.2h0.9v0.9h-0.9zM147.7 92.2h0.9v0.9h-0.9zM148.3 94.3h0.9v0.9h-0.9zM145.4 85.6h0.9v0.9h-0.9zM146.1 68.5h0.9v0.9h-0.9zM151.7 84.0h0.9v0.9h-0.9zM147.1 51.3h0.9v0.9h-0.9zM146.5 90.5h0.9v0.9h-0.9zM146.5 72.6h0.9v0.9h-0.9zM150.6 75.8h0.9v0.9h-0.9zM146.2 78.6h0.9v0.9h-0.9zM146.5 94.4h0.9v0.9h-0.9zM148.4 79.1h0.9v0.9h-0.9zM146.2 76.9h0.9v0.9h-0.9zM151.1 75.8h0.9v0.9h-0.9zM148.6 58.5h0.9v0.9h-0.9zM147.8 89.4h0.9v0.9h-0.9zM150.1 84.3h0.9v0.9h-0.9zM148.4 84.4h0.9v0.9h-0.9zM147.5 68.9h0.9v0.9h-0.9zM148.4 78.5h0.9v0.9h-0.9zM148.6 90.6h0.9v0.9h-0.9zM147.4 74.0h0.9v0.9h-0.9zM147.8 63.0h0.9v0.9h-0.9zM147.7 67.9h0.9v0.9h-0.9zM148.1 81.7h0.9v0.9h-0.9zM146.5 63.6h0.9v0.9h-0.9zM147.1 70.7h0.9v0.9h-0.9zM146.7 89.5h0.9v0.9h-0.9zM149.3 62.4h0.9v0.9h-0.9zM149.7 83.8h0.9v0.9h-0.9zM146.3 59.2h0.9v0.9h-0.9zM147.2 83.9h0.9v0.9h-0.9zM144.5 63.4h0.9v0.9h-0.9zM151.8 81.6h0.9v0.9h-0.9zM148.9 72.0h0.9v0.9h-0.9zM143.4 77.6h0.9v0.9h-0.9zM150.2 70.9h0.9v0.9h-0.9zM142.7 77.6h0.9v0.9h-0.9zM146.4 80.2h0.9v0.9h-0.9zM144.5 75.8h0.9v0.9h-0.9zM145.7 92.1h0.9v0.9h-0.9zM147.4 91.9h0.9v0.9h-0.9zM146.9 50.9h0.9v0.9h-0.9zM142.3 87.3h0.9v0.9h-0.9zM149.1 92.0h0.9v0.9h-0.9zM146.8 55.6h0.9v0.9h-0.9zM145.8 85.5h0.9v0.9h-0.9zM150.3 75.3h0.9v0.9h-0.9zM145.7 69.4h0.9v0.9h-0.9zM149.5 91.9h0.9v0.9h-0.9zM144.8 59.9h0.9v0.9h-0.9zM143.2 70.1h0.9v0.9h-0.9zM144.1 70.8h0.9v0.9h-0.9zM147.4 85.7h0.9v0.9h-0.9zM145.9 58.3h0.9v0.9h-0.9zM146.0 70.7h0.9v0.9h-0.9zM142.7 82.0h0.9v0.9h-0.9zM143.5 56.3h0.9v0.9h-0.9zM150.7 92.9h0.9v0.9h-0.9zM150.5 81.6h0.9v0.9h-0.9zM146.0 78.8h0.9v0.9h-0.9zM143.8 90.1h0.9v0.9h-0.9zM147.7 75.8h0.9v0.9h-0.9zM142.6 78.5h0.9v0.9h-0.9zM149.1 75.2h0.9v0.9h-0.9zM147.4 87.6h0.9v0.9h-0.9zM147.5 94.3h0.9v0.9h-0.9zM145.4 48.3h0.9v0.9h-0.9zM141.2 67.6h0.9v0.9h-0.9zM143.7 89.1h0.9v0.9h-0.9zM149.6 80.0h0.9v0.9h-0.9zM148.3 81.1h0.9v0.9h-0.9zM147.4 73.6h0.9v0.9h-0.9zM146.4 79.4h0.9v0.9h-0.9zM149.9 93.5h0.9v0.9h-0.9zM146.1 83.5h0.9v0.9h-0.9zM144.6 81.8h0.9v0.9h-0.9zM147.8 80.0h0.9v0.9h-0.9zM147.4 85.0h0.9v0.9h-0.9zM141.0 68.7h0.9v0.9h-0.9zM147.2 73.3h0.9v0.9h-0.9zM144.7 76.8h0.9v0.9h-0.9zM150.9 76.9h0.9v0.9h-0.9zM145.5 73.4h0.9v0.9h-0.9zM144.2 86.6h0.9v0.9h-0.9zM144.7 92.5h0.9v0.9h-0.9zM149.2 87.8h0.9v0.9h-0.9zM149.5 78.8h0.9v0.9h-0.9zM142.8 79.1h0.9v0.9h-0.9zM148.6 58.9h0.9v0.9h-0.9zM144.1 95.0h0.9v0.9h-0.9zM148.6 80.9h0.9v0.9h-0.9zM148.1 91.6h0.9v0.9h-0.9zM147.0 77.1h0.9v0.9h-0.9zM147.8 75.7h0.9v0.9h-0.9zM152.8 69.5h0.9v0.9h-0.9zM143.4 62.3h0.9v0.9h-0.9zM149.5 74.5h0.9v0.9h-0.9zM147.4 77.1h0.9v0.9h-0.9zM147.7 60.1h0.9v0.9h-0.9zM147.2 72.1h0.9v0.9h-0.9zM149.6 88.5h0.9v0.9h-0.9zM144.0 66.8h0.9v0.9h-0.9zM148.9 77.9h0.9v0.9h-0.9zM149.7 47.7h0.9v0.9h-0.9zM145.7 66.7h0.9v0.9h-0.9zM144.6 87.7h0.9v0.9h-0.9zM147.7 83.9h0.9v0.9h-0.9zM146.7 88.5h0.9v0.9h-0.9zM148.9 72.2h0.9v0.9h-0.9zM149.3 67.3h0.9v0.9h-0.9zM151.3 62.2h0.9v0.9h-0.9zM146.3 65.2h0.9v0.9h-0.9zM150.4 85.3h0.9v0.9h-0.9zM145.6 92.4h0.9v0.9h-0.9zM140.1 69.5h0.9v0.9h-0.9zM149.3 79.5h0.9v0.9h-0.9zM153.0 70.7h0.9v0.9h-0.9zM143.8 77.1h0.9v0.9h-0.9zM142.8 82.2h0.9v0.9h-0.9zM150.1 70.8h0.9v0.9h-0.9zM145.9 63.4h0.9v0.9h-0.9zM148.9 91.4h0.9v0.9h-0.9zM148.5 83.4h0.9v0.9h-0.9zM149.4 78.3h0.9v0.9h-0.9zM148.8 91.2h0.9v0.9h-0.9zM150.2 87.0h0.9v0.9h-0.9zM147.2 89.7h0.9v0.9h-0.9zM143.3 55.8h0.9v0.9h-0.9zM150.9 81.9h0.9v0.9h-0.9zM144.5 72.0h0.9v0.9h-0.9zM146.7 81.0h0.9v0.9h-0.9zM145.2 93.7h0.9v0.9h-0.9zM148.7 56.9h0.9v0.9h-0.9zM144.1 80.8h0.9v0.9h-0.9zM147.7 74.2h0.9v0.9h-0.9zM147.1 82.2h0.9v0.9h-0.9zM144.3 80.8h0.9v0.9h-0.9zM152.6 71.1h0.9v0.9h-0.9zM144.6 89.1h0.9v0.9h-0.9zM150.3 94.4h0.9v0.9h-0.9zM145.5 79.0h0.9v0.9h-0.9zM147.5 77.1h0.9v0.9h-0.9zM148.0 94.9h0.9v0.9h-0.9zM148.4 79.9h0.9v0.9h-0.9zM148.8 81.2h0.9v0.9h-0.9zM150.0 92.6h0.9v0.9h-0.9zM152.1 55.3h0.9v0.9h-0.9zM147.3 75.8h0.9v0.9h-0.9zM145.3 81.0h0.9v0.9h-0.9zM148.3 87.2h0.9v0.9h-0.9zM146.7 61.8h0.9v0.9h-0.9zM148.4 88.4h0.9v0.9h-0.9zM152.2 92.9h0.9v0.9h-0.9zM147.1 64.2h0.9v0.9h-0.9zM153.7 70.7h0.9v0.9h-0.9zM147.5 90.3h0.9v0.9h-0.9zM144.5 70.5h0.9v0.9h-0.9zM147.5 63.0h0.9v0.9h-0.9zM147.8 78.6h0.9v0.9h-0.9zM145.6 80.7h0.9v0.9h-0.9zM147.0 65.1h0.9v0.9h-0.9zM149.0 62.3h0.9v0.9h-0.9zM150.2 75.3h0.9v0.9h-0.9zM141.4 58.6h0.9v0.9h-0.9zM147.7 68.0h0.9v0.9h-0.9zM152.2 92.4h0.9v0.9h-0.9zM150.4 71.6h0.9v0.9h-0.9zM150.2 74.0h0.9v0.9h-0.9zM146.9 61.2h0.9v0.9h-0.9zM147.2 85.6h0.9v0.9h-0.9zM146.9 64.7h0.9v0.9h-0.9zM149.3 92.6h0.9v0.9h-0.9zM146.8 90.9h0.9v0.9h-0.9zM149.5 66.4h0.9v0.9h-0.9zM146.9 54.2h0.9v0.9h-0.9zM144.5 85.9h0.9v0.9h-0.9zM144.9 85.4h0.9v0.9h-0.9zM147.9 51.4h0.9v0.9h-0.9zM147.1 81.7h0.9v0.9h-0.9zM145.3 57.8h0.9v0.9h-0.9zM146.6 67.9h0.9v0.9h-0.9zM147.3 53.1h0.9v0.9h-0.9zM145.2 84.5h0.9v0.9h-0.9zM144.8 91.9h0.9v0.9h-0.9zM144.9 78.0h0.9v0.9h-0.9zM150.3 87.3h0.9v0.9h-0.9zM146.2 58.9h0.9v0.9h-0.9zM148.3 80.8h0.9v0.9h-0.9zM150.2 82.0h0.9v0.9h-0.9zM145.2 78.5h0.9v0.9h-0.9zM146.8 79.8h0.9v0.9h-0.9zM153.2 88.1h0.9v0.9h-0.9zM147.7 76.5h0.9v0.9h-0.9zM145.3 66.2h0.9v0.9h-0.9zM142.3 73.6h0.9v0.9h-0.9zM143.2 54.2h0.9v0.9h-0.9zM144.7 51.7h0.9v0.9h-0.9zM148.7 44.8h0.9v0.9h-0.9zM147.1 66.1h0.9v0.9h-0.9zM142.7 76.4h0.9v0.9h-0.9zM149.9 86.2h0.9v0.9h-0.9zM143.4 70.8h0.9v0.9h-0.9zM146.8 66.3h0.9v0.9h-0.9zM144.7 52.5h0.9v0.9h-0.9zM144.9 92.5h0.9v0.9h-0.9zM142.2 82.7h0.9v0.9h-0.9zM146.7 91.4h0.9v0.9h-0.9zM144.2 92.7h0.9v0.9h-0.9zM143.0 79.6h0.9v0.9h-0.9zM146.5 81.7h0.9v0.9h-0.9zM144.6 92.0h0.9v0.9h-0.9zM144.6 71.9h0.9v0.9h-0.9zM148.9 81.9h0.9v0.9h-0.9zM148.3 94.3h0.9v0.9h-0.9zM145.9 64.4h0.9v0.9h-0.9zM147.0 60.5h0.9v0.9h-0.9zM150.2 90.3h0.9v0.9h-0.9zM142.8 82.4h0.9v0.9h-0.9zM149.1 75.0h0.9v0.9h-0.9zM148.1 71.8h0.9v0.9h-0.9zM146.8 78.8h0.9v0.9h-0.9zM148.2 66.4h0.9v0.9h-0.9zM144.2 84.6h0.9v0.9h-0.9zM145.7 87.3h0.9v0.9h-0.9zM145.8 61.6h0.9v0.9h-0.9zM148.9 83.7h0.9v0.9h-0.9zM148.9 75.2h0.9v0.9h-0.9zM148.3 79.2h0.9v0.9h-0.9zM147.2 88.5h0.9v0.9h-0.9zM145.1 83.9h0.9v0.9h-0.9zM144.6 54.1h0.9v0.9h-0.9zM147.5 81.4h0.9v0.9h-0.9zM148.6 87.8h0.9v0.9h-0.9zM148.8 91.1h0.9v0.9h-0.9zM153.7 72.1h0.9v0.9h-0.9zM143.8 89.6h0.9v0.9h-0.9zM149.3 94.2h0.9v0.9h-0.9zM150.9 60.5h0.9v0.9h-0.9zM148.0 86.5h0.9v0.9h-0.9zM150.2 67.5h0.9v0.9h-0.9zM147.1 74.8h0.9v0.9h-0.9zM146.6 78.0h0.9v0.9h-0.9zM146.6 55.2h0.9v0.9h-0.9zM146.9 81.0h0.9v0.9h-0.9zM145.3 70.8h0.9v0.9h-0.9zM149.3 77.4h0.9v0.9h-0.9z" fill="#000" opacity="0.45"/>
<path d="M152.2 88.6h0.9v0.9h-0.9zM163.6 69.7h0.9v0.9h-0.9zM154.6 66.7h0.9v0.9h-0.9zM166.3 64.6h0.9v0.9h-0.9zM138.1 64.8h0.9v0.9h-0.9zM163.3 53.0h0.9v0.9h-0.9zM147.1 82.4h0.9v0.9h-0.9zM165.8 70.6h0.9v0.9h-0.9zM156.0 78.3h0.9v0.9h-0.9zM162.3 72.2h0.9v0.9h-0.9zM156.7 76.3h0.9v0.9h-0.9zM140.5 70.3h0.9v0.9h-0.9zM152.9 81.1h0.9v0.9h-0.9zM151.0 59.1h0.9v0.9h-0.9zM147.6 87.8h0.9v0.9h-0.9zM150.5 65.4h0.9v0.9h-0.9zM148.6 86.9h0.9v0.9h-0.9zM142.4 64.0h0.9v0.9h-0.9zM156.0 94.5h0.9v0.9h-0.9zM163.4 61.8h0.9v0.9h-0.9zM155.6 88.2h0.9v0.9h-0.9zM150.7 91.1h0.9v0.9h-0.9zM167.4 72.5h0.9v0.9h-0.9zM157.3 74.4h0.9v0.9h-0.9zM157.4 63.9h0.9v0.9h-0.9zM168.1 67.5h0.9v0.9h-0.9zM140.9 65.0h0.9v0.9h-0.9zM154.5 83.0h0.9v0.9h-0.9zM153.1 55.1h0.9v0.9h-0.9zM149.7 72.5h0.9v0.9h-0.9zM146.8 85.8h0.9v0.9h-0.9zM156.9 90.9h0.9v0.9h-0.9zM157.4 71.5h0.9v0.9h-0.9zM149.5 68.2h0.9v0.9h-0.9zM142.2 78.0h0.9v0.9h-0.9zM149.1 70.6h0.9v0.9h-0.9zM146.1 72.8h0.9v0.9h-0.9zM149.0 66.0h0.9v0.9h-0.9zM156.6 79.0h0.9v0.9h-0.9zM157.7 64.9h0.9v0.9h-0.9zM157.0 67.3h0.9v0.9h-0.9zM163.0 70.9h0.9v0.9h-0.9zM139.5 62.6h0.9v0.9h-0.9zM156.9 89.6h0.9v0.9h-0.9zM156.6 88.2h0.9v0.9h-0.9zM186.1 70.3h0.9v0.9h-0.9zM148.9 64.5h0.9v0.9h-0.9zM146.9 75.4h0.9v0.9h-0.9zM141.8 58.2h0.9v0.9h-0.9zM155.5 90.9h0.9v0.9h-0.9zM162.9 83.9h0.9v0.9h-0.9zM153.7 61.9h0.9v0.9h-0.9zM149.2 91.0h0.9v0.9h-0.9zM156.9 78.5h0.9v0.9h-0.9zM157.6 92.6h0.9v0.9h-0.9zM168.7 85.3h0.9v0.9h-0.9zM158.6 86.7h0.9v0.9h-0.9zM148.3 69.7h0.9v0.9h-0.9zM142.6 63.2h0.9v0.9h-0.9zM156.0 80.8h0.9v0.9h-0.9zM153.2 63.8h0.9v0.9h-0.9zM140.1 79.8h0.9v0.9h-0.9zM177.2 62.4h0.9v0.9h-0.9zM144.9 76.6h0.9v0.9h-0.9zM160.6 55.8h0.9v0.9h-0.9zM154.5 78.0h0.9v0.9h-0.9zM144.8 76.1h0.9v0.9h-0.9zM136.6 81.1h0.9v0.9h-0.9zM177.0 82.7h0.9v0.9h-0.9zM159.3 86.3h0.9v0.9h-0.9zM160.4 76.0h0.9v0.9h-0.9zM164.4 90.1h0.9v0.9h-0.9zM158.6 72.2h0.9v0.9h-0.9zM161.4 88.1h0.9v0.9h-0.9zM145.9 75.2h0.9v0.9h-0.9zM150.0 75.2h0.9v0.9h-0.9zM168.5 73.1h0.9v0.9h-0.9zM151.2 73.7h0.9v0.9h-0.9zM170.3 72.9h0.9v0.9h-0.9zM179.0 73.0h0.9v0.9h-0.9zM150.1 74.3h0.9v0.9h-0.9zM155.2 81.5h0.9v0.9h-0.9zM165.8 77.4h0.9v0.9h-0.9zM156.3 53.9h0.9v0.9h-0.9zM145.2 64.7h0.9v0.9h-0.9zM143.4 79.1h0.9v0.9h-0.9zM143.5 73.3h0.9v0.9h-0.9zM161.0 89.0h0.9v0.9h-0.9zM158.2 90.0h0.9v0.9h-0.9zM154.8 85.2h0.9v0.9h-0.9zM167.5 84.9h0.9v0.9h-0.9zM163.8 91.6h0.9v0.9h-0.9zM152.8 73.0h0.9v0.9h-0.9zM151.5 82.6h0.9v0.9h-0.9zM139.8 72.9h0.9v0.9h-0.9zM162.5 83.7h0.9v0.9h-0.9zM160.3 87.6h0.9v0.9h-0.9zM158.4 56.1h0.9v0.9h-0.9zM150.5 67.5h0.9v0.9h-0.9zM152.4 83.8h0.9v0.9h-0.9zM166.6 77.6h0.9v0.9h-0.9zM175.0 90.5h0.9v0.9h-0.9zM161.6 90.4h0.9v0.9h-0.9zM170.9 73.2h0.9v0.9h-0.9zM141.1 88.1h0.9v0.9h-0.9zM141.2 65.0h0.9v0.9h-0.9zM161.4 85.4h0.9v0.9h-0.9zM152.6 78.0h0.9v0.9h-0.9zM162.5 62.9h0.9v0.9h-0.9zM149.1 84.4h0.9v0.9h-0.9zM169.2 76.2h0.9v0.9h-0.9zM152.7 73.0h0.9v0.9h-0.9zM172.3 78.2h0.9v0.9h-0.9zM145.2 92.2h0.9v0.9h-0.9zM155.8 68.2h0.9v0.9h-0.9zM143.7 83.5h0.9v0.9h-0.9zM146.9 94.5h0.9v0.9h-0.9zM138.4 65.0h0.9v0.9h-0.9zM165.0 89.0h0.9v0.9h-0.9zM143.5 82.9h0.9v0.9h-0.9zM171.4 68.0h0.9v0.9h-0.9zM153.2 83.3h0.9v0.9h-0.9zM154.2 63.7h0.9v0.9h-0.9zM142.6 63.6h0.9v0.9h-0.9zM164.9 75.4h0.9v0.9h-0.9zM171.0 84.5h0.9v0.9h-0.9zM158.2 79.9h0.9v0.9h-0.9zM162.7 79.7h0.9v0.9h-0.9zM145.7 82.3h0.9v0.9h-0.9zM155.1 79.3h0.9v0.9h-0.9zM149.2 81.6h0.9v0.9h-0.9zM159.6 77.9h0.9v0.9h-0.9zM166.9 81.8h0.9v0.9h-0.9zM167.7 83.3h0.9v0.9h-0.9zM173.2 85.4h0.9v0.9h-0.9zM156.0 68.2h0.9v0.9h-0.9zM182.6 73.4h0.9v0.9h-0.9zM171.2 76.7h0.9v0.9h-0.9zM147.5 67.1h0.9v0.9h-0.9zM156.6 71.9h0.9v0.9h-0.9zM158.9 57.3h0.9v0.9h-0.9zM151.1 89.4h0.9v0.9h-0.9zM154.2 67.0h0.9v0.9h-0.9zM157.9 80.4h0.9v0.9h-0.9zM161.3 81.8h0.9v0.9h-0.9zM159.1 69.6h0.9v0.9h-0.9zM145.4 71.3h0.9v0.9h-0.9zM166.3 78.6h0.9v0.9h-0.9zM158.1 81.1h0.9v0.9h-0.9zM156.6 73.8h0.9v0.9h-0.9zM148.4 63.9h0.9v0.9h-0.9zM159.6 68.6h0.9v0.9h-0.9zM139.9 67.9h0.9v0.9h-0.9zM153.7 77.1h0.9v0.9h-0.9zM139.0 67.7h0.9v0.9h-0.9zM160.4 80.9h0.9v0.9h-0.9zM168.7 75.4h0.9v0.9h-0.9zM176.9 79.2h0.9v0.9h-0.9zM147.1 69.0h0.9v0.9h-0.9zM166.7 84.1h0.9v0.9h-0.9zM157.0 68.5h0.9v0.9h-0.9zM168.9 70.6h0.9v0.9h-0.9zM141.5 69.3h0.9v0.9h-0.9zM147.3 58.3h0.9v0.9h-0.9zM182.3 82.7h0.9v0.9h-0.9zM151.3 75.9h0.9v0.9h-0.9zM171.0 85.0h0.9v0.9h-0.9zM163.2 89.8h0.9v0.9h-0.9zM137.4 92.8h0.9v0.9h-0.9zM144.5 67.6h0.9v0.9h-0.9zM165.7 59.1h0.9v0.9h-0.9zM146.3 66.5h0.9v0.9h-0.9zM162.7 75.4h0.9v0.9h-0.9zM150.6 76.2h0.9v0.9h-0.9zM146.0 75.0h0.9v0.9h-0.9zM152.1 59.4h0.9v0.9h-0.9zM150.2 89.3h0.9v0.9h-0.9zM171.8 61.5h0.9v0.9h-0.9zM151.6 77.7h0.9v0.9h-0.9zM156.5 74.8h0.9v0.9h-0.9zM171.9 80.1h0.9v0.9h-0.9zM172.4 89.0h0.9v0.9h-0.9zM149.9 74.4h0.9v0.9h-0.9zM150.5 65.8h0.9v0.9h-0.9zM147.9 51.8h0.9v0.9h-0.9zM151.9 75.3h0.9v0.9h-0.9zM156.4 84.7h0.9v0.9h-0.9zM153.1 82.8h0.9v0.9h-0.9zM153.1 81.6h0.9v0.9h-0.9zM149.9 72.4h0.9v0.9h-0.9zM157.9 73.5h0.9v0.9h-0.9zM140.4 74.6h0.9v0.9h-0.9zM169.7 87.4h0.9v0.9h-0.9zM142.7 82.6h0.9v0.9h-0.9zM167.5 84.7h0.9v0.9h-0.9zM152.3 62.5h0.9v0.9h-0.9zM163.2 86.1h0.9v0.9h-0.9zM156.1 74.4h0.9v0.9h-0.9zM148.2 87.2h0.9v0.9h-0.9zM155.7 78.7h0.9v0.9h-0.9zM176.7 79.3h0.9v0.9h-0.9zM151.7 85.3h0.9v0.9h-0.9zM154.4 80.9h0.9v0.9h-0.9zM175.6 75.9h0.9v0.9h-0.9zM151.2 71.7h0.9v0.9h-0.9zM157.5 82.4h0.9v0.9h-0.9zM160.7 91.4h0.9v0.9h-0.9zM147.0 67.0h0.9v0.9h-0.9zM153.0 78.6h0.9v0.9h-0.9zM172.2 81.9h0.9v0.9h-0.9zM179.3 83.0h0.9v0.9h-0.9zM159.3 77.0h0.9v0.9h-0.9zM163.6 71.2h0.9v0.9h-0.9zM142.8 81.9h0.9v0.9h-0.9zM165.8 79.4h0.9v0.9h-0.9zM146.7 62.1h0.9v0.9h-0.9zM167.4 84.3h0.9v0.9h-0.9zM157.7 71.7h0.9v0.9h-0.9zM158.5 93.5h0.9v0.9h-0.9zM157.7 76.5h0.9v0.9h-0.9zM144.9 71.0h0.9v0.9h-0.9zM138.9 86.9h0.9v0.9h-0.9zM170.4 77.9h0.9v0.9h-0.9zM146.4 70.2h0.9v0.9h-0.9zM174.2 84.5h0.9v0.9h-0.9zM143.5 69.2h0.9v0.9h-0.9zM136.7 56.0h0.9v0.9h-0.9zM168.2 91.7h0.9v0.9h-0.9zM152.4 69.5h0.9v0.9h-0.9zM157.6 68.9h0.9v0.9h-0.9zM163.0 66.5h0.9v0.9h-0.9zM169.0 61.6h0.9v0.9h-0.9zM150.2 68.1h0.9v0.9h-0.9zM148.8 89.4h0.9v0.9h-0.9zM151.2 66.8h0.9v0.9h-0.9zM157.1 70.6h0.9v0.9h-0.9zM151.2 80.9h0.9v0.9h-0.9zM164.7 82.2h0.9v0.9h-0.9zM168.5 73.5h0.9v0.9h-0.9zM145.1 76.4h0.9v0.9h-0.9zM149.6 64.6h0.9v0.9h-0.9zM151.7 75.6h0.9v0.9h-0.9zM156.6 80.3h0.9v0.9h-0.9zM176.7 86.4h0.9v0.9h-0.9zM170.6 81.6h0.9v0.9h-0.9zM155.8 94.5h0.9v0.9h-0.9zM155.5 57.1h0.9v0.9h-0.9zM171.0 56.5h0.9v0.9h-0.9zM150.3 70.2h0.9v0.9h-0.9zM159.9 91.6h0.9v0.9h-0.9zM155.1 72.9h0.9v0.9h-0.9zM157.6 61.9h0.9v0.9h-0.9zM145.1 78.3h0.9v0.9h-0.9zM155.6 89.2h0.9v0.9h-0.9zM146.1 69.8h0.9v0.9h-0.9zM137.1 62.7h0.9v0.9h-0.9zM158.1 77.9h0.9v0.9h-0.9zM158.9 71.9h0.9v0.9h-0.9zM151.8 66.8h0.9v0.9h-0.9zM157.4 79.3h0.9v0.9h-0.9zM151.2 91.2h0.9v0.9h-0.9zM157.5 77.5h0.9v0.9h-0.9zM150.1 70.9h0.9v0.9h-0.9zM154.0 88.9h0.9v0.9h-0.9zM148.3 72.1h0.9v0.9h-0.9zM157.6 91.3h0.9v0.9h-0.9zM164.8 87.2h0.9v0.9h-0.9zM146.7 67.2h0.9v0.9h-0.9zM165.1 75.3h0.9v0.9h-0.9zM148.6 79.4h0.9v0.9h-0.9zM154.9 91.9h0.9v0.9h-0.9zM156.5 85.1h0.9v0.9h-0.9zM156.0 73.9h0.9v0.9h-0.9zM156.9 73.3h0.9v0.9h-0.9zM143.7 81.8h0.9v0.9h-0.9zM152.8 92.5h0.9v0.9h-0.9zM156.5 68.4h0.9v0.9h-0.9zM162.7 76.3h0.9v0.9h-0.9zM156.3 63.1h0.9v0.9h-0.9zM148.5 68.7h0.9v0.9h-0.9zM161.3 95.0h0.9v0.9h-0.9zM165.7 82.0h0.9v0.9h-0.9zM145.6 92.4h0.9v0.9h-0.9zM171.5 79.2h0.9v0.9h-0.9zM159.3 84.9h0.9v0.9h-0.9zM166.8 93.9h0.9v0.9h-0.9zM155.0 81.8h0.9v0.9h-0.9zM152.6 69.6h0.9v0.9h-0.9zM145.5 69.1h0.9v0.9h-0.9zM154.9 80.3h0.9v0.9h-0.9zM170.5 91.6h0.9v0.9h-0.9zM150.4 64.6h0.9v0.9h-0.9zM156.5 77.5h0.9v0.9h-0.9zM153.9 91.1h0.9v0.9h-0.9zM175.8 71.9h0.9v0.9h-0.9zM170.2 82.8h0.9v0.9h-0.9zM162.5 87.8h0.9v0.9h-0.9zM151.2 84.8h0.9v0.9h-0.9zM171.5 85.5h0.9v0.9h-0.9zM151.5 77.2h0.9v0.9h-0.9zM159.0 74.3h0.9v0.9h-0.9zM163.2 84.5h0.9v0.9h-0.9zM156.9 90.9h0.9v0.9h-0.9zM156.9 73.1h0.9v0.9h-0.9zM141.6 80.3h0.9v0.9h-0.9zM162.9 86.9h0.9v0.9h-0.9zM148.8 66.4h0.9v0.9h-0.9zM165.6 76.1h0.9v0.9h-0.9zM151.8 66.2h0.9v0.9h-0.9zM154.5 93.4h0.9v0.9h-0.9zM169.5 72.4h0.9v0.9h-0.9zM151.1 75.1h0.9v0.9h-0.9zM164.7 89.9h0.9v0.9h-0.9zM158.6 92.2h0.9v0.9h-0.9zM155.0 87.9h0.9v0.9h-0.9zM161.1 62.8h0.9v0.9h-0.9zM162.9 72.1h0.9v0.9h-0.9zM150.4 85.8h0.9v0.9h-0.9zM155.4 67.4h0.9v0.9h-0.9zM149.6 74.5h0.9v0.9h-0.9zM148.5 81.0h0.9v0.9h-0.9zM158.5 68.2h0.9v0.9h-0.9zM162.6 66.6h0.9v0.9h-0.9zM159.0 92.2h0.9v0.9h-0.9zM161.7 63.1h0.9v0.9h-0.9zM151.5 63.6h0.9v0.9h-0.9zM150.0 77.2h0.9v0.9h-0.9zM151.8 62.0h0.9v0.9h-0.9zM146.8 75.0h0.9v0.9h-0.9zM147.4 66.1h0.9v0.9h-0.9zM146.1 62.9h0.9v0.9h-0.9zM152.3 60.7h0.9v0.9h-0.9zM159.1 62.4h0.9v0.9h-0.9zM151.3 89.3h0.9v0.9h-0.9zM176.0 70.5h0.9v0.9h-0.9zM151.9 63.0h0.9v0.9h-0.9zM145.4 92.9h0.9v0.9h-0.9zM164.7 72.8h0.9v0.9h-0.9zM166.5 90.6h0.9v0.9h-0.9zM158.0 93.3h0.9v0.9h-0.9zM157.5 67.0h0.9v0.9h-0.9zM157.8 78.2h0.9v0.9h-0.9zM152.9 65.4h0.9v0.9h-0.9zM154.9 80.3h0.9v0.9h-0.9zM156.4 78.0h0.9v0.9h-0.9zM156.4 74.7h0.9v0.9h-0.9zM160.1 90.5h0.9v0.9h-0.9zM148.7 79.2h0.9v0.9h-0.9zM140.6 73.2h0.9v0.9h-0.9zM159.1 74.8h0.9v0.9h-0.9zM158.4 83.0h0.9v0.9h-0.9zM159.9 85.3h0.9v0.9h-0.9zM172.3 69.7h0.9v0.9h-0.9zM166.6 94.7h0.9v0.9h-0.9zM148.7 58.4h0.9v0.9h-0.9zM167.7 71.5h0.9v0.9h-0.9zM153.7 62.1h0.9v0.9h-0.9zM144.7 77.5h0.9v0.9h-0.9zM151.6 64.3h0.9v0.9h-0.9zM157.9 91.1h0.9v0.9h-0.9zM152.0 83.1h0.9v0.9h-0.9zM154.5 77.4h0.9v0.9h-0.9zM168.9 80.8h0.9v0.9h-0.9zM143.4 70.9h0.9v0.9h-0.9zM156.6 80.1h0.9v0.9h-0.9zM150.2 73.8h0.9v0.9h-0.9zM142.9 77.6h0.9v0.9h-0.9zM151.7 74.1h0.9v0.9h-0.9zM166.4 65.0h0.9v0.9h-0.9zM155.9 70.9h0.9v0.9h-0.9zM147.2 70.4h0.9v0.9h-0.9zM141.0 67.5h0.9v0.9h-0.9zM151.3 88.6h0.9v0.9h-0.9zM150.7 73.7h0.9v0.9h-0.9zM157.2 68.4h0.9v0.9h-0.9zM156.5 71.9h0.9v0.9h-0.9zM170.5 80.5h0.9v0.9h-0.9zM164.8 87.5h0.9v0.9h-0.9zM171.6 88.9h0.9v0.9h-0.9zM143.4 64.8h0.9v0.9h-0.9zM159.4 78.8h0.9v0.9h-0.9zM151.7 78.4h0.9v0.9h-0.9zM144.5 68.4h0.9v0.9h-0.9zM163.0 60.2h0.9v0.9h-0.9zM149.4 83.0h0.9v0.9h-0.9zM171.6 74.1h0.9v0.9h-0.9zM141.1 71.4h0.9v0.9h-0.9zM146.9 84.3h0.9v0.9h-0.9zM158.9 68.2h0.9v0.9h-0.9zM182.6 85.3h0.9v0.9h-0.9zM140.8 57.5h0.9v0.9h-0.9zM163.4 70.3h0.9v0.9h-0.9zM168.4 82.7h0.9v0.9h-0.9zM148.9 84.9h0.9v0.9h-0.9zM151.6 70.1h0.9v0.9h-0.9zM160.2 72.5h0.9v0.9h-0.9zM169.6 91.7h0.9v0.9h-0.9zM162.7 88.3h0.9v0.9h-0.9zM151.4 84.1h0.9v0.9h-0.9zM147.7 51.6h0.9v0.9h-0.9zM157.9 72.2h0.9v0.9h-0.9zM165.5 72.8h0.9v0.9h-0.9zM145.7 66.9h0.9v0.9h-0.9zM172.4 52.9h0.9v0.9h-0.9zM148.1 73.5h0.9v0.9h-0.9zM155.3 81.9h0.9v0.9h-0.9zM158.5 85.0h0.9v0.9h-0.9zM150.8 76.4h0.9v0.9h-0.9zM153.3 85.0h0.9v0.9h-0.9zM151.6 66.6h0.9v0.9h-0.9zM161.6 89.6h0.9v0.9h-0.9zM161.7 71.6h0.9v0.9h-0.9zM142.5 83.7h0.9v0.9h-0.9zM159.9 93.7h0.9v0.9h-0.9zM140.1 82.5h0.9v0.9h-0.9zM140.1 80.6h0.9v0.9h-0.9zM155.4 84.1h0.9v0.9h-0.9zM156.7 87.9h0.9v0.9h-0.9zM170.3 68.5h0.9v0.9h-0.9zM146.0 83.6h0.9v0.9h-0.9zM152.5 75.4h0.9v0.9h-0.9zM173.3 81.2h0.9v0.9h-0.9zM174.9 70.2h0.9v0.9h-0.9zM154.9 66.5h0.9v0.9h-0.9zM158.3 90.0h0.9v0.9h-0.9zM148.5 67.0h0.9v0.9h-0.9zM146.7 67.0h0.9v0.9h-0.9zM146.6 67.7h0.9v0.9h-0.9zM145.1 79.2h0.9v0.9h-0.9zM167.8 49.9h0.9v0.9h-0.9zM143.0 80.6h0.9v0.9h-0.9zM169.9 78.5h0.9v0.9h-0.9zM158.7 70.7h0.9v0.9h-0.9zM151.1 70.3h0.9v0.9h-0.9zM148.5 71.9h0.9v0.9h-0.9zM137.6 78.2h0.9v0.9h-0.9zM173.3 69.5h0.9v0.9h-0.9zM149.5 81.7h0.9v0.9h-0.9zM161.8 91.8h0.9v0.9h-0.9zM150.9 72.5h0.9v0.9h-0.9zM163.4 76.6h0.9v0.9h-0.9zM145.0 75.4h0.9v0.9h-0.9zM144.6 62.4h0.9v0.9h-0.9zM156.7 92.8h0.9v0.9h-0.9zM170.8 82.6h0.9v0.9h-0.9zM148.1 75.4h0.9v0.9h-0.9zM150.3 75.4h0.9v0.9h-0.9zM163.8 68.0h0.9v0.9h-0.9zM160.7 63.1h0.9v0.9h-0.9zM171.0 90.3h0.9v0.9h-0.9zM145.4 76.8h0.9v0.9h-0.9zM139.2 67.3h0.9v0.9h-0.9zM148.8 74.1h0.9v0.9h-0.9zM168.8 59.9h0.9v0.9h-0.9zM162.7 71.8h0.9v0.9h-0.9zM163.5 82.7h0.9v0.9h-0.9zM152.0 81.9h0.9v0.9h-0.9zM169.5 92.0h0.9v0.9h-0.9zM167.7 70.7h0.9v0.9h-0.9zM152.5 94.4h0.9v0.9h-0.9zM164.3 88.9h0.9v0.9h-0.9zM157.7 79.3h0.9v0.9h-0.9zM155.3 67.3h0.9v0.9h-0.9zM156.5 91.9h0.9v0.9h-0.9zM167.1 81.1h0.9v0.9h-0.9zM156.0 57.4h0.9v0.9h-0.9zM147.5 53.5h0.9v0.9h-0.9zM158.8 80.7h0.9v0.9h-0.9zM171.8 81.4h0.9v0.9h-0.9zM146.9 81.4h0.9v0.9h-0.9zM149.4 72.8h0.9v0.9h-0.9zM144.8 77.2h0.9v0.9h-0.9zM174.7 83.1h0.9v0.9h-0.9zM174.2 88.5h0.9v0.9h-0.9zM148.3 67.7h0.9v0.9h-0.9zM152.5 84.0h0.9v0.9h-0.9zM172.7 82.5h0.9v0.9h-0.9zM156.4 92.3h0.9v0.9h-0.9zM156.4 86.7h0.9v0.9h-0.9zM173.9 85.7h0.9v0.9h-0.9zM153.8 83.5h0.9v0.9h-0.9zM155.9 71.6h0.9v0.9h-0.9zM161.1 82.8h0.9v0.9h-0.9zM138.7 82.5h0.9v0.9h-0.9zM176.5 67.7h0.9v0.9h-0.9zM137.8 65.0h0.9v0.9h-0.9zM152.7 88.7h0.9v0.9h-0.9zM164.3 77.8h0.9v0.9h-0.9zM155.7 68.9h0.9v0.9h-0.9zM159.3 58.0h0.9v0.9h-0.9zM157.7 72.5h0.9v0.9h-0.9zM159.2 86.2h0.9v0.9h-0.9zM166.6 71.6h0.9v0.9h-0.9zM149.3 80.3h0.9v0.9h-0.9zM166.3 91.5h0.9v0.9h-0.9zM174.3 87.0h0.9v0.9h-0.9zM155.8 66.4h0.9v0.9h-0.9zM170.1 81.0h0.9v0.9h-0.9zM158.5 83.0h0.9v0.9h-0.9zM144.0 68.7h0.9v0.9h-0.9zM161.0 85.5h0.9v0.9h-0.9zM158.2 92.9h0.9v0.9h-0.9zM166.1 86.8h0.9v0.9h-0.9zM147.1 79.0h0.9v0.9h-0.9zM142.5 77.3h0.9v0.9h-0.9zM160.8 76.1h0.9v0.9h-0.9zM154.5 83.8h0.9v0.9h-0.9zM143.2 82.7h0.9v0.9h-0.9zM137.4 76.7h0.9v0.9h-0.9zM178.0 80.6h0.9v0.9h-0.9zM160.9 65.0h0.9v0.9h-0.9zM151.9 63.9h0.9v0.9h-0.9zM153.7 83.7h0.9v0.9h-0.9zM145.5 89.9h0.9v0.9h-0.9zM144.8 55.5h0.9v0.9h-0.9zM156.0 80.2h0.9v0.9h-0.9zM151.8 90.3h0.9v0.9h-0.9zM151.2 70.7h0.9v0.9h-0.9zM170.1 70.2h0.9v0.9h-0.9zM175.5 90.2h0.9v0.9h-0.9zM150.5 79.2h0.9v0.9h-0.9zM141.2 86.9h0.9v0.9h-0.9zM161.6 76.4h0.9v0.9h-0.9zM140.0 78.3h0.9v0.9h-0.9zM159.0 80.1h0.9v0.9h-0.9zM147.4 81.8h0.9v0.9h-0.9zM154.6 88.7h0.9v0.9h-0.9zM156.4 69.0h0.9v0.9h-0.9zM143.1 69.8h0.9v0.9h-0.9zM162.3 86.0h0.9v0.9h-0.9zM171.4 87.8h0.9v0.9h-0.9zM146.6 71.9h0.9v0.9h-0.9zM170.6 79.9h0.9v0.9h-0.9zM159.3 92.2h0.9v0.9h-0.9zM155.4 77.8h0.9v0.9h-0.9zM173.6 71.4h0.9v0.9h-0.9zM155.8 73.2h0.9v0.9h-0.9zM165.4 86.4h0.9v0.9h-0.9zM153.5 68.4h0.9v0.9h-0.9zM158.3 74.2h0.9v0.9h-0.9zM156.7 74.4h0.9v0.9h-0.9zM157.5 69.6h0.9v0.9h-0.9zM141.2 55.7h0.9v0.9h-0.9zM165.2 85.5h0.9v0.9h-0.9zM147.3 65.0h0.9v0.9h-0.9zM159.0 67.2h0.9v0.9h-0.9zM153.1 83.5h0.9v0.9h-0.9zM149.8 64.0h0.9v0.9h-0.9zM156.3 78.6h0.9v0.9h-0.9zM176.4 80.7h0.9v0.9h-0.9zM169.9 56.0h0.9v0.9h-0.9zM151.9 87.0h0.9v0.9h-0.9zM160.2 58.8h0.9v0.9h-0.9zM147.6 73.5h0.9v0.9h-0.9zM162.9 78.4h0.9v0.9h-0.9zM160.6 84.3h0.9v0.9h-0.9zM147.1 79.6h0.9v0.9h-0.9zM174.8 93.6h0.9v0.9h-0.9zM156.0 78.9h0.9v0.9h-0.9zM166.3 70.6h0.9v0.9h-0.9zM167.4 72.1h0.9v0.9h-0.9zM165.9 72.5h0.9v0.9h-0.9zM142.5 76.1h0.9v0.9h-0.9zM173.5 92.6h0.9v0.9h-0.9zM167.4 63.5h0.9v0.9h-0.9zM166.1 52.2h0.9v0.9h-0.9zM156.7 91.9h0.9v0.9h-0.9zM163.5 81.5h0.9v0.9h-0.9zM149.8 89.2h0.9v0.9h-0.9zM162.5 71.7h0.9v0.9h-0.9zM163.8 71.9h0.9v0.9h-0.9zM156.0 73.1h0.9v0.9h-0.9zM144.5 85.2h0.9v0.9h-0.9zM153.8 68.0h0.9v0.9h-0.9zM164.0 67.8h0.9v0.9h-0.9zM159.6 94.2h0.9v0.9h-0.9zM143.0 65.4h0.9v0.9h-0.9zM145.8 72.8h0.9v0.9h-0.9zM147.5 70.9h0.9v0.9h-0.9zM159.9 81.9h0.9v0.9h-0.9zM150.0 79.9h0.9v0.9h-0.9zM161.1 86.7h0.9v0.9h-0.9zM156.3 89.5h0.9v0.9h-0.9zM163.8 68.5h0.9v0.9h-0.9zM146.2 81.4h0.9v0.9h-0.9zM138.4 84.3h0.9v0.9h-0.9zM145.6 84.1h0.9v0.9h-0.9zM157.1 85.2h0.9v0.9h-0.9zM160.0 81.2h0.9v0.9h-0.9zM157.7 81.0h0.9v0.9h-0.9zM152.5 91.3h0.9v0.9h-0.9zM174.2 80.1h0.9v0.9h-0.9zM149.0 90.4h0.9v0.9h-0.9zM150.8 75.2h0.9v0.9h-0.9zM148.4 80.6h0.9v0.9h-0.9zM148.4 69.3h0.9v0.9h-0.9zM158.3 80.1h0.9v0.9h-0.9zM159.5 74.4h0.9v0.9h-0.9zM166.0 74.7h0.9v0.9h-0.9zM150.2 92.5h0.9v0.9h-0.9zM139.7 50.1h0.9v0.9h-0.9zM157.6 82.6h0.9v0.9h-0.9zM156.9 78.8h0.9v0.9h-0.9zM165.4 91.8h0.9v0.9h-0.9zM156.6 73.1h0.9v0.9h-0.9zM145.3 78.7h0.9v0.9h-0.9zM159.5 77.4h0.9v0.9h-0.9zM168.6 88.6h0.9v0.9h-0.9zM167.7 74.8h0.9v0.9h-0.9zM155.7 77.2h0.9v0.9h-0.9zM161.9 88.8h0.9v0.9h-0.9zM138.4 76.5h0.9v0.9h-0.9zM145.0 72.1h0.9v0.9h-0.9zM159.6 93.7h0.9v0.9h-0.9zM144.1 84.2h0.9v0.9h-0.9zM143.9 72.6h0.9v0.9h-0.9zM145.3 88.1h0.9v0.9h-0.9zM161.4 90.6h0.9v0.9h-0.9zM167.6 63.7h0.9v0.9h-0.9z" fill="#000" opacity="0.14"/>
<path d="M157.3 53.6h0.9v0.9h-0.9zM167.6 52.4h0.9v0.9h-0.9zM156.8 55.7h0.9v0.9h-0.9zM164.2 54.4h0.9v0.9h-0.9zM160.2 52.6h0.9v0.9h-0.9zM156.0 51.5h0.9v0.9h-0.9zM166.0 52.6h0.9v0.9h-0.9zM171.9 49.1h0.9v0.9h-0.9zM159.2 51.2h0.9v0.9h-0.9zM154.3 53.7h0.9v0.9h-0.9zM165.9 51.0h0.9v0.9h-0.9zM146.6 58.4h0.9v0.9h-0.9zM160.4 50.5h0.9v0.9h-0.9zM163.7 53.0h0.9v0.9h-0.9zM154.7 52.0h0.9v0.9h-0.9zM161.3 53.4h0.9v0.9h-0.9zM162.9 55.9h0.9v0.9h-0.9zM163.6 49.3h0.9v0.9h-0.9zM168.5 48.2h0.9v0.9h-0.9zM168.6 50.0h0.9v0.9h-0.9zM171.6 46.1h0.9v0.9h-0.9zM169.1 50.6h0.9v0.9h-0.9zM157.4 56.0h0.9v0.9h-0.9zM180.3 45.9h0.9v0.9h-0.9zM157.7 53.8h0.9v0.9h-0.9zM173.2 48.5h0.9v0.9h-0.9zM173.7 46.1h0.9v0.9h-0.9zM171.7 44.6h0.9v0.9h-0.9zM162.0 51.7h0.9v0.9h-0.9zM160.9 55.9h0.9v0.9h-0.9zM159.3 54.4h0.9v0.9h-0.9zM177.7 48.1h0.9v0.9h-0.9zM159.8 51.5h0.9v0.9h-0.9zM149.0 58.6h0.9v0.9h-0.9zM170.9 51.6h0.9v0.9h-0.9zM167.1 55.7h0.9v0.9h-0.9zM167.1 44.6h0.9v0.9h-0.9zM157.6 56.1h0.9v0.9h-0.9zM161.2 54.8h0.9v0.9h-0.9zM179.6 45.1h0.9v0.9h-0.9zM152.7 56.4h0.9v0.9h-0.9zM169.6 47.9h0.9v0.9h-0.9zM174.3 45.3h0.9v0.9h-0.9zM162.8 54.4h0.9v0.9h-0.9zM161.4 51.3h0.9v0.9h-0.9zM163.9 53.3h0.9v0.9h-0.9zM177.4 49.6h0.9v0.9h-0.9zM177.2 46.2h0.9v0.9h-0.9zM151.2 56.7h0.9v0.9h-0.9zM159.6 50.9h0.9v0.9h-0.9zM159.6 53.2h0.9v0.9h-0.9zM164.6 53.6h0.9v0.9h-0.9zM157.7 57.0h0.9v0.9h-0.9zM164.4 53.3h0.9v0.9h-0.9zM171.6 45.5h0.9v0.9h-0.9zM174.6 45.5h0.9v0.9h-0.9zM167.3 52.9h0.9v0.9h-0.9zM168.9 45.7h0.9v0.9h-0.9zM165.6 53.8h0.9v0.9h-0.9zM162.5 52.0h0.9v0.9h-0.9zM165.4 55.1h0.9v0.9h-0.9zM158.6 51.4h0.9v0.9h-0.9zM154.8 54.0h0.9v0.9h-0.9zM162.0 53.3h0.9v0.9h-0.9zM161.4 48.4h0.9v0.9h-0.9zM152.4 58.0h0.9v0.9h-0.9zM167.7 46.8h0.9v0.9h-0.9zM168.3 43.8h0.9v0.9h-0.9zM181.2 46.1h0.9v0.9h-0.9zM151.7 57.9h0.9v0.9h-0.9zM162.8 50.9h0.9v0.9h-0.9zM160.6 52.4h0.9v0.9h-0.9zM161.9 50.2h0.9v0.9h-0.9zM159.8 54.7h0.9v0.9h-0.9zM166.2 47.4h0.9v0.9h-0.9zM161.2 56.6h0.9v0.9h-0.9zM170.2 53.2h0.9v0.9h-0.9zM152.6 53.6h0.9v0.9h-0.9zM145.7 54.2h0.9v0.9h-0.9zM159.8 50.7h0.9v0.9h-0.9zM154.8 53.6h0.9v0.9h-0.9zM162.8 54.1h0.9v0.9h-0.9zM166.1 46.4h0.9v0.9h-0.9zM174.2 46.6h0.9v0.9h-0.9zM156.0 54.7h0.9v0.9h-0.9zM159.3 50.0h0.9v0.9h-0.9zM174.5 45.9h0.9v0.9h-0.9zM159.5 54.8h0.9v0.9h-0.9zM176.3 47.8h0.9v0.9h-0.9zM157.2 55.4h0.9v0.9h-0.9zM172.0 49.3h0.9v0.9h-0.9zM167.9 48.8h0.9v0.9h-0.9zM161.5 48.4h0.9v0.9h-0.9zM157.2 51.5h0.9v0.9h-0.9zM164.8 55.0h0.9v0.9h-0.9zM145.7 55.7h0.9v0.9h-0.9zM156.5 54.4h0.9v0.9h-0.9zM171.5 46.7h0.9v0.9h-0.9zM158.7 56.8h0.9v0.9h-0.9zM166.7 51.8h0.9v0.9h-0.9zM169.0 47.7h0.9v0.9h-0.9zM164.6 49.7h0.9v0.9h-0.9zM158.2 54.3h0.9v0.9h-0.9zM165.6 47.8h0.9v0.9h-0.9zM158.3 55.4h0.9v0.9h-0.9zM165.3 52.7h0.9v0.9h-0.9zM160.5 51.0h0.9v0.9h-0.9zM169.8 50.7h0.9v0.9h-0.9zM143.1 62.2h0.9v0.9h-0.9zM158.4 55.5h0.9v0.9h-0.9zM174.9 46.5h0.9v0.9h-0.9zM156.5 55.3h0.9v0.9h-0.9zM164.6 52.7h0.9v0.9h-0.9zM153.3 56.5h0.9v0.9h-0.9zM170.7 50.6h0.9v0.9h-0.9zM169.2 52.5h0.9v0.9h-0.9zM158.4 56.9h0.9v0.9h-0.9zM164.2 49.0h0.9v0.9h-0.9zM161.5 53.3h0.9v0.9h-0.9zM167.1 53.7h0.9v0.9h-0.9zM164.5 50.1h0.9v0.9h-0.9zM179.5 44.5h0.9v0.9h-0.9zM158.2 56.3h0.9v0.9h-0.9zM159.7 51.4h0.9v0.9h-0.9zM156.6 57.5h0.9v0.9h-0.9zM155.7 55.2h0.9v0.9h-0.9zM159.9 52.8h0.9v0.9h-0.9zM157.5 54.6h0.9v0.9h-0.9zM168.9 52.2h0.9v0.9h-0.9zM159.8 50.4h0.9v0.9h-0.9zM152.5 56.3h0.9v0.9h-0.9zM146.2 62.1h0.9v0.9h-0.9zM163.8 52.0h0.9v0.9h-0.9zM152.6 54.6h0.9v0.9h-0.9zM158.5 55.5h0.9v0.9h-0.9zM161.0 54.4h0.9v0.9h-0.9zM165.7 46.1h0.9v0.9h-0.9zM162.9 55.2h0.9v0.9h-0.9zM159.8 53.6h0.9v0.9h-0.9zM161.5 49.6h0.9v0.9h-0.9zM179.6 45.0h0.9v0.9h-0.9zM167.9 48.9h0.9v0.9h-0.9zM174.9 50.1h0.9v0.9h-0.9zM173.1 50.3h0.9v0.9h-0.9zM169.9 52.7h0.9v0.9h-0.9zM166.6 50.9h0.9v0.9h-0.9zM168.8 47.5h0.9v0.9h-0.9zM145.3 61.2h0.9v0.9h-0.9zM164.0 49.9h0.9v0.9h-0.9zM160.7 50.6h0.9v0.9h-0.9zM157.4 54.7h0.9v0.9h-0.9zM165.1 53.2h0.9v0.9h-0.9zM163.4 53.4h0.9v0.9h-0.9zM168.0 48.3h0.9v0.9h-0.9zM150.3 55.4h0.9v0.9h-0.9zM161.2 51.4h0.9v0.9h-0.9zM179.4 43.7h0.9v0.9h-0.9zM166.4 48.8h0.9v0.9h-0.9zM167.6 47.0h0.9v0.9h-0.9zM170.7 49.3h0.9v0.9h-0.9zM159.5 50.5h0.9v0.9h-0.9zM175.4 45.6h0.9v0.9h-0.9zM156.1 59.3h0.9v0.9h-0.9zM176.8 46.5h0.9v0.9h-0.9zM171.5 50.1h0.9v0.9h-0.9zM161.0 53.2h0.9v0.9h-0.9zM153.8 52.4h0.9v0.9h-0.9zM165.1 53.0h0.9v0.9h-0.9zM163.6 48.7h0.9v0.9h-0.9zM169.9 49.5h0.9v0.9h-0.9zM168.9 48.9h0.9v0.9h-0.9zM162.4 54.9h0.9v0.9h-0.9zM172.7 45.1h0.9v0.9h-0.9zM156.1 57.2h0.9v0.9h-0.9zM166.2 50.9h0.9v0.9h-0.9zM157.1 56.9h0.9v0.9h-0.9zM165.1 51.7h0.9v0.9h-0.9zM165.9 49.5h0.9v0.9h-0.9zM166.6 50.9h0.9v0.9h-0.9zM169.2 50.5h0.9v0.9h-0.9zM153.4 54.2h0.9v0.9h-0.9zM162.5 55.1h0.9v0.9h-0.9zM159.6 56.2h0.9v0.9h-0.9zM172.3 50.4h0.9v0.9h-0.9zM180.3 45.0h0.9v0.9h-0.9zM166.9 53.5h0.9v0.9h-0.9zM167.4 52.7h0.9v0.9h-0.9zM163.8 55.2h0.9v0.9h-0.9zM164.5 46.7h0.9v0.9h-0.9zM171.4 48.2h0.9v0.9h-0.9zM156.7 53.8h0.9v0.9h-0.9zM162.4 55.1h0.9v0.9h-0.9zM165.9 50.7h0.9v0.9h-0.9zM162.6 50.0h0.9v0.9h-0.9zM158.3 52.8h0.9v0.9h-0.9zM160.8 50.0h0.9v0.9h-0.9zM161.4 55.2h0.9v0.9h-0.9zM166.9 50.5h0.9v0.9h-0.9zM165.9 50.3h0.9v0.9h-0.9zM155.4 57.3h0.9v0.9h-0.9zM180.7 46.2h0.9v0.9h-0.9zM170.7 55.0h0.9v0.9h-0.9zM155.0 56.6h0.9v0.9h-0.9zM160.7 52.3h0.9v0.9h-0.9zM151.1 56.6h0.9v0.9h-0.9zM165.1 47.2h0.9v0.9h-0.9zM161.4 51.5h0.9v0.9h-0.9zM156.6 56.2h0.9v0.9h-0.9zM176.1 47.8h0.9v0.9h-0.9zM171.8 50.4h0.9v0.9h-0.9zM163.5 53.3h0.9v0.9h-0.9zM173.0 46.9h0.9v0.9h-0.9zM161.2 49.3h0.9v0.9h-0.9zM149.0 55.7h0.9v0.9h-0.9zM170.5 49.9h0.9v0.9h-0.9zM166.6 53.8h0.9v0.9h-0.9zM151.5 60.1h0.9v0.9h-0.9zM164.8 53.2h0.9v0.9h-0.9zM173.1 46.0h0.9v0.9h-0.9zM157.4 55.3h0.9v0.9h-0.9zM162.6 50.8h0.9v0.9h-0.9zM162.0 50.7h0.9v0.9h-0.9zM164.2 50.6h0.9v0.9h-0.9zM175.3 44.5h0.9v0.9h-0.9zM167.9 50.2h0.9v0.9h-0.9zM174.5 45.0h0.9v0.9h-0.9zM161.5 56.9h0.9v0.9h-0.9zM158.3 53.0h0.9v0.9h-0.9zM159.8 50.9h0.9v0.9h-0.9zM173.9 51.4h0.9v0.9h-0.9zM161.7 50.7h0.9v0.9h-0.9zM154.0 57.3h0.9v0.9h-0.9zM160.0 54.6h0.9v0.9h-0.9zM145.2 58.2h0.9v0.9h-0.9zM168.5 50.8h0.9v0.9h-0.9zM142.4 61.1h0.9v0.9h-0.9zM164.5 51.4h0.9v0.9h-0.9zM160.6 51.9h0.9v0.9h-0.9zM165.0 52.5h0.9v0.9h-0.9zM139.9 61.3h0.9v0.9h-0.9zM170.3 48.6h0.9v0.9h-0.9zM171.8 46.2h0.9v0.9h-0.9zM178.6 48.1h0.9v0.9h-0.9zM162.8 58.9h0.9v0.9h-0.9zM175.6 50.8h0.9v0.9h-0.9zM154.5 55.2h0.9v0.9h-0.9zM167.9 52.6h0.9v0.9h-0.9zM163.0 48.9h0.9v0.9h-0.9zM172.5 47.8h0.9v0.9h-0.9zM166.5 49.8h0.9v0.9h-0.9zM161.5 49.3h0.9v0.9h-0.9zM168.0 48.5h0.9v0.9h-0.9zM150.7 58.0h0.9v0.9h-0.9zM164.1 54.0h0.9v0.9h-0.9zM168.6 46.8h0.9v0.9h-0.9zM162.2 52.4h0.9v0.9h-0.9zM163.3 49.3h0.9v0.9h-0.9zM164.9 53.7h0.9v0.9h-0.9zM174.0 51.2h0.9v0.9h-0.9zM167.0 44.2h0.9v0.9h-0.9zM161.0 51.5h0.9v0.9h-0.9zM143.2 63.8h0.9v0.9h-0.9zM170.3 49.1h0.9v0.9h-0.9zM166.6 51.8h0.9v0.9h-0.9zM163.1 55.4h0.9v0.9h-0.9zM177.8 48.1h0.9v0.9h-0.9zM159.6 54.0h0.9v0.9h-0.9zM171.4 50.4h0.9v0.9h-0.9zM159.2 55.9h0.9v0.9h-0.9zM169.4 50.9h0.9v0.9h-0.9zM160.4 53.0h0.9v0.9h-0.9zM149.3 57.5h0.9v0.9h-0.9zM160.0 52.5h0.9v0.9h-0.9zM161.1 52.0h0.9v0.9h-0.9zM164.2 51.8h0.9v0.9h-0.9zM158.8 53.4h0.9v0.9h-0.9zM163.3 53.1h0.9v0.9h-0.9zM166.5 49.7h0.9v0.9h-0.9zM156.0 50.8h0.9v0.9h-0.9zM154.5 56.4h0.9v0.9h-0.9zM158.0 58.0h0.9v0.9h-0.9zM162.0 51.5h0.9v0.9h-0.9zM161.9 51.1h0.9v0.9h-0.9zM158.9 53.9h0.9v0.9h-0.9zM152.9 56.5h0.9v0.9h-0.9zM162.1 50.2h0.9v0.9h-0.9zM171.5 49.5h0.9v0.9h-0.9zM171.0 47.2h0.9v0.9h-0.9zM153.3 53.1h0.9v0.9h-0.9zM150.2 52.6h0.9v0.9h-0.9zM174.8 46.1h0.9v0.9h-0.9zM164.5 50.1h0.9v0.9h-0.9zM163.8 55.6h0.9v0.9h-0.9zM149.8 55.0h0.9v0.9h-0.9zM163.7 49.5h0.9v0.9h-0.9zM169.8 52.5h0.9v0.9h-0.9zM170.8 50.7h0.9v0.9h-0.9zM163.2 54.4h0.9v0.9h-0.9zM156.5 51.7h0.9v0.9h-0.9zM161.4 52.1h0.9v0.9h-0.9zM171.8 46.1h0.9v0.9h-0.9zM171.4 46.7h0.9v0.9h-0.9zM152.7 52.0h0.9v0.9h-0.9zM162.0 48.9h0.9v0.9h-0.9zM165.1 51.3h0.9v0.9h-0.9zM158.9 49.0h0.9v0.9h-0.9zM160.0 54.3h0.9v0.9h-0.9zM150.8 58.6h0.9v0.9h-0.9zM163.2 50.6h0.9v0.9h-0.9zM165.6 52.6h0.9v0.9h-0.9zM162.7 50.2h0.9v0.9h-0.9zM168.8 48.0h0.9v0.9h-0.9zM167.0 52.8h0.9v0.9h-0.9zM174.6 51.2h0.9v0.9h-0.9zM171.3 49.0h0.9v0.9h-0.9zM162.2 52.8h0.9v0.9h-0.9zM170.0 56.5h0.9v0.9h-0.9zM167.7 48.1h0.9v0.9h-0.9zM173.5 43.9h0.9v0.9h-0.9zM169.9 46.1h0.9v0.9h-0.9zM155.0 54.0h0.9v0.9h-0.9zM160.2 49.8h0.9v0.9h-0.9zM168.0 49.7h0.9v0.9h-0.9zM172.6 45.6h0.9v0.9h-0.9zM150.6 58.7h0.9v0.9h-0.9zM162.7 54.5h0.9v0.9h-0.9zM145.0 56.2h0.9v0.9h-0.9zM165.8 55.7h0.9v0.9h-0.9zM152.7 51.5h0.9v0.9h-0.9zM161.3 56.2h0.9v0.9h-0.9zM174.1 44.2h0.9v0.9h-0.9zM157.4 49.8h0.9v0.9h-0.9zM156.4 52.3h0.9v0.9h-0.9zM167.7 52.9h0.9v0.9h-0.9zM180.9 43.9h0.9v0.9h-0.9zM169.8 49.8h0.9v0.9h-0.9zM166.1 55.5h0.9v0.9h-0.9zM170.1 53.0h0.9v0.9h-0.9zM166.5 52.7h0.9v0.9h-0.9zM167.2 50.1h0.9v0.9h-0.9zM158.0 53.1h0.9v0.9h-0.9zM163.3 51.0h0.9v0.9h-0.9zM160.4 51.3h0.9v0.9h-0.9zM169.7 48.7h0.9v0.9h-0.9zM162.4 51.7h0.9v0.9h-0.9zM172.8 46.7h0.9v0.9h-0.9zM173.3 45.8h0.9v0.9h-0.9zM175.4 48.5h0.9v0.9h-0.9zM160.3 54.2h0.9v0.9h-0.9zM171.2 46.4h0.9v0.9h-0.9zM162.1 53.1h0.9v0.9h-0.9zM161.7 51.8h0.9v0.9h-0.9zM163.9 52.4h0.9v0.9h-0.9zM170.5 52.6h0.9v0.9h-0.9zM163.6 59.0h0.9v0.9h-0.9zM162.6 56.5h0.9v0.9h-0.9zM161.3 49.1h0.9v0.9h-0.9zM160.0 52.4h0.9v0.9h-0.9zM169.7 44.3h0.9v0.9h-0.9zM158.7 53.4h0.9v0.9h-0.9zM168.7 50.7h0.9v0.9h-0.9zM169.7 48.9h0.9v0.9h-0.9zM162.8 55.1h0.9v0.9h-0.9zM176.6 47.4h0.9v0.9h-0.9zM163.9 49.5h0.9v0.9h-0.9zM179.5 46.3h0.9v0.9h-0.9zM166.7 46.6h0.9v0.9h-0.9zM170.1 55.1h0.9v0.9h-0.9zM162.1 51.9h0.9v0.9h-0.9zM174.7 46.8h0.9v0.9h-0.9zM171.4 53.4h0.9v0.9h-0.9zM154.2 53.6h0.9v0.9h-0.9zM168.7 50.0h0.9v0.9h-0.9zM163.7 51.3h0.9v0.9h-0.9zM164.8 52.2h0.9v0.9h-0.9zM159.8 52.6h0.9v0.9h-0.9zM164.3 48.8h0.9v0.9h-0.9zM164.9 45.8h0.9v0.9h-0.9zM168.2 49.6h0.9v0.9h-0.9zM156.0 58.2h0.9v0.9h-0.9zM156.6 59.7h0.9v0.9h-0.9zM159.2 56.5h0.9v0.9h-0.9zM164.4 55.4h0.9v0.9h-0.9zM162.8 54.6h0.9v0.9h-0.9zM159.6 48.8h0.9v0.9h-0.9zM166.8 51.6h0.9v0.9h-0.9zM167.9 54.1h0.9v0.9h-0.9zM156.9 51.0h0.9v0.9h-0.9zM164.8 49.6h0.9v0.9h-0.9zM162.8 52.1h0.9v0.9h-0.9zM158.4 56.5h0.9v0.9h-0.9zM164.2 55.9h0.9v0.9h-0.9zM166.3 53.3h0.9v0.9h-0.9zM160.8 51.3h0.9v0.9h-0.9zM158.9 51.5h0.9v0.9h-0.9zM167.0 50.8h0.9v0.9h-0.9zM154.2 51.8h0.9v0.9h-0.9zM155.6 50.5h0.9v0.9h-0.9zM155.7 51.2h0.9v0.9h-0.9zM167.8 47.2h0.9v0.9h-0.9zM159.1 53.3h0.9v0.9h-0.9zM164.1 52.6h0.9v0.9h-0.9zM169.7 50.9h0.9v0.9h-0.9zM162.1 55.5h0.9v0.9h-0.9zM165.7 49.2h0.9v0.9h-0.9zM173.6 44.8h0.9v0.9h-0.9zM168.1 53.0h0.9v0.9h-0.9zM164.7 52.2h0.9v0.9h-0.9zM165.0 52.8h0.9v0.9h-0.9zM165.2 51.1h0.9v0.9h-0.9zM167.1 45.7h0.9v0.9h-0.9zM165.1 50.4h0.9v0.9h-0.9zM178.2 46.6h0.9v0.9h-0.9zM159.2 55.1h0.9v0.9h-0.9zM159.7 50.4h0.9v0.9h-0.9zM161.9 53.7h0.9v0.9h-0.9zM173.2 50.5h0.9v0.9h-0.9zM165.1 50.8h0.9v0.9h-0.9zM166.0 53.8h0.9v0.9h-0.9zM163.6 54.6h0.9v0.9h-0.9zM157.7 54.1h0.9v0.9h-0.9zM169.8 51.0h0.9v0.9h-0.9zM164.6 50.1h0.9v0.9h-0.9zM150.0 56.2h0.9v0.9h-0.9zM157.0 53.5h0.9v0.9h-0.9zM174.5 45.5h0.9v0.9h-0.9zM169.7 49.2h0.9v0.9h-0.9zM155.5 55.3h0.9v0.9h-0.9zM168.0 47.1h0.9v0.9h-0.9zM154.7 54.4h0.9v0.9h-0.9zM168.3 48.4h0.9v0.9h-0.9zM167.0 51.5h0.9v0.9h-0.9zM164.0 52.7h0.9v0.9h-0.9zM172.7 47.6h0.9v0.9h-0.9zM165.0 48.6h0.9v0.9h-0.9zM158.2 53.7h0.9v0.9h-0.9zM168.9 48.0h0.9v0.9h-0.9zM154.2 57.9h0.9v0.9h-0.9zM155.9 55.2h0.9v0.9h-0.9zM166.3 48.4h0.9v0.9h-0.9zM166.9 53.1h0.9v0.9h-0.9zM162.2 54.1h0.9v0.9h-0.9zM163.7 49.5h0.9v0.9h-0.9zM158.5 52.3h0.9v0.9h-0.9zM174.2 50.3h0.9v0.9h-0.9zM164.0 47.8h0.9v0.9h-0.9zM159.6 52.4h0.9v0.9h-0.9zM149.5 57.4h0.9v0.9h-0.9zM164.5 48.2h0.9v0.9h-0.9zM160.0 52.1h0.9v0.9h-0.9zM177.6 47.8h0.9v0.9h-0.9zM169.2 49.7h0.9v0.9h-0.9zM155.0 57.5h0.9v0.9h-0.9zM157.0 49.7h0.9v0.9h-0.9zM168.5 48.9h0.9v0.9h-0.9zM164.0 52.9h0.9v0.9h-0.9zM162.2 53.3h0.9v0.9h-0.9zM172.6 47.3h0.9v0.9h-0.9zM161.0 52.9h0.9v0.9h-0.9zM167.9 49.0h0.9v0.9h-0.9zM163.5 50.1h0.9v0.9h-0.9zM163.4 53.2h0.9v0.9h-0.9zM157.4 53.8h0.9v0.9h-0.9zM152.3 54.6h0.9v0.9h-0.9zM164.5 52.7h0.9v0.9h-0.9zM156.0 54.6h0.9v0.9h-0.9zM157.1 55.2h0.9v0.9h-0.9zM165.8 52.0h0.9v0.9h-0.9zM160.8 49.4h0.9v0.9h-0.9zM158.3 50.6h0.9v0.9h-0.9zM158.6 53.7h0.9v0.9h-0.9zM170.8 47.3h0.9v0.9h-0.9zM158.1 54.5h0.9v0.9h-0.9zM150.3 62.0h0.9v0.9h-0.9zM153.2 58.4h0.9v0.9h-0.9zM171.4 51.0h0.9v0.9h-0.9zM163.4 53.6h0.9v0.9h-0.9zM161.9 54.8h0.9v0.9h-0.9zM158.1 52.0h0.9v0.9h-0.9zM165.9 49.7h0.9v0.9h-0.9zM167.7 48.0h0.9v0.9h-0.9zM164.6 48.9h0.9v0.9h-0.9zM164.6 56.6h0.9v0.9h-0.9zM154.7 52.4h0.9v0.9h-0.9zM151.7 56.0h0.9v0.9h-0.9zM174.9 46.1h0.9v0.9h-0.9zM170.1 48.7h0.9v0.9h-0.9zM160.6 57.9h0.9v0.9h-0.9zM169.8 44.8h0.9v0.9h-0.9zM156.8 55.5h0.9v0.9h-0.9zM168.0 49.4h0.9v0.9h-0.9zM166.2 52.0h0.9v0.9h-0.9zM161.8 54.9h0.9v0.9h-0.9zM158.0 55.9h0.9v0.9h-0.9zM170.3 49.6h0.9v0.9h-0.9zM161.0 52.8h0.9v0.9h-0.9zM147.7 58.8h0.9v0.9h-0.9zM151.6 51.7h0.9v0.9h-0.9zM168.2 47.7h0.9v0.9h-0.9zM166.1 50.9h0.9v0.9h-0.9zM150.1 55.0h0.9v0.9h-0.9zM162.0 53.6h0.9v0.9h-0.9zM163.0 48.9h0.9v0.9h-0.9zM159.8 53.6h0.9v0.9h-0.9zM154.0 54.6h0.9v0.9h-0.9zM157.8 48.9h0.9v0.9h-0.9zM176.7 48.6h0.9v0.9h-0.9zM161.0 55.1h0.9v0.9h-0.9zM157.3 58.0h0.9v0.9h-0.9zM161.0 53.2h0.9v0.9h-0.9zM159.4 53.7h0.9v0.9h-0.9zM165.9 50.9h0.9v0.9h-0.9zM158.2 55.8h0.9v0.9h-0.9zM167.5 50.2h0.9v0.9h-0.9zM170.5 47.2h0.9v0.9h-0.9zM172.6 47.7h0.9v0.9h-0.9zM174.0 46.5h0.9v0.9h-0.9zM161.9 53.0h0.9v0.9h-0.9zM172.6 51.6h0.9v0.9h-0.9zM159.6 51.6h0.9v0.9h-0.9zM170.0 52.2h0.9v0.9h-0.9zM168.3 49.1h0.9v0.9h-0.9zM172.6 48.0h0.9v0.9h-0.9zM165.3 52.6h0.9v0.9h-0.9zM157.5 48.7h0.9v0.9h-0.9zM165.7 52.7h0.9v0.9h-0.9zM167.1 51.7h0.9v0.9h-0.9zM165.6 53.5h0.9v0.9h-0.9zM165.6 54.6h0.9v0.9h-0.9zM164.5 53.3h0.9v0.9h-0.9zM159.8 54.0h0.9v0.9h-0.9zM166.7 50.9h0.9v0.9h-0.9zM174.6 47.4h0.9v0.9h-0.9zM171.9 49.3h0.9v0.9h-0.9zM170.6 46.7h0.9v0.9h-0.9zM161.7 54.9h0.9v0.9h-0.9zM158.0 55.0h0.9v0.9h-0.9zM167.7 50.6h0.9v0.9h-0.9zM167.1 51.7h0.9v0.9h-0.9zM162.2 53.3h0.9v0.9h-0.9zM159.4 52.3h0.9v0.9h-0.9zM152.0 56.2h0.9v0.9h-0.9zM151.3 56.8h0.9v0.9h-0.9zM164.1 48.9h0.9v0.9h-0.9zM164.3 52.2h0.9v0.9h-0.9zM160.2 50.9h0.9v0.9h-0.9zM163.1 53.0h0.9v0.9h-0.9zM171.8 53.2h0.9v0.9h-0.9zM149.6 58.2h0.9v0.9h-0.9zM166.1 49.2h0.9v0.9h-0.9zM167.6 55.3h0.9v0.9h-0.9zM165.5 54.3h0.9v0.9h-0.9zM170.8 47.8h0.9v0.9h-0.9zM147.9 60.9h0.9v0.9h-0.9zM173.1 43.6h0.9v0.9h-0.9zM161.5 50.9h0.9v0.9h-0.9zM165.0 51.3h0.9v0.9h-0.9zM171.2 47.2h0.9v0.9h-0.9zM167.3 56.8h0.9v0.9h-0.9zM163.3 53.4h0.9v0.9h-0.9zM162.9 60.1h0.9v0.9h-0.9zM169.6 48.5h0.9v0.9h-0.9zM149.9 57.8h0.9v0.9h-0.9zM167.0 45.4h0.9v0.9h-0.9zM160.5 54.4h0.9v0.9h-0.9zM146.1 58.4h0.9v0.9h-0.9zM151.0 53.6h0.9v0.9h-0.9zM167.4 53.0h0.9v0.9h-0.9zM171.3 47.0h0.9v0.9h-0.9zM165.7 46.6h0.9v0.9h-0.9zM153.3 57.2h0.9v0.9h-0.9zM159.8 50.8h0.9v0.9h-0.9zM149.9 56.7h0.9v0.9h-0.9zM157.0 57.2h0.9v0.9h-0.9zM149.2 56.1h0.9v0.9h-0.9zM165.0 54.0h0.9v0.9h-0.9zM164.5 55.9h0.9v0.9h-0.9zM163.2 51.7h0.9v0.9h-0.9zM167.0 51.3h0.9v0.9h-0.9zM151.9 54.2h0.9v0.9h-0.9zM162.1 53.2h0.9v0.9h-0.9zM154.1 53.8h0.9v0.9h-0.9zM158.5 54.7h0.9v0.9h-0.9zM160.9 54.3h0.9v0.9h-0.9zM165.5 48.7h0.9v0.9h-0.9zM160.3 50.0h0.9v0.9h-0.9zM165.0 53.2h0.9v0.9h-0.9zM154.9 50.9h0.9v0.9h-0.9zM167.0 49.7h0.9v0.9h-0.9zM163.7 52.9h0.9v0.9h-0.9zM167.0 52.7h0.9v0.9h-0.9zM158.3 48.5h0.9v0.9h-0.9zM159.7 52.6h0.9v0.9h-0.9zM160.9 53.8h0.9v0.9h-0.9zM162.8 55.3h0.9v0.9h-0.9zM158.9 53.6h0.9v0.9h-0.9zM162.7 57.3h0.9v0.9h-0.9zM155.8 52.5h0.9v0.9h-0.9zM161.4 54.5h0.9v0.9h-0.9zM163.4 51.4h0.9v0.9h-0.9zM151.2 51.7h0.9v0.9h-0.9zM161.8 51.9h0.9v0.9h-0.9zM176.5 47.5h0.9v0.9h-0.9zM167.4 52.6h0.9v0.9h-0.9zM156.0 51.8h0.9v0.9h-0.9zM162.1 56.0h0.9v0.9h-0.9zM170.1 47.7h0.9v0.9h-0.9zM155.3 57.4h0.9v0.9h-0.9zM170.5 46.3h0.9v0.9h-0.9zM174.5 45.5h0.9v0.9h-0.9zM168.7 49.2h0.9v0.9h-0.9zM160.6 51.5h0.9v0.9h-0.9zM169.0 51.1h0.9v0.9h-0.9zM169.1 48.8h0.9v0.9h-0.9zM159.2 58.8h0.9v0.9h-0.9zM175.7 46.4h0.9v0.9h-0.9zM156.5 58.3h0.9v0.9h-0.9zM164.5 51.5h0.9v0.9h-0.9zM170.0 50.0h0.9v0.9h-0.9zM166.0 55.7h0.9v0.9h-0.9zM150.4 58.7h0.9v0.9h-0.9zM156.4 54.8h0.9v0.9h-0.9zM162.5 52.9h0.9v0.9h-0.9zM146.6 60.3h0.9v0.9h-0.9zM180.1 44.1h0.9v0.9h-0.9zM170.6 50.5h0.9v0.9h-0.9zM165.2 49.9h0.9v0.9h-0.9zM168.4 50.5h0.9v0.9h-0.9zM174.7 49.3h0.9v0.9h-0.9zM155.8 47.7h0.9v0.9h-0.9zM174.9 48.4h0.9v0.9h-0.9zM164.2 50.0h0.9v0.9h-0.9zM182.9 47.3h0.9v0.9h-0.9zM163.9 50.7h0.9v0.9h-0.9zM168.9 53.0h0.9v0.9h-0.9zM168.1 52.3h0.9v0.9h-0.9zM165.7 51.8h0.9v0.9h-0.9zM154.4 55.8h0.9v0.9h-0.9zM163.8 51.5h0.9v0.9h-0.9zM162.0 53.2h0.9v0.9h-0.9zM159.1 53.1h0.9v0.9h-0.9zM155.9 60.6h0.9v0.9h-0.9zM156.0 51.9h0.9v0.9h-0.9zM159.2 52.5h0.9v0.9h-0.9zM153.6 49.8h0.9v0.9h-0.9zM176.4 49.1h0.9v0.9h-0.9zM161.2 54.1h0.9v0.9h-0.9zM154.0 51.6h0.9v0.9h-0.9zM166.4 52.0h0.9v0.9h-0.9zM158.5 53.8h0.9v0.9h-0.9zM140.9 60.6h0.9v0.9h-0.9zM171.4 49.0h0.9v0.9h-0.9zM165.3 52.5h0.9v0.9h-0.9zM147.1 55.2h0.9v0.9h-0.9zM154.4 56.1h0.9v0.9h-0.9zM157.3 49.7h0.9v0.9h-0.9zM169.9 48.8h0.9v0.9h-0.9zM172.5 53.1h0.9v0.9h-0.9zM150.3 54.0h0.9v0.9h-0.9zM172.6 51.6h0.9v0.9h-0.9zM166.7 51.4h0.9v0.9h-0.9zM169.2 51.1h0.9v0.9h-0.9zM154.8 57.2h0.9v0.9h-0.9zM170.4 48.0h0.9v0.9h-0.9zM156.4 53.5h0.9v0.9h-0.9zM159.6 54.7h0.9v0.9h-0.9zM169.2 49.6h0.9v0.9h-0.9zM159.7 48.9h0.9v0.9h-0.9zM159.5 50.9h0.9v0.9h-0.9zM159.7 54.2h0.9v0.9h-0.9zM167.7 58.8h0.9v0.9h-0.9zM156.6 53.3h0.9v0.9h-0.9zM154.8 54.7h0.9v0.9h-0.9zM162.3 54.8h0.9v0.9h-0.9zM149.9 59.5h0.9v0.9h-0.9zM167.8 48.8h0.9v0.9h-0.9zM158.6 54.3h0.9v0.9h-0.9zM167.2 49.9h0.9v0.9h-0.9zM162.4 52.3h0.9v0.9h-0.9zM155.7 55.6h0.9v0.9h-0.9zM167.8 50.2h0.9v0.9h-0.9zM155.1 55.2h0.9v0.9h-0.9zM163.0 52.8h0.9v0.9h-0.9zM161.1 54.8h0.9v0.9h-0.9zM172.2 50.3h0.9v0.9h-0.9zM166.3 53.7h0.9v0.9h-0.9zM163.0 51.6h0.9v0.9h-0.9zM153.0 56.1h0.9v0.9h-0.9zM171.6 46.2h0.9v0.9h-0.9zM168.1 46.8h0.9v0.9h-0.9zM167.2 54.8h0.9v0.9h-0.9zM162.8 49.2h0.9v0.9h-0.9zM165.5 50.6h0.9v0.9h-0.9zM168.9 48.3h0.9v0.9h-0.9zM150.3 56.0h0.9v0.9h-0.9zM168.7 52.2h0.9v0.9h-0.9zM165.5 51.0h0.9v0.9h-0.9zM168.4 49.4h0.9v0.9h-0.9zM160.3 53.6h0.9v0.9h-0.9zM171.1 47.5h0.9v0.9h-0.9zM166.6 49.0h0.9v0.9h-0.9zM158.2 54.4h0.9v0.9h-0.9zM153.0 54.0h0.9v0.9h-0.9zM154.2 54.1h0.9v0.9h-0.9zM158.7 59.4h0.9v0.9h-0.9zM168.0 50.2h0.9v0.9h-0.9zM151.6 50.8h0.9v0.9h-0.9zM166.2 49.2h0.9v0.9h-0.9zM170.8 47.9h0.9v0.9h-0.9zM153.3 54.4h0.9v0.9h-0.9zM151.0 53.4h0.9v0.9h-0.9zM168.3 48.6h0.9v0.9h-0.9zM168.1 48.6h0.9v0.9h-0.9zM161.3 51.4h0.9v0.9h-0.9zM158.9 52.1h0.9v0.9h-0.9zM174.4 47.3h0.9v0.9h-0.9zM150.5 61.2h0.9v0.9h-0.9zM173.6 50.4h0.9v0.9h-0.9zM162.6 51.8h0.9v0.9h-0.9zM160.0 53.5h0.9v0.9h-0.9zM166.9 50.4h0.9v0.9h-0.9zM156.6 52.3h0.9v0.9h-0.9zM177.1 50.4h0.9v0.9h-0.9zM153.8 54.2h0.9v0.9h-0.9zM163.6 53.2h0.9v0.9h-0.9zM162.8 52.7h0.9v0.9h-0.9zM167.1 53.1h0.9v0.9h-0.9zM154.7 58.0h0.9v0.9h-0.9zM167.1 51.6h0.9v0.9h-0.9zM152.1 55.8h0.9v0.9h-0.9zM162.1 53.9h0.9v0.9h-0.9zM169.1 51.2h0.9v0.9h-0.9zM154.9 58.3h0.9v0.9h-0.9zM164.7 53.6h0.9v0.9h-0.9zM162.8 50.4h0.9v0.9h-0.9zM183.3 45.4h0.9v0.9h-0.9zM168.7 48.6h0.9v0.9h-0.9zM162.7 54.8h0.9v0.9h-0.9zM168.2 54.1h0.9v0.9h-0.9zM171.4 46.0h0.9v0.9h-0.9zM153.0 58.8h0.9v0.9h-0.9zM167.6 49.5h0.9v0.9h-0.9zM160.8 51.6h0.9v0.9h-0.9zM176.5 46.1h0.9v0.9h-0.9zM154.0 57.8h0.9v0.9h-0.9zM163.1 52.8h0.9v0.9h-0.9zM160.5 52.9h0.9v0.9h-0.9zM150.0 58.6h0.9v0.9h-0.9zM158.0 53.1h0.9v0.9h-0.9zM166.8 53.5h0.9v0.9h-0.9zM147.4 58.0h0.9v0.9h-0.9zM168.3 52.3h0.9v0.9h-0.9zM156.9 55.2h0.9v0.9h-0.9zM167.1 52.6h0.9v0.9h-0.9zM158.7 53.3h0.9v0.9h-0.9zM160.6 55.7h0.9v0.9h-0.9zM171.1 47.7h0.9v0.9h-0.9zM162.6 52.7h0.9v0.9h-0.9zM156.6 54.3h0.9v0.9h-0.9zM170.4 50.9h0.9v0.9h-0.9zM157.8 52.6h0.9v0.9h-0.9zM161.3 49.2h0.9v0.9h-0.9zM165.8 51.2h0.9v0.9h-0.9zM153.3 55.4h0.9v0.9h-0.9zM158.3 53.3h0.9v0.9h-0.9zM158.0 57.3h0.9v0.9h-0.9zM156.9 56.3h0.9v0.9h-0.9zM166.1 54.2h0.9v0.9h-0.9zM163.0 52.0h0.9v0.9h-0.9zM162.3 47.8h0.9v0.9h-0.9zM181.0 44.2h0.9v0.9h-0.9zM160.1 50.5h0.9v0.9h-0.9zM163.7 55.6h0.9v0.9h-0.9zM158.2 55.0h0.9v0.9h-0.9zM171.8 50.7h0.9v0.9h-0.9zM159.0 49.5h0.9v0.9h-0.9zM166.9 51.8h0.9v0.9h-0.9zM160.6 52.0h0.9v0.9h-0.9zM175.0 43.4h0.9v0.9h-0.9zM159.1 52.2h0.9v0.9h-0.9zM151.3 55.1h0.9v0.9h-0.9zM158.5 56.8h0.9v0.9h-0.9zM149.3 54.3h0.9v0.9h-0.9zM164.0 47.9h0.9v0.9h-0.9zM148.0 56.6h0.9v0.9h-0.9zM153.6 53.5h0.9v0.9h-0.9zM162.6 53.3h0.9v0.9h-0.9zM158.4 53.2h0.9v0.9h-0.9zM168.5 49.4h0.9v0.9h-0.9zM168.3 48.5h0.9v0.9h-0.9zM168.0 53.0h0.9v0.9h-0.9zM155.6 62.1h0.9v0.9h-0.9zM160.7 52.2h0.9v0.9h-0.9zM162.6 53.3h0.9v0.9h-0.9zM154.5 55.6h0.9v0.9h-0.9zM160.2 56.5h0.9v0.9h-0.9zM151.1 58.4h0.9v0.9h-0.9zM160.4 51.3h0.9v0.9h-0.9zM164.2 51.0h0.9v0.9h-0.9zM163.9 52.2h0.9v0.9h-0.9zM171.9 47.5h0.9v0.9h-0.9zM177.9 48.9h0.9v0.9h-0.9zM175.1 47.6h0.9v0.9h-0.9zM164.6 49.0h0.9v0.9h-0.9zM172.3 45.5h0.9v0.9h-0.9zM157.5 54.3h0.9v0.9h-0.9zM165.4 51.9h0.9v0.9h-0.9zM154.5 54.7h0.9v0.9h-0.9zM168.0 52.8h0.9v0.9h-0.9zM169.4 50.4h0.9v0.9h-0.9zM161.0 51.6h0.9v0.9h-0.9zM159.5 53.2h0.9v0.9h-0.9zM166.9 49.3h0.9v0.9h-0.9zM177.8 43.7h0.9v0.9h-0.9zM169.2 49.0h0.9v0.9h-0.9zM162.0 51.5h0.9v0.9h-0.9zM174.5 46.7h0.9v0.9h-0.9zM167.5 50.5h0.9v0.9h-0.9zM169.4 50.8h0.9v0.9h-0.9zM175.0 45.5h0.9v0.9h-0.9zM158.7 57.8h0.9v0.9h-0.9zM172.9 48.2h0.9v0.9h-0.9zM161.5 53.3h0.9v0.9h-0.9zM172.4 46.4h0.9v0.9h-0.9zM174.1 47.4h0.9v0.9h-0.9zM160.4 52.2h0.9v0.9h-0.9zM148.1 58.8h0.9v0.9h-0.9zM153.2 54.7h0.9v0.9h-0.9zM156.9 55.0h0.9v0.9h-0.9zM168.7 49.8h0.9v0.9h-0.9zM165.1 52.1h0.9v0.9h-0.9zM175.7 48.3h0.9v0.9h-0.9zM174.9 47.1h0.9v0.9h-0.9zM165.5 49.5h0.9v0.9h-0.9zM167.1 48.4h0.9v0.9h-0.9zM166.3 49.2h0.9v0.9h-0.9zM161.8 55.4h0.9v0.9h-0.9zM165.1 53.0h0.9v0.9h-0.9zM160.1 48.8h0.9v0.9h-0.9zM174.1 47.1h0.9v0.9h-0.9zM159.4 55.7h0.9v0.9h-0.9zM154.4 53.8h0.9v0.9h-0.9zM171.3 47.1h0.9v0.9h-0.9zM171.5 47.9h0.9v0.9h-0.9zM161.9 52.7h0.9v0.9h-0.9zM160.6 55.5h0.9v0.9h-0.9zM171.5 48.8h0.9v0.9h-0.9zM168.3 51.2h0.9v0.9h-0.9zM174.5 43.7h0.9v0.9h-0.9zM171.7 50.7h0.9v0.9h-0.9zM161.1 52.9h0.9v0.9h-0.9zM161.8 55.4h0.9v0.9h-0.9zM155.4 56.5h0.9v0.9h-0.9zM173.3 49.2h0.9v0.9h-0.9zM159.5 52.4h0.9v0.9h-0.9zM146.9 56.1h0.9v0.9h-0.9zM170.7 46.7h0.9v0.9h-0.9zM151.1 56.3h0.9v0.9h-0.9zM152.8 57.3h0.9v0.9h-0.9zM157.7 56.4h0.9v0.9h-0.9zM161.4 49.4h0.9v0.9h-0.9zM157.2 52.9h0.9v0.9h-0.9zM158.1 56.9h0.9v0.9h-0.9zM156.3 55.6h0.9v0.9h-0.9zM159.5 54.8h0.9v0.9h-0.9zM151.5 53.0h0.9v0.9h-0.9zM168.3 53.2h0.9v0.9h-0.9zM152.9 55.4h0.9v0.9h-0.9zM158.9 51.5h0.9v0.9h-0.9zM170.6 49.1h0.9v0.9h-0.9zM153.0 55.6h0.9v0.9h-0.9zM172.7 46.5h0.9v0.9h-0.9zM158.9 51.8h0.9v0.9h-0.9zM164.1 50.3h0.9v0.9h-0.9zM169.3 47.6h0.9v0.9h-0.9zM153.0 57.1h0.9v0.9h-0.9zM139.1 59.5h0.9v0.9h-0.9zM165.7 51.5h0.9v0.9h-0.9zM158.8 52.7h0.9v0.9h-0.9zM170.3 57.8h0.9v0.9h-0.9zM157.3 53.9h0.9v0.9h-0.9zM160.5 54.4h0.9v0.9h-0.9zM163.9 53.0h0.9v0.9h-0.9zM175.2 46.5h0.9v0.9h-0.9zM161.6 53.5h0.9v0.9h-0.9zM178.6 44.9h0.9v0.9h-0.9zM176.9 49.2h0.9v0.9h-0.9zM142.3 58.1h0.9v0.9h-0.9zM156.5 55.6h0.9v0.9h-0.9zM173.3 48.0h0.9v0.9h-0.9zM166.4 55.8h0.9v0.9h-0.9zM167.8 55.1h0.9v0.9h-0.9zM158.1 57.9h0.9v0.9h-0.9zM157.7 48.5h0.9v0.9h-0.9z" fill="#000" opacity="0.55"/>
<ellipse cx="147.00" cy="82.00" rx="2.20" ry="12.00" transform="rotate(0 147.00 82.00)" fill="#000" opacity="0.35" filter="url(#blur)"/>
<ellipse cx="163.50" cy="51.80" rx="8.00" ry="2.20" transform="rotate(-22 163.50 51.80)" fill="#000" opacity="0.4" filter="url(#blur)"/>
</g>
<g clip-path="url(#cb3)">
<path d="M224.8 50.0h0.9v0.9h-0.9zM230.0 53.1h0.9v0.9h-0.9zM234.2 51.8h0.9v0.9h-0.9zM226.2 56.7h0.9v0.9h-0.9zM237.0 49.9h0.9v0.9h-0.9zM226.5 51.1h0.9v0.9h-0.9zM228.3 48.9h0.9v0.9h-0.9zM229.6 48.8h0.9v0.9h-0.9zM233.4 48.3h0.9v0.9h-0.9zM233.0 51.3h0.9v0.9h-0.9zM231.1 52.2h0.9v0.9h-0.9zM224.9 59.3h0.9v0.9h-0.9zM226.1 53.5h0.9v0.9h-0.9zM229.9 49.5h0.9v0.9h-0.9zM240.7 52.6h0.9v0.9h-0.9zM228.5 52.7h0.9v0.9h-0.9zM234.6 54.9h0.9v0.9h-0.9zM235.9 49.4h0.9v0.9h-0.9zM227.9 47.5h0.9v0.9h-0.9zM231.8 53.1h0.9v0.9h-0.9zM227.9 53.1h0.9v0.9h-0.9zM230.5 49.3h0.9v0.9h-0.9zM223.2 55.1h0.9v0.9h-0.9zM245.2 50.3h0.9v0.9h-0.9zM223.1 48.6h0.9v0.9h-0.9zM231.7 52.5h0.9v0.9h-0.9zM241.0 49.7h0.9v0.9h-0.9zM230.9 51.8h0.9v0.9h-0.9zM227.7 50.2h0.9v0.9h-0.9zM235.5 44.7h0.9v0.9h-0.9zM229.5 52.5h0.9v0.9h-0.9zM220.1 51.7h0.9v0.9h-0.9zM239.2 50.6h0.9v0.9h-0.9zM234.4 52.3h0.9v0.9h-0.9zM231.4 51.6h0.9v0.9h-0.9zM225.0 50.8h0.9v0.9h-0.9zM240.4 45.5h0.9v0.9h-0.9zM228.4 47.1h0.9v0.9h-0.9zM226.5 48.9h0.9v0.9h-0.9zM222.8 52.5h0.9v0.9h-0.9zM224.6 53.1h0.9v0.9h-0.9zM228.1 44.6h0.9v0.9h-0.9zM229.4 52.0h0.9v0.9h-0.9zM231.7 54.2h0.9v0.9h-0.9zM230.2 45.4h0.9v0.9h-0.9zM238.5 46.6h0.9v0.9h-0.9zM229.5 51.8h0.9v0.9h-0.9zM224.8 51.8h0.9v0.9h-0.9zM238.1 44.4h0.9v0.9h-0.9zM219.9 50.8h0.9v0.9h-0.9zM228.4 47.0h0.9v0.9h-0.9zM216.7 55.4h0.9v0.9h-0.9zM231.7 46.4h0.9v0.9h-0.9zM233.3 50.1h0.9v0.9h-0.9zM230.4 46.6h0.9v0.9h-0.9zM228.9 52.4h0.9v0.9h-0.9zM219.1 49.1h0.9v0.9h-0.9zM236.6 55.9h0.9v0.9h-0.9zM233.9 50.0h0.9v0.9h-0.9zM223.4 50.4h0.9v0.9h-0.9zM228.7 52.3h0.9v0.9h-0.9zM229.5 58.4h0.9v0.9h-0.9zM236.9 43.0h0.9v0.9h-0.9zM223.0 51.7h0.9v0.9h-0.9zM236.0 51.1h0.9v0.9h-0.9zM238.2 51.4h0.9v0.9h-0.9zM245.5 51.0h0.9v0.9h-0.9zM233.4 55.0h0.9v0.9h-0.9zM227.1 49.5h0.9v0.9h-0.9zM224.1 52.3h0.9v0.9h-0.9zM233.0 53.2h0.9v0.9h-0.9zM238.9 51.4h0.9v0.9h-0.9zM237.2 49.0h0.9v0.9h-0.9zM224.6 53.8h0.9v0.9h-0.9zM236.6 53.9h0.9v0.9h-0.9zM228.8 49.5h0.9v0.9h-0.9zM228.0 52.1h0.9v0.9h-0.9zM229.6 50.2h0.9v0.9h-0.9zM231.4 49.6h0.9v0.9h-0.9zM231.7 48.6h0.9v0.9h-0.9zM220.7 51.1h0.9v0.9h-0.9zM240.9 46.7h0.9v0.9h-0.9zM236.0 54.0h0.9v0.9h-0.9zM226.9 52.0h0.9v0.9h-0.9zM216.6 54.4h0.9v0.9h-0.9zM239.2 50.0h0.9v0.9h-0.9zM217.9 50.6h0.9v0.9h-0.9zM225.6 51.7h0.9v0.9h-0.9zM231.5 49.2h0.9v0.9h-0.9zM227.8 48.5h0.9v0.9h-0.9zM233.5 50.9h0.9v0.9h-0.9zM231.8 48.9h0.9v0.9h-0.9zM232.8 49.4h0.9v0.9h-0.9zM231.7 50.0h0.9v0.9h-0.9zM225.6 48.0h0.9v0.9h-0.9zM218.3 48.1h0.9v0.9h-0.9zM234.1 60.2h0.9v0.9h-0.9zM219.9 49.6h0.9v0.9h-0.9zM231.5 61.6h0.9v0.9h-0.9zM228.3 47.4h0.9v0.9h-0.9zM233.4 56.7h0.9v0.9h-0.9zM236.9 46.2h0.9v0.9h-0.9zM229.1 48.9h0.9v0.9h-0.9zM233.9 45.7h0.9v0.9h-0.9zM231.9 51.1h0.9v0.9h-0.9zM233.5 51.6h0.9v0.9h-0.9zM230.1 45.2h0.9v0.9h-0.9zM227.7 48.1h0.9v0.9h-0.9zM233.1 49.6h0.9v0.9h-0.9zM231.4 54.0h0.9v0.9h-0.9zM230.1 56.0h0.9v0.9h-0.9zM234.3 45.5h0.9v0.9h-0.9zM227.0 54.9h0.9v0.9h-0.9zM227.5 54.8h0.9v0.9h-0.9zM226.6 50.8h0.9v0.9h-0.9zM235.4 45.0h0.9v0.9h-0.9zM230.3 49.3h0.9v0.9h-0.9zM231.7 55.8h0.9v0.9h-0.9zM232.3 46.2h0.9v0.9h-0.9zM235.5 48.5h0.9v0.9h-0.9zM231.5 54.1h0.9v0.9h-0.9zM228.6 53.9h0.9v0.9h-0.9zM230.7 47.8h0.9v0.9h-0.9zM227.6 46.8h0.9v0.9h-0.9zM237.1 50.2h0.9v0.9h-0.9zM235.3 46.5h0.9v0.9h-0.9zM234.5 46.4h0.9v0.9h-0.9zM231.7 50.4h0.9v0.9h-0.9zM226.6 52.1h0.9v0.9h-0.9zM229.8 48.0h0.9v0.9h-0.9zM225.0 47.3h0.9v0.9h-0.9zM238.2 50.0h0.9v0.9h-0.9zM228.1 53.1h0.9v0.9h-0.9zM224.4 47.9h0.9v0.9h-0.9zM232.8 55.3h0.9v0.9h-0.9zM231.9 50.9h0.9v0.9h-0.9zM239.7 44.5h0.9v0.9h-0.9zM247.7 44.8h0.9v0.9h-0.9zM229.0 46.7h0.9v0.9h-0.9zM222.7 51.0h0.9v0.9h-0.9zM244.1 45.8h0.9v0.9h-0.9zM226.4 52.0h0.9v0.9h-0.9zM223.8 50.8h0.9v0.9h-0.9zM233.9 43.3h0.9v0.9h-0.9zM228.1 50.1h0.9v0.9h-0.9zM226.9 50.8h0.9v0.9h-0.9zM219.1 50.9h0.9v0.9h-0.9zM226.5 48.0h0.9v0.9h-0.9zM238.4 55.8h0.9v0.9h-0.9zM234.4 47.4h0.9v0.9h-0.9zM238.7 51.0h0.9v0.9h-0.9zM225.4 53.2h0.9v0.9h-0.9zM226.8 52.9h0.9v0.9h-0.9zM236.0 53.5h0.9v0.9h-0.9zM223.7 51.2h0.9v0.9h-0.9zM229.5 47.0h0.9v0.9h-0.9zM232.8 52.5h0.9v0.9h-0.9zM221.5 50.2h0.9v0.9h-0.9zM222.9 47.7h0.9v0.9h-0.9zM224.3 55.8h0.9v0.9h-0.9zM225.9 50.0h0.9v0.9h-0.9zM236.3 53.0h0.9v0.9h-0.9zM237.5 43.2h0.9v0.9h-0.9zM233.7 44.7h0.9v0.9h-0.9zM226.1 50.0h0.9v0.9h-0.9zM227.5 57.2h0.9v0.9h-0.9zM229.5 54.4h0.9v0.9h-0.9zM228.9 50.7h0.9v0.9h-0.9zM233.2 51.6h0.9v0.9h-0.9zM232.2 45.0h0.9v0.9h-0.9zM233.2 51.3h0.9v0.9h-0.9zM233.5 50.0h0.9v0.9h-0.9zM231.9 46.4h0.9v0.9h-0.9zM236.2 46.0h0.9v0.9h-0.9zM238.8 52.6h0.9v0.9h-0.9zM229.5 49.8h0.9v0.9h-0.9zM234.5 49.1h0.9v0.9h-0.9zM223.1 52.6h0.9v0.9h-0.9zM222.5 50.3h0.9v0.9h-0.9zM241.0 51.7h0.9v0.9h-0.9zM227.3 50.9h0.9v0.9h-0.9zM226.1 51.2h0.9v0.9h-0.9zM221.7 54.0h0.9v0.9h-0.9zM229.8 48.8h0.9v0.9h-0.9zM227.5 59.3h0.9v0.9h-0.9zM227.2 49.6h0.9v0.9h-0.9zM226.3 49.7h0.9v0.9h-0.9zM238.1 51.7h0.9v0.9h-0.9zM232.6 51.5h0.9v0.9h-0.9zM222.2 44.2h0.9v0.9h-0.9zM239.3 51.6h0.9v0.9h-0.9zM231.4 51.4h0.9v0.9h-0.9zM231.2 50.6h0.9v0.9h-0.9zM227.5 44.1h0.9v0.9h-0.9zM233.4 50.4h0.9v0.9h-0.9zM235.9 50.8h0.9v0.9h-0.9zM228.6 52.8h0.9v0.9h-0.9zM230.9 49.2h0.9v0.9h-0.9zM227.6 49.7h0.9v0.9h-0.9zM228.0 49.6h0.9v0.9h-0.9zM237.1 58.9h0.9v0.9h-0.9zM229.8 54.2h0.9v0.9h-0.9zM227.1 50.6h0.9v0.9h-0.9zM225.0 47.1h0.9v0.9h-0.9zM224.7 49.8h0.9v0.9h-0.9zM230.8 49.5h0.9v0.9h-0.9zM222.7 50.6h0.9v0.9h-0.9zM238.6 46.7h0.9v0.9h-0.9zM230.8 53.8h0.9v0.9h-0.9zM225.0 49.6h0.9v0.9h-0.9zM247.7 52.1h0.9v0.9h-0.9zM226.9 51.6h0.9v0.9h-0.9zM230.7 51.1h0.9v0.9h-0.9zM232.6 49.4h0.9v0.9h-0.9zM216.4 49.6h0.9v0.9h-0.9zM230.3 46.4h0.9v0.9h-0.9zM228.7 55.6h0.9v0.9h-0.9zM231.1 48.5h0.9v0.9h-0.9zM231.3 53.8h0.9v0.9h-0.9zM219.3 48.3h0.9v0.9h-0.9zM225.9 49.9h0.9v0.9h-0.9zM229.2 49.0h0.9v0.9h-0.9zM230.7 50.9h0.9v0.9h-0.9zM222.8 49.8h0.9v0.9h-0.9zM222.8 52.6h0.9v0.9h-0.9zM231.8 52.5h0.9v0.9h-0.9zM224.6 49.8h0.9v0.9h-0.9zM216.8 52.6h0.9v0.9h-0.9zM220.5 53.1h0.9v0.9h-0.9zM236.6 51.2h0.9v0.9h-0.9zM233.8 50.9h0.9v0.9h-0.9zM232.6 53.3h0.9v0.9h-0.9zM238.4 55.9h0.9v0.9h-0.9zM228.8 53.5h0.9v0.9h-0.9zM235.3 51.3h0.9v0.9h-0.9zM231.0 46.6h0.9v0.9h-0.9zM236.1 47.1h0.9v0.9h-0.9zM225.8 48.6h0.9v0.9h-0.9zM232.9 47.3h0.9v0.9h-0.9zM233.0 52.1h0.9v0.9h-0.9zM230.5 49.6h0.9v0.9h-0.9zM234.1 54.2h0.9v0.9h-0.9zM226.8 47.9h0.9v0.9h-0.9zM226.1 48.5h0.9v0.9h-0.9zM228.5 50.4h0.9v0.9h-0.9zM217.0 57.1h0.9v0.9h-0.9zM225.0 50.1h0.9v0.9h-0.9zM217.5 46.3h0.9v0.9h-0.9zM224.1 52.3h0.9v0.9h-0.9zM234.3 44.4h0.9v0.9h-0.9zM232.0 55.2h0.9v0.9h-0.9zM228.7 53.8h0.9v0.9h-0.9zM231.4 47.6h0.9v0.9h-0.9zM235.6 48.0h0.9v0.9h-0.9zM231.9 49.2h0.9v0.9h-0.9zM228.8 51.4h0.9v0.9h-0.9zM237.1 44.4h0.9v0.9h-0.9zM223.4 51.9h0.9v0.9h-0.9zM235.7 49.3h0.9v0.9h-0.9zM229.1 52.5h0.9v0.9h-0.9zM239.0 46.6h0.9v0.9h-0.9zM220.4 51.2h0.9v0.9h-0.9zM234.0 46.0h0.9v0.9h-0.9zM237.1 52.6h0.9v0.9h-0.9zM234.3 47.4h0.9v0.9h-0.9zM222.6 53.8h0.9v0.9h-0.9zM231.8 52.6h0.9v0.9h-0.9zM237.1 52.8h0.9v0.9h-0.9zM228.4 50.9h0.9v0.9h-0.9zM233.0 52.6h0.9v0.9h-0.9zM228.7 49.3h0.9v0.9h-0.9zM224.7 54.7h0.9v0.9h-0.9zM231.8 48.7h0.9v0.9h-0.9zM222.2 50.2h0.9v0.9h-0.9zM222.2 50.4h0.9v0.9h-0.9zM227.0 52.7h0.9v0.9h-0.9zM223.2 46.0h0.9v0.9h-0.9zM225.8 47.0h0.9v0.9h-0.9zM234.3 49.4h0.9v0.9h-0.9zM219.7 49.4h0.9v0.9h-0.9zM229.8 50.6h0.9v0.9h-0.9zM219.0 51.8h0.9v0.9h-0.9zM232.2 53.5h0.9v0.9h-0.9zM236.4 49.4h0.9v0.9h-0.9zM222.1 50.6h0.9v0.9h-0.9zM233.4 47.3h0.9v0.9h-0.9zM237.0 46.7h0.9v0.9h-0.9zM223.7 54.2h0.9v0.9h-0.9zM229.5 51.8h0.9v0.9h-0.9zM228.2 51.0h0.9v0.9h-0.9zM227.4 57.0h0.9v0.9h-0.9zM233.8 49.8h0.9v0.9h-0.9zM233.2 52.9h0.9v0.9h-0.9zM226.9 51.7h0.9v0.9h-0.9zM231.0 48.8h0.9v0.9h-0.9zM225.3 50.7h0.9v0.9h-0.9zM228.0 49.7h0.9v0.9h-0.9zM218.5 52.5h0.9v0.9h-0.9zM233.9 50.4h0.9v0.9h-0.9zM240.5 51.9h0.9v0.9h-0.9zM227.6 48.9h0.9v0.9h-0.9zM232.8 49.1h0.9v0.9h-0.9zM220.5 52.4h0.9v0.9h-0.9zM228.1 50.3h0.9v0.9h-0.9zM233.7 50.8h0.9v0.9h-0.9zM241.7 46.7h0.9v0.9h-0.9zM229.6 51.7h0.9v0.9h-0.9zM227.2 49.5h0.9v0.9h-0.9zM239.7 44.8h0.9v0.9h-0.9zM231.3 45.0h0.9v0.9h-0.9zM231.2 44.5h0.9v0.9h-0.9zM223.6 55.1h0.9v0.9h-0.9zM239.2 49.8h0.9v0.9h-0.9zM214.3 56.1h0.9v0.9h-0.9zM231.0 47.1h0.9v0.9h-0.9zM227.3 46.9h0.9v0.9h-0.9zM229.4 50.5h0.9v0.9h-0.9zM231.1 53.0h0.9v0.9h-0.9zM225.2 44.5h0.9v0.9h-0.9zM222.5 47.8h0.9v0.9h-0.9zM227.6 49.7h0.9v0.9h-0.9zM230.3 54.9h0.9v0.9h-0.9zM229.7 47.4h0.9v0.9h-0.9zM227.8 48.3h0.9v0.9h-0.9zM228.8 52.7h0.9v0.9h-0.9zM223.6 53.8h0.9v0.9h-0.9zM241.2 53.9h0.9v0.9h-0.9zM239.7 49.6h0.9v0.9h-0.9zM222.9 58.0h0.9v0.9h-0.9zM229.8 51.4h0.9v0.9h-0.9zM227.5 48.1h0.9v0.9h-0.9zM233.1 45.9h0.9v0.9h-0.9zM222.1 53.5h0.9v0.9h-0.9zM227.4 48.4h0.9v0.9h-0.9zM233.5 54.6h0.9v0.9h-0.9zM228.3 50.5h0.9v0.9h-0.9zM233.7 53.1h0.9v0.9h-0.9zM236.4 51.9h0.9v0.9h-0.9zM226.3 52.9h0.9v0.9h-0.9zM229.3 45.5h0.9v0.9h-0.9zM237.6 51.4h0.9v0.9h-0.9zM238.1 49.4h0.9v0.9h-0.9zM234.3 49.9h0.9v0.9h-0.9zM231.4 53.3h0.9v0.9h-0.9zM230.6 52.5h0.9v0.9h-0.9zM230.3 54.5h0.9v0.9h-0.9zM233.1 45.1h0.9v0.9h-0.9zM240.0 50.7h0.9v0.9h-0.9zM226.7 49.2h0.9v0.9h-0.9zM241.8 49.3h0.9v0.9h-0.9zM233.3 52.1h0.9v0.9h-0.9zM227.2 56.5h0.9v0.9h-0.9zM242.1 46.6h0.9v0.9h-0.9zM236.0 44.8h0.9v0.9h-0.9zM228.0 51.2h0.9v0.9h-0.9zM230.6 52.4h0.9v0.9h-0.9zM232.5 51.5h0.9v0.9h-0.9zM229.3 51.7h0.9v0.9h-0.9zM227.6 57.1h0.9v0.9h-0.9zM230.9 54.4h0.9v0.9h-0.9zM230.6 50.2h0.9v0.9h-0.9zM228.4 46.9h0.9v0.9h-0.9zM242.5 50.2h0.9v0.9h-0.9zM230.6 49.2h0.9v0.9h-0.9zM237.4 48.6h0.9v0.9h-0.9zM227.1 49.4h0.9v0.9h-0.9zM239.2 50.4h0.9v0.9h-0.9zM228.9 48.9h0.9v0.9h-0.9zM237.7 50.5h0.9v0.9h-0.9zM228.4 53.7h0.9v0.9h-0.9zM234.8 47.0h0.9v0.9h-0.9zM237.3 53.1h0.9v0.9h-0.9zM228.0 46.9h0.9v0.9h-0.9zM236.3 48.8h0.9v0.9h-0.9zM228.7 50.0h0.9v0.9h-0.9zM228.8 53.5h0.9v0.9h-0.9zM223.8 53.2h0.9v0.9h-0.9zM237.3 52.9h0.9v0.9h-0.9zM234.4 50.9h0.9v0.9h-0.9zM228.8 50.5h0.9v0.9h-0.9zM225.6 56.5h0.9v0.9h-0.9zM228.9 47.7h0.9v0.9h-0.9zM235.6 54.6h0.9v0.9h-0.9zM231.5 49.5h0.9v0.9h-0.9zM223.8 53.6h0.9v0.9h-0.9zM228.3 48.9h0.9v0.9h-0.9zM233.0 46.3h0.9v0.9h-0.9zM225.8 46.9h0.9v0.9h-0.9zM228.9 53.3h0.9v0.9h-0.9zM223.0 55.9h0.9v0.9h-0.9zM225.8 49.8h0.9v0.9h-0.9zM235.6 47.7h0.9v0.9h-0.9zM238.5 48.9h0.9v0.9h-0.9zM229.1 47.9h0.9v0.9h-0.9zM236.8 49.6h0.9v0.9h-0.9zM226.8 48.2h0.9v0.9h-0.9zM226.3 50.9h0.9v0.9h-0.9zM226.2 53.7h0.9v0.9h-0.9zM229.6 48.9h0.9v0.9h-0.9zM233.4 54.6h0.9v0.9h-0.9zM218.0 53.5h0.9v0.9h-0.9zM236.4 50.2h0.9v0.9h-0.9zM234.2 45.4h0.9v0.9h-0.9zM226.1 54.4h0.9v0.9h-0.9zM229.6 51.0h0.9v0.9h-0.9zM233.9 51.3h0.9v0.9h-0.9zM232.5 48.8h0.9v0.9h-0.9zM228.9 54.9h0.9v0.9h-0.9zM226.6 46.8h0.9v0.9h-0.9zM228.4 53.7h0.9v0.9h-0.9zM240.6 49.7h0.9v0.9h-0.9zM226.7 53.0h0.9v0.9h-0.9zM232.3 54.0h0.9v0.9h-0.9zM233.4 52.5h0.9v0.9h-0.9zM233.2 51.5h0.9v0.9h-0.9zM224.7 50.9h0.9v0.9h-0.9zM240.0 53.4h0.9v0.9h-0.9zM235.9 51.1h0.9v0.9h-0.9zM229.6 51.8h0.9v0.9h-0.9zM228.6 54.2h0.9v0.9h-0.9zM228.0 48.7h0.9v0.9h-0.9zM221.4 56.7h0.9v0.9h-0.9zM225.4 48.7h0.9v0.9h-0.9zM233.2 55.8h0.9v0.9h-0.9zM233.8 49.1h0.9v0.9h-0.9zM233.1 47.7h0.9v0.9h-0.9zM228.7 51.0h0.9v0.9h-0.9zM230.5 53.0h0.9v0.9h-0.9zM234.0 55.9h0.9v0.9h-0.9zM234.8 49.2h0.9v0.9h-0.9zM231.3 47.9h0.9v0.9h-0.9zM226.4 50.2h0.9v0.9h-0.9zM235.7 47.8h0.9v0.9h-0.9zM220.7 48.9h0.9v0.9h-0.9zM223.1 51.1h0.9v0.9h-0.9zM227.9 47.4h0.9v0.9h-0.9zM225.4 50.1h0.9v0.9h-0.9zM232.7 52.2h0.9v0.9h-0.9zM237.7 48.8h0.9v0.9h-0.9zM233.8 50.4h0.9v0.9h-0.9zM223.6 49.7h0.9v0.9h-0.9zM242.7 48.4h0.9v0.9h-0.9zM240.1 51.8h0.9v0.9h-0.9zM239.7 48.8h0.9v0.9h-0.9zM235.4 49.0h0.9v0.9h-0.9zM223.3 48.1h0.9v0.9h-0.9zM232.0 45.5h0.9v0.9h-0.9zM231.9 47.8h0.9v0.9h-0.9zM231.7 46.3h0.9v0.9h-0.9zM235.0 49.3h0.9v0.9h-0.9zM220.8 47.6h0.9v0.9h-0.9zM229.9 45.7h0.9v0.9h-0.9zM232.3 51.9h0.9v0.9h-0.9zM227.0 55.4h0.9v0.9h-0.9zM238.7 50.4h0.9v0.9h-0.9zM233.0 51.7h0.9v0.9h-0.9zM229.3 54.8h0.9v0.9h-0.9zM226.1 43.6h0.9v0.9h-0.9zM230.5 52.0h0.9v0.9h-0.9zM234.5 46.7h0.9v0.9h-0.9zM237.9 47.1h0.9v0.9h-0.9zM234.2 52.4h0.9v0.9h-0.9zM231.7 53.9h0.9v0.9h-0.9zM228.2 57.2h0.9v0.9h-0.9zM232.9 49.0h0.9v0.9h-0.9zM245.2 48.6h0.9v0.9h-0.9zM221.5 56.2h0.9v0.9h-0.9zM238.9 47.7h0.9v0.9h-0.9zM225.0 54.9h0.9v0.9h-0.9zM230.2 47.7h0.9v0.9h-0.9zM227.5 51.3h0.9v0.9h-0.9zM236.5 54.6h0.9v0.9h-0.9zM227.3 55.8h0.9v0.9h-0.9zM221.8 54.0h0.9v0.9h-0.9zM229.6 52.1h0.9v0.9h-0.9zM227.4 48.9h0.9v0.9h-0.9zM232.3 53.8h0.9v0.9h-0.9zM217.5 52.6h0.9v0.9h-0.9zM227.5 47.8h0.9v0.9h-0.9zM222.7 53.3h0.9v0.9h-0.9zM233.7 52.2h0.9v0.9h-0.9zM218.2 47.7h0.9v0.9h-0.9zM226.5 49.9h0.9v0.9h-0.9zM240.2 48.1h0.9v0.9h-0.9zM231.4 53.6h0.9v0.9h-0.9zM240.0 50.4h0.9v0.9h-0.9zM233.0 56.2h0.9v0.9h-0.9zM227.2 45.6h0.9v0.9h-0.9zM225.8 50.3h0.9v0.9h-0.9zM237.9 50.6h0.9v0.9h-0.9zM237.2 50.0h0.9v0.9h-0.9zM230.2 48.9h0.9v0.9h-0.9zM223.4 53.2h0.9v0.9h-0.9zM232.6 52.1h0.9v0.9h-0.9zM227.0 49.8h0.9v0.9h-0.9zM232.7 52.2h0.9v0.9h-0.9zM241.3 46.4h0.9v0.9h-0.9zM236.3 52.5h0.9v0.9h-0.9zM228.8 51.3h0.9v0.9h-0.9zM230.6 55.3h0.9v0.9h-0.9zM245.0 49.6h0.9v0.9h-0.9zM229.2 53.7h0.9v0.9h-0.9zM233.0 49.7h0.9v0.9h-0.9zM234.9 52.7h0.9v0.9h-0.9zM228.3 53.5h0.9v0.9h-0.9zM216.8 48.6h0.9v0.9h-0.9zM228.5 51.4h0.9v0.9h-0.9zM222.5 56.3h0.9v0.9h-0.9zM228.1 51.4h0.9v0.9h-0.9zM230.3 53.0h0.9v0.9h-0.9zM227.2 53.4h0.9v0.9h-0.9zM224.9 46.9h0.9v0.9h-0.9zM233.3 50.7h0.9v0.9h-0.9zM234.5 44.1h0.9v0.9h-0.9zM230.6 48.7h0.9v0.9h-0.9zM229.0 49.6h0.9v0.9h-0.9zM227.8 49.0h0.9v0.9h-0.9zM235.4 44.7h0.9v0.9h-0.9zM220.8 53.1h0.9v0.9h-0.9zM241.5 46.8h0.9v0.9h-0.9zM224.6 47.9h0.9v0.9h-0.9zM224.9 55.3h0.9v0.9h-0.9zM234.5 52.8h0.9v0.9h-0.9zM232.3 51.1h0.9v0.9h-0.9zM226.5 48.2h0.9v0.9h-0.9zM234.9 57.6h0.9v0.9h-0.9zM228.7 54.8h0.9v0.9h-0.9zM226.2 51.4h0.9v0.9h-0.9zM240.0 49.1h0.9v0.9h-0.9zM233.7 48.5h0.9v0.9h-0.9zM240.5 45.5h0.9v0.9h-0.9zM233.4 49.5h0.9v0.9h-0.9zM231.5 51.6h0.9v0.9h-0.9zM238.2 52.2h0.9v0.9h-0.9zM236.5 50.9h0.9v0.9h-0.9zM224.7 55.6h0.9v0.9h-0.9zM239.3 50.9h0.9v0.9h-0.9zM234.7 49.3h0.9v0.9h-0.9zM222.4 54.8h0.9v0.9h-0.9zM226.9 57.0h0.9v0.9h-0.9zM234.2 50.1h0.9v0.9h-0.9zM226.8 51.5h0.9v0.9h-0.9zM224.3 50.4h0.9v0.9h-0.9zM239.3 48.5h0.9v0.9h-0.9zM240.8 48.9h0.9v0.9h-0.9zM232.3 47.6h0.9v0.9h-0.9zM228.3 49.6h0.9v0.9h-0.9zM223.1 57.6h0.9v0.9h-0.9zM233.6 49.9h0.9v0.9h-0.9zM224.0 51.7h0.9v0.9h-0.9zM223.8 48.6h0.9v0.9h-0.9zM230.1 57.3h0.9v0.9h-0.9zM220.5 53.8h0.9v0.9h-0.9zM222.1 51.4h0.9v0.9h-0.9zM230.3 48.4h0.9v0.9h-0.9zM240.7 50.9h0.9v0.9h-0.9zM225.9 46.2h0.9v0.9h-0.9zM231.0 48.5h0.9v0.9h-0.9zM235.7 46.7h0.9v0.9h-0.9zM236.9 48.3h0.9v0.9h-0.9zM231.2 49.7h0.9v0.9h-0.9zM234.3 53.6h0.9v0.9h-0.9zM226.7 48.4h0.9v0.9h-0.9zM241.5 52.0h0.9v0.9h-0.9zM241.6 52.0h0.9v0.9h-0.9zM231.7 55.5h0.9v0.9h-0.9zM226.2 49.9h0.9v0.9h-0.9zM228.2 53.1h0.9v0.9h-0.9zM225.2 50.8h0.9v0.9h-0.9zM225.2 50.7h0.9v0.9h-0.9zM237.1 53.1h0.9v0.9h-0.9zM230.0 58.5h0.9v0.9h-0.9zM226.4 52.6h0.9v0.9h-0.9zM226.5 44.4h0.9v0.9h-0.9zM223.9 55.4h0.9v0.9h-0.9zM221.9 60.9h0.9v0.9h-0.9zM229.6 51.6h0.9v0.9h-0.9zM237.4 49.8h0.9v0.9h-0.9zM226.3 49.4h0.9v0.9h-0.9zM225.0 53.1h0.9v0.9h-0.9zM227.7 52.6h0.9v0.9h-0.9zM221.4 50.6h0.9v0.9h-0.9zM242.2 50.1h0.9v0.9h-0.9zM230.1 54.3h0.9v0.9h-0.9zM232.4 55.1h0.9v0.9h-0.9zM223.8 53.9h0.9v0.9h-0.9zM224.4 53.6h0.9v0.9h-0.9zM245.0 53.3h0.9v0.9h-0.9zM225.4 52.6h0.9v0.9h-0.9zM232.5 48.1h0.9v0.9h-0.9zM231.1 47.3h0.9v0.9h-0.9zM236.2 52.7h0.9v0.9h-0.9zM229.5 52.9h0.9v0.9h-0.9zM243.9 48.3h0.9v0.9h-0.9zM219.5 53.2h0.9v0.9h-0.9zM227.2 48.7h0.9v0.9h-0.9zM235.8 53.0h0.9v0.9h-0.9zM234.3 55.1h0.9v0.9h-0.9zM226.4 49.9h0.9v0.9h-0.9zM214.5 53.9h0.9v0.9h-0.9zM229.0 51.0h0.9v0.9h-0.9zM224.7 52.2h0.9v0.9h-0.9zM236.0 47.9h0.9v0.9h-0.9zM233.4 49.8h0.9v0.9h-0.9zM229.3 51.2h0.9v0.9h-0.9zM239.1 51.0h0.9v0.9h-0.9zM234.2 50.6h0.9v0.9h-0.9zM218.1 55.3h0.9v0.9h-0.9zM230.1 51.0h0.9v0.9h-0.9zM226.6 46.4h0.9v0.9h-0.9zM239.6 55.0h0.9v0.9h-0.9zM238.5 43.8h0.9v0.9h-0.9zM232.8 46.7h0.9v0.9h-0.9zM228.9 49.3h0.9v0.9h-0.9zM226.2 48.9h0.9v0.9h-0.9zM227.7 53.4h0.9v0.9h-0.9zM239.9 52.2h0.9v0.9h-0.9zM230.0 50.3h0.9v0.9h-0.9zM228.7 50.8h0.9v0.9h-0.9zM226.5 50.6h0.9v0.9h-0.9zM235.0 49.3h0.9v0.9h-0.9zM225.4 51.0h0.9v0.9h-0.9zM230.6 50.4h0.9v0.9h-0.9zM228.9 53.0h0.9v0.9h-0.9zM229.4 47.7h0.9v0.9h-0.9zM233.1 48.1h0.9v0.9h-0.9zM235.0 52.5h0.9v0.9h-0.9zM233.1 51.2h0.9v0.9h-0.9zM222.2 51.2h0.9v0.9h-0.9zM231.1 52.5h0.9v0.9h-0.9zM223.5 51.1h0.9v0.9h-0.9zM221.3 52.5h0.9v0.9h-0.9zM230.6 51.0h0.9v0.9h-0.9zM240.0 51.6h0.9v0.9h-0.9zM228.7 49.1h0.9v0.9h-0.9zM227.9 53.4h0.9v0.9h-0.9zM235.2 48.4h0.9v0.9h-0.9zM229.3 49.5h0.9v0.9h-0.9zM234.2 50.7h0.9v0.9h-0.9zM225.6 48.6h0.9v0.9h-0.9zM237.1 45.4h0.9v0.9h-0.9zM218.3 42.8h0.9v0.9h-0.9zM241.7 47.4h0.9v0.9h-0.9zM235.3 51.7h0.9v0.9h-0.9zM235.5 53.4h0.9v0.9h-0.9zM227.4 51.0h0.9v0.9h-0.9zM236.1 51.6h0.9v0.9h-0.9zM225.4 49.0h0.9v0.9h-0.9zM221.8 52.7h0.9v0.9h-0.9zM226.3 46.4h0.9v0.9h-0.9zM227.0 52.1h0.9v0.9h-0.9zM231.1 49.9h0.9v0.9h-0.9zM231.3 52.5h0.9v0.9h-0.9zM222.8 49.2h0.9v0.9h-0.9zM236.1 52.1h0.9v0.9h-0.9zM221.6 49.6h0.9v0.9h-0.9zM238.9 51.8h0.9v0.9h-0.9zM229.7 53.9h0.9v0.9h-0.9zM238.7 53.9h0.9v0.9h-0.9zM221.4 47.9h0.9v0.9h-0.9zM227.1 51.0h0.9v0.9h-0.9zM228.1 51.7h0.9v0.9h-0.9zM239.2 52.8h0.9v0.9h-0.9zM235.9 49.9h0.9v0.9h-0.9zM240.0 50.7h0.9v0.9h-0.9zM231.5 50.4h0.9v0.9h-0.9zM220.3 58.7h0.9v0.9h-0.9zM230.4 53.4h0.9v0.9h-0.9zM243.3 48.3h0.9v0.9h-0.9zM223.7 54.7h0.9v0.9h-0.9zM231.1 47.6h0.9v0.9h-0.9zM235.8 49.9h0.9v0.9h-0.9zM223.5 43.8h0.9v0.9h-0.9zM224.5 52.7h0.9v0.9h-0.9zM224.5 54.5h0.9v0.9h-0.9zM243.1 49.8h0.9v0.9h-0.9zM231.4 50.3h0.9v0.9h-0.9zM235.2 50.1h0.9v0.9h-0.9zM236.8 54.1h0.9v0.9h-0.9zM234.7 47.1h0.9v0.9h-0.9zM233.9 49.3h0.9v0.9h-0.9zM232.4 53.4h0.9v0.9h-0.9zM226.3 51.9h0.9v0.9h-0.9zM238.4 47.0h0.9v0.9h-0.9zM229.3 53.0h0.9v0.9h-0.9zM229.2 54.0h0.9v0.9h-0.9zM223.6 47.0h0.9v0.9h-0.9zM232.3 50.0h0.9v0.9h-0.9zM232.4 53.3h0.9v0.9h-0.9zM236.1 48.8h0.9v0.9h-0.9zM227.0 45.2h0.9v0.9h-0.9zM224.5 52.2h0.9v0.9h-0.9zM230.8 46.0h0.9v0.9h-0.9zM234.7 49.9h0.9v0.9h-0.9zM236.4 48.7h0.9v0.9h-0.9zM235.3 46.6h0.9v0.9h-0.9zM218.9 49.8h0.9v0.9h-0.9zM234.4 51.4h0.9v0.9h-0.9zM219.1 52.7h0.9v0.9h-0.9zM234.8 55.2h0.9v0.9h-0.9zM234.9 51.6h0.9v0.9h-0.9zM221.0 53.1h0.9v0.9h-0.9zM218.4 51.4h0.9v0.9h-0.9zM227.5 48.1h0.9v0.9h-0.9zM224.1 51.1h0.9v0.9h-0.9zM233.2 48.3h0.9v0.9h-0.9zM232.2 52.6h0.9v0.9h-0.9zM230.8 56.5h0.9v0.9h-0.9zM228.0 48.7h0.9v0.9h-0.9zM219.4 55.5h0.9v0.9h-0.9zM234.0 49.6h0.9v0.9h-0.9zM231.9 50.0h0.9v0.9h-0.9zM235.2 49.9h0.9v0.9h-0.9zM231.4 50.3h0.9v0.9h-0.9zM224.0 44.7h0.9v0.9h-0.9zM232.8 46.5h0.9v0.9h-0.9zM232.7 52.3h0.9v0.9h-0.9zM240.9 46.9h0.9v0.9h-0.9zM231.4 53.4h0.9v0.9h-0.9zM225.9 49.5h0.9v0.9h-0.9zM233.6 56.5h0.9v0.9h-0.9zM236.8 52.7h0.9v0.9h-0.9zM224.7 53.5h0.9v0.9h-0.9zM236.3 46.0h0.9v0.9h-0.9zM230.1 50.1h0.9v0.9h-0.9zM233.2 44.9h0.9v0.9h-0.9zM234.2 50.1h0.9v0.9h-0.9zM227.6 44.6h0.9v0.9h-0.9zM217.7 50.8h0.9v0.9h-0.9zM234.1 51.4h0.9v0.9h-0.9zM233.8 45.0h0.9v0.9h-0.9zM231.9 54.6h0.9v0.9h-0.9zM221.3 53.9h0.9v0.9h-0.9zM226.1 52.9h0.9v0.9h-0.9zM230.0 45.7h0.9v0.9h-0.9zM224.5 55.4h0.9v0.9h-0.9zM230.0 54.5h0.9v0.9h-0.9zM232.5 53.1h0.9v0.9h-0.9zM227.9 51.7h0.9v0.9h-0.9zM228.3 53.7h0.9v0.9h-0.9zM227.2 54.5h0.9v0.9h-0.9zM238.8 45.7h0.9v0.9h-0.9zM229.3 52.5h0.9v0.9h-0.9zM241.0 52.7h0.9v0.9h-0.9zM229.9 45.4h0.9v0.9h-0.9zM234.8 48.2h0.9v0.9h-0.9zM231.4 51.7h0.9v0.9h-0.9zM222.3 55.1h0.9v0.9h-0.9zM235.7 51.7h0.9v0.9h-0.9zM233.8 51.3h0.9v0.9h-0.9zM221.7 50.3h0.9v0.9h-0.9zM234.7 49.0h0.9v0.9h-0.9zM230.4 51.8h0.9v0.9h-0.9zM230.7 51.4h0.9v0.9h-0.9zM232.9 50.3h0.9v0.9h-0.9zM223.5 50.8h0.9v0.9h-0.9zM235.4 47.9h0.9v0.9h-0.9zM233.0 51.2h0.9v0.9h-0.9zM223.7 43.0h0.9v0.9h-0.9zM229.7 48.4h0.9v0.9h-0.9zM226.8 54.0h0.9v0.9h-0.9zM225.7 52.4h0.9v0.9h-0.9zM230.9 51.2h0.9v0.9h-0.9zM241.0 43.1h0.9v0.9h-0.9zM235.7 49.5h0.9v0.9h-0.9zM228.2 48.9h0.9v0.9h-0.9zM230.3 50.8h0.9v0.9h-0.9zM225.4 56.4h0.9v0.9h-0.9zM225.7 50.9h0.9v0.9h-0.9zM222.7 52.2h0.9v0.9h-0.9zM232.6 53.6h0.9v0.9h-0.9zM235.6 48.4h0.9v0.9h-0.9zM239.5 49.1h0.9v0.9h-0.9zM239.9 54.5h0.9v0.9h-0.9zM227.3 47.8h0.9v0.9h-0.9zM233.9 54.5h0.9v0.9h-0.9zM232.9 53.6h0.9v0.9h-0.9zM233.9 52.9h0.9v0.9h-0.9zM237.7 48.7h0.9v0.9h-0.9zM221.7 51.5h0.9v0.9h-0.9zM224.9 47.8h0.9v0.9h-0.9zM229.4 53.0h0.9v0.9h-0.9zM218.6 47.7h0.9v0.9h-0.9zM234.4 47.4h0.9v0.9h-0.9zM228.4 55.1h0.9v0.9h-0.9zM236.8 50.8h0.9v0.9h-0.9zM233.5 51.4h0.9v0.9h-0.9zM222.0 52.4h0.9v0.9h-0.9zM232.7 50.0h0.9v0.9h-0.9zM235.1 52.7h0.9v0.9h-0.9zM230.3 49.9h0.9v0.9h-0.9zM223.6 55.1h0.9v0.9h-0.9zM226.9 52.1h0.9v0.9h-0.9zM239.4 51.7h0.9v0.9h-0.9zM222.6 51.5h0.9v0.9h-0.9zM225.2 46.4h0.9v0.9h-0.9zM225.6 53.1h0.9v0.9h-0.9zM232.0 49.8h0.9v0.9h-0.9zM230.6 47.1h0.9v0.9h-0.9zM225.5 50.8h0.9v0.9h-0.9zM234.6 49.1h0.9v0.9h-0.9zM229.2 51.8h0.9v0.9h-0.9zM238.2 45.7h0.9v0.9h-0.9zM233.3 50.8h0.9v0.9h-0.9zM229.8 51.5h0.9v0.9h-0.9zM218.5 52.4h0.9v0.9h-0.9zM228.2 47.2h0.9v0.9h-0.9zM235.0 49.6h0.9v0.9h-0.9zM228.4 53.2h0.9v0.9h-0.9zM224.4 49.3h0.9v0.9h-0.9zM235.3 52.6h0.9v0.9h-0.9zM241.7 47.7h0.9v0.9h-0.9zM220.9 47.5h0.9v0.9h-0.9zM223.1 52.0h0.9v0.9h-0.9zM228.4 48.9h0.9v0.9h-0.9zM223.9 49.5h0.9v0.9h-0.9zM228.4 54.5h0.9v0.9h-0.9zM234.3 54.3h0.9v0.9h-0.9zM235.2 52.3h0.9v0.9h-0.9zM237.1 51.1h0.9v0.9h-0.9zM239.6 52.8h0.9v0.9h-0.9zM240.8 49.8h0.9v0.9h-0.9zM226.6 58.8h0.9v0.9h-0.9zM228.6 52.5h0.9v0.9h-0.9zM227.6 48.9h0.9v0.9h-0.9zM232.1 47.0h0.9v0.9h-0.9zM229.7 55.0h0.9v0.9h-0.9zM231.1 53.0h0.9v0.9h-0.9zM234.0 51.3h0.9v0.9h-0.9zM230.9 52.4h0.9v0.9h-0.9zM224.6 53.2h0.9v0.9h-0.9zM223.5 49.3h0.9v0.9h-0.9zM226.1 47.2h0.9v0.9h-0.9zM218.7 53.5h0.9v0.9h-0.9zM233.3 52.3h0.9v0.9h-0.9zM243.1 49.4h0.9v0.9h-0.9zM234.1 47.9h0.9v0.9h-0.9zM233.7 46.7h0.9v0.9h-0.9zM241.2 46.2h0.9v0.9h-0.9zM228.0 53.3h0.9v0.9h-0.9zM217.7 56.5h0.9v0.9h-0.9zM224.6 52.1h0.9v0.9h-0.9zM235.9 50.4h0.9v0.9h-0.9zM235.3 48.4h0.9v0.9h-0.9zM232.6 43.7h0.9v0.9h-0.9zM238.6 47.5h0.9v0.9h-0.9zM225.0 51.5h0.9v0.9h-0.9zM239.7 47.2h0.9v0.9h-0.9zM229.8 49.6h0.9v0.9h-0.9zM224.0 47.6h0.9v0.9h-0.9zM233.8 52.3h0.9v0.9h-0.9zM225.7 52.0h0.9v0.9h-0.9zM232.8 51.5h0.9v0.9h-0.9zM229.1 51.0h0.9v0.9h-0.9zM231.2 47.3h0.9v0.9h-0.9zM229.5 53.2h0.9v0.9h-0.9zM227.3 55.1h0.9v0.9h-0.9zM228.2 47.6h0.9v0.9h-0.9zM227.7 46.9h0.9v0.9h-0.9zM232.9 45.4h0.9v0.9h-0.9zM230.0 50.0h0.9v0.9h-0.9zM228.4 52.2h0.9v0.9h-0.9zM231.5 48.8h0.9v0.9h-0.9zM234.6 48.7h0.9v0.9h-0.9zM235.9 54.0h0.9v0.9h-0.9zM232.6 53.2h0.9v0.9h-0.9zM222.4 53.5h0.9v0.9h-0.9zM221.2 51.4h0.9v0.9h-0.9zM225.1 49.0h0.9v0.9h-0.9zM224.5 51.5h0.9v0.9h-0.9zM233.3 46.7h0.9v0.9h-0.9zM225.6 45.7h0.9v0.9h-0.9zM225.0 45.0h0.9v0.9h-0.9zM221.4 53.3h0.9v0.9h-0.9zM234.8 47.6h0.9v0.9h-0.9zM231.7 48.1h0.9v0.9h-0.9zM237.0 55.0h0.9v0.9h-0.9zM215.2 50.1h0.9v0.9h-0.9zM226.1 49.8h0.9v0.9h-0.9zM239.8 54.1h0.9v0.9h-0.9zM230.2 52.6h0.9v0.9h-0.9zM220.6 51.1h0.9v0.9h-0.9zM228.3 50.5h0.9v0.9h-0.9zM231.1 45.8h0.9v0.9h-0.9zM224.8 57.9h0.9v0.9h-0.9zM219.9 52.3h0.9v0.9h-0.9zM234.5 51.6h0.9v0.9h-0.9zM229.7 45.8h0.9v0.9h-0.9zM226.6 46.4h0.9v0.9h-0.9zM241.7 50.2h0.9v0.9h-0.9zM234.4 50.7h0.9v0.9h-0.9zM228.2 54.5h0.9v0.9h-0.9zM235.4 51.9h0.9v0.9h-0.9zM233.7 52.4h0.9v0.9h-0.9zM228.6 52.2h0.9v0.9h-0.9zM230.4 49.9h0.9v0.9h-0.9zM234.7 56.5h0.9v0.9h-0.9zM218.7 56.7h0.9v0.9h-0.9zM228.0 54.6h0.9v0.9h-0.9zM224.0 51.0h0.9v0.9h-0.9zM236.0 49.6h0.9v0.9h-0.9zM231.6 46.8h0.9v0.9h-0.9zM224.0 56.6h0.9v0.9h-0.9zM230.9 50.3h0.9v0.9h-0.9zM221.5 48.7h0.9v0.9h-0.9zM223.9 51.4h0.9v0.9h-0.9zM229.1 49.0h0.9v0.9h-0.9zM226.1 51.6h0.9v0.9h-0.9zM236.3 45.5h0.9v0.9h-0.9zM222.2 55.2h0.9v0.9h-0.9zM221.5 50.7h0.9v0.9h-0.9zM231.5 56.0h0.9v0.9h-0.9zM216.8 43.7h0.9v0.9h-0.9zM230.0 54.0h0.9v0.9h-0.9zM230.5 48.2h0.9v0.9h-0.9zM230.3 44.4h0.9v0.9h-0.9zM235.4 54.4h0.9v0.9h-0.9zM229.2 53.3h0.9v0.9h-0.9zM224.4 56.0h0.9v0.9h-0.9zM225.9 48.9h0.9v0.9h-0.9zM224.8 46.0h0.9v0.9h-0.9zM234.8 56.1h0.9v0.9h-0.9zM221.5 51.3h0.9v0.9h-0.9zM232.4 48.6h0.9v0.9h-0.9zM221.0 53.0h0.9v0.9h-0.9zM235.9 50.2h0.9v0.9h-0.9zM223.6 50.7h0.9v0.9h-0.9zM218.7 52.1h0.9v0.9h-0.9zM237.6 53.0h0.9v0.9h-0.9zM229.7 52.1h0.9v0.9h-0.9zM227.0 51.5h0.9v0.9h-0.9zM226.6 51.7h0.9v0.9h-0.9zM227.1 51.7h0.9v0.9h-0.9zM234.1 50.1h0.9v0.9h-0.9zM222.6 53.3h0.9v0.9h-0.9zM228.4 49.4h0.9v0.9h-0.9zM233.0 47.7h0.9v0.9h-0.9zM235.7 51.6h0.9v0.9h-0.9zM225.7 49.2h0.9v0.9h-0.9zM228.9 48.1h0.9v0.9h-0.9zM234.6 43.2h0.9v0.9h-0.9zM230.7 49.5h0.9v0.9h-0.9zM223.9 53.5h0.9v0.9h-0.9zM227.4 52.5h0.9v0.9h-0.9zM227.3 50.2h0.9v0.9h-0.9zM233.5 53.1h0.9v0.9h-0.9zM235.8 49.8h0.9v0.9h-0.9zM238.5 48.5h0.9v0.9h-0.9zM221.3 46.2h0.9v0.9h-0.9zM221.2 49.3h0.9v0.9h-0.9zM219.7 53.1h0.9v0.9h-0.9zM230.2 50.6h0.9v0.9h-0.9zM231.3 50.2h0.9v0.9h-0.9zM228.4 50.0h0.9v0.9h-0.9zM229.8 47.3h0.9v0.9h-0.9zM238.1 54.3h0.9v0.9h-0.9zM231.2 57.5h0.9v0.9h-0.9zM224.7 54.2h0.9v0.9h-0.9zM220.8 53.8h0.9v0.9h-0.9zM226.1 54.3h0.9v0.9h-0.9zM231.1 53.5h0.9v0.9h-0.9zM233.8 51.8h0.9v0.9h-0.9zM229.1 55.7h0.9v0.9h-0.9zM232.3 51.9h0.9v0.9h-0.9zM238.3 48.8h0.9v0.9h-0.9zM240.7 52.5h0.9v0.9h-0.9zM229.9 46.3h0.9v0.9h-0.9zM237.0 48.8h0.9v0.9h-0.9zM230.6 51.0h0.9v0.9h-0.9zM235.9 51.8h0.9v0.9h-0.9zM219.1 50.2h0.9v0.9h-0.9zM232.1 50.9h0.9v0.9h-0.9zM234.9 51.7h0.9v0.9h-0.9zM239.2 47.2h0.9v0.9h-0.9zM237.8 50.8h0.9v0.9h-0.9zM232.1 52.5h0.9v0.9h-0.9zM228.4 53.1h0.9v0.9h-0.9zM229.1 53.0h0.9v0.9h-0.9zM226.1 54.8h0.9v0.9h-0.9zM220.9 50.0h0.9v0.9h-0.9zM229.8 51.5h0.9v0.9h-0.9zM225.2 50.2h0.9v0.9h-0.9zM232.0 53.6h0.9v0.9h-0.9zM237.4 48.2h0.9v0.9h-0.9zM229.5 49.8h0.9v0.9h-0.9zM220.9 50.6h0.9v0.9h-0.9zM236.1 45.7h0.9v0.9h-0.9zM247.1 51.3h0.9v0.9h-0.9z" fill="#000" opacity="0.48"/>
<path d="M264.8 53.9h0.9v0.9h-0.9zM221.2 55.1h0.9v0.9h-0.9zM263.2 50.3h0.9v0.9h-0.9zM259.8 56.6h0.9v0.9h-0.9zM254.5 56.5h0.9v0.9h-0.9zM252.4 56.1h0.9v0.9h-0.9zM259.0 55.0h0.9v0.9h-0.9zM252.9 55.0h0.9v0.9h-0.9zM247.6 48.9h0.9v0.9h-0.9zM226.7 48.2h0.9v0.9h-0.9zM232.7 46.0h0.9v0.9h-0.9zM253.5 51.5h0.9v0.9h-0.9zM259.8 67.8h0.9v0.9h-0.9zM254.4 50.8h0.9v0.9h-0.9zM250.2 52.0h0.9v0.9h-0.9zM249.1 62.9h0.9v0.9h-0.9zM263.3 59.1h0.9v0.9h-0.9zM249.2 61.4h0.9v0.9h-0.9zM255.0 57.2h0.9v0.9h-0.9zM233.4 50.1h0.9v0.9h-0.9zM247.9 52.0h0.9v0.9h-0.9zM240.4 43.5h0.9v0.9h-0.9zM238.0 52.5h0.9v0.9h-0.9zM249.4 47.9h0.9v0.9h-0.9zM244.6 61.6h0.9v0.9h-0.9zM247.8 43.7h0.9v0.9h-0.9zM244.1 53.0h0.9v0.9h-0.9zM259.8 53.9h0.9v0.9h-0.9zM260.9 54.6h0.9v0.9h-0.9zM258.7 59.4h0.9v0.9h-0.9zM262.7 54.0h0.9v0.9h-0.9zM253.1 71.6h0.9v0.9h-0.9zM232.9 54.0h0.9v0.9h-0.9zM251.2 49.7h0.9v0.9h-0.9zM255.0 52.3h0.9v0.9h-0.9zM254.7 53.9h0.9v0.9h-0.9zM236.0 58.0h0.9v0.9h-0.9zM249.2 44.9h0.9v0.9h-0.9zM249.6 52.9h0.9v0.9h-0.9zM237.6 43.9h0.9v0.9h-0.9zM250.9 57.6h0.9v0.9h-0.9zM253.8 63.8h0.9v0.9h-0.9zM225.6 54.7h0.9v0.9h-0.9zM245.8 59.8h0.9v0.9h-0.9zM245.8 48.4h0.9v0.9h-0.9zM245.5 55.1h0.9v0.9h-0.9zM238.2 49.3h0.9v0.9h-0.9zM249.0 57.2h0.9v0.9h-0.9zM243.6 55.3h0.9v0.9h-0.9zM240.7 51.4h0.9v0.9h-0.9zM248.2 57.6h0.9v0.9h-0.9zM263.2 52.4h0.9v0.9h-0.9zM251.0 62.4h0.9v0.9h-0.9zM255.1 51.3h0.9v0.9h-0.9zM250.5 46.3h0.9v0.9h-0.9zM223.5 49.4h0.9v0.9h-0.9zM238.4 46.7h0.9v0.9h-0.9zM257.2 50.9h0.9v0.9h-0.9zM247.1 53.4h0.9v0.9h-0.9zM243.9 47.4h0.9v0.9h-0.9zM245.8 56.3h0.9v0.9h-0.9zM244.0 52.5h0.9v0.9h-0.9zM249.5 54.2h0.9v0.9h-0.9zM242.5 58.2h0.9v0.9h-0.9zM251.6 60.2h0.9v0.9h-0.9zM247.1 43.6h0.9v0.9h-0.9zM228.3 50.6h0.9v0.9h-0.9zM251.1 45.3h0.9v0.9h-0.9zM240.1 59.0h0.9v0.9h-0.9zM249.8 49.6h0.9v0.9h-0.9zM245.0 53.6h0.9v0.9h-0.9zM241.6 51.5h0.9v0.9h-0.9zM239.3 54.1h0.9v0.9h-0.9zM263.2 60.0h0.9v0.9h-0.9zM232.8 64.1h0.9v0.9h-0.9zM244.9 46.4h0.9v0.9h-0.9zM230.2 53.7h0.9v0.9h-0.9zM248.7 50.0h0.9v0.9h-0.9zM237.6 52.0h0.9v0.9h-0.9zM249.0 56.2h0.9v0.9h-0.9zM239.8 54.3h0.9v0.9h-0.9zM250.2 56.8h0.9v0.9h-0.9zM230.2 60.5h0.9v0.9h-0.9zM233.4 52.1h0.9v0.9h-0.9zM241.2 50.8h0.9v0.9h-0.9zM237.9 56.9h0.9v0.9h-0.9zM254.6 54.7h0.9v0.9h-0.9zM232.5 50.0h0.9v0.9h-0.9zM245.6 54.9h0.9v0.9h-0.9zM240.2 51.8h0.9v0.9h-0.9zM238.1 60.8h0.9v0.9h-0.9zM255.2 47.4h0.9v0.9h-0.9zM254.6 53.8h0.9v0.9h-0.9zM237.7 56.8h0.9v0.9h-0.9zM239.7 51.6h0.9v0.9h-0.9zM246.4 54.0h0.9v0.9h-0.9zM241.5 54.4h0.9v0.9h-0.9zM246.2 54.0h0.9v0.9h-0.9zM250.3 50.0h0.9v0.9h-0.9zM231.6 52.7h0.9v0.9h-0.9zM259.4 54.6h0.9v0.9h-0.9zM248.6 49.5h0.9v0.9h-0.9zM234.0 47.1h0.9v0.9h-0.9zM236.4 51.3h0.9v0.9h-0.9zM229.7 52.5h0.9v0.9h-0.9zM229.4 56.1h0.9v0.9h-0.9zM245.9 44.7h0.9v0.9h-0.9zM240.3 54.1h0.9v0.9h-0.9zM250.3 56.7h0.9v0.9h-0.9zM242.4 52.3h0.9v0.9h-0.9zM243.7 55.6h0.9v0.9h-0.9zM238.8 52.3h0.9v0.9h-0.9zM247.8 51.4h0.9v0.9h-0.9zM234.7 59.5h0.9v0.9h-0.9zM251.5 48.7h0.9v0.9h-0.9zM236.9 51.3h0.9v0.9h-0.9zM251.9 60.2h0.9v0.9h-0.9zM260.8 55.7h0.9v0.9h-0.9zM246.9 56.2h0.9v0.9h-0.9zM237.8 49.7h0.9v0.9h-0.9zM251.8 54.0h0.9v0.9h-0.9zM248.7 48.2h0.9v0.9h-0.9zM248.8 46.2h0.9v0.9h-0.9zM256.1 53.1h0.9v0.9h-0.9zM239.3 50.8h0.9v0.9h-0.9zM238.7 59.5h0.9v0.9h-0.9zM215.3 58.4h0.9v0.9h-0.9zM246.4 54.3h0.9v0.9h-0.9zM236.0 46.8h0.9v0.9h-0.9zM248.7 50.9h0.9v0.9h-0.9zM251.6 58.1h0.9v0.9h-0.9zM245.0 55.6h0.9v0.9h-0.9zM248.1 54.2h0.9v0.9h-0.9zM240.7 54.2h0.9v0.9h-0.9zM250.8 53.4h0.9v0.9h-0.9zM241.4 46.1h0.9v0.9h-0.9zM234.9 60.5h0.9v0.9h-0.9zM257.0 54.4h0.9v0.9h-0.9zM249.3 52.3h0.9v0.9h-0.9zM253.5 57.6h0.9v0.9h-0.9zM243.6 54.5h0.9v0.9h-0.9zM256.4 45.5h0.9v0.9h-0.9zM236.2 50.3h0.9v0.9h-0.9zM233.9 51.0h0.9v0.9h-0.9zM237.2 51.2h0.9v0.9h-0.9zM251.3 47.4h0.9v0.9h-0.9zM247.3 59.6h0.9v0.9h-0.9zM248.2 47.2h0.9v0.9h-0.9zM239.8 58.6h0.9v0.9h-0.9zM243.4 50.0h0.9v0.9h-0.9zM254.5 49.6h0.9v0.9h-0.9zM234.4 56.0h0.9v0.9h-0.9zM246.4 49.9h0.9v0.9h-0.9zM251.2 58.3h0.9v0.9h-0.9zM257.7 53.5h0.9v0.9h-0.9zM251.1 55.4h0.9v0.9h-0.9zM230.5 61.0h0.9v0.9h-0.9zM239.2 50.4h0.9v0.9h-0.9zM237.5 48.4h0.9v0.9h-0.9zM257.8 53.1h0.9v0.9h-0.9zM240.1 44.3h0.9v0.9h-0.9zM248.0 52.8h0.9v0.9h-0.9zM235.3 52.6h0.9v0.9h-0.9zM226.8 56.1h0.9v0.9h-0.9zM233.3 55.4h0.9v0.9h-0.9zM247.3 42.9h0.9v0.9h-0.9zM234.4 49.9h0.9v0.9h-0.9zM254.6 55.9h0.9v0.9h-0.9zM252.9 61.0h0.9v0.9h-0.9zM243.2 50.6h0.9v0.9h-0.9zM226.3 48.1h0.9v0.9h-0.9zM252.2 49.0h0.9v0.9h-0.9zM237.0 57.6h0.9v0.9h-0.9zM220.1 59.7h0.9v0.9h-0.9zM259.9 44.5h0.9v0.9h-0.9zM251.2 53.0h0.9v0.9h-0.9zM255.8 51.4h0.9v0.9h-0.9zM244.9 59.8h0.9v0.9h-0.9zM239.9 55.0h0.9v0.9h-0.9zM252.9 52.5h0.9v0.9h-0.9zM255.5 55.5h0.9v0.9h-0.9zM255.0 44.9h0.9v0.9h-0.9zM235.3 54.4h0.9v0.9h-0.9zM258.6 59.9h0.9v0.9h-0.9zM246.4 49.5h0.9v0.9h-0.9zM234.7 43.8h0.9v0.9h-0.9zM240.9 55.8h0.9v0.9h-0.9zM245.5 46.0h0.9v0.9h-0.9zM245.2 53.3h0.9v0.9h-0.9zM238.3 60.0h0.9v0.9h-0.9zM250.9 58.3h0.9v0.9h-0.9zM247.3 48.4h0.9v0.9h-0.9zM257.7 58.3h0.9v0.9h-0.9zM240.0 46.7h0.9v0.9h-0.9zM254.9 50.4h0.9v0.9h-0.9zM234.0 52.7h0.9v0.9h-0.9zM252.1 49.5h0.9v0.9h-0.9zM246.6 57.8h0.9v0.9h-0.9zM254.1 45.6h0.9v0.9h-0.9zM253.8 61.5h0.9v0.9h-0.9zM255.9 52.6h0.9v0.9h-0.9zM250.1 45.5h0.9v0.9h-0.9zM240.0 50.6h0.9v0.9h-0.9zM236.0 61.1h0.9v0.9h-0.9zM259.2 45.2h0.9v0.9h-0.9zM244.1 45.0h0.9v0.9h-0.9zM235.2 63.1h0.9v0.9h-0.9zM251.9 54.7h0.9v0.9h-0.9zM255.3 48.3h0.9v0.9h-0.9zM255.5 51.7h0.9v0.9h-0.9zM251.7 54.2h0.9v0.9h-0.9zM260.8 46.9h0.9v0.9h-0.9zM231.6 56.2h0.9v0.9h-0.9zM244.5 56.3h0.9v0.9h-0.9zM233.5 53.5h0.9v0.9h-0.9zM228.5 53.6h0.9v0.9h-0.9zM253.9 61.2h0.9v0.9h-0.9zM240.9 57.5h0.9v0.9h-0.9zM260.4 48.1h0.9v0.9h-0.9zM243.3 44.2h0.9v0.9h-0.9zM237.0 55.1h0.9v0.9h-0.9zM224.9 51.6h0.9v0.9h-0.9zM253.9 59.9h0.9v0.9h-0.9zM219.9 54.9h0.9v0.9h-0.9zM235.5 55.9h0.9v0.9h-0.9zM246.0 56.4h0.9v0.9h-0.9zM243.1 56.2h0.9v0.9h-0.9zM236.0 48.4h0.9v0.9h-0.9zM244.5 44.7h0.9v0.9h-0.9zM259.2 51.9h0.9v0.9h-0.9zM235.9 48.9h0.9v0.9h-0.9zM236.1 53.6h0.9v0.9h-0.9zM242.4 57.2h0.9v0.9h-0.9zM234.1 52.7h0.9v0.9h-0.9zM230.4 50.8h0.9v0.9h-0.9zM260.5 52.5h0.9v0.9h-0.9zM255.6 52.8h0.9v0.9h-0.9zM234.7 48.8h0.9v0.9h-0.9zM234.4 54.7h0.9v0.9h-0.9zM248.7 67.1h0.9v0.9h-0.9zM263.8 57.1h0.9v0.9h-0.9zM235.9 53.6h0.9v0.9h-0.9zM236.7 64.3h0.9v0.9h-0.9zM238.6 58.6h0.9v0.9h-0.9zM232.0 56.7h0.9v0.9h-0.9zM233.3 50.8h0.9v0.9h-0.9zM248.0 53.7h0.9v0.9h-0.9zM245.6 52.7h0.9v0.9h-0.9zM237.2 52.5h0.9v0.9h-0.9zM245.5 48.6h0.9v0.9h-0.9zM252.2 53.9h0.9v0.9h-0.9zM238.3 59.3h0.9v0.9h-0.9zM240.2 43.9h0.9v0.9h-0.9zM259.5 51.2h0.9v0.9h-0.9zM261.6 55.1h0.9v0.9h-0.9zM236.8 58.4h0.9v0.9h-0.9zM251.0 57.5h0.9v0.9h-0.9zM246.6 60.5h0.9v0.9h-0.9zM256.0 51.4h0.9v0.9h-0.9zM230.4 52.8h0.9v0.9h-0.9zM246.9 48.3h0.9v0.9h-0.9zM244.2 60.2h0.9v0.9h-0.9zM241.2 58.4h0.9v0.9h-0.9zM236.4 48.4h0.9v0.9h-0.9zM256.0 52.2h0.9v0.9h-0.9zM248.5 58.0h0.9v0.9h-0.9zM263.3 47.1h0.9v0.9h-0.9zM252.3 54.1h0.9v0.9h-0.9zM247.7 61.7h0.9v0.9h-0.9zM243.6 50.2h0.9v0.9h-0.9zM251.5 43.3h0.9v0.9h-0.9zM250.0 48.8h0.9v0.9h-0.9zM249.6 49.5h0.9v0.9h-0.9zM251.5 51.9h0.9v0.9h-0.9zM238.6 55.6h0.9v0.9h-0.9zM254.0 45.3h0.9v0.9h-0.9zM232.6 51.8h0.9v0.9h-0.9zM242.2 59.4h0.9v0.9h-0.9zM262.8 55.3h0.9v0.9h-0.9zM257.7 51.5h0.9v0.9h-0.9zM231.8 54.5h0.9v0.9h-0.9zM227.7 60.9h0.9v0.9h-0.9zM248.8 58.6h0.9v0.9h-0.9zM239.4 45.3h0.9v0.9h-0.9zM244.0 55.4h0.9v0.9h-0.9zM243.9 50.6h0.9v0.9h-0.9zM247.0 52.1h0.9v0.9h-0.9zM260.8 46.7h0.9v0.9h-0.9zM222.9 52.6h0.9v0.9h-0.9zM249.0 45.7h0.9v0.9h-0.9zM245.7 55.2h0.9v0.9h-0.9zM249.7 54.5h0.9v0.9h-0.9zM238.2 46.1h0.9v0.9h-0.9zM256.2 51.3h0.9v0.9h-0.9zM231.7 60.5h0.9v0.9h-0.9zM229.2 57.6h0.9v0.9h-0.9zM249.6 59.0h0.9v0.9h-0.9zM246.3 45.0h0.9v0.9h-0.9zM244.4 51.0h0.9v0.9h-0.9zM249.2 52.1h0.9v0.9h-0.9zM252.0 47.2h0.9v0.9h-0.9zM240.4 50.5h0.9v0.9h-0.9zM250.5 44.8h0.9v0.9h-0.9zM246.1 64.5h0.9v0.9h-0.9zM227.2 58.0h0.9v0.9h-0.9zM247.2 57.8h0.9v0.9h-0.9zM246.7 54.3h0.9v0.9h-0.9zM250.0 55.2h0.9v0.9h-0.9zM233.4 52.4h0.9v0.9h-0.9zM265.3 59.9h0.9v0.9h-0.9zM237.2 48.5h0.9v0.9h-0.9zM244.3 58.1h0.9v0.9h-0.9zM255.8 50.2h0.9v0.9h-0.9zM221.1 52.8h0.9v0.9h-0.9zM228.6 58.8h0.9v0.9h-0.9zM261.7 56.3h0.9v0.9h-0.9zM252.4 55.8h0.9v0.9h-0.9zM265.5 58.3h0.9v0.9h-0.9zM261.3 47.5h0.9v0.9h-0.9zM240.6 53.0h0.9v0.9h-0.9zM222.6 51.6h0.9v0.9h-0.9zM245.9 52.7h0.9v0.9h-0.9zM244.0 52.4h0.9v0.9h-0.9zM242.5 46.2h0.9v0.9h-0.9zM257.9 53.1h0.9v0.9h-0.9zM249.9 53.2h0.9v0.9h-0.9zM237.9 45.3h0.9v0.9h-0.9zM243.1 55.6h0.9v0.9h-0.9zM244.8 56.6h0.9v0.9h-0.9zM237.8 51.6h0.9v0.9h-0.9zM247.7 52.5h0.9v0.9h-0.9zM247.9 59.9h0.9v0.9h-0.9zM241.7 53.7h0.9v0.9h-0.9zM239.2 55.6h0.9v0.9h-0.9zM248.4 49.5h0.9v0.9h-0.9zM235.5 47.2h0.9v0.9h-0.9zM243.1 53.8h0.9v0.9h-0.9zM240.9 52.5h0.9v0.9h-0.9zM247.5 64.4h0.9v0.9h-0.9zM258.5 64.2h0.9v0.9h-0.9zM247.5 54.1h0.9v0.9h-0.9zM253.0 50.6h0.9v0.9h-0.9zM240.3 56.8h0.9v0.9h-0.9zM239.7 49.8h0.9v0.9h-0.9zM230.3 54.4h0.9v0.9h-0.9zM245.1 55.7h0.9v0.9h-0.9zM236.9 47.0h0.9v0.9h-0.9zM257.7 53.1h0.9v0.9h-0.9zM254.4 47.5h0.9v0.9h-0.9zM249.2 57.8h0.9v0.9h-0.9zM260.1 61.6h0.9v0.9h-0.9zM226.8 47.8h0.9v0.9h-0.9zM240.5 49.2h0.9v0.9h-0.9zM243.8 49.2h0.9v0.9h-0.9zM230.6 52.8h0.9v0.9h-0.9zM247.4 49.3h0.9v0.9h-0.9zM246.4 46.7h0.9v0.9h-0.9zM242.6 51.4h0.9v0.9h-0.9zM241.2 52.6h0.9v0.9h-0.9zM232.7 46.5h0.9v0.9h-0.9zM237.3 56.6h0.9v0.9h-0.9zM236.0 48.5h0.9v0.9h-0.9zM242.0 48.7h0.9v0.9h-0.9zM261.6 55.6h0.9v0.9h-0.9zM248.8 60.7h0.9v0.9h-0.9zM233.4 44.9h0.9v0.9h-0.9zM257.7 55.1h0.9v0.9h-0.9zM240.6 56.9h0.9v0.9h-0.9zM245.0 62.4h0.9v0.9h-0.9zM232.6 54.7h0.9v0.9h-0.9zM256.4 57.3h0.9v0.9h-0.9zM242.2 51.1h0.9v0.9h-0.9zM241.4 56.3h0.9v0.9h-0.9zM241.8 52.3h0.9v0.9h-0.9zM256.9 52.5h0.9v0.9h-0.9zM248.6 52.4h0.9v0.9h-0.9zM236.1 54.8h0.9v0.9h-0.9zM239.3 50.0h0.9v0.9h-0.9zM246.6 64.1h0.9v0.9h-0.9zM238.0 48.4h0.9v0.9h-0.9zM227.0 55.2h0.9v0.9h-0.9zM245.4 48.9h0.9v0.9h-0.9zM241.7 57.7h0.9v0.9h-0.9zM256.8 54.8h0.9v0.9h-0.9zM258.2 57.9h0.9v0.9h-0.9zM241.1 56.9h0.9v0.9h-0.9zM247.7 56.7h0.9v0.9h-0.9zM249.0 63.3h0.9v0.9h-0.9zM232.7 54.8h0.9v0.9h-0.9zM234.5 64.2h0.9v0.9h-0.9zM240.5 51.2h0.9v0.9h-0.9zM245.8 52.8h0.9v0.9h-0.9zM264.1 52.7h0.9v0.9h-0.9zM248.6 58.2h0.9v0.9h-0.9zM262.0 48.4h0.9v0.9h-0.9zM249.2 46.6h0.9v0.9h-0.9zM251.2 59.9h0.9v0.9h-0.9zM240.5 51.6h0.9v0.9h-0.9zM258.6 55.1h0.9v0.9h-0.9zM254.5 50.8h0.9v0.9h-0.9zM242.7 51.2h0.9v0.9h-0.9zM262.6 45.8h0.9v0.9h-0.9zM240.5 60.6h0.9v0.9h-0.9zM245.3 47.7h0.9v0.9h-0.9zM248.5 51.9h0.9v0.9h-0.9zM244.7 55.4h0.9v0.9h-0.9zM254.4 45.7h0.9v0.9h-0.9zM248.1 60.3h0.9v0.9h-0.9zM231.8 52.5h0.9v0.9h-0.9zM233.7 56.2h0.9v0.9h-0.9zM237.0 51.4h0.9v0.9h-0.9zM241.6 55.2h0.9v0.9h-0.9zM232.1 46.2h0.9v0.9h-0.9zM248.0 59.6h0.9v0.9h-0.9zM240.6 55.0h0.9v0.9h-0.9zM248.8 53.5h0.9v0.9h-0.9zM245.8 50.3h0.9v0.9h-0.9zM243.4 58.9h0.9v0.9h-0.9zM250.7 59.2h0.9v0.9h-0.9zM238.3 53.6h0.9v0.9h-0.9zM239.2 46.6h0.9v0.9h-0.9zM255.5 51.6h0.9v0.9h-0.9zM248.5 46.1h0.9v0.9h-0.9zM243.3 52.4h0.9v0.9h-0.9zM241.9 57.9h0.9v0.9h-0.9zM250.8 53.6h0.9v0.9h-0.9zM248.4 50.8h0.9v0.9h-0.9zM238.5 51.6h0.9v0.9h-0.9zM235.2 52.2h0.9v0.9h-0.9zM244.8 58.5h0.9v0.9h-0.9zM241.4 64.8h0.9v0.9h-0.9z" fill="#000" opacity="0.16"/>
<ellipse cx="229.00" cy="51.00" rx="5.50" ry="2.60" transform="rotate(-8 229.00 51.00)" fill="#000" opacity="0.3" filter="url(#blur)"/>
</g>
<rect x="62.60" y="42.80" width="51.20" height="52.20" stroke="#222" stroke-width="1.3" fill="none"/>
<line x1="61.10" y1="84.56" x2="62.60" y2="84.56" stroke="#333" stroke-width="0.7"/>
<line x1="72.84" y1="95.00" x2="72.84" y2="96.50" stroke="#333" stroke-width="0.7"/>
<line x1="61.10" y1="74.12" x2="62.60" y2="74.12" stroke="#333" stroke-width="0.7"/>
<line x1="83.08" y1="95.00" x2="83.08" y2="96.50" stroke="#333" stroke-width="0.7"/>
<line x1="61.10" y1="63.68" x2="62.60" y2="63.68" stroke="#333" stroke-width="0.7"/>
<line x1="93.32" y1="95.00" x2="93.32" y2="96.50" stroke="#333" stroke-width="0.7"/>
<line x1="61.10" y1="53.24" x2="62.60" y2="53.24" stroke="#333" stroke-width="0.7"/>
<line x1="103.56" y1="95.00" x2="103.56" y2="96.50" stroke="#333" stroke-width="0.7"/>
<rect x="136.40" y="42.80" width="51.60" height="52.20" stroke="#222" stroke-width="1.3" fill="none"/>
<line x1="134.90" y1="84.56" x2="136.40" y2="84.56" stroke="#333" stroke-width="0.7"/>
<line x1="146.72" y1="95.00" x2="146.72" y2="96.50" stroke="#333" stroke-width="0.7"/>
<line x1="134.90" y1="74.12" x2="136.40" y2="74.12" stroke="#333" stroke-width="0.7"/>
<line x1="157.04" y1="95.00" x2="157.04" y2="96.50" stroke="#333" stroke-width="0.7"/>
<line x1="134.90" y1="63.68" x2="136.40" y2="63.68" stroke="#333" stroke-width="0.7"/>
<line x1="167.36" y1="95.00" x2="167.36" y2="96.50" stroke="#333" stroke-width="0.7"/>
<line x1="134.90" y1="53.24" x2="136.40" y2="53.24" stroke="#333" stroke-width="0.7"/>
<line x1="177.68" y1="95.00" x2="177.68" y2="96.50" stroke="#333" stroke-width="0.7"/>
<rect x="214.30" y="42.80" width="51.40" height="52.20" stroke="#222" stroke-width="1.3" fill="none"/>
<line x1="212.80" y1="84.56" x2="214.30" y2="84.56" stroke="#333" stroke-width="0.7"/>
<line x1="224.58" y1="95.00" x2="224.58" y2="96.50" stroke="#333" stroke-width="0.7"/>
<line x1="212.80" y1="74.12" x2="214.30" y2="74.12" stroke="#333" stroke-width="0.7"/>
<line x1="234.86" y1="95.00" x2="234.86" y2="96.50" stroke="#333" stroke-width="0.7"/>
<line x1="212.80" y1="63.68" x2="214.30" y2="63.68" stroke="#333" stroke-width="0.7"/>
<line x1="245.14" y1="95.00" x2="245.14" y2="96.50" stroke="#333" stroke-width="0.7"/>
<line x1="212.80" y1="53.24" x2="214.30" y2="53.24" stroke="#333" stroke-width="0.7"/>
<line x1="255.42" y1="95.00" x2="255.42" y2="96.50" stroke="#333" stroke-width="0.7"/>
<ellipse cx="85.6" cy="76.4" rx="21" ry="11.5" transform="rotate(-42 85.6 76.4)" fill="none" stroke="#111" stroke-width="1.4" stroke-dasharray="3.6,2.4"/>
<rect x="148.30" y="44.30" width="36.20" height="15.70" stroke="#111" stroke-width="1.4" fill="none" stroke-dasharray="3.6,2.4"/>
<rect x="239.20" y="44.00" width="25.80" height="17.00" stroke="#111" stroke-width="1.4" fill="none" stroke-dasharray="3.6,2.4"/>
<line x1="48.60" y1="105.30" x2="48.60" y2="79.52" stroke="#111" stroke-width="1.3"/>
<line x1="47.95" y1="105.30" x2="76.18" y2="105.30" stroke="#111" stroke-width="1.3"/>
<polygon points="45.40,80.00 51.80,80.00 48.60,74.40" fill="#111"/>
<polygon points="75.70,102.10 75.70,108.50 81.30,105.30" fill="#111"/>
<line x1="123.00" y1="105.50" x2="123.00" y2="78.92" stroke="#111" stroke-width="1.3"/>
<line x1="122.35" y1="105.50" x2="151.18" y2="105.50" stroke="#111" stroke-width="1.3"/>
<polygon points="119.80,79.40 126.20,79.40 123.00,73.80" fill="#111"/>
<polygon points="150.70,102.30 150.70,108.70 156.30,105.50" fill="#111"/>
<line x1="201.30" y1="105.50" x2="201.30" y2="78.92" stroke="#111" stroke-width="1.3"/>
<line x1="200.65" y1="105.50" x2="229.88" y2="105.50" stroke="#111" stroke-width="1.3"/>
<polygon points="198.10,79.40 204.50,79.40 201.30,73.80" fill="#111"/>
<polygon points="229.40,102.30 229.40,108.70 235.00,105.50" fill="#111"/>
<text transform="translate(54.20,63.50) rotate(-90)" x="0" y="0" font-size="10.2" text-anchor="middle" font-weight="bold" fill="#111" textLength="18.50" lengthAdjust="spacingAndGlyphs">SSC</text>
<text x="84.60" y="110.60" font-size="10.2" text-anchor="start" font-weight="bold" fill="#111" textLength="17.60" lengthAdjust="spacingAndGlyphs">FSC</text>
<text transform="translate(127.80,61.00) rotate(-90)" x="0" y="0" font-size="10.2" text-anchor="middle" font-weight="normal" fill="#111" stroke="#111" stroke-width="0.4" textLength="22.50" lengthAdjust="spacingAndGlyphs">Ly5.2</text>
<text x="157.50" y="111.00" font-size="10.2" text-anchor="start" font-weight="bold" fill="#111" textLength="18.00" lengthAdjust="spacingAndGlyphs">FSC</text>
<text transform="translate(207.80,58.80) rotate(-90)" x="0" y="0" font-size="10.2" text-anchor="middle" font-weight="normal" fill="#111" stroke="#111" stroke-width="0.4" textLength="22.80" lengthAdjust="spacingAndGlyphs">Ly5.2</text>
<text x="239.80" y="111.00" font-size="10.2" text-anchor="start" font-weight="normal" fill="#111" stroke="#111" stroke-width="0.4" textLength="38.50" lengthAdjust="spacingAndGlyphs">Annexin V</text>
<polygon points="106.00,68.60 113.90,68.60 113.90,65.65 117.90,71.40 113.90,77.15 113.90,74.20 106.00,74.20" fill="#9a9a9a" stroke="#222" stroke-width="1"/>
<polygon points="181.00,68.50 189.00,68.50 189.00,65.55 193.00,71.30 189.00,77.05 189.00,74.10 181.00,74.10" fill="#9a9a9a" stroke="#222" stroke-width="1"/>
<text x="323.80" y="7.10" font-size="9.2" text-anchor="start" font-weight="normal" fill="#111" stroke="#111" stroke-width="0.4" textLength="45.00" lengthAdjust="spacingAndGlyphs">Stimulation</text>
<text x="375.80" y="7.50" font-size="9.2" text-anchor="start" font-weight="normal" fill="#111" stroke="#111" stroke-width="0.4" textLength="63.00" lengthAdjust="spacingAndGlyphs">Tax-PA and PB</text>
<text x="323.80" y="22.00" font-size="9.2" text-anchor="start" font-weight="normal" fill="#111" stroke="#111" stroke-width="0.4" textLength="26.30" lengthAdjust="spacingAndGlyphs">Target</text>
<text x="376.00" y="23.30" font-size="9.2" text-anchor="start" font-weight="normal" fill="#111" stroke="#111" stroke-width="0.4" textLength="79.50" lengthAdjust="spacingAndGlyphs">Peptide-pulsed EL4</text>
<rect x="335.80" y="35.50" width="126.70" height="67.50" stroke="#111" stroke-width="1.3" fill="none"/>
<line x1="335.80" y1="103.00" x2="338.30" y2="103.00" stroke="#111" stroke-width="1.1"/>
<text x="332.50" y="105.60" font-size="9.2" text-anchor="end" font-weight="normal" fill="#111" stroke="#111" stroke-width="0.4">0</text>
<line x1="335.80" y1="80.50" x2="338.30" y2="80.50" stroke="#111" stroke-width="1.1"/>
<text x="332.50" y="83.10" font-size="9.2" text-anchor="end" font-weight="normal" fill="#111" stroke="#111" stroke-width="0.4">10</text>
<line x1="335.80" y1="58.00" x2="338.30" y2="58.00" stroke="#111" stroke-width="1.1"/>
<text x="332.50" y="60.60" font-size="9.2" text-anchor="end" font-weight="normal" fill="#111" stroke="#111" stroke-width="0.4">20</text>
<line x1="335.80" y1="35.50" x2="338.30" y2="35.50" stroke="#111" stroke-width="1.1"/>
<text x="332.50" y="38.10" font-size="9.2" text-anchor="end" font-weight="normal" fill="#111" stroke="#111" stroke-width="0.4">30</text>
<polyline points="356.30,102.00 398.30,77.00 441.00,53.30" fill="none" stroke="#111" stroke-width="1.5"/>
<rect x="353.00" y="98.70" width="6.60" height="6.60" fill="#111"/>
<rect x="395.00" y="73.70" width="6.60" height="6.60" fill="#111"/>
<rect x="437.70" y="50.00" width="6.60" height="6.60" fill="#111"/>
<polyline points="356.30,102.00 398.30,90.50 441.00,56.00" fill="none" stroke="#111" stroke-width="1.5"/>
<circle cx="356.30" cy="102.00" r="3.1" fill="#111" stroke="#111" stroke-width="1.0"/>
<circle cx="398.30" cy="90.50" r="3.1" fill="#111" stroke="#111" stroke-width="1.0"/>
<circle cx="441.00" cy="56.00" r="3.1" fill="#111" stroke="#111" stroke-width="1.0"/>
<polyline points="356.30,102.00 398.30,95.50 441.00,79.50" fill="none" stroke="#111" stroke-width="1.5"/>
<polygon points="352.70,104.70 359.90,104.70 356.30,98.58" fill="#fff" stroke="#111" stroke-width="1.0"/>
<polygon points="394.70,98.20 401.90,98.20 398.30,92.08" fill="#fff" stroke="#111" stroke-width="1.0"/>
<polygon points="437.40,82.20 444.60,82.20 441.00,76.08" fill="#fff" stroke="#111" stroke-width="1.0"/>
<text x="356.30" y="115.50" font-size="9.2" text-anchor="middle" font-weight="normal" fill="#111" stroke="#111" stroke-width="0.4">0:1</text>
<text x="398.30" y="115.50" font-size="9.2" text-anchor="middle" font-weight="normal" fill="#111" stroke="#111" stroke-width="0.4">2.5:1</text>
<text x="441.00" y="115.50" font-size="9.2" text-anchor="middle" font-weight="normal" fill="#111" stroke="#111" stroke-width="0.4">25:1</text>
<text x="384.50" y="132.50" font-size="9.2" text-anchor="start" font-weight="normal" fill="#111" stroke="#111" stroke-width="0.4" textLength="34.30" lengthAdjust="spacingAndGlyphs">E:T ratio</text>
<text transform="translate(313.60,68.00) rotate(-90)" x="0" y="0" font-size="9.2" text-anchor="middle" font-weight="normal" fill="#111" stroke="#111" stroke-width="0.4" textLength="63.50" lengthAdjust="spacingAndGlyphs">Cytotoxicity (%)</text>
<line x1="341.00" y1="42.20" x2="356.00" y2="42.20" stroke="#111" stroke-width="1.2"/>
<polygon points="344.70,44.90 351.90,44.90 348.30,38.78" fill="#fff" stroke="#111" stroke-width="1.0"/>
<text x="360.50" y="46.00" font-size="9.2" text-anchor="start" font-weight="normal" fill="#111" stroke="#111" stroke-width="0.4" textLength="21.50" lengthAdjust="spacingAndGlyphs">None</text>
<line x1="341.00" y1="52.00" x2="356.00" y2="52.00" stroke="#111" stroke-width="1.2"/>
<circle cx="348.30" cy="52.00" r="3.2" fill="#111" stroke="#111" stroke-width="1.0"/>
<text x="360.50" y="56.30" font-size="9.2" text-anchor="start" font-weight="normal" fill="#111" stroke="#111" stroke-width="0.4" textLength="30.30" lengthAdjust="spacingAndGlyphs">Tax-PA</text>
<line x1="341.00" y1="61.30" x2="356.00" y2="61.30" stroke="#111" stroke-width="1.2"/>
<rect x="344.90" y="57.90" width="6.80" height="6.80" fill="#111"/>
<text x="360.50" y="65.90" font-size="9.2" text-anchor="start" font-weight="normal" fill="#111" stroke="#111" stroke-width="0.4" textLength="30.30" lengthAdjust="spacingAndGlyphs">Tax-PB</text>
<text x="63.00" y="161.00" font-size="9.2" text-anchor="start" font-weight="normal" fill="#111" stroke="#111" stroke-width="0.4" textLength="45.00" lengthAdjust="spacingAndGlyphs">Stimulation</text>
<text x="114.50" y="161.00" font-size="9.2" text-anchor="start" font-weight="normal" fill="#111" stroke="#111" stroke-width="0.4" textLength="66.50" lengthAdjust="spacingAndGlyphs">HBZ-PA and PB</text>
<text x="63.00" y="177.80" font-size="9.2" text-anchor="start" font-weight="normal" fill="#111" stroke="#111" stroke-width="0.4" textLength="26.00" lengthAdjust="spacingAndGlyphs">Target</text>
<text x="114.30" y="177.80" font-size="9.2" text-anchor="start" font-weight="normal" fill="#111" stroke="#111" stroke-width="0.4" textLength="79.50" lengthAdjust="spacingAndGlyphs">Peptide-pulsed EL4</text>
<rect x="85.00" y="188.30" width="111.40" height="77.30" stroke="#111" stroke-width="1.3" fill="none"/>
<line x1="85.00" y1="265.80" x2="87.50" y2="265.80" stroke="#111" stroke-width="1.1"/>
<text x="83.00" y="268.20" font-size="9.2" text-anchor="end" font-weight="normal" fill="#111" stroke="#111" stroke-width="0.4">0</text>
<line x1="85.00" y1="246.48" x2="87.50" y2="246.48" stroke="#111" stroke-width="1.1"/>
<text x="83.00" y="248.88" font-size="9.2" text-anchor="end" font-weight="normal" fill="#111" stroke="#111" stroke-width="0.4">10</text>
<line x1="85.00" y1="227.15" x2="87.50" y2="227.15" stroke="#111" stroke-width="1.1"/>
<text x="83.00" y="229.55" font-size="9.2" text-anchor="end" font-weight="normal" fill="#111" stroke="#111" stroke-width="0.4">20</text>
<line x1="85.00" y1="207.83" x2="87.50" y2="207.83" stroke="#111" stroke-width="1.1"/>
<text x="83.00" y="210.23" font-size="9.2" text-anchor="end" font-weight="normal" fill="#111" stroke="#111" stroke-width="0.4">30</text>
<line x1="85.00" y1="188.50" x2="87.50" y2="188.50" stroke="#111" stroke-width="1.1"/>
<text x="83.00" y="190.90" font-size="9.2" text-anchor="end" font-weight="normal" fill="#111" stroke="#111" stroke-width="0.4">40</text>
<polyline points="103.30,265.60 140.80,235.00 177.50,208.60" fill="none" stroke="#111" stroke-width="1.8"/>
<rect x="99.60" y="261.90" width="7.39" height="7.39" fill="#111"/>
<rect x="137.10" y="231.30" width="7.39" height="7.39" fill="#111"/>
<rect x="173.80" y="204.90" width="7.39" height="7.39" fill="#111"/>
<polyline points="103.30,265.60 140.80,259.50 177.50,247.50" fill="none" stroke="#111" stroke-width="1.8"/>
<circle cx="103.30" cy="265.60" r="3.4720000000000004" fill="#111" stroke="#111" stroke-width="1.0"/>
<circle cx="140.80" cy="259.50" r="3.4720000000000004" fill="#111" stroke="#111" stroke-width="1.0"/>
<circle cx="177.50" cy="247.50" r="3.4720000000000004" fill="#111" stroke="#111" stroke-width="1.0"/>
<polyline points="103.30,265.60 140.80,262.50 177.50,254.20" fill="none" stroke="#111" stroke-width="1.8"/>
<polygon points="99.70,268.30 106.90,268.30 103.30,262.18" fill="#fff" stroke="#111" stroke-width="1.0"/>
<polygon points="137.20,265.20 144.40,265.20 140.80,259.08" fill="#fff" stroke="#111" stroke-width="1.0"/>
<polygon points="173.90,256.90 181.10,256.90 177.50,250.78" fill="#fff" stroke="#111" stroke-width="1.0"/>
<text x="103.30" y="279.20" font-size="9.2" text-anchor="middle" font-weight="normal" fill="#111" stroke="#111" stroke-width="0.4">0:1</text>
<text x="140.80" y="279.20" font-size="9.2" text-anchor="middle" font-weight="normal" fill="#111" stroke="#111" stroke-width="0.4">2.5:1</text>
<text x="177.50" y="279.20" font-size="9.2" text-anchor="middle" font-weight="normal" fill="#111" stroke="#111" stroke-width="0.4">25:1</text>
<text x="123.80" y="291.80" font-size="9.2" text-anchor="start" font-weight="normal" fill="#111" stroke="#111" stroke-width="0.4" textLength="33.80" lengthAdjust="spacingAndGlyphs">E:T ratio</text>
<text transform="translate(68.60,222.00) rotate(-90)" x="0" y="0" font-size="9.2" text-anchor="middle" font-weight="normal" fill="#111" stroke="#111" stroke-width="0.4" textLength="65.50" lengthAdjust="spacingAndGlyphs">Cytotoxicity (%)</text>
<line x1="91.00" y1="194.50" x2="104.00" y2="194.50" stroke="#111" stroke-width="1.2"/>
<polygon points="93.70,197.20 100.90,197.20 97.30,191.08" fill="#fff" stroke="#111" stroke-width="1.0"/>
<text x="105.50" y="197.80" font-size="9.2" text-anchor="start" font-weight="normal" fill="#111" stroke="#111" stroke-width="0.4" textLength="22.00" lengthAdjust="spacingAndGlyphs">None</text>
<line x1="91.00" y1="206.00" x2="104.00" y2="206.00" stroke="#111" stroke-width="1.2"/>
<circle cx="97.30" cy="206.00" r="3.2" fill="#111" stroke="#111" stroke-width="1.0"/>
<text x="105.50" y="209.60" font-size="9.2" text-anchor="start" font-weight="normal" fill="#111" stroke="#111" stroke-width="0.4" textLength="32.00" lengthAdjust="spacingAndGlyphs">HBZ-PA</text>
<line x1="91.00" y1="218.00" x2="104.00" y2="218.00" stroke="#111" stroke-width="1.3"/>
<rect x="93.80" y="214.50" width="7.00" height="7.00" fill="#111"/>
<text x="105.50" y="221.60" font-size="9.2" text-anchor="start" font-weight="normal" fill="#111" stroke="#111" stroke-width="0.4" textLength="32.50" lengthAdjust="spacingAndGlyphs">HBZ-PB</text>
<text x="235.00" y="159.50" font-size="9.2" text-anchor="start" font-weight="normal" fill="#111" stroke="#111" stroke-width="0.4" textLength="44.50" lengthAdjust="spacingAndGlyphs">Stimulation</text>
<text x="287.50" y="159.50" font-size="9.2" text-anchor="start" font-weight="normal" fill="#111" stroke="#111" stroke-width="0.4" textLength="33.80" lengthAdjust="spacingAndGlyphs">HBZ-PA</text>
<text x="397.50" y="159.50" font-size="9.2" text-anchor="start" font-weight="normal" fill="#111" stroke="#111" stroke-width="0.4" textLength="33.80" lengthAdjust="spacingAndGlyphs">HBZ-PB</text>
<text x="235.00" y="176.30" font-size="9.2" text-anchor="start" font-weight="normal" fill="#111" stroke="#111" stroke-width="0.4" textLength="26.00" lengthAdjust="spacingAndGlyphs">Target</text>
<text x="326.80" y="176.30" font-size="9.2" text-anchor="start" font-weight="normal" fill="#111" stroke="#111" stroke-width="0.4" textLength="80.70" lengthAdjust="spacingAndGlyphs">Primary CD4 T cells</text>
<rect x="256.30" y="186.50" width="94.70" height="78.70" stroke="#111" stroke-width="1.3" fill="none"/>
<line x1="256.30" y1="265.20" x2="258.80" y2="265.20" stroke="#111" stroke-width="1.1"/>
<text x="254.50" y="268.70" font-size="8.6" text-anchor="end" font-weight="normal" fill="#111" stroke="#111" stroke-width="0.4">0</text>
<line x1="256.30" y1="249.46" x2="258.80" y2="249.46" stroke="#111" stroke-width="1.1"/>
<text x="254.50" y="252.96" font-size="8.6" text-anchor="end" font-weight="normal" fill="#111" stroke="#111" stroke-width="0.4">5</text>
<line x1="256.30" y1="233.72" x2="258.80" y2="233.72" stroke="#111" stroke-width="1.1"/>
<text x="254.50" y="237.22" font-size="8.6" text-anchor="end" font-weight="normal" fill="#111" stroke="#111" stroke-width="0.4">10</text>
<line x1="256.30" y1="217.98" x2="258.80" y2="217.98" stroke="#111" stroke-width="1.1"/>
<text x="254.50" y="221.48" font-size="8.6" text-anchor="end" font-weight="normal" fill="#111" stroke="#111" stroke-width="0.4">15</text>
<line x1="256.30" y1="202.24" x2="258.80" y2="202.24" stroke="#111" stroke-width="1.1"/>
<text x="254.50" y="205.74" font-size="8.6" text-anchor="end" font-weight="normal" fill="#111" stroke="#111" stroke-width="0.4">20</text>
<line x1="256.30" y1="186.50" x2="258.80" y2="186.50" stroke="#111" stroke-width="1.1"/>
<text x="254.50" y="190.00" font-size="8.6" text-anchor="end" font-weight="normal" fill="#111" stroke="#111" stroke-width="0.4">25</text>
<rect x="368.70" y="185.00" width="95.10" height="78.80" stroke="#111" stroke-width="1.3" fill="none"/>
<line x1="368.70" y1="263.80" x2="371.20" y2="263.80" stroke="#111" stroke-width="1.1"/>
<text x="365.50" y="267.30" font-size="8.6" text-anchor="end" font-weight="normal" fill="#111" stroke="#111" stroke-width="0.4">0</text>
<line x1="368.70" y1="248.04" x2="371.20" y2="248.04" stroke="#111" stroke-width="1.1"/>
<text x="365.50" y="251.54" font-size="8.6" text-anchor="end" font-weight="normal" fill="#111" stroke="#111" stroke-width="0.4">5</text>
<line x1="368.70" y1="232.28" x2="371.20" y2="232.28" stroke="#111" stroke-width="1.1"/>
<text x="365.50" y="235.78" font-size="8.6" text-anchor="end" font-weight="normal" fill="#111" stroke="#111" stroke-width="0.4">10</text>
<line x1="368.70" y1="216.52" x2="371.20" y2="216.52" stroke="#111" stroke-width="1.1"/>
<text x="365.50" y="220.02" font-size="8.6" text-anchor="end" font-weight="normal" fill="#111" stroke="#111" stroke-width="0.4">15</text>
<line x1="368.70" y1="200.76" x2="371.20" y2="200.76" stroke="#111" stroke-width="1.1"/>
<text x="365.50" y="204.26" font-size="8.6" text-anchor="end" font-weight="normal" fill="#111" stroke="#111" stroke-width="0.4">20</text>
<line x1="368.70" y1="185.00" x2="371.20" y2="185.00" stroke="#111" stroke-width="1.1"/>
<text x="365.50" y="188.50" font-size="8.6" text-anchor="end" font-weight="normal" fill="#111" stroke="#111" stroke-width="0.4">25</text>
<polyline points="273.30,263.30 304.50,261.30 335.80,258.00" fill="none" stroke="#111" stroke-width="1.5"/>
<polygon points="269.70,266.00 276.90,266.00 273.30,259.88" fill="#fff" stroke="#111" stroke-width="1.0"/>
<polygon points="300.90,264.00 308.10,264.00 304.50,257.88" fill="#fff" stroke="#111" stroke-width="1.0"/>
<polygon points="332.20,260.70 339.40,260.70 335.80,254.58" fill="#fff" stroke="#111" stroke-width="1.0"/>
<polyline points="273.30,262.00 304.50,251.30 335.80,257.00" fill="none" stroke="#111" stroke-width="1.5"/>
<polygon points="269.70,264.70 276.90,264.70 273.30,258.58" fill="#111" stroke="#111" stroke-width="1.0"/>
<polygon points="300.90,254.00 308.10,254.00 304.50,247.88" fill="#111" stroke="#111" stroke-width="1.0"/>
<polygon points="332.20,259.70 339.40,259.70 335.80,253.58" fill="#111" stroke="#111" stroke-width="1.0"/>
<polyline points="384.50,262.50 416.30,250.80 448.00,190.00" fill="none" stroke="#111" stroke-width="1.5"/>
<polygon points="380.90,265.20 388.10,265.20 384.50,259.08" fill="#111" stroke="#111" stroke-width="1.0"/>
<polygon points="412.70,253.50 419.90,253.50 416.30,247.38" fill="#111" stroke="#111" stroke-width="1.0"/>
<polygon points="444.40,192.70 451.60,192.70 448.00,186.58" fill="#111" stroke="#111" stroke-width="1.0"/>
<polyline points="384.50,262.50 416.30,261.80 448.00,225.50" fill="none" stroke="#111" stroke-width="1.5"/>
<polygon points="380.90,265.20 388.10,265.20 384.50,259.08" fill="#fff" stroke="#111" stroke-width="1.0"/>
<polygon points="412.70,264.50 419.90,264.50 416.30,258.38" fill="#fff" stroke="#111" stroke-width="1.0"/>
<polygon points="444.40,228.20 451.60,228.20 448.00,222.08" fill="#fff" stroke="#111" stroke-width="1.0"/>
<text x="273.30" y="279.00" font-size="9.2" text-anchor="middle" font-weight="normal" fill="#111" stroke="#111" stroke-width="0.4">0:1</text>
<text x="304.50" y="279.00" font-size="9.2" text-anchor="middle" font-weight="normal" fill="#111" stroke="#111" stroke-width="0.4">1:1</text>
<text x="335.80" y="279.00" font-size="9.2" text-anchor="middle" font-weight="normal" fill="#111" stroke="#111" stroke-width="0.4">15:1</text>
<text x="386.60" y="279.30" font-size="9.2" text-anchor="middle" font-weight="normal" fill="#111" stroke="#111" stroke-width="0.4">0:1</text>
<text x="418.00" y="279.30" font-size="9.2" text-anchor="middle" font-weight="normal" fill="#111" stroke="#111" stroke-width="0.4">1:1</text>
<text x="452.00" y="279.30" font-size="9.2" text-anchor="middle" font-weight="normal" fill="#111" stroke="#111" stroke-width="0.4">15:1</text>
<text x="342.50" y="292.00" font-size="9.2" text-anchor="start" font-weight="normal" fill="#111" stroke="#111" stroke-width="0.4" textLength="34.50" lengthAdjust="spacingAndGlyphs">E:T ratio</text>
<text transform="translate(239.00,222.30) rotate(-90)" x="0" y="0" font-size="9.2" text-anchor="middle" font-weight="normal" fill="#111" stroke="#111" stroke-width="0.4" textLength="66.00" lengthAdjust="spacingAndGlyphs">Cytotoxicity (%)</text>
<line x1="262.50" y1="199.50" x2="272.00" y2="199.50" stroke="#111" stroke-width="1.2"/>
<polygon points="266.20,201.75 272.20,201.75 269.20,196.65" fill="#fff" stroke="#111" stroke-width="1.0"/>
<text x="274.60" y="202.50" font-size="9.2" text-anchor="start" font-weight="normal" fill="#111" stroke="#111" stroke-width="0.4" textLength="34.00" lengthAdjust="spacingAndGlyphs">WT-CD4</text>
<text x="309.60" y="200.00" font-size="5.5" text-anchor="start" font-weight="normal" fill="#111" stroke="#111" stroke-width="0.4">+</text>
<line x1="262.50" y1="211.80" x2="272.00" y2="211.80" stroke="#111" stroke-width="1.2"/>
<polygon points="265.90,214.28 272.50,214.28 269.20,208.67" fill="#111" stroke="#111" stroke-width="1.0"/>
<text x="274.60" y="214.80" font-size="9.2" text-anchor="start" font-weight="normal" fill="#111" stroke="#111" stroke-width="0.4" textLength="51.00" lengthAdjust="spacingAndGlyphs">HBZ-Tg-CD4</text>
<text x="326.30" y="212.30" font-size="5.5" text-anchor="start" font-weight="normal" fill="#111" stroke="#111" stroke-width="0.4">+</text>
<rect x="64.40" y="350.90" width="48.20" height="49.60" stroke="#333" stroke-width="1.1" fill="none"/>
<rect x="136.30" y="351.20" width="48.20" height="49.60" stroke="#333" stroke-width="1.1" fill="none"/>
<rect x="211.00" y="351.60" width="47.60" height="49.80" stroke="#333" stroke-width="1.1" fill="none"/>
<line x1="56.50" y1="409.20" x2="56.50" y2="384.12" stroke="#111" stroke-width="1.3"/>
<line x1="55.85" y1="409.20" x2="82.08" y2="409.20" stroke="#111" stroke-width="1.3"/>
<polygon points="53.30,384.60 59.70,384.60 56.50,379.00" fill="#111"/>
<polygon points="81.60,406.00 81.60,412.40 87.20,409.20" fill="#111"/>
<line x1="128.90" y1="410.00" x2="128.90" y2="383.62" stroke="#111" stroke-width="1.3"/>
<line x1="128.25" y1="410.00" x2="154.38" y2="410.00" stroke="#111" stroke-width="1.3"/>
<polygon points="125.70,384.10 132.10,384.10 128.90,378.50" fill="#111"/>
<polygon points="153.90,406.80 153.90,413.20 159.50,410.00" fill="#111"/>
<line x1="202.40" y1="409.60" x2="202.40" y2="384.32" stroke="#111" stroke-width="1.3"/>
<line x1="201.75" y1="409.60" x2="227.58" y2="409.60" stroke="#111" stroke-width="1.3"/>
<polygon points="199.20,384.80 205.60,384.80 202.40,379.20" fill="#111"/>
<polygon points="227.10,406.40 227.10,412.80 232.70,409.60" fill="#111"/>
<text transform="translate(60.80,368.50) rotate(-90)" x="0" y="0" font-size="9.6" text-anchor="middle" font-weight="bold" fill="#111" textLength="18.00" lengthAdjust="spacingAndGlyphs">SSC</text>
<text x="89.00" y="414.60" font-size="9.6" text-anchor="start" font-weight="bold" fill="#111" textLength="17.50" lengthAdjust="spacingAndGlyphs">FSC</text>
<text transform="translate(134.90,367.60) rotate(-90)" x="0" y="0" font-size="9.6" text-anchor="middle" font-weight="bold" fill="#111" textLength="18.30" lengthAdjust="spacingAndGlyphs">CD4</text>
<text x="162.00" y="414.60" font-size="9.6" text-anchor="start" font-weight="bold" fill="#111" textLength="21.80" lengthAdjust="spacingAndGlyphs">Ly5.1</text>
<text transform="translate(206.60,368.80) rotate(-90)" x="0" y="0" font-size="9.6" text-anchor="middle" font-weight="bold" fill="#111" textLength="16.80" lengthAdjust="spacingAndGlyphs">CD4</text>
<text x="236.50" y="414.80" font-size="9.6" text-anchor="start" font-weight="bold" fill="#111" textLength="17.80" lengthAdjust="spacingAndGlyphs">GFP</text>
<polygon points="106.30,373.40 114.10,373.40 114.10,371.20 117.30,375.70 114.10,380.20 114.10,378.00 106.30,378.00" fill="#9a9a9a" stroke="#222" stroke-width="1"/>
<polygon points="183.00,373.70 189.30,373.70 189.30,371.50 192.50,376.00 189.30,380.50 189.30,378.30 183.00,378.30" fill="#9a9a9a" stroke="#222" stroke-width="1"/>
<text x="82.30" y="360.80" font-size="9.2" text-anchor="start" font-weight="normal" fill="#111" stroke="#111" stroke-width="0.4" textLength="23.00" lengthAdjust="spacingAndGlyphs">Living</text>
<text x="83.00" y="371.00" font-size="9.2" text-anchor="start" font-weight="normal" fill="#111" stroke="#111" stroke-width="0.4" textLength="17.00" lengthAdjust="spacingAndGlyphs">cells</text>
<ellipse cx="89.2" cy="383.0" rx="13.4" ry="6.6" transform="rotate(-58 89.2 383)" fill="none" stroke="#111" stroke-width="2.1" stroke-dasharray="0.1,2.7" stroke-linecap="round"/>
<ellipse cx="172.0" cy="361.5" rx="10.2" ry="5.4" fill="none" stroke="#111" stroke-width="2.1" stroke-dasharray="0.1,2.7" stroke-linecap="round"/>
<text x="150.90" y="376.40" font-size="9.2" text-anchor="start" font-weight="normal" fill="#111" stroke="#111" stroke-width="0.4" textLength="18.20" lengthAdjust="spacingAndGlyphs">CD4</text>
<text x="169.00" y="373.40" font-size="5.5" text-anchor="start" font-weight="normal" fill="#111" stroke="#111" stroke-width="0.4">+</text>
<text x="172.20" y="376.40" font-size="9.2" text-anchor="start" font-weight="normal" fill="#111" stroke="#111" stroke-width="0.4">,</text>
<text x="150.90" y="388.00" font-size="9.2" text-anchor="start" font-weight="normal" fill="#111" stroke="#111" stroke-width="0.4" textLength="22.00" lengthAdjust="spacingAndGlyphs">Ly5.1</text>
<text x="173.40" y="384.20" font-size="5.5" text-anchor="start" font-weight="normal" fill="#111" stroke="#111" stroke-width="0.4">+</text>
<rect x="238.3" y="356.2" width="12.9" height="12.1" fill="none" stroke="#111" stroke-width="2.1" stroke-dasharray="0.1,2.7" stroke-linecap="round"/>
<text x="233.40" y="379.00" font-size="9.2" text-anchor="start" font-weight="normal" fill="#111" stroke="#111" stroke-width="0.4" textLength="23.70" lengthAdjust="spacingAndGlyphs">Living</text>
<text x="233.40" y="388.90" font-size="9.2" text-anchor="start" font-weight="normal" fill="#111" stroke="#111" stroke-width="0.4" textLength="23.50" lengthAdjust="spacingAndGlyphs">target</text>
<text x="233.40" y="399.40" font-size="9.2" text-anchor="start" font-weight="normal" fill="#111" stroke="#111" stroke-width="0.4" textLength="17.50" lengthAdjust="spacingAndGlyphs">cells</text>
<text x="287.00" y="327.00" font-size="9.2" text-anchor="start" font-weight="normal" fill="#111" stroke="#111" stroke-width="0.4" textLength="45.00" lengthAdjust="spacingAndGlyphs">Stimulation</text>
<text x="339.50" y="327.00" font-size="9.2" text-anchor="start" font-weight="normal" fill="#111" stroke="#111" stroke-width="0.4" textLength="33.50" lengthAdjust="spacingAndGlyphs">HBZ-PA</text>
<text x="450.20" y="327.00" font-size="9.2" text-anchor="start" font-weight="normal" fill="#111" stroke="#111" stroke-width="0.4" textLength="33.60" lengthAdjust="spacingAndGlyphs">HBZ-PB</text>
<text x="287.00" y="341.30" font-size="9.2" text-anchor="start" font-weight="normal" fill="#111" stroke="#111" stroke-width="0.4" textLength="25.50" lengthAdjust="spacingAndGlyphs">Target</text>
<text x="353.80" y="341.30" font-size="9.2" text-anchor="start" font-weight="normal" fill="#111" stroke="#111" stroke-width="0.4" textLength="137.50" lengthAdjust="spacingAndGlyphs">Virus vector-tranduced CD4 T cell</text>
<rect x="303.00" y="350.20" width="98.40" height="61.40" stroke="#111" stroke-width="1.3" fill="none"/>
<line x1="303.00" y1="411.60" x2="305.50" y2="411.60" stroke="#111" stroke-width="1.1"/>
<text x="300.50" y="415.10" font-size="9.2" text-anchor="end" font-weight="normal" fill="#111" stroke="#111" stroke-width="0.4">0.0</text>
<line x1="303.00" y1="391.13" x2="305.50" y2="391.13" stroke="#111" stroke-width="1.1"/>
<text x="300.50" y="394.63" font-size="9.2" text-anchor="end" font-weight="normal" fill="#111" stroke="#111" stroke-width="0.4">0.5</text>
<line x1="303.00" y1="370.67" x2="305.50" y2="370.67" stroke="#111" stroke-width="1.1"/>
<text x="300.50" y="374.17" font-size="9.2" text-anchor="end" font-weight="normal" fill="#111" stroke="#111" stroke-width="0.4">1.0</text>
<line x1="303.00" y1="350.20" x2="305.50" y2="350.20" stroke="#111" stroke-width="1.1"/>
<text x="300.50" y="353.70" font-size="9.2" text-anchor="end" font-weight="normal" fill="#111" stroke="#111" stroke-width="0.4">1.5</text>
<rect x="419.20" y="349.40" width="99.10" height="62.00" stroke="#111" stroke-width="1.3" fill="none"/>
<line x1="419.20" y1="411.40" x2="421.70" y2="411.40" stroke="#111" stroke-width="1.1"/>
<text x="416.50" y="414.90" font-size="9.2" text-anchor="end" font-weight="normal" fill="#111" stroke="#111" stroke-width="0.4">0.0</text>
<line x1="419.20" y1="395.90" x2="421.70" y2="395.90" stroke="#111" stroke-width="1.1"/>
<text x="416.50" y="399.40" font-size="9.2" text-anchor="end" font-weight="normal" fill="#111" stroke="#111" stroke-width="0.4">0.5</text>
<line x1="419.20" y1="380.40" x2="421.70" y2="380.40" stroke="#111" stroke-width="1.1"/>
<text x="416.50" y="383.90" font-size="9.2" text-anchor="end" font-weight="normal" fill="#111" stroke="#111" stroke-width="0.4">1.0</text>
<line x1="419.20" y1="364.90" x2="421.70" y2="364.90" stroke="#111" stroke-width="1.1"/>
<text x="416.50" y="368.40" font-size="9.2" text-anchor="end" font-weight="normal" fill="#111" stroke="#111" stroke-width="0.4">1.5</text>
<line x1="419.20" y1="349.40" x2="421.70" y2="349.40" stroke="#111" stroke-width="1.1"/>
<text x="416.50" y="352.90" font-size="9.2" text-anchor="end" font-weight="normal" fill="#111" stroke="#111" stroke-width="0.4">2.0</text>
<line x1="340.00" y1="364.94" x2="340.00" y2="386.22" stroke="#333" stroke-width="1.0"/>
<line x1="338.00" y1="364.94" x2="342.00" y2="364.94" stroke="#333" stroke-width="1.0"/>
<line x1="338.00" y1="386.22" x2="342.00" y2="386.22" stroke="#333" stroke-width="1.0"/>
<line x1="365.00" y1="380.90" x2="365.00" y2="384.99" stroke="#333" stroke-width="1.0"/>
<line x1="363.00" y1="380.90" x2="367.00" y2="380.90" stroke="#333" stroke-width="1.0"/>
<line x1="363.00" y1="384.99" x2="367.00" y2="384.99" stroke="#333" stroke-width="1.0"/>
<line x1="389.50" y1="380.90" x2="389.50" y2="389.09" stroke="#333" stroke-width="1.0"/>
<line x1="387.50" y1="380.90" x2="391.50" y2="380.90" stroke="#333" stroke-width="1.0"/>
<line x1="387.50" y1="389.09" x2="391.50" y2="389.09" stroke="#333" stroke-width="1.0"/>
<polyline points="315.00,370.67 340.00,375.58 365.00,382.95 389.50,384.99" fill="none" stroke="#111" stroke-width="1.5"/>
<circle cx="315.00" cy="370.67" r="3.1" fill="#111" stroke="#111" stroke-width="1.0"/>
<circle cx="340.00" cy="375.58" r="3.1" fill="#111" stroke="#111" stroke-width="1.0"/>
<circle cx="365.00" cy="382.95" r="3.1" fill="#111" stroke="#111" stroke-width="1.0"/>
<circle cx="389.50" cy="384.99" r="3.1" fill="#111" stroke="#111" stroke-width="1.0"/>
<line x1="340.00" y1="359.21" x2="340.00" y2="376.40" stroke="#333" stroke-width="1.0"/>
<line x1="338.00" y1="359.21" x2="342.00" y2="359.21" stroke="#333" stroke-width="1.0"/>
<line x1="338.00" y1="376.40" x2="342.00" y2="376.40" stroke="#333" stroke-width="1.0"/>
<line x1="365.00" y1="364.53" x2="365.00" y2="373.53" stroke="#333" stroke-width="1.0"/>
<line x1="363.00" y1="364.53" x2="367.00" y2="364.53" stroke="#333" stroke-width="1.0"/>
<line x1="363.00" y1="373.53" x2="367.00" y2="373.53" stroke="#333" stroke-width="1.0"/>
<line x1="389.50" y1="369.44" x2="389.50" y2="374.35" stroke="#333" stroke-width="1.0"/>
<line x1="387.50" y1="369.44" x2="391.50" y2="369.44" stroke="#333" stroke-width="1.0"/>
<line x1="387.50" y1="374.35" x2="391.50" y2="374.35" stroke="#333" stroke-width="1.0"/>
<polyline points="315.00,370.67 340.00,367.80 365.00,369.03 389.50,371.89" fill="none" stroke="#111" stroke-width="1.5"/>
<circle cx="315.00" cy="370.67" r="3.0" fill="#fff" stroke="#111" stroke-width="1.2"/>
<circle cx="340.00" cy="367.80" r="3.0" fill="#fff" stroke="#111" stroke-width="1.2"/>
<circle cx="365.00" cy="369.03" r="3.0" fill="#fff" stroke="#111" stroke-width="1.2"/>
<circle cx="389.50" cy="371.89" r="3.0" fill="#fff" stroke="#111" stroke-width="1.2"/>
<line x1="455.80" y1="380.71" x2="455.80" y2="391.25" stroke="#333" stroke-width="1.0"/>
<line x1="453.80" y1="380.71" x2="457.80" y2="380.71" stroke="#333" stroke-width="1.0"/>
<line x1="453.80" y1="391.25" x2="457.80" y2="391.25" stroke="#333" stroke-width="1.0"/>
<line x1="481.30" y1="389.08" x2="481.30" y2="396.52" stroke="#333" stroke-width="1.0"/>
<line x1="479.30" y1="389.08" x2="483.30" y2="389.08" stroke="#333" stroke-width="1.0"/>
<line x1="479.30" y1="396.52" x2="483.30" y2="396.52" stroke="#333" stroke-width="1.0"/>
<line x1="505.50" y1="399.31" x2="505.50" y2="401.79" stroke="#333" stroke-width="1.0"/>
<line x1="503.50" y1="399.31" x2="507.50" y2="399.31" stroke="#333" stroke-width="1.0"/>
<line x1="503.50" y1="401.79" x2="507.50" y2="401.79" stroke="#333" stroke-width="1.0"/>
<polyline points="431.30,380.40 455.80,385.98 481.30,392.80 505.50,400.55" fill="none" stroke="#111" stroke-width="1.5"/>
<circle cx="431.30" cy="380.40" r="3.1" fill="#111" stroke="#111" stroke-width="1.0"/>
<circle cx="455.80" cy="385.98" r="3.1" fill="#111" stroke="#111" stroke-width="1.0"/>
<circle cx="481.30" cy="392.80" r="3.1" fill="#111" stroke="#111" stroke-width="1.0"/>
<circle cx="505.50" cy="400.55" r="3.1" fill="#111" stroke="#111" stroke-width="1.0"/>
<line x1="455.80" y1="378.23" x2="455.80" y2="380.09" stroke="#333" stroke-width="1.0"/>
<line x1="453.80" y1="378.23" x2="457.80" y2="378.23" stroke="#333" stroke-width="1.0"/>
<line x1="453.80" y1="380.09" x2="457.80" y2="380.09" stroke="#333" stroke-width="1.0"/>
<line x1="481.30" y1="363.35" x2="481.30" y2="377.61" stroke="#333" stroke-width="1.0"/>
<line x1="479.30" y1="363.35" x2="483.30" y2="363.35" stroke="#333" stroke-width="1.0"/>
<line x1="479.30" y1="377.61" x2="483.30" y2="377.61" stroke="#333" stroke-width="1.0"/>
<line x1="505.50" y1="377.61" x2="505.50" y2="381.33" stroke="#333" stroke-width="1.0"/>
<line x1="503.50" y1="377.61" x2="507.50" y2="377.61" stroke="#333" stroke-width="1.0"/>
<line x1="503.50" y1="381.33" x2="507.50" y2="381.33" stroke="#333" stroke-width="1.0"/>
<polyline points="431.30,380.40 455.80,379.16 481.30,370.48 505.50,379.47" fill="none" stroke="#111" stroke-width="1.5"/>
<circle cx="431.30" cy="380.40" r="3.0" fill="#fff" stroke="#111" stroke-width="1.2"/>
<circle cx="455.80" cy="379.16" r="3.0" fill="#fff" stroke="#111" stroke-width="1.2"/>
<circle cx="481.30" cy="370.48" r="3.0" fill="#fff" stroke="#111" stroke-width="1.2"/>
<circle cx="505.50" cy="379.47" r="3.0" fill="#fff" stroke="#111" stroke-width="1.2"/>
<text x="367.20" y="382.30" font-size="8" text-anchor="start" font-weight="normal" fill="#111" stroke="#111" stroke-width="0.4">*</text>
<text x="392.30" y="381.00" font-size="8" text-anchor="start" font-weight="normal" fill="#111" stroke="#111" stroke-width="0.4">*</text>
<text x="484.00" y="393.00" font-size="8" text-anchor="start" font-weight="normal" fill="#111" stroke="#111" stroke-width="0.4">*</text>
<text x="509.00" y="401.00" font-size="8" text-anchor="start" font-weight="normal" fill="#111" stroke="#111" stroke-width="0.4">*</text>
<line x1="315.50" y1="405.50" x2="328.00" y2="405.50" stroke="#111" stroke-width="1.3"/>
<circle cx="322.00" cy="405.50" r="3.0" fill="#fff" stroke="#111" stroke-width="1.2"/>
<text x="327.80" y="408.80" font-size="9.2" text-anchor="start" font-weight="normal" fill="#111" stroke="#111" stroke-width="0.4" textLength="26.00" lengthAdjust="spacingAndGlyphs">Empty</text>
<line x1="358.00" y1="405.50" x2="370.00" y2="405.50" stroke="#111" stroke-width="1.3"/>
<circle cx="364.50" cy="405.50" r="3.1" fill="#111" stroke="#111" stroke-width="1.0"/>
<text x="369.80" y="408.80" font-size="9.2" text-anchor="start" font-weight="normal" fill="#111" stroke="#111" stroke-width="0.4" textLength="19.00" lengthAdjust="spacingAndGlyphs">HBZ</text>
<text x="320.30" y="425.00" font-size="9.2" text-anchor="middle" font-weight="normal" fill="#111" stroke="#111" stroke-width="0.4">0:1</text>
<text x="340.50" y="425.00" font-size="9.2" text-anchor="middle" font-weight="normal" fill="#111" stroke="#111" stroke-width="0.4">5:1</text>
<text x="366.30" y="425.00" font-size="9.2" text-anchor="middle" font-weight="normal" fill="#111" stroke="#111" stroke-width="0.4">10:1</text>
<text x="391.00" y="425.00" font-size="9.2" text-anchor="middle" font-weight="normal" fill="#111" stroke="#111" stroke-width="0.4">20:1</text>
<text x="433.00" y="425.00" font-size="9.2" text-anchor="middle" font-weight="normal" fill="#111" stroke="#111" stroke-width="0.4">0:1</text>
<text x="456.00" y="425.00" font-size="9.2" text-anchor="middle" font-weight="normal" fill="#111" stroke="#111" stroke-width="0.4">5:1</text>
<text x="480.80" y="425.00" font-size="9.2" text-anchor="middle" font-weight="normal" fill="#111" stroke="#111" stroke-width="0.4">10:1</text>
<text x="506.50" y="425.00" font-size="9.2" text-anchor="middle" font-weight="normal" fill="#111" stroke="#111" stroke-width="0.4">20:1</text>
<text x="396.00" y="442.00" font-size="9.2" text-anchor="start" font-weight="normal" fill="#111" stroke="#111" stroke-width="0.4" textLength="34.50" lengthAdjust="spacingAndGlyphs">E:T ratio</text>
<text transform="translate(285.60,379.30) rotate(-90)" x="0" y="0" font-size="9.2" text-anchor="middle" font-weight="normal" fill="#111" stroke="#111" stroke-width="0.4" textLength="57.50" lengthAdjust="spacingAndGlyphs">Relative index</text>
<text x="67.00" y="463.80" font-size="9.2" text-anchor="start" font-weight="normal" fill="#111" stroke="#111" stroke-width="0.4" textLength="64.30" lengthAdjust="spacingAndGlyphs">rVV-HBZ LL/AA</text>
<text x="26.30" y="478.20" font-size="9.2" text-anchor="start" font-weight="normal" fill="#111" stroke="#111" stroke-width="0.4" textLength="23.70" lengthAdjust="spacingAndGlyphs">Naïve</text>
<text x="26.30" y="488.80" font-size="9.2" text-anchor="start" font-weight="normal" fill="#111" stroke="#111" stroke-width="0.4" textLength="19.00" lengthAdjust="spacingAndGlyphs">mice</text>
<line x1="54.50" y1="481.00" x2="238.00" y2="481.00" stroke="#111" stroke-width="1.3"/>
<polygon points="238.20,477.80 238.20,484.20 243.80,481.00" fill="#111"/>
<polygon points="60.00,470.2 66.00,470.2 63.00,480.4" fill="#111"/>
<polygon points="77.00,470.2 83.00,470.2 80.00,480.4" fill="#111"/>
<polygon points="95.30,470.2 101.30,470.2 98.30,480.4" fill="#111"/>
<polygon points="109.50,470.2 115.50,470.2 112.50,480.4" fill="#111"/>
<polygon points="124.00,470.2 130.00,470.2 127.00,480.4" fill="#111"/>
<polygon points="135.00,470.2 141.00,470.2 138.00,480.4" fill="#111"/>
<polygon points="161.30,470.2 167.30,470.2 164.30,480.4" fill="#111"/>
<polygon points="210.30,470.2 216.30,470.2 213.30,480.4" fill="#111"/>
<text x="53.80" y="492.60" font-size="9.2" text-anchor="start" font-weight="normal" fill="#111" stroke="#111" stroke-width="0.4" textLength="90.00" lengthAdjust="spacingAndGlyphs">-17, -13, -10, -7, -4, -1</text>
<text x="147.50" y="457.30" font-size="9.2" text-anchor="start" font-weight="normal" fill="#111" stroke="#111" stroke-width="0.4" textLength="31.30" lengthAdjust="spacingAndGlyphs">HBZ-Tg</text>
<text x="155.00" y="467.20" font-size="9.2" text-anchor="start" font-weight="normal" fill="#111" stroke="#111" stroke-width="0.4" textLength="17.50" lengthAdjust="spacingAndGlyphs">CD4</text>
<text x="168.80" y="478.30" font-size="9.2" text-anchor="start" font-weight="normal" fill="#111" stroke="#111" stroke-width="0.4" textLength="10.00" lengthAdjust="spacingAndGlyphs">i.v</text>
<text x="195.50" y="462.00" font-size="9.2" text-anchor="start" font-weight="normal" fill="#111" stroke="#111" stroke-width="0.4" textLength="37.00" lengthAdjust="spacingAndGlyphs">Sampling</text>
<text x="157.50" y="492.20" font-size="9.2" text-anchor="start" font-weight="normal" fill="#111" stroke="#111" stroke-width="0.4" textLength="29.50" lengthAdjust="spacingAndGlyphs">0 week</text>
<text x="209.50" y="492.20" font-size="9.2" text-anchor="start" font-weight="normal" fill="#111" stroke="#111" stroke-width="0.4" textLength="35.50" lengthAdjust="spacingAndGlyphs">24 hours</text>
<line x1="116.30" y1="531.20" x2="246.30" y2="531.20" stroke="#111" stroke-width="1.3"/>
<text x="162.50" y="525.00" font-size="9.2" text-anchor="start" font-weight="normal" fill="#111" stroke="#111" stroke-width="0.4" textLength="52.50" lengthAdjust="spacingAndGlyphs">Lymph node</text>
<text x="68.80" y="557.60" font-size="9.2" text-anchor="start" font-weight="normal" fill="#111" stroke="#111" stroke-width="0.4" textLength="28.20" lengthAdjust="spacingAndGlyphs">Spleen</text>
<text x="112.50" y="557.30" font-size="9.2" text-anchor="start" font-weight="normal" fill="#111" stroke="#111" stroke-width="0.4" textLength="44.50" lengthAdjust="spacingAndGlyphs">Mesenteric</text>
<text x="175.80" y="546.50" font-size="9.2" text-anchor="start" font-weight="normal" fill="#111" stroke="#111" stroke-width="0.4" textLength="17.50" lengthAdjust="spacingAndGlyphs">Sub-</text>
<text x="164.30" y="557.30" font-size="9.2" text-anchor="start" font-weight="normal" fill="#111" stroke="#111" stroke-width="0.4" textLength="44.00" lengthAdjust="spacingAndGlyphs">mandibular</text>
<text x="221.30" y="557.00" font-size="9.2" text-anchor="start" font-weight="normal" fill="#111" stroke="#111" stroke-width="0.4" textLength="31.20" lengthAdjust="spacingAndGlyphs">Inguinal</text>
<rect x="62.40" y="560.30" width="45.10" height="46.70" stroke="#6a6a6a" stroke-width="1.0" fill="none"/>
<line x1="61.20" y1="599.22" x2="62.40" y2="599.22" stroke="#444" stroke-width="0.8"/>
<line x1="69.92" y1="607.00" x2="69.92" y2="608.20" stroke="#444" stroke-width="0.8"/>
<line x1="61.20" y1="591.43" x2="62.40" y2="591.43" stroke="#444" stroke-width="0.8"/>
<line x1="77.43" y1="607.00" x2="77.43" y2="608.20" stroke="#444" stroke-width="0.8"/>
<line x1="61.20" y1="583.65" x2="62.40" y2="583.65" stroke="#444" stroke-width="0.8"/>
<line x1="84.95" y1="607.00" x2="84.95" y2="608.20" stroke="#444" stroke-width="0.8"/>
<line x1="61.20" y1="575.87" x2="62.40" y2="575.87" stroke="#444" stroke-width="0.8"/>
<line x1="92.47" y1="607.00" x2="92.47" y2="608.20" stroke="#444" stroke-width="0.8"/>
<line x1="61.20" y1="568.08" x2="62.40" y2="568.08" stroke="#444" stroke-width="0.8"/>
<line x1="99.98" y1="607.00" x2="99.98" y2="608.20" stroke="#444" stroke-width="0.8"/>
<circle cx="68.50" cy="585.00" r="2.6" fill="#aaa" stroke="#333" stroke-width="1.2"/>
<circle cx="68.50" cy="584.70" r="0.8" fill="#ddd"/>
<rect x="102.00" y="580.80" width="5.50" height="9.10" stroke="#222" stroke-width="1.0" fill="none"/>
<text x="86.70" y="600.00" font-size="10.3" text-anchor="start" font-weight="normal" fill="#111" stroke="#111" stroke-width="0.4" textLength="17.40" lengthAdjust="spacingAndGlyphs">1.12</text>
<rect x="113.20" y="560.30" width="46.50" height="46.70" stroke="#6a6a6a" stroke-width="1.0" fill="none"/>
<line x1="112.00" y1="599.22" x2="113.20" y2="599.22" stroke="#444" stroke-width="0.8"/>
<line x1="120.95" y1="607.00" x2="120.95" y2="608.20" stroke="#444" stroke-width="0.8"/>
<line x1="112.00" y1="591.43" x2="113.20" y2="591.43" stroke="#444" stroke-width="0.8"/>
<line x1="128.70" y1="607.00" x2="128.70" y2="608.20" stroke="#444" stroke-width="0.8"/>
<line x1="112.00" y1="583.65" x2="113.20" y2="583.65" stroke="#444" stroke-width="0.8"/>
<line x1="136.45" y1="607.00" x2="136.45" y2="608.20" stroke="#444" stroke-width="0.8"/>
<line x1="112.00" y1="575.87" x2="113.20" y2="575.87" stroke="#444" stroke-width="0.8"/>
<line x1="144.20" y1="607.00" x2="144.20" y2="608.20" stroke="#444" stroke-width="0.8"/>
<line x1="112.00" y1="568.08" x2="113.20" y2="568.08" stroke="#444" stroke-width="0.8"/>
<line x1="151.95" y1="607.00" x2="151.95" y2="608.20" stroke="#444" stroke-width="0.8"/>
<circle cx="120.00" cy="584.60" r="2.6" fill="#aaa" stroke="#333" stroke-width="1.2"/>
<circle cx="120.00" cy="584.30" r="0.8" fill="#ddd"/>
<rect x="153.40" y="581.40" width="6.30" height="8.50" stroke="#222" stroke-width="1.0" fill="none"/>
<text x="137.50" y="600.00" font-size="10.3" text-anchor="start" font-weight="normal" fill="#111" stroke="#111" stroke-width="0.4" textLength="17.40" lengthAdjust="spacingAndGlyphs">0.49</text>
<rect x="167.40" y="560.30" width="45.10" height="47.00" stroke="#6a6a6a" stroke-width="1.0" fill="none"/>
<line x1="166.20" y1="599.47" x2="167.40" y2="599.47" stroke="#444" stroke-width="0.8"/>
<line x1="174.92" y1="607.30" x2="174.92" y2="608.50" stroke="#444" stroke-width="0.8"/>
<line x1="166.20" y1="591.63" x2="167.40" y2="591.63" stroke="#444" stroke-width="0.8"/>
<line x1="182.43" y1="607.30" x2="182.43" y2="608.50" stroke="#444" stroke-width="0.8"/>
<line x1="166.20" y1="583.80" x2="167.40" y2="583.80" stroke="#444" stroke-width="0.8"/>
<line x1="189.95" y1="607.30" x2="189.95" y2="608.50" stroke="#444" stroke-width="0.8"/>
<line x1="166.20" y1="575.97" x2="167.40" y2="575.97" stroke="#444" stroke-width="0.8"/>
<line x1="197.47" y1="607.30" x2="197.47" y2="608.50" stroke="#444" stroke-width="0.8"/>
<line x1="166.20" y1="568.13" x2="167.40" y2="568.13" stroke="#444" stroke-width="0.8"/>
<line x1="204.98" y1="607.30" x2="204.98" y2="608.50" stroke="#444" stroke-width="0.8"/>
<circle cx="173.20" cy="586.50" r="2.6" fill="#aaa" stroke="#333" stroke-width="1.2"/>
<circle cx="173.20" cy="586.20" r="0.8" fill="#ddd"/>
<rect x="207.00" y="581.40" width="5.50" height="8.50" stroke="#222" stroke-width="1.0" fill="none"/>
<text x="190.70" y="600.00" font-size="10.3" text-anchor="start" font-weight="normal" fill="#111" stroke="#111" stroke-width="0.4" textLength="17.40" lengthAdjust="spacingAndGlyphs">0.44</text>
<rect x="217.50" y="559.80" width="46.20" height="47.00" stroke="#6a6a6a" stroke-width="1.0" fill="none"/>
<line x1="216.30" y1="598.97" x2="217.50" y2="598.97" stroke="#444" stroke-width="0.8"/>
<line x1="225.20" y1="606.80" x2="225.20" y2="608.00" stroke="#444" stroke-width="0.8"/>
<line x1="216.30" y1="591.13" x2="217.50" y2="591.13" stroke="#444" stroke-width="0.8"/>
<line x1="232.90" y1="606.80" x2="232.90" y2="608.00" stroke="#444" stroke-width="0.8"/>
<line x1="216.30" y1="583.30" x2="217.50" y2="583.30" stroke="#444" stroke-width="0.8"/>
<line x1="240.60" y1="606.80" x2="240.60" y2="608.00" stroke="#444" stroke-width="0.8"/>
<line x1="216.30" y1="575.47" x2="217.50" y2="575.47" stroke="#444" stroke-width="0.8"/>
<line x1="248.30" y1="606.80" x2="248.30" y2="608.00" stroke="#444" stroke-width="0.8"/>
<line x1="216.30" y1="567.63" x2="217.50" y2="567.63" stroke="#444" stroke-width="0.8"/>
<line x1="256.00" y1="606.80" x2="256.00" y2="608.00" stroke="#444" stroke-width="0.8"/>
<circle cx="225.00" cy="580.40" r="2.6" fill="#aaa" stroke="#333" stroke-width="1.2"/>
<circle cx="225.00" cy="580.10" r="0.8" fill="#ddd"/>
<rect x="257.30" y="577.80" width="5.70" height="8.90" stroke="#222" stroke-width="1.0" fill="none"/>
<text x="242.00" y="600.00" font-size="10.3" text-anchor="start" font-weight="normal" fill="#111" stroke="#111" stroke-width="0.4" textLength="17.40" lengthAdjust="spacingAndGlyphs">0.51</text>
<rect x="63.00" y="613.70" width="44.90" height="46.10" stroke="#6a6a6a" stroke-width="1.0" fill="none"/>
<line x1="61.80" y1="652.12" x2="63.00" y2="652.12" stroke="#444" stroke-width="0.8"/>
<line x1="70.48" y1="659.80" x2="70.48" y2="661.00" stroke="#444" stroke-width="0.8"/>
<line x1="61.80" y1="644.43" x2="63.00" y2="644.43" stroke="#444" stroke-width="0.8"/>
<line x1="77.97" y1="659.80" x2="77.97" y2="661.00" stroke="#444" stroke-width="0.8"/>
<line x1="61.80" y1="636.75" x2="63.00" y2="636.75" stroke="#444" stroke-width="0.8"/>
<line x1="85.45" y1="659.80" x2="85.45" y2="661.00" stroke="#444" stroke-width="0.8"/>
<line x1="61.80" y1="629.07" x2="63.00" y2="629.07" stroke="#444" stroke-width="0.8"/>
<line x1="92.93" y1="659.80" x2="92.93" y2="661.00" stroke="#444" stroke-width="0.8"/>
<line x1="61.80" y1="621.38" x2="63.00" y2="621.38" stroke="#444" stroke-width="0.8"/>
<line x1="100.42" y1="659.80" x2="100.42" y2="661.00" stroke="#444" stroke-width="0.8"/>
<circle cx="69.00" cy="638.30" r="2.6" fill="#aaa" stroke="#333" stroke-width="1.2"/>
<circle cx="69.00" cy="638.00" r="0.8" fill="#ddd"/>
<rect x="102.00" y="634.40" width="5.90" height="9.10" stroke="#222" stroke-width="1.0" fill="none"/>
<text x="86.70" y="652.50" font-size="10.3" text-anchor="start" font-weight="normal" fill="#111" stroke="#111" stroke-width="0.4" textLength="17.40" lengthAdjust="spacingAndGlyphs">0.61</text>
<rect x="113.20" y="613.70" width="45.50" height="46.10" stroke="#6a6a6a" stroke-width="1.0" fill="none"/>
<line x1="112.00" y1="652.12" x2="113.20" y2="652.12" stroke="#444" stroke-width="0.8"/>
<line x1="120.78" y1="659.80" x2="120.78" y2="661.00" stroke="#444" stroke-width="0.8"/>
<line x1="112.00" y1="644.43" x2="113.20" y2="644.43" stroke="#444" stroke-width="0.8"/>
<line x1="128.37" y1="659.80" x2="128.37" y2="661.00" stroke="#444" stroke-width="0.8"/>
<line x1="112.00" y1="636.75" x2="113.20" y2="636.75" stroke="#444" stroke-width="0.8"/>
<line x1="135.95" y1="659.80" x2="135.95" y2="661.00" stroke="#444" stroke-width="0.8"/>
<line x1="112.00" y1="629.07" x2="113.20" y2="629.07" stroke="#444" stroke-width="0.8"/>
<line x1="143.53" y1="659.80" x2="143.53" y2="661.00" stroke="#444" stroke-width="0.8"/>
<line x1="112.00" y1="621.38" x2="113.20" y2="621.38" stroke="#444" stroke-width="0.8"/>
<line x1="151.12" y1="659.80" x2="151.12" y2="661.00" stroke="#444" stroke-width="0.8"/>
<circle cx="119.50" cy="638.00" r="2.6" fill="#aaa" stroke="#333" stroke-width="1.2"/>
<circle cx="119.50" cy="637.70" r="0.8" fill="#ddd"/>
<rect x="152.30" y="632.30" width="6.40" height="9.10" stroke="#222" stroke-width="1.0" fill="none"/>
<text x="136.40" y="652.50" font-size="10.3" text-anchor="start" font-weight="normal" fill="#111" stroke="#111" stroke-width="0.4" textLength="17.40" lengthAdjust="spacingAndGlyphs">0.26</text>
<rect x="167.40" y="613.90" width="44.40" height="45.10" stroke="#6a6a6a" stroke-width="1.0" fill="none"/>
<line x1="166.20" y1="651.48" x2="167.40" y2="651.48" stroke="#444" stroke-width="0.8"/>
<line x1="174.80" y1="659.00" x2="174.80" y2="660.20" stroke="#444" stroke-width="0.8"/>
<line x1="166.20" y1="643.97" x2="167.40" y2="643.97" stroke="#444" stroke-width="0.8"/>
<line x1="182.20" y1="659.00" x2="182.20" y2="660.20" stroke="#444" stroke-width="0.8"/>
<line x1="166.20" y1="636.45" x2="167.40" y2="636.45" stroke="#444" stroke-width="0.8"/>
<line x1="189.60" y1="659.00" x2="189.60" y2="660.20" stroke="#444" stroke-width="0.8"/>
<line x1="166.20" y1="628.93" x2="167.40" y2="628.93" stroke="#444" stroke-width="0.8"/>
<line x1="197.00" y1="659.00" x2="197.00" y2="660.20" stroke="#444" stroke-width="0.8"/>
<line x1="166.20" y1="621.42" x2="167.40" y2="621.42" stroke="#444" stroke-width="0.8"/>
<line x1="204.40" y1="659.00" x2="204.40" y2="660.20" stroke="#444" stroke-width="0.8"/>
<circle cx="173.30" cy="638.60" r="2.6" fill="#aaa" stroke="#333" stroke-width="1.2"/>
<circle cx="173.30" cy="638.30" r="0.8" fill="#ddd"/>
<rect x="206.50" y="633.00" width="5.30" height="8.80" stroke="#222" stroke-width="1.0" fill="none"/>
<text x="190.70" y="652.50" font-size="10.3" text-anchor="start" font-weight="normal" fill="#111" stroke="#111" stroke-width="0.4" textLength="17.40" lengthAdjust="spacingAndGlyphs">0.40</text>
<rect x="218.20" y="613.40" width="45.50" height="45.60" stroke="#6a6a6a" stroke-width="1.0" fill="none"/>
<line x1="217.00" y1="651.40" x2="218.20" y2="651.40" stroke="#444" stroke-width="0.8"/>
<line x1="225.78" y1="659.00" x2="225.78" y2="660.20" stroke="#444" stroke-width="0.8"/>
<line x1="217.00" y1="643.80" x2="218.20" y2="643.80" stroke="#444" stroke-width="0.8"/>
<line x1="233.37" y1="659.00" x2="233.37" y2="660.20" stroke="#444" stroke-width="0.8"/>
<line x1="217.00" y1="636.20" x2="218.20" y2="636.20" stroke="#444" stroke-width="0.8"/>
<line x1="240.95" y1="659.00" x2="240.95" y2="660.20" stroke="#444" stroke-width="0.8"/>
<line x1="217.00" y1="628.60" x2="218.20" y2="628.60" stroke="#444" stroke-width="0.8"/>
<line x1="248.53" y1="659.00" x2="248.53" y2="660.20" stroke="#444" stroke-width="0.8"/>
<line x1="217.00" y1="621.00" x2="218.20" y2="621.00" stroke="#444" stroke-width="0.8"/>
<line x1="256.12" y1="659.00" x2="256.12" y2="660.20" stroke="#444" stroke-width="0.8"/>
<circle cx="225.20" cy="634.60" r="2.6" fill="#aaa" stroke="#333" stroke-width="1.2"/>
<circle cx="225.20" cy="634.30" r="0.8" fill="#ddd"/>
<rect x="257.70" y="630.20" width="5.50" height="8.50" stroke="#222" stroke-width="1.0" fill="none"/>
<text x="241.40" y="652.50" font-size="10.3" text-anchor="start" font-weight="normal" fill="#111" stroke="#111" stroke-width="0.4" textLength="17.40" lengthAdjust="spacingAndGlyphs">0.19</text>
<text x="2.00" y="586.80" font-size="9.2" text-anchor="start" font-weight="normal" fill="#111" stroke="#111" stroke-width="0.4" textLength="29.30" lengthAdjust="spacingAndGlyphs">WT-VV</text>
<text x="0.00" y="637.50" font-size="9.2" text-anchor="start" font-weight="normal" fill="#111" stroke="#111" stroke-width="0.4" textLength="36.30" lengthAdjust="spacingAndGlyphs">rVV-HBZ</text>
<text x="0.00" y="648.00" font-size="9.2" text-anchor="start" font-weight="normal" fill="#111" stroke="#111" stroke-width="0.4" textLength="25.00" lengthAdjust="spacingAndGlyphs">LL/AA</text>
<line x1="47.30" y1="670.40" x2="47.30" y2="643.32" stroke="#111" stroke-width="1.3"/>
<line x1="46.65" y1="670.40" x2="71.08" y2="670.40" stroke="#111" stroke-width="1.3"/>
<polygon points="44.10,643.80 50.50,643.80 47.30,638.20" fill="#111"/>
<polygon points="70.60,667.20 70.60,673.60 76.20,670.40" fill="#111"/>
<text transform="translate(51.00,625.30) rotate(-90)" x="0" y="0" font-size="9.2" text-anchor="middle" font-weight="normal" fill="#111" stroke="#111" stroke-width="0.4" textLength="17.30" lengthAdjust="spacingAndGlyphs">CD4</text>
<text x="79.50" y="674.50" font-size="9.2" text-anchor="start" font-weight="normal" fill="#111" stroke="#111" stroke-width="0.4" textLength="43.00" lengthAdjust="spacingAndGlyphs">Tracer dye</text>
<text x="407.00" y="484.80" font-size="9.2" text-anchor="start" font-weight="normal" fill="#111" stroke="#111" stroke-width="0.4" textLength="50.00" lengthAdjust="spacingAndGlyphs">Lymph node</text>
<line x1="363.80" y1="490.20" x2="493.80" y2="490.20" stroke="#111" stroke-width="1.3"/>
<rect x="302.00" y="542.50" width="36.00" height="69.50" stroke="#111" stroke-width="1.3" fill="none"/>
<line x1="302.00" y1="612.00" x2="304.20" y2="612.00" stroke="#111" stroke-width="1.0"/>
<text x="299.50" y="615.30" font-size="9.2" text-anchor="end" font-weight="normal" fill="#111" stroke="#111" stroke-width="0.4">0.0</text>
<line x1="302.00" y1="594.62" x2="304.20" y2="594.62" stroke="#111" stroke-width="1.0"/>
<text x="299.50" y="597.92" font-size="9.2" text-anchor="end" font-weight="normal" fill="#111" stroke="#111" stroke-width="0.4">0.4</text>
<line x1="302.00" y1="577.25" x2="304.20" y2="577.25" stroke="#111" stroke-width="1.0"/>
<text x="299.50" y="580.55" font-size="9.2" text-anchor="end" font-weight="normal" fill="#111" stroke="#111" stroke-width="0.4">0.8</text>
<line x1="302.00" y1="559.88" x2="304.20" y2="559.88" stroke="#111" stroke-width="1.0"/>
<text x="299.50" y="563.17" font-size="9.2" text-anchor="end" font-weight="normal" fill="#111" stroke="#111" stroke-width="0.4">1.2</text>
<line x1="302.00" y1="542.50" x2="304.20" y2="542.50" stroke="#111" stroke-width="1.0"/>
<text x="299.50" y="545.80" font-size="9.2" text-anchor="end" font-weight="normal" fill="#111" stroke="#111" stroke-width="0.4">1.6</text>
<rect x="307.50" y="568.56" width="7.50" height="43.44" fill="#000"/>
<rect x="325.50" y="580.29" width="7.5" height="31.71" fill="#b4b4b4" stroke="#333" stroke-width="0.8"/>
<line x1="311.25" y1="560.74" x2="311.25" y2="568.56" stroke="#000" stroke-width="1.0"/>
<line x1="309.65" y1="560.74" x2="312.85" y2="560.74" stroke="#000" stroke-width="1.0"/>
<line x1="309.65" y1="568.56" x2="312.85" y2="568.56" stroke="#000" stroke-width="1.0"/>
<line x1="329.25" y1="572.47" x2="329.25" y2="588.11" stroke="#222" stroke-width="1.0"/>
<line x1="327.65" y1="572.47" x2="330.85" y2="572.47" stroke="#222" stroke-width="1.0"/>
<line x1="327.65" y1="588.11" x2="330.85" y2="588.11" stroke="#222" stroke-width="1.0"/>
<line x1="311.00" y1="557.60" x2="329.50" y2="557.60" stroke="#111" stroke-width="1.3"/>
<text x="320.30" y="557.00" font-size="9" text-anchor="middle" font-weight="bold" fill="#111">*</text>
<text x="305.50" y="621.60" font-size="9.2" text-anchor="start" font-weight="normal" fill="#111" stroke="#111" stroke-width="0.4" textLength="33.70" lengthAdjust="spacingAndGlyphs">n=5 n=6</text>
<rect x="361.30" y="542.50" width="37.50" height="69.50" stroke="#111" stroke-width="1.3" fill="none"/>
<line x1="361.30" y1="612.00" x2="363.50" y2="612.00" stroke="#111" stroke-width="1.0"/>
<text x="358.80" y="615.30" font-size="9.2" text-anchor="end" font-weight="normal" fill="#111" stroke="#111" stroke-width="0.4">0.0</text>
<line x1="361.30" y1="594.62" x2="363.50" y2="594.62" stroke="#111" stroke-width="1.0"/>
<text x="358.80" y="597.92" font-size="9.2" text-anchor="end" font-weight="normal" fill="#111" stroke="#111" stroke-width="0.4">0.4</text>
<line x1="361.30" y1="577.25" x2="363.50" y2="577.25" stroke="#111" stroke-width="1.0"/>
<text x="358.80" y="580.55" font-size="9.2" text-anchor="end" font-weight="normal" fill="#111" stroke="#111" stroke-width="0.4">0.8</text>
<line x1="361.30" y1="559.88" x2="363.50" y2="559.88" stroke="#111" stroke-width="1.0"/>
<text x="358.80" y="563.17" font-size="9.2" text-anchor="end" font-weight="normal" fill="#111" stroke="#111" stroke-width="0.4">1.2</text>
<line x1="361.30" y1="542.50" x2="363.50" y2="542.50" stroke="#111" stroke-width="1.0"/>
<text x="358.80" y="545.80" font-size="9.2" text-anchor="end" font-weight="normal" fill="#111" stroke="#111" stroke-width="0.4">1.6</text>
<rect x="366.80" y="568.56" width="7.50" height="43.44" fill="#000"/>
<rect x="384.80" y="589.85" width="7.5" height="22.15" fill="#b4b4b4" stroke="#333" stroke-width="0.8"/>
<line x1="370.55" y1="560.74" x2="370.55" y2="568.56" stroke="#000" stroke-width="1.0"/>
<line x1="368.95" y1="560.74" x2="372.15" y2="560.74" stroke="#000" stroke-width="1.0"/>
<line x1="368.95" y1="568.56" x2="372.15" y2="568.56" stroke="#000" stroke-width="1.0"/>
<line x1="388.55" y1="578.99" x2="388.55" y2="600.71" stroke="#222" stroke-width="1.0"/>
<line x1="386.95" y1="578.99" x2="390.15" y2="578.99" stroke="#222" stroke-width="1.0"/>
<line x1="386.95" y1="600.71" x2="390.15" y2="600.71" stroke="#222" stroke-width="1.0"/>
<line x1="370.30" y1="557.60" x2="388.80" y2="557.60" stroke="#111" stroke-width="1.3"/>
<text x="379.60" y="557.00" font-size="9" text-anchor="middle" font-weight="bold" fill="#111">*</text>
<text x="364.80" y="621.60" font-size="9.2" text-anchor="start" font-weight="normal" fill="#111" stroke="#111" stroke-width="0.4" textLength="33.70" lengthAdjust="spacingAndGlyphs">n=4 n=3</text>
<rect x="420.50" y="542.50" width="36.50" height="69.50" stroke="#111" stroke-width="1.3" fill="none"/>
<line x1="420.50" y1="612.00" x2="422.70" y2="612.00" stroke="#111" stroke-width="1.0"/>
<text x="418.00" y="615.30" font-size="9.2" text-anchor="end" font-weight="normal" fill="#111" stroke="#111" stroke-width="0.4">0.0</text>
<line x1="420.50" y1="594.62" x2="422.70" y2="594.62" stroke="#111" stroke-width="1.0"/>
<text x="418.00" y="597.92" font-size="9.2" text-anchor="end" font-weight="normal" fill="#111" stroke="#111" stroke-width="0.4">0.4</text>
<line x1="420.50" y1="577.25" x2="422.70" y2="577.25" stroke="#111" stroke-width="1.0"/>
<text x="418.00" y="580.55" font-size="9.2" text-anchor="end" font-weight="normal" fill="#111" stroke="#111" stroke-width="0.4">0.8</text>
<line x1="420.50" y1="559.88" x2="422.70" y2="559.88" stroke="#111" stroke-width="1.0"/>
<text x="418.00" y="563.17" font-size="9.2" text-anchor="end" font-weight="normal" fill="#111" stroke="#111" stroke-width="0.4">1.2</text>
<line x1="420.50" y1="542.50" x2="422.70" y2="542.50" stroke="#111" stroke-width="1.0"/>
<text x="418.00" y="545.80" font-size="9.2" text-anchor="end" font-weight="normal" fill="#111" stroke="#111" stroke-width="0.4">1.6</text>
<rect x="426.00" y="568.56" width="7.50" height="43.44" fill="#000"/>
<rect x="444.00" y="578.12" width="7.5" height="33.88" fill="#b4b4b4" stroke="#333" stroke-width="0.8"/>
<line x1="429.75" y1="562.48" x2="429.75" y2="568.56" stroke="#000" stroke-width="1.0"/>
<line x1="428.15" y1="562.48" x2="431.35" y2="562.48" stroke="#000" stroke-width="1.0"/>
<line x1="428.15" y1="568.56" x2="431.35" y2="568.56" stroke="#000" stroke-width="1.0"/>
<line x1="447.75" y1="568.56" x2="447.75" y2="587.67" stroke="#222" stroke-width="1.0"/>
<line x1="446.15" y1="568.56" x2="449.35" y2="568.56" stroke="#222" stroke-width="1.0"/>
<line x1="446.15" y1="587.67" x2="449.35" y2="587.67" stroke="#222" stroke-width="1.0"/>
<text x="424.00" y="621.60" font-size="9.2" text-anchor="start" font-weight="normal" fill="#111" stroke="#111" stroke-width="0.4" textLength="33.70" lengthAdjust="spacingAndGlyphs">n=4 n=3</text>
<rect x="481.50" y="542.50" width="35.50" height="69.50" stroke="#111" stroke-width="1.3" fill="none"/>
<line x1="481.50" y1="612.00" x2="483.70" y2="612.00" stroke="#111" stroke-width="1.0"/>
<text x="479.00" y="615.30" font-size="9.2" text-anchor="end" font-weight="normal" fill="#111" stroke="#111" stroke-width="0.4">0.0</text>
<line x1="481.50" y1="594.62" x2="483.70" y2="594.62" stroke="#111" stroke-width="1.0"/>
<text x="479.00" y="597.92" font-size="9.2" text-anchor="end" font-weight="normal" fill="#111" stroke="#111" stroke-width="0.4">0.4</text>
<line x1="481.50" y1="577.25" x2="483.70" y2="577.25" stroke="#111" stroke-width="1.0"/>
<text x="479.00" y="580.55" font-size="9.2" text-anchor="end" font-weight="normal" fill="#111" stroke="#111" stroke-width="0.4">0.8</text>
<line x1="481.50" y1="559.88" x2="483.70" y2="559.88" stroke="#111" stroke-width="1.0"/>
<text x="479.00" y="563.17" font-size="9.2" text-anchor="end" font-weight="normal" fill="#111" stroke="#111" stroke-width="0.4">1.2</text>
<line x1="481.50" y1="542.50" x2="483.70" y2="542.50" stroke="#111" stroke-width="1.0"/>
<text x="479.00" y="545.80" font-size="9.2" text-anchor="end" font-weight="normal" fill="#111" stroke="#111" stroke-width="0.4">1.6</text>
<rect x="487.00" y="568.56" width="7.50" height="43.44" fill="#000"/>
<rect x="505.00" y="585.50" width="7.5" height="26.50" fill="#b4b4b4" stroke="#333" stroke-width="0.8"/>
<line x1="490.75" y1="564.22" x2="490.75" y2="568.56" stroke="#000" stroke-width="1.0"/>
<line x1="489.15" y1="564.22" x2="492.35" y2="564.22" stroke="#000" stroke-width="1.0"/>
<line x1="489.15" y1="568.56" x2="492.35" y2="568.56" stroke="#000" stroke-width="1.0"/>
<line x1="508.75" y1="577.68" x2="508.75" y2="593.32" stroke="#222" stroke-width="1.0"/>
<line x1="507.15" y1="577.68" x2="510.35" y2="577.68" stroke="#222" stroke-width="1.0"/>
<line x1="507.15" y1="593.32" x2="510.35" y2="593.32" stroke="#222" stroke-width="1.0"/>
<line x1="490.50" y1="557.60" x2="509.00" y2="557.60" stroke="#111" stroke-width="1.3"/>
<text x="499.80" y="557.00" font-size="9" text-anchor="middle" font-weight="bold" fill="#111">*</text>
<text x="486.20" y="621.60" font-size="9.2" text-anchor="start" font-weight="normal" fill="#111" stroke="#111" stroke-width="0.4" textLength="33.70" lengthAdjust="spacingAndGlyphs">n=5 n=4</text>
<text transform="translate(282.00,582.50) rotate(-90)" x="0" y="0" font-size="9.2" text-anchor="middle" font-weight="normal" fill="#111" stroke="#111" stroke-width="0.4" textLength="57.50" lengthAdjust="spacingAndGlyphs">Relative index</text>
<text transform="translate(308.50,511.80) rotate(45)" x="0" y="0" font-size="9.2" fill="#111" stroke="#111" stroke-width="0.4" textLength="29.00" lengthAdjust="spacingAndGlyphs">Spleen</text>
<text transform="translate(358.50,505.80) rotate(45)" x="0" y="0" font-size="9.2" fill="#111" stroke="#111" stroke-width="0.4" textLength="44.00" lengthAdjust="spacingAndGlyphs">Mesenteric</text>
<text transform="translate(416.50,499.30) rotate(45)" x="0" y="0" font-size="9.2" fill="#111" stroke="#111" stroke-width="0.4" textLength="19.00" lengthAdjust="spacingAndGlyphs">Sub-</text>
<text transform="translate(409.00,507.80) rotate(45)" x="0" y="0" font-size="9.2" fill="#111" stroke="#111" stroke-width="0.4" textLength="44.50" lengthAdjust="spacingAndGlyphs">mandibular</text>
<text transform="translate(478.80,509.80) rotate(45)" x="0" y="0" font-size="9.2" fill="#111" stroke="#111" stroke-width="0.4" textLength="31.50" lengthAdjust="spacingAndGlyphs">Inguinal</text>
<rect x="350.20" y="633.70" width="6.50" height="6.50" fill="#000"/>
<text x="358.30" y="640.30" font-size="9.2" text-anchor="start" font-weight="normal" fill="#111" stroke="#111" stroke-width="0.4" textLength="30.70" lengthAdjust="spacingAndGlyphs">WT-VV</text>
<rect x="398.3" y="634.1" width="5.6" height="5.6" fill="#b4b4b4" stroke="#222" stroke-width="0.9"/>
<text x="406.00" y="640.30" font-size="9.2" text-anchor="start" font-weight="normal" fill="#111" stroke="#111" stroke-width="0.4" textLength="64.60" lengthAdjust="spacingAndGlyphs">rVV-HBZ LL/AA</text>
</svg>
</body></html>
